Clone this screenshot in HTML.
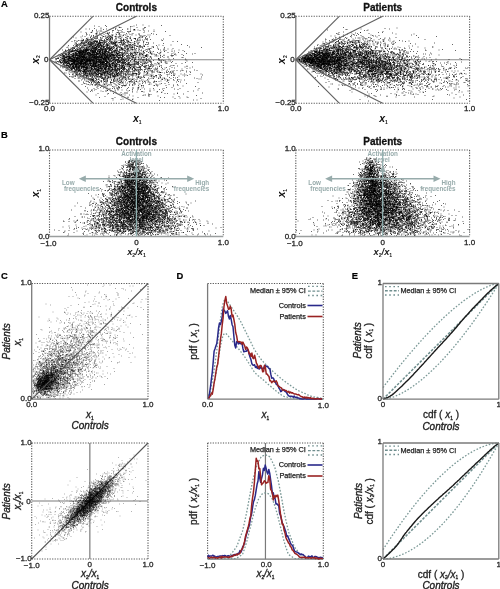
<!DOCTYPE html>
<html><head><meta charset="utf-8"><style>
html,body{margin:0;padding:0;background:#fff;}
svg{display:block;font-family:"Liberation Sans", sans-serif;}
body{-webkit-font-smoothing:antialiased;}
svg{will-change:transform;}
</style></head><body>
<svg width="500" height="589" viewBox="0 0 500 589">
<rect width="500" height="589" fill="#fff"/>
<line x1="136.4" y1="59.75" x2="223.3" y2="59.75" stroke="#8a8a8a" stroke-width="1.2"/>
<path d="M285 50h2m-99 2h2m107 0h2m-39 1h2m-24 2h2m-9 1h2m-32 2h2m82 0h2m-68 1h2m47 0h2m-36 1h2m33 0h2m15 0h2m-64 1h2m0 0h2m13 0h2m-51 1h2m3 0h2m37 0h2m16 1h2m1 0h2m0 0h2m-90 2h2m8 0h2m56 0h2m-49 1h2m63 0h2m-87 1h2m40 0h2m22 0h2m-41 1h2m75 0h2m28 0h2m-69 2h2m12 0h2m-10 1h2m92 0h2m-177 1h2m25 0h2m23 0h2m0 0h2m59 0h2m-26 1h2m35 0h2m-101 1h2m24 0h2m11 0h2m9 0h2m15 0h2m19 1h2m-67 1h2m12 0h2m5 0h2m0 0h2m1 0h2m8 0h2m4 0h2m-57 1h2m6 0h2m6 0h2m-1 0h2m32 0h2m11 0h2m-1 0h2m0 0h2m3 0h2m-114 1h2m50 0h2m-31 1h2m20 0h2m19 0h2m58 0h2m-125 1h2m3 0h2m68 0h2m3 0h2m27 0h2m17 0h2m-147 1h2m5 0h2m6 0h2m37 0h2m24 0h2m11 0h2m2 0h2m31 0h2m-104 1h2m1 0h2m-1 0h2m6 0h2m2 0h2m11 0h2m3 0h2m6 0h2m2 0h2m2 0h2m4 0h2m6 0h2m12 0h2m-2 0h2m30 0h2m-146 1h2m29 0h2m3 0h2m9 0h2m6 0h2m-2 0h2m13 0h2m139 0h2m-195 1h2m9 0h2m3 0h2m-2 0h2m9 0h2m2 0h2m0 0h2m11 0h2m-2 0h2m15 0h2m6 0h2m6 0h2m5 0h2m-87 1h2m8 0h2m6 0h2m3 0h2m8 0h2m2 0h2m2 0h2m4 0h2m15 0h2m2 0h2m5 0h2m-2 0h2m2 0h2m-2 0h2m17 0h2m15 0h2m-104 1h2m5 0h2m-1 0h2m2 0h2m9 0h2m25 0h2m-1 0h2m-1 0h2m4 0h2m10 0h2m7 0h2m-105 1h2m12 0h2m1 0h2m11 0h2m30 0h2m13 0h2m18 0h2m18 0h2m-1 0h2m4 0h2m-114 1h2m17 0h2m0 0h2m-1 0h2m1 0h2m6 0h2m-2 0h2m1 0h2m-1 0h2m22 0h2m4 0h2m42 0h2m10 0h2m-130 1h2m15 0h2m0 0h2m-1 0h2m13 0h2m11 0h2m31 0h2m0 0h2m6 0h2m6 0h2m-106 1h2m13 0h2m11 0h2m8 0h2m6 0h2m5 0h2m6 0h2m3 0h2m9 0h2m1 0h2m-1 0h2m28 0h2m2 0h2m47 0h2m22 0h2m-207 1h2m8 0h2m4 0h2m7 0h2m5 0h2m11 0h2m-1 0h2m5 0h2m6 0h2m-1 0h2m4 0h2m9 0h2m15 0h2m25 0h2m8 0h2m7 0h2m0 0h2m92 0h2m-198 1h2m1 0h2m23 0h2m4 0h2m16 0h2m18 0h2m3 0h2m18 0h2m-125 1h2m-1 0h2m23 0h2m13 0h2m3 0h2m14 0h2m37 0h2m4 0h2m24 0h2m-123 1h2m18 0h2m-1 0h2m1 0h2m12 0h2m21 0h2m37 0h2m112 0h2m-247 1h2m9 0h2m-1 0h2m18 0h2m23 0h2m3 0h2m10 0h2m3 0h2m-1 0h2m13 0h2m4 0h2m3 0h2m23 0h2m-107 1h2m16 0h2m7 0h2m13 0h2m15 0h2m6 0h2m-80 1h2m-2 0h2m29 0h2m6 0h2m0 0h2m1 0h2m17 0h2m10 0h2m7 0h2m10 0h2m9 0h2m20 0h2m-119 1h2m20 0h2m9 0h2m18 0h2m28 0h2m1 0h2m0 0h2m1 0h2m-114 1h2m9 0h2m3 0h2m13 0h2m0 0h2m0 0h2m-1 0h2m1 0h2m7 0h2m2 0h2m-1 0h2m4 0h2m10 0h2m3 0h2m1 0h2m4 0h2m-2 0h2m16 0h2m18 0h2m5 0h2m7 0h2m-143 1h2m5 0h2m0 0h2m21 0h2m-2 0h2m-1 0h2m29 0h2m1 0h2m11 0h2m4 0h2m9 0h2m84 0h2m21 0h2m-211 1h2m12 0h2m1 0h2m0 0h2m2 0h2m0 0h2m12 0h2m4 0h2m-1 0h2m1 0h2m2 0h2m2 0h2m3 0h2m29 0h2m-1 0h2m0 0h2m2 0h2m53 0h2m74 0h2m-222 1h2m29 0h2m6 0h2m3 0h2m3 0h2m1 0h2m0 0h2m-1 0h2m3 0h2m5 0h2m14 0h2m20 0h2m96 0h2m-223 1h2m2 0h2m9 0h2m-2 0h2m13 0h2m0 0h2m2 0h2m-2 0h2m-2 0h2m-2 0h2m1 0h2m0 0h2m2 0h2m16 0h2m3 0h2m0 0h2m13 0h2m14 0h2m5 0h2m69 0h2m20 0h2m-187 1h2m1 0h2m7 0h2m-1 0h2m1 0h2m-1 0h2m3 0h2m3 0h2m10 0h2m-1 0h2m1 0h2m6 0h2m-1 0h2m11 0h2m7 0h2m13 0h2m34 0h2m16 0h2m12 0h2m-165 1h2m11 0h2m-1 0h2m8 0h2m-1 0h2m3 0h2m1 0h2m0 0h2m2 0h2m-1 0h2m5 0h2m1 0h2m2 0h2m5 0h2m-2 0h2m-2 0h2m-1 0h2m3 0h2m-1 0h2m3 0h2m6 0h2m28 0h2m10 0h2m-105 1h2m-1 0h2m-1 0h2m-2 0h2m1 0h2m7 0h2m4 0h2m11 0h2m0 0h2m5 0h2m8 0h2m3 0h2m0 0h2m0 0h2m0 0h2m9 0h2m14 0h2m5 0h2m-134 1h2m2 0h2m10 0h2m6 0h2m1 0h2m0 0h2m5 0h2m-2 0h2m3 0h2m-2 0h2m14 0h2m-1 0h2m-2 0h2m10 0h2m-2 0h2m5 0h2m4 0h2m4 0h2m0 0h2m5 0h2m12 0h2m-2 0h2m0 0h2m5 0h2m8 0h2m30 0h2m56 0h2m44 0h2m-241 1h2m18 0h2m0 0h2m6 0h2m12 0h2m-1 0h2m-1 0h2m10 0h2m12 0h2m-1 0h2m18 0h2m25 0h2m6 0h2m23 0h2m-2 0h2m14 0h2m29 0h2m-227 1h2m4 0h2m10 0h2m6 0h2m2 0h2m4 0h2m1 0h2m3 0h2m4 0h2m-1 0h2m4 0h2m-2 0h2m-1 0h2m1 0h2m5 0h2m6 0h2m1 0h2m2 0h2m7 0h2m0 0h2m1 0h2m0 0h2m4 0h2m12 0h2m14 0h2m10 0h2m35 0h2m37 0h2m-230 1h2m9 0h2m-1 0h2m14 0h2m6 0h2m2 0h2m5 0h2m-1 0h2m5 0h2m1 0h2m0 0h2m43 0h2m0 0h2m4 0h2m57 0h2m48 0h2m-207 1h2m5 0h2m-1 0h2m6 0h2m22 0h2m0 0h2m-2 0h2m6 0h2m8 0h2m0 0h2m1 0h2m0 0h2m4 0h2m8 0h2m-1 0h2m1 0h2m-1 0h2m1 0h2m8 0h2m0 0h2m23 0h2m-1 0h2m24 0h2m17 0h2m53 0h2m-253 1h2m9 0h2m18 0h2m4 0h2m-1 0h2m4 0h2m1 0h2m1 0h2m1 0h2m9 0h2m9 0h2m6 0h2m-1 0h2m-2 0h2m2 0h2m9 0h2m3 0h2m23 0h2m98 0h2m-213 1h2m2 0h2m-1 0h2m2 0h2m0 0h2m4 0h2m6 0h2m-2 0h2m2 0h2m-1 0h2m8 0h2m-1 0h2m2 0h2m-1 0h2m7 0h2m4 0h2m0 0h2m-1 0h2m8 0h2m-1 0h2m2 0h2m20 0h2m8 0h2m9 0h2m-130 1h2m4 0h2m7 0h2m0 0h2m-1 0h2m7 0h2m-1 0h2m-1 0h2m6 0h2m1 0h2m-1 0h2m7 0h2m18 0h2m1 0h2m0 0h2m1 0h2m1 0h2m2 0h2m-1 0h2m-1 0h2m3 0h2m3 0h2m-2 0h2m-2 0h2m6 0h2m5 0h2m58 0h2m-181 1h2m8 0h2m0 0h2m-2 0h2m4 0h2m-1 0h2m5 0h2m-1 0h2m12 0h2m4 0h2m3 0h2m13 0h2m-1 0h2m1 0h2m2 0h2m4 0h2m6 0h2m1 0h2m0 0h2m25 0h2m0 0h2m10 0h2m13 0h2m55 0h2m34 0h2m0 0h2m-252 1h2m16 0h2m0 0h2m8 0h2m3 0h2m1 0h2m-1 0h2m-1 0h2m3 0h2m4 0h2m-1 0h2m3 0h2m4 0h2m2 0h2m-1 0h2m-1 0h2m-1 0h2m1 0h2m4 0h2m7 0h2m-2 0h2m0 0h2m-1 0h2m1 0h2m14 0h2m0 0h2m-2 0h2m25 0h2m11 0h2m-142 1h2m0 0h2m4 0h2m0 0h2m2 0h2m-1 0h2m-1 0h2m7 0h2m-1 0h2m0 0h2m0 0h2m-2 0h2m-1 0h2m1 0h2m0 0h2m12 0h2m8 0h2m3 0h2m4 0h2m1 0h2m1 0h2m3 0h2m0 0h2m0 0h2m1 0h2m4 0h2m20 0h2m31 0h2m23 0h2m12 0h2m-206 1h2m13 0h2m17 0h2m-1 0h2m3 0h2m2 0h2m2 0h2m-1 0h2m3 0h2m-1 0h2m1 0h2m0 0h2m-1 0h2m5 0h2m0 0h2m2 0h2m13 0h2m12 0h2m0 0h2m9 0h2m11 0h2m3 0h2m-1 0h2m2 0h2m-1 0h2m3 0h2m5 0h2m21 0h2m48 0h2m-219 1h2m6 0h2m-1 0h2m6 0h2m3 0h2m1 0h2m0 0h2m0 0h2m4 0h2m7 0h2m-1 0h2m2 0h2m4 0h2m14 0h2m2 0h2m1 0h2m1 0h2m3 0h2m5 0h2m14 0h2m1 0h2m-2 0h2m0 0h2m-1 0h2m-1 0h2m5 0h2m5 0h2m12 0h2m26 0h2m-176 1h2m3 0h2m9 0h2m8 0h2m0 0h2m7 0h2m0 0h2m1 0h2m12 0h2m-2 0h2m-1 0h2m-2 0h2m0 0h2m5 0h2m0 0h2m7 0h2m-1 0h2m0 0h2m0 0h2m0 0h2m4 0h2m-1 0h2m-1 0h2m4 0h2m5 0h2m15 0h2m26 0h2m1 0h2m98 0h2m-255 1h2m18 0h2m5 0h2m-1 0h2m0 0h2m0 0h2m-1 0h2m-1 0h2m1 0h2m6 0h2m4 0h2m2 0h2m1 0h2m-1 0h2m-1 0h2m-1 0h2m10 0h2m2 0h2m1 0h2m6 0h2m3 0h2m6 0h2m6 0h2m1 0h2m0 0h2m-2 0h2m4 0h2m1 0h2m5 0h2m5 0h2m-1 0h2m34 0h2m25 0h2m5 0h2m1 0h2m-210 1h2m15 0h2m2 0h2m5 0h2m-1 0h2m1 0h2m-1 0h2m4 0h2m2 0h2m-2 0h2m1 0h2m3 0h2m2 0h2m0 0h2m-1 0h2m5 0h2m-2 0h2m1 0h2m9 0h2m2 0h2m16 0h2m11 0h2m0 0h2m2 0h2m8 0h2m0 0h2m12 0h2m8 0h2m12 0h2m5 0h2m-2 0h2m22 0h2m49 0h2m-261 1h2m1 0h2m5 0h2m6 0h2m1 0h2m5 0h2m-2 0h2m0 0h2m-2 0h2m8 0h2m8 0h2m3 0h2m2 0h2m4 0h2m3 0h2m6 0h2m5 0h2m2 0h2m5 0h2m10 0h2m5 0h2m6 0h2m-1 0h2m31 0h2m3 0h2m5 0h2m-169 1h2m9 0h2m8 0h2m0 0h2m4 0h2m-1 0h2m-1 0h2m-2 0h2m7 0h2m-2 0h2m-1 0h2m0 0h2m9 0h2m6 0h2m1 0h2m5 0h2m2 0h2m6 0h2m-1 0h2m1 0h2m24 0h2m-2 0h2m15 0h2m6 0h2m2 0h2m9 0h2m15 0h2m1 0h2m38 0h2m-212 1h2m6 0h2m17 0h2m-2 0h2m2 0h2m2 0h2m0 0h2m-1 0h2m-1 0h2m1 0h2m4 0h2m-2 0h2m0 0h2m0 0h2m9 0h2m1 0h2m7 0h2m0 0h2m-1 0h2m2 0h2m0 0h2m2 0h2m5 0h2m19 0h2m-1 0h2m0 0h2m2 0h2m5 0h2m6 0h2m14 0h2m15 0h2m2 0h2m-165 1h2m0 0h2m-2 0h2m-1 0h2m6 0h2m2 0h2m13 0h2m15 0h2m0 0h2m2 0h2m3 0h2m0 0h2m-1 0h2m5 0h2m5 0h2m4 0h2m12 0h2m0 0h2m-1 0h2m7 0h2m2 0h2m1 0h2m7 0h2m12 0h2m-145 1h2m7 0h2m-2 0h2m-1 0h2m8 0h2m4 0h2m0 0h2m2 0h2m1 0h2m-2 0h2m-1 0h2m-2 0h2m5 0h2m-2 0h2m1 0h2m4 0h2m2 0h2m2 0h2m2 0h2m0 0h2m6 0h2m1 0h2m-2 0h2m5 0h2m5 0h2m-1 0h2m6 0h2m17 0h2m8 0h2m52 0h2m5 0h2m45 0h2m-225 1h2m2 0h2m12 0h2m-1 0h2m-1 0h2m3 0h2m2 0h2m-1 0h2m-2 0h2m1 0h2m5 0h2m4 0h2m-2 0h2m-2 0h2m0 0h2m10 0h2m-2 0h2m-1 0h2m0 0h2m0 0h2m-1 0h2m2 0h2m-2 0h2m1 0h2m6 0h2m1 0h2m6 0h2m22 0h2m0 0h2m-1 0h2m10 0h2m0 0h2m1 0h2m11 0h2m22 0h2m3 0h2m-194 1h2m11 0h2m-1 0h2m0 0h2m6 0h2m-1 0h2m-2 0h2m-1 0h2m2 0h2m9 0h2m3 0h2m1 0h2m24 0h2m0 0h2m-1 0h2m-1 0h2m10 0h2m10 0h2m23 0h2m6 0h2m11 0h2m26 0h2m-168 1h2m6 0h2m1 0h2m2 0h2m1 0h2m2 0h2m5 0h2m2 0h2m0 0h2m2 0h2m1 0h2m0 0h2m0 0h2m15 0h2m4 0h2m1 0h2m13 0h2m7 0h2m-1 0h2m1 0h2m17 0h2m3 0h2m4 0h2m14 0h2m26 0h2m-184 1h2m5 0h2m2 0h2m4 0h2m10 0h2m0 0h2m13 0h2m3 0h2m-2 0h2m3 0h2m3 0h2m1 0h2m1 0h2m14 0h2m0 0h2m3 0h2m3 0h2m-2 0h2m5 0h2m44 0h2m4 0h2m36 0h2m-192 1h2m8 0h2m6 0h2m-1 0h2m-1 0h2m13 0h2m16 0h2m5 0h2m4 0h2m-2 0h2m10 0h2m-2 0h2m8 0h2m-2 0h2m17 0h2m-2 0h2m3 0h2m6 0h2m1 0h2m8 0h2m24 0h2m13 0h2m-179 1h2m20 0h2m5 0h2m2 0h2m5 0h2m-2 0h2m1 0h2m13 0h2m-1 0h2m1 0h2m-2 0h2m12 0h2m7 0h2m-1 0h2m1 0h2m1 0h2m-1 0h2m7 0h2m-1 0h2m-1 0h2m9 0h2m0 0h2m31 0h2m8 0h2m10 0h2m-157 1h2m-1 0h2m6 0h2m1 0h2m8 0h2m4 0h2m7 0h2m4 0h2m-2 0h2m3 0h2m8 0h2m7 0h2m1 0h2m3 0h2m6 0h2m2 0h2m14 0h2m8 0h2m6 0h2m-2 0h2m21 0h2m7 0h2m4 0h2m8 0h2m-177 1h2m21 0h2m58 0h2m-1 0h2m-2 0h2m23 0h2m27 0h2m0 0h2m7 0h2m-148 1h2m1 0h2m-1 0h2m17 0h2m7 0h2m2 0h2m20 0h2m-2 0h2m6 0h2m-1 0h2m-1 0h2m6 0h2m5 0h2m4 0h2m14 0h2m10 0h2m-2 0h2m-1 0h2m28 0h2m37 0h2m-187 1h2m26 0h2m-1 0h2m6 0h2m-1 0h2m-2 0h2m7 0h2m7 0h2m-1 0h2m4 0h2m-1 0h2m5 0h2m17 0h2m6 0h2m4 0h2m0 0h2m50 0h2m10 0h2m-174 1h2m-2 0h2m8 0h2m0 0h2m2 0h2m6 0h2m6 0h2m0 0h2m11 0h2m2 0h2m8 0h2m5 0h2m12 0h2m-1 0h2m2 0h2m3 0h2m-1 0h2m19 0h2m11 0h2m9 0h2m28 0h2m0 0h2m24 0h2m23 0h2m-228 1h2m18 0h2m12 0h2m6 0h2m6 0h2m2 0h2m2 0h2m5 0h2m9 0h2m10 0h2m11 0h2m4 0h2m11 0h2m11 0h2m1 0h2m14 0h2m22 0h2m-183 1h2m0 0h2m21 0h2m-1 0h2m8 0h2m3 0h2m19 0h2m-1 0h2m-1 0h2m-1 0h2m7 0h2m15 0h2m2 0h2m2 0h2m5 0h2m148 0h2m-238 1h2m2 0h2m0 0h2m2 0h2m29 0h2m-1 0h2m-1 0h2m5 0h2m1 0h2m27 0h2m129 0h2m-220 1h2m0 0h2m8 0h2m8 0h2m-2 0h2m6 0h2m1 0h2m2 0h2m0 0h2m4 0h2m2 0h2m3 0h2m10 0h2m15 0h2m0 0h2m4 0h2m35 0h2m37 0h2m27 0h2m-190 1h2m2 0h2m-1 0h2m6 0h2m-1 0h2m2 0h2m0 0h2m-1 0h2m23 0h2m10 0h2m-1 0h2m5 0h2m3 0h2m21 0h2m-2 0h2m2 0h2m12 0h2m19 0h2m23 0h2m25 0h2m3 0h2m-188 1h2m5 0h2m0 0h2m35 0h2m5 0h2m1 0h2m15 0h2m11 0h2m13 0h2m2 0h2m-1 0h2m78 0h2m-166 1h2m0 0h2m2 0h2m21 0h2m6 0h2m25 0h2m29 0h2m1 0h2m8 0h2m24 0h2m2 0h2m-1 0h2m11 0h2m-169 1h2m4 0h2m4 0h2m21 0h2m4 0h2m42 0h2m3 0h2m20 0h2m48 0h2m-160 1h2m2 0h2m9 0h2m11 0h2m-2 0h2m6 0h2m9 0h2m0 0h2m13 0h2m6 0h2m26 0h2m21 0h2m47 0h2m-193 1h2m21 0h2m16 0h2m0 0h2m4 0h2m19 0h2m10 0h2m11 0h2m49 0h2m39 0h2m9 0h2m10 0h2m5 0h2m31 0h2m-265 1h2m14 0h2m22 0h2m5 0h2m16 0h2m-1 0h2m5 0h2m4 0h2m1 0h2m6 0h2m2 0h2m4 0h2m51 0h2m0 0h2m25 0h2m-172 1h2m30 0h2m22 0h2m24 0h2m1 0h2m-83 1h2m1 0h2m16 0h2m19 0h2m27 0h2m7 0h2m-1 0h2m14 0h2m89 0h2m-170 1h2m4 0h2m20 0h2m-2 0h2m25 0h2m0 0h2m0 0h2m10 0h2m121 0h2m-210 1h2m4 0h2m16 0h2m12 0h2m17 0h2m6 0h2m6 0h2m20 0h2m18 0h2m-1 0h2m-120 1h2m6 0h2m8 0h2m5 0h2m4 0h2m10 0h2m5 0h2m29 0h2m39 0h2m120 0h2m-215 1h2m2 0h2m5 0h2m7 0h2m5 0h2m1 0h2m26 0h2m6 0h2m19 0h2m-2 0h2m5 0h2m69 0h2m-191 1h2m44 0h2m3 0h2m28 0h2m30 0h2m39 0h2m7 0h2m20 0h2m-171 1h2m8 0h2m21 0h2m22 0h2m27 0h2m32 0h2m13 0h2m75 0h2m-231 1h2m2 0h2m1 0h2m3 0h2m28 0h2m36 0h2m5 0h2m-2 0h2m0 0h2m76 0h2m68 0h2m-177 1h2m29 0h2m95 0h2m-188 1h2m7 0h2m4 0h2m7 0h2m4 0h2m6 0h2m-1 0h2m2 0h2m1 0h2m25 0h2m4 0h2m33 0h2m1 0h2m81 0h2m-137 1h2m4 0h2m113 0h2m-156 1h2m8 0h2m15 0h2m13 0h2m16 0h2m6 0h2m19 0h2m5 0h2m23 0h2m-150 1h2m11 0h2m20 0h2m-2 0h2m48 0h2m0 0h2m1 0h2m7 0h2m10 0h2m26 0h2m-103 1h2m7 0h2m42 0h2m86 0h2m-176 1h2m17 0h2m-1 0h2m22 0h2m-1 0h2m19 0h2m90 0h2m-152 1h2m4 0h2m19 0h2m28 0h2m9 0h2m-85 1h2m54 0h2m55 0h2m-65 1h2m13 0h2m73 0h2m-150 1h2m24 0h2m17 0h2m7 0h2m12 0h2m-49 1h2m4 0h2m66 0h2m52 0h2m-1 0h2m0 0h2m-67 1h2m12 0h2m89 0h2m-113 1h2m-76 1h2m23 0h2m5 0h2m20 0h2m10 0h2m-11 1h2m9 1h2m35 0h2m-103 1h2m30 0h2m24 0h2m30 0h2m-79 1h2m6 0h2m27 0h2m2 0h2m45 0h2m29 0h2m-94 4h2m-15 1h2m7 0h2m0 0h2m6 0h2m76 0h2m0 0h2m84 0h2m-183 1h2m107 0h2m-43 1h2m-27 2h2m0 0h2m-7 2h2m-5 1h2m52 1h2m94 1h2m-129 1h2m-69 3h2m55 0h2m18 0h2m-54 2h2m124 0h2m-33 4h2" stroke="#000" stroke-opacity="0.6" stroke-width="2" transform="scale(.5)"/>
<path d="M272 50h2m-64 1h2m110 0h2m-87 3h2m0 1h2m-53 2h2m-19 1h2m33 1h2m59 0h2m-77 1h2m66 0h2m5 0h2m38 0h2m-125 1h2m110 1h2m9 1h2m-126 1h2m9 0h2m60 0h2m-76 1h2m34 0h2m14 0h2m-21 1h2m-6 1h2m4 0h2m83 0h2m-113 1h2m-1 0h2m69 0h2m13 0h2m-73 1h2m7 0h2m41 0h2m51 0h2m-136 1h2m44 0h2m12 0h2m1 0h2m56 0h2m-106 1h2m-15 1h2m47 0h2m-64 1h2m38 0h2m4 0h2m12 0h2m53 0h2m-140 1h2m87 0h2m-37 1h2m11 0h2m7 0h2m53 0h2m11 0h2m-150 1h2m46 0h2m9 0h2m7 0h2m0 0h2m-42 1h2m20 0h2m20 0h2m6 0h2m34 0h2m-71 1h2m7 0h2m18 0h2m-1 0h2m9 0h2m-59 1h2m6 0h2m16 0h2m46 0h2m0 0h2m17 0h2m2 0h2m16 0h2m6 0h2m-120 1h2m-1 0h2m17 0h2m10 0h2m25 0h2m18 0h2m16 0h2m-122 1h2m10 0h2m1 0h2m22 0h2m4 0h2m2 0h2m7 0h2m0 0h2m16 0h2m13 0h2m70 0h2m-162 1h2m5 0h2m16 0h2m-1 0h2m-3 1h2m1 0h2m-1 0h2m53 0h2m-88 1h2m0 0h2m17 0h2m-1 0h2m21 0h2m19 0h2m0 0h2m1 0h2m18 0h2m-84 1h2m3 0h2m4 0h2m8 0h2m4 0h2m1 0h2m2 0h2m15 0h2m26 0h2m7 0h2m31 0h2m1 0h2m-122 1h2m16 0h2m13 0h2m13 0h2m12 0h2m10 0h2m55 0h2m-149 1h2m1 0h2m21 0h2m4 0h2m2 0h2m1 0h2m18 0h2m6 0h2m-67 1h2m5 0h2m10 0h2m-2 0h2m-1 0h2m0 0h2m5 0h2m9 0h2m3 0h2m5 0h2m0 0h2m0 0h2m3 0h2m3 0h2m-1 0h2m14 0h2m50 0h2m-149 1h2m45 0h2m5 0h2m2 0h2m3 0h2m11 0h2m3 0h2m15 0h2m16 0h2m24 0h2m1 0h2m-126 1h2m0 0h2m2 0h2m23 0h2m4 0h2m42 0h2m-102 1h2m7 0h2m28 0h2m1 0h2m0 0h2m3 0h2m-1 0h2m11 0h2m14 0h2m12 0h2m7 0h2m-1 0h2m31 0h2m23 0h2m11 0h2m-169 1h2m12 0h2m12 0h2m0 0h2m1 0h2m10 0h2m8 0h2m18 0h2m18 0h2m2 0h2m1 0h2m25 0h2m-126 1h2m12 0h2m15 0h2m6 0h2m0 0h2m1 0h2m0 0h2m24 0h2m51 0h2m5 0h2m-139 1h2m8 0h2m11 0h2m4 0h2m0 0h2m1 0h2m1 0h2m0 0h2m-1 0h2m18 0h2m1 0h2m-1 0h2m3 0h2m25 0h2m23 0h2m-1 0h2m-1 0h2m0 0h2m21 0h2m6 0h2m-149 1h2m3 0h2m16 0h2m0 0h2m12 0h2m98 0h2m20 0h2m-189 1h2m3 0h2m-2 0h2m31 0h2m4 0h2m0 0h2m15 0h2m11 0h2m4 0h2m8 0h2m7 0h2m-2 0h2m4 0h2m11 0h2m-105 1h2m0 0h2m3 0h2m17 0h2m0 0h2m1 0h2m-1 0h2m0 0h2m7 0h2m-2 0h2m2 0h2m3 0h2m1 0h2m5 0h2m-1 0h2m-1 0h2m18 0h2m41 0h2m14 0h2m42 0h2m-194 1h2m8 0h2m8 0h2m-1 0h2m-1 0h2m-1 0h2m5 0h2m3 0h2m5 0h2m3 0h2m-2 0h2m0 0h2m7 0h2m2 0h2m1 0h2m11 0h2m-1 0h2m0 0h2m9 0h2m-88 1h2m5 0h2m3 0h2m4 0h2m3 0h2m5 0h2m0 0h2m4 0h2m-1 0h2m7 0h2m3 0h2m7 0h2m21 0h2m19 0h2m24 0h2m0 0h2m2 0h2m-160 1h2m12 0h2m15 0h2m-1 0h2m-2 0h2m1 0h2m1 0h2m2 0h2m23 0h2m23 0h2m20 0h2m0 0h2m2 0h2m3 0h2m1 0h2m13 0h2m73 0h2m-229 1h2m7 0h2m17 0h2m0 0h2m0 0h2m6 0h2m-1 0h2m-1 0h2m10 0h2m-1 0h2m-1 0h2m1 0h2m0 0h2m4 0h2m33 0h2m7 0h2m5 0h2m-112 1h2m3 0h2m3 0h2m13 0h2m3 0h2m0 0h2m15 0h2m0 0h2m3 0h2m3 0h2m-1 0h2m-2 0h2m5 0h2m0 0h2m0 0h2m-1 0h2m18 0h2m10 0h2m4 0h2m46 0h2m0 0h2m26 0h2m-179 1h2m0 0h2m-2 0h2m0 0h2m0 0h2m-1 0h2m6 0h2m-2 0h2m4 0h2m6 0h2m2 0h2m2 0h2m10 0h2m2 0h2m5 0h2m-2 0h2m1 0h2m9 0h2m2 0h2m5 0h2m16 0h2m30 0h2m4 0h2m74 0h2m-230 1h2m13 0h2m2 0h2m-2 0h2m-1 0h2m-1 0h2m3 0h2m-2 0h2m13 0h2m0 0h2m0 0h2m3 0h2m24 0h2m65 0h2m-149 1h2m3 0h2m8 0h2m3 0h2m0 0h2m2 0h2m1 0h2m-1 0h2m8 0h2m8 0h2m-1 0h2m0 0h2m6 0h2m-2 0h2m11 0h2m4 0h2m21 0h2m10 0h2m15 0h2m3 0h2m39 0h2m4 0h2m34 0h2m-224 1h2m33 0h2m12 0h2m2 0h2m-1 0h2m3 0h2m6 0h2m2 0h2m4 0h2m0 0h2m13 0h2m8 0h2m9 0h2m18 0h2m-1 0h2m1 0h2m44 0h2m-170 1h2m-2 0h2m1 0h2m1 0h2m3 0h2m3 0h2m5 0h2m-1 0h2m6 0h2m9 0h2m0 0h2m1 0h2m7 0h2m37 0h2m13 0h2m3 0h2m10 0h2m1 0h2m33 0h2m-182 1h2m2 0h2m1 0h2m-1 0h2m3 0h2m0 0h2m11 0h2m3 0h2m12 0h2m0 0h2m-1 0h2m3 0h2m10 0h2m0 0h2m0 0h2m-2 0h2m35 0h2m-2 0h2m0 0h2m1 0h2m8 0h2m17 0h2m0 0h2m-166 1h2m14 0h2m11 0h2m5 0h2m-2 0h2m3 0h2m3 0h2m-2 0h2m-1 0h2m1 0h2m9 0h2m0 0h2m2 0h2m-2 0h2m3 0h2m-1 0h2m-1 0h2m-1 0h2m5 0h2m-1 0h2m6 0h2m0 0h2m2 0h2m1 0h2m6 0h2m6 0h2m21 0h2m23 0h2m80 0h2m-242 1h2m16 0h2m-1 0h2m6 0h2m0 0h2m0 0h2m4 0h2m-1 0h2m2 0h2m24 0h2m-2 0h2m4 0h2m6 0h2m-1 0h2m-1 0h2m3 0h2m11 0h2m-2 0h2m8 0h2m-2 0h2m5 0h2m5 0h2m9 0h2m7 0h2m2 0h2m9 0h2m6 0h2m33 0h2m-202 1h2m8 0h2m6 0h2m-1 0h2m5 0h2m-1 0h2m2 0h2m-1 0h2m4 0h2m16 0h2m1 0h2m22 0h2m-2 0h2m1 0h2m-1 0h2m3 0h2m0 0h2m12 0h2m8 0h2m6 0h2m11 0h2m-1 0h2m58 0h2m12 0h2m2 0h2m-229 1h2m5 0h2m1 0h2m13 0h2m2 0h2m1 0h2m5 0h2m-1 0h2m1 0h2m-1 0h2m-1 0h2m1 0h2m-1 0h2m16 0h2m0 0h2m-1 0h2m2 0h2m-1 0h2m3 0h2m0 0h2m7 0h2m0 0h2m-1 0h2m6 0h2m41 0h2m1 0h2m52 0h2m-197 1h2m1 0h2m3 0h2m1 0h2m1 0h2m17 0h2m0 0h2m0 0h2m1 0h2m16 0h2m0 0h2m0 0h2m3 0h2m3 0h2m-1 0h2m3 0h2m0 0h2m5 0h2m-2 0h2m6 0h2m-2 0h2m4 0h2m5 0h2m24 0h2m31 0h2m-2 0h2m-155 1h2m-1 0h2m-1 0h2m13 0h2m7 0h2m1 0h2m1 0h2m4 0h2m2 0h2m-1 0h2m0 0h2m-2 0h2m16 0h2m-2 0h2m0 0h2m21 0h2m10 0h2m-1 0h2m30 0h2m1 0h2m17 0h2m-170 1h2m1 0h2m4 0h2m4 0h2m3 0h2m2 0h2m2 0h2m-1 0h2m4 0h2m1 0h2m-2 0h2m-1 0h2m-2 0h2m0 0h2m-1 0h2m2 0h2m5 0h2m-2 0h2m7 0h2m2 0h2m4 0h2m-1 0h2m-1 0h2m6 0h2m-1 0h2m1 0h2m-1 0h2m19 0h2m-1 0h2m11 0h2m16 0h2m8 0h2m8 0h2m13 0h2m32 0h2m-222 1h2m21 0h2m7 0h2m4 0h2m6 0h2m8 0h2m1 0h2m5 0h2m-2 0h2m5 0h2m-2 0h2m1 0h2m1 0h2m0 0h2m2 0h2m5 0h2m-1 0h2m0 0h2m7 0h2m-2 0h2m17 0h2m13 0h2m3 0h2m3 0h2m-154 1h2m1 0h2m12 0h2m10 0h2m10 0h2m0 0h2m14 0h2m2 0h2m0 0h2m3 0h2m13 0h2m8 0h2m0 0h2m6 0h2m3 0h2m-1 0h2m-1 0h2m11 0h2m5 0h2m4 0h2m95 0h2m-227 1h2m2 0h2m7 0h2m-1 0h2m5 0h2m5 0h2m0 0h2m0 0h2m0 0h2m2 0h2m1 0h2m16 0h2m24 0h2m1 0h2m16 0h2m8 0h2m10 0h2m30 0h2m34 0h2m-191 1h2m3 0h2m10 0h2m1 0h2m9 0h2m3 0h2m-1 0h2m-1 0h2m-1 0h2m-1 0h2m-1 0h2m1 0h2m3 0h2m5 0h2m8 0h2m3 0h2m-1 0h2m4 0h2m-1 0h2m1 0h2m5 0h2m14 0h2m11 0h2m-2 0h2m8 0h2m12 0h2m15 0h2m-167 1h2m1 0h2m0 0h2m0 0h2m4 0h2m6 0h2m7 0h2m1 0h2m1 0h2m-2 0h2m0 0h2m1 0h2m4 0h2m3 0h2m0 0h2m0 0h2m3 0h2m-2 0h2m-1 0h2m0 0h2m0 0h2m6 0h2m0 0h2m16 0h2m24 0h2m-1 0h2m2 0h2m46 0h2m-2 0h2m-171 1h2m2 0h2m1 0h2m4 0h2m-2 0h2m-1 0h2m-1 0h2m5 0h2m-1 0h2m9 0h2m2 0h2m0 0h2m0 0h2m7 0h2m0 0h2m-1 0h2m-1 0h2m2 0h2m-2 0h2m-2 0h2m1 0h2m2 0h2m15 0h2m-1 0h2m0 0h2m4 0h2m4 0h2m-1 0h2m14 0h2m4 0h2m-1 0h2m10 0h2m6 0h2m15 0h2m5 0h2m23 0h2m-191 1h2m-2 0h2m1 0h2m17 0h2m3 0h2m5 0h2m-2 0h2m-2 0h2m0 0h2m6 0h2m-2 0h2m14 0h2m12 0h2m4 0h2m0 0h2m0 0h2m0 0h2m3 0h2m1 0h2m14 0h2m3 0h2m10 0h2m43 0h2m19 0h2m14 0h2m-224 1h2m2 0h2m-1 0h2m25 0h2m-2 0h2m2 0h2m-1 0h2m-2 0h2m0 0h2m-1 0h2m2 0h2m1 0h2m0 0h2m5 0h2m-1 0h2m0 0h2m3 0h2m-1 0h2m11 0h2m0 0h2m-1 0h2m1 0h2m0 0h2m9 0h2m9 0h2m2 0h2m4 0h2m3 0h2m0 0h2m4 0h2m25 0h2m-166 1h2m37 0h2m-2 0h2m2 0h2m20 0h2m-2 0h2m3 0h2m-1 0h2m-1 0h2m4 0h2m-1 0h2m6 0h2m-1 0h2m4 0h2m-2 0h2m3 0h2m2 0h2m5 0h2m23 0h2m-2 0h2m-1 0h2m33 0h2m12 0h2m5 0h2m28 0h2m-221 1h2m10 0h2m-1 0h2m19 0h2m7 0h2m14 0h2m19 0h2m8 0h2m-1 0h2m2 0h2m17 0h2m7 0h2m10 0h2m1 0h2m5 0h2m16 0h2m-1 0h2m23 0h2m19 0h2m46 0h2m12 0h2m-266 1h2m0 0h2m3 0h2m0 0h2m-1 0h2m0 0h2m3 0h2m-2 0h2m5 0h2m0 0h2m5 0h2m0 0h2m4 0h2m6 0h2m0 0h2m-2 0h2m1 0h2m2 0h2m0 0h2m6 0h2m-1 0h2m3 0h2m4 0h2m10 0h2m0 0h2m2 0h2m-1 0h2m20 0h2m3 0h2m0 0h2m0 0h2m3 0h2m11 0h2m18 0h2m3 0h2m-161 1h2m1 0h2m5 0h2m2 0h2m-1 0h2m3 0h2m1 0h2m-1 0h2m4 0h2m-1 0h2m-1 0h2m2 0h2m11 0h2m1 0h2m2 0h2m11 0h2m4 0h2m-1 0h2m0 0h2m3 0h2m14 0h2m12 0h2m20 0h2m21 0h2m57 0h2m-211 1h2m5 0h2m1 0h2m1 0h2m-2 0h2m5 0h2m0 0h2m3 0h2m4 0h2m2 0h2m-1 0h2m4 0h2m2 0h2m5 0h2m6 0h2m0 0h2m3 0h2m12 0h2m0 0h2m12 0h2m7 0h2m22 0h2m8 0h2m29 0h2m-177 1h2m6 0h2m6 0h2m1 0h2m0 0h2m1 0h2m-1 0h2m13 0h2m14 0h2m4 0h2m4 0h2m1 0h2m3 0h2m-1 0h2m25 0h2m0 0h2m10 0h2m10 0h2m2 0h2m23 0h2m-174 1h2m11 0h2m-1 0h2m2 0h2m13 0h2m-1 0h2m15 0h2m2 0h2m1 0h2m-1 0h2m2 0h2m3 0h2m-1 0h2m1 0h2m0 0h2m14 0h2m33 0h2m6 0h2m5 0h2m-1 0h2m25 0h2m9 0h2m-177 1h2m1 0h2m2 0h2m9 0h2m0 0h2m13 0h2m8 0h2m1 0h2m2 0h2m1 0h2m2 0h2m1 0h2m1 0h2m2 0h2m7 0h2m13 0h2m3 0h2m7 0h2m3 0h2m0 0h2m11 0h2m-1 0h2m27 0h2m4 0h2m4 0h2m38 0h2m-212 1h2m3 0h2m13 0h2m-2 0h2m1 0h2m1 0h2m2 0h2m15 0h2m11 0h2m1 0h2m2 0h2m4 0h2m-1 0h2m1 0h2m1 0h2m4 0h2m7 0h2m11 0h2m-1 0h2m2 0h2m7 0h2m48 0h2m13 0h2m53 0h2m-249 1h2m8 0h2m1 0h2m3 0h2m0 0h2m1 0h2m6 0h2m-2 0h2m3 0h2m0 0h2m0 0h2m-2 0h2m9 0h2m5 0h2m1 0h2m8 0h2m2 0h2m3 0h2m4 0h2m4 0h2m0 0h2m6 0h2m7 0h2m47 0h2m30 0h2m-200 1h2m2 0h2m1 0h2m18 0h2m-1 0h2m11 0h2m7 0h2m-1 0h2m-1 0h2m5 0h2m7 0h2m-1 0h2m4 0h2m0 0h2m0 0h2m0 0h2m4 0h2m36 0h2m1 0h2m30 0h2m102 0h2m-249 1h2m-1 0h2m4 0h2m-1 0h2m2 0h2m-1 0h2m18 0h2m-2 0h2m3 0h2m19 0h2m43 0h2m5 0h2m10 0h2m11 0h2m0 0h2m2 0h2m-145 1h2m8 0h2m-1 0h2m3 0h2m8 0h2m3 0h2m2 0h2m-1 0h2m0 0h2m6 0h2m12 0h2m43 0h2m3 0h2m19 0h2m0 0h2m25 0h2m-121 1h2m6 0h2m1 0h2m7 0h2m4 0h2m11 0h2m11 0h2m4 0h2m5 0h2m-2 0h2m2 0h2m49 0h2m25 0h2m-192 1h2m27 0h2m7 0h2m-2 0h2m-1 0h2m8 0h2m8 0h2m9 0h2m3 0h2m-1 0h2m-1 0h2m11 0h2m2 0h2m4 0h2m11 0h2m12 0h2m7 0h2m19 0h2m1 0h2m-145 1h2m12 0h2m1 0h2m12 0h2m17 0h2m13 0h2m1 0h2m2 0h2m-1 0h2m1 0h2m0 0h2m7 0h2m5 0h2m0 0h2m6 0h2m20 0h2m-2 0h2m2 0h2m-130 1h2m13 0h2m16 0h2m4 0h2m1 0h2m1 0h2m1 0h2m4 0h2m14 0h2m8 0h2m2 0h2m-1 0h2m5 0h2m11 0h2m4 0h2m7 0h2m13 0h2m18 0h2m13 0h2m9 0h2m-186 1h2m3 0h2m0 0h2m-2 0h2m1 0h2m-1 0h2m5 0h2m4 0h2m2 0h2m-1 0h2m-1 0h2m-1 0h2m16 0h2m5 0h2m7 0h2m-1 0h2m1 0h2m2 0h2m5 0h2m5 0h2m3 0h2m10 0h2m10 0h2m125 0h2m-258 1h2m15 0h2m8 0h2m7 0h2m1 0h2m-1 0h2m17 0h2m3 0h2m7 0h2m-2 0h2m2 0h2m7 0h2m-2 0h2m27 0h2m14 0h2m3 0h2m22 0h2m33 0h2m-186 1h2m16 0h2m1 0h2m0 0h2m0 0h2m4 0h2m-1 0h2m6 0h2m-1 0h2m16 0h2m2 0h2m20 0h2m3 0h2m13 0h2m1 0h2m5 0h2m12 0h2m13 0h2m9 0h2m74 0h2m-197 1h2m18 0h2m2 0h2m-1 0h2m1 0h2m4 0h2m0 0h2m1 0h2m4 0h2m11 0h2m74 0h2m12 0h2m-193 1h2m11 0h2m17 0h2m2 0h2m47 0h2m4 0h2m7 0h2m90 0h2m4 0h2m-210 1h2m54 0h2m0 0h2m-1 0h2m5 0h2m10 0h2m-1 0h2m12 0h2m50 0h2m-120 1h2m5 0h2m0 0h2m0 0h2m7 0h2m2 0h2m0 0h2m3 0h2m12 0h2m3 0h2m13 0h2m-1 0h2m-1 0h2m0 0h2m4 0h2m4 0h2m4 0h2m7 0h2m13 0h2m1 0h2m20 0h2m-150 1h2m19 0h2m2 0h2m7 0h2m13 0h2m4 0h2m32 0h2m12 0h2m15 0h2m7 0h2m1 0h2m7 0h2m58 0h2m-197 1h2m6 0h2m5 0h2m0 0h2m-2 0h2m24 0h2m5 0h2m-1 0h2m12 0h2m14 0h2m22 0h2m4 0h2m7 0h2m27 0h2m32 0h2m-166 1h2m12 0h2m-2 0h2m17 0h2m8 0h2m4 0h2m15 0h2m-1 0h2m0 0h2m4 0h2m14 0h2m0 0h2m10 0h2m126 0h2m-241 1h2m-1 0h2m6 0h2m5 0h2m2 0h2m4 0h2m10 0h2m3 0h2m15 0h2m0 0h2m5 0h2m15 0h2m95 0h2m-203 1h2m14 0h2m0 0h2m1 0h2m1 0h2m-1 0h2m15 0h2m25 0h2m9 0h2m-1 0h2m0 0h2m-2 0h2m4 0h2m2 0h2m0 0h2m-2 0h2m13 0h2m40 0h2m1 0h2m-166 1h2m1 0h2m2 0h2m32 0h2m12 0h2m16 0h2m45 0h2m48 0h2m-148 1h2m12 0h2m47 0h2m18 0h2m4 0h2m11 0h2m16 0h2m19 0h2m7 0h2m6 0h2m-177 1h2m24 0h2m0 0h2m30 0h2m13 0h2m7 0h2m19 0h2m35 0h2m-1 0h2m17 0h2m-112 1h2m6 0h2m14 0h2m5 0h2m3 0h2m9 0h2m3 0h2m-92 1h2m14 0h2m31 0h2m3 0h2m126 0h2m-166 1h2m-1 0h2m26 0h2m11 0h2m8 0h2m2 0h2m62 0h2m-116 1h2m-2 0h2m7 0h2m1 0h2m-1 0h2m43 0h2m114 0h2m-175 1h2m-1 0h2m-1 0h2m173 0h2m-179 1h2m16 0h2m22 0h2m-71 1h2m29 0h2m3 0h2m11 0h2m22 0h2m11 0h2m27 0h2m-98 1h2m18 0h2m4 0h2m23 0h2m79 0h2m7 0h2m37 0h2m-147 1h2m7 0h2m28 0h2m6 0h2m30 0h2m68 0h2m-185 1h2m3 0h2m12 0h2m22 0h2m16 0h2m0 0h2m43 0h2m108 0h2m-203 1h2m47 0h2m22 0h2m-2 1h2m53 0h2m5 0h2m-149 1h2m13 0h2m12 0h2m33 0h2m3 0h2m24 0h2m0 0h2m-90 1h2m-1 0h2m70 0h2m3 0h2m-77 1h2m23 0h2m37 0h2m7 0h2m-55 1h2m17 0h2m8 0h2m41 0h2m19 0h2m-1 0h2m-61 1h2m-14 2h2m47 0h2m-88 1h2m33 0h2m160 2h2m-123 1h2m10 0h2m34 0h2m22 0h2m-159 1h2m42 0h2m118 0h2m-128 1h2m21 0h2m53 0h2m-129 3h2m82 1h2m21 0h2m24 0h2m-74 1h2m111 1h2m-161 1h2m42 1h2m106 0h2m-48 1h2m-112 1h2m56 0h2m7 0h2m27 0h2m9 2h2m-91 1h2m32 1h2m100 0h2m-19 1h2m45 0h2m-112 3h2" stroke="#000" stroke-opacity="0.6" stroke-width="2" transform="scale(.5)"/>
<path d="M263 53h2m-24 2h2m45 0h2m0 0h2m-5 2h2m-59 1h2m22 0h2m12 1h2m-3 1h2m10 1h2m-97 1h2m16 0h2m84 0h2m-30 1h2m-26 2h2m49 0h2m-91 1h2m14 0h2m-25 1h2m44 0h2m-24 1h2m15 1h2m13 0h2m-77 1h2m27 0h2m22 0h2m23 0h2m26 0h2m15 0h2m-111 1h2m58 0h2m-66 1h2m2 0h2m22 0h2m1 0h2m2 0h2m61 0h2m0 0h2m1 0h2m-81 1h2m13 0h2m32 0h2m-96 1h2m23 0h2m6 0h2m-2 0h2m40 0h2m60 0h2m-120 1h2m36 0h2m1 0h2m55 0h2m-56 1h2m34 0h2m-74 1h2m50 0h2m28 0h2m21 0h2m-74 1h2m23 0h2m-75 1h2m2 0h2m3 0h2m29 0h2m-1 0h2m8 0h2m-42 1h2m56 0h2m40 0h2m-120 1h2m34 0h2m5 0h2m-25 1h2m10 0h2m5 0h2m13 0h2m23 0h2m8 0h2m17 0h2m-123 1h2m38 0h2m-1 0h2m46 0h2m12 0h2m-1 0h2m9 0h2m-89 1h2m4 0h2m0 0h2m9 0h2m1 0h2m4 0h2m0 0h2m8 0h2m30 0h2m0 0h2m-89 1h2m-1 0h2m29 0h2m1 0h2m6 0h2m3 0h2m13 0h2m5 0h2m2 0h2m19 0h2m8 0h2m11 0h2m-139 1h2m19 0h2m8 0h2m1 0h2m3 0h2m5 0h2m6 0h2m-2 0h2m62 0h2m-1 0h2m26 0h2m-138 1h2m0 0h2m2 0h2m8 0h2m0 0h2m17 0h2m-2 0h2m6 0h2m119 0h2m-176 1h2m2 0h2m15 0h2m9 0h2m10 0h2m1 0h2m12 0h2m10 0h2m1 0h2m0 0h2m14 0h2m-2 0h2m13 0h2m13 0h2m-96 1h2m60 0h2m14 0h2m28 0h2m-122 1h2m7 0h2m6 0h2m5 0h2m-2 0h2m14 0h2m20 0h2m12 0h2m-96 1h2m-1 0h2m10 0h2m1 0h2m11 0h2m12 0h2m5 0h2m11 0h2m50 0h2m2 0h2m-122 1h2m25 0h2m0 0h2m2 0h2m15 0h2m-1 0h2m6 0h2m0 0h2m13 0h2m3 0h2m-2 0h2m-80 1h2m9 0h2m12 0h2m3 0h2m6 0h2m12 0h2m0 0h2m16 0h2m44 0h2m0 0h2m5 0h2m5 0h2m-124 1h2m13 0h2m1 0h2m6 0h2m7 0h2m2 0h2m6 0h2m6 0h2m13 0h2m0 0h2m-1 0h2m-2 0h2m21 0h2m4 0h2m33 0h2m-150 1h2m6 0h2m10 0h2m13 0h2m-1 0h2m13 0h2m15 0h2m-2 0h2m24 0h2m0 0h2m11 0h2m11 0h2m-131 1h2m12 0h2m8 0h2m8 0h2m1 0h2m1 0h2m12 0h2m3 0h2m5 0h2m2 0h2m12 0h2m8 0h2m11 0h2m0 0h2m-116 1h2m0 0h2m6 0h2m13 0h2m-1 0h2m0 0h2m-1 0h2m-1 0h2m6 0h2m11 0h2m9 0h2m2 0h2m4 0h2m2 0h2m0 0h2m9 0h2m8 0h2m10 0h2m16 0h2m25 0h2m14 0h2m-181 1h2m64 0h2m5 0h2m3 0h2m4 0h2m11 0h2m8 0h2m26 0h2m55 0h2m-175 1h2m-2 0h2m20 0h2m13 0h2m1 0h2m1 0h2m1 0h2m1 0h2m-1 0h2m-1 0h2m3 0h2m25 0h2m-1 0h2m23 0h2m32 0h2m16 0h2m-194 1h2m4 0h2m18 0h2m-1 0h2m1 0h2m6 0h2m1 0h2m0 0h2m-1 0h2m2 0h2m-1 0h2m0 0h2m3 0h2m-1 0h2m20 0h2m-1 0h2m39 0h2m6 0h2m14 0h2m-127 1h2m4 0h2m9 0h2m10 0h2m1 0h2m2 0h2m0 0h2m16 0h2m2 0h2m3 0h2m6 0h2m-1 0h2m1 0h2m7 0h2m7 0h2m14 0h2m24 0h2m-141 1h2m-2 0h2m15 0h2m3 0h2m2 0h2m3 0h2m0 0h2m7 0h2m4 0h2m-2 0h2m7 0h2m1 0h2m1 0h2m9 0h2m4 0h2m-1 0h2m5 0h2m5 0h2m-1 0h2m8 0h2m7 0h2m4 0h2m12 0h2m15 0h2m-156 1h2m2 0h2m-2 0h2m-1 0h2m7 0h2m-1 0h2m7 0h2m4 0h2m-1 0h2m-2 0h2m13 0h2m2 0h2m2 0h2m-2 0h2m3 0h2m6 0h2m-1 0h2m15 0h2m116 0h2m-196 1h2m9 0h2m13 0h2m7 0h2m-2 0h2m0 0h2m19 0h2m2 0h2m0 0h2m14 0h2m24 0h2m10 0h2m17 0h2m-162 1h2m9 0h2m12 0h2m8 0h2m4 0h2m-1 0h2m5 0h2m1 0h2m19 0h2m2 0h2m-1 0h2m4 0h2m9 0h2m0 0h2m-1 0h2m2 0h2m10 0h2m2 0h2m28 0h2m20 0h2m2 0h2m-164 1h2m18 0h2m-2 0h2m4 0h2m1 0h2m2 0h2m2 0h2m-2 0h2m2 0h2m2 0h2m4 0h2m0 0h2m12 0h2m24 0h2m37 0h2m28 0h2m45 0h2m-221 1h2m1 0h2m13 0h2m5 0h2m2 0h2m-1 0h2m0 0h2m1 0h2m-1 0h2m8 0h2m-1 0h2m1 0h2m-2 0h2m-1 0h2m4 0h2m7 0h2m-2 0h2m1 0h2m5 0h2m15 0h2m9 0h2m-1 0h2m24 0h2m40 0h2m69 0h2m-238 1h2m-2 0h2m7 0h2m2 0h2m2 0h2m13 0h2m-1 0h2m0 0h2m-1 0h2m3 0h2m2 0h2m1 0h2m-1 0h2m-1 0h2m0 0h2m7 0h2m6 0h2m26 0h2m-2 0h2m149 0h2m-256 1h2m27 0h2m4 0h2m0 0h2m10 0h2m2 0h2m3 0h2m5 0h2m2 0h2m1 0h2m4 0h2m-2 0h2m1 0h2m0 0h2m9 0h2m8 0h2m2 0h2m0 0h2m42 0h2m7 0h2m-168 1h2m4 0h2m1 0h2m0 0h2m19 0h2m0 0h2m-1 0h2m5 0h2m-2 0h2m-2 0h2m-2 0h2m2 0h2m0 0h2m-1 0h2m3 0h2m0 0h2m2 0h2m2 0h2m9 0h2m-1 0h2m-1 0h2m1 0h2m8 0h2m0 0h2m1 0h2m5 0h2m38 0h2m15 0h2m5 0h2m-168 1h2m17 0h2m2 0h2m1 0h2m11 0h2m10 0h2m2 0h2m-1 0h2m1 0h2m4 0h2m3 0h2m11 0h2m3 0h2m8 0h2m-1 0h2m3 0h2m-1 0h2m4 0h2m-2 0h2m4 0h2m2 0h2m5 0h2m33 0h2m-1 0h2m27 0h2m23 0h2m-208 1h2m6 0h2m1 0h2m2 0h2m0 0h2m3 0h2m2 0h2m-1 0h2m8 0h2m11 0h2m0 0h2m0 0h2m5 0h2m-1 0h2m11 0h2m0 0h2m39 0h2m3 0h2m6 0h2m7 0h2m0 0h2m12 0h2m12 0h2m4 0h2m25 0h2m-218 1h2m7 0h2m0 0h2m8 0h2m16 0h2m-1 0h2m0 0h2m15 0h2m3 0h2m2 0h2m6 0h2m-2 0h2m6 0h2m2 0h2m28 0h2m7 0h2m35 0h2m43 0h2m-218 1h2m2 0h2m4 0h2m6 0h2m4 0h2m10 0h2m13 0h2m-1 0h2m4 0h2m8 0h2m1 0h2m4 0h2m10 0h2m5 0h2m2 0h2m7 0h2m-1 0h2m4 0h2m2 0h2m22 0h2m1 0h2m9 0h2m-147 1h2m14 0h2m-1 0h2m1 0h2m4 0h2m-1 0h2m-1 0h2m1 0h2m4 0h2m-2 0h2m4 0h2m0 0h2m3 0h2m10 0h2m-1 0h2m-1 0h2m1 0h2m1 0h2m11 0h2m-2 0h2m5 0h2m3 0h2m0 0h2m5 0h2m-1 0h2m2 0h2m14 0h2m5 0h2m54 0h2m-199 1h2m2 0h2m8 0h2m4 0h2m3 0h2m2 0h2m4 0h2m0 0h2m0 0h2m2 0h2m0 0h2m-1 0h2m0 0h2m5 0h2m0 0h2m10 0h2m0 0h2m1 0h2m10 0h2m-1 0h2m0 0h2m-1 0h2m2 0h2m3 0h2m4 0h2m7 0h2m-1 0h2m30 0h2m10 0h2m-169 1h2m8 0h2m0 0h2m15 0h2m12 0h2m5 0h2m2 0h2m6 0h2m11 0h2m-1 0h2m12 0h2m-1 0h2m1 0h2m-1 0h2m2 0h2m0 0h2m41 0h2m8 0h2m45 0h2m-208 1h2m0 0h2m18 0h2m6 0h2m-1 0h2m5 0h2m0 0h2m4 0h2m-1 0h2m12 0h2m4 0h2m-1 0h2m-1 0h2m1 0h2m0 0h2m-1 0h2m-1 0h2m4 0h2m7 0h2m-1 0h2m0 0h2m20 0h2m1 0h2m10 0h2m2 0h2m10 0h2m4 0h2m26 0h2m24 0h2m-189 1h2m1 0h2m2 0h2m7 0h2m0 0h2m2 0h2m-1 0h2m-2 0h2m7 0h2m-2 0h2m3 0h2m2 0h2m-1 0h2m4 0h2m-2 0h2m-1 0h2m-1 0h2m0 0h2m4 0h2m25 0h2m2 0h2m-1 0h2m3 0h2m-1 0h2m-1 0h2m6 0h2m25 0h2m-106 1h2m7 0h2m4 0h2m-2 0h2m-1 0h2m2 0h2m5 0h2m2 0h2m7 0h2m5 0h2m5 0h2m5 0h2m9 0h2m-2 0h2m11 0h2m-1 0h2m-2 0h2m0 0h2m4 0h2m14 0h2m11 0h2m40 0h2m-186 1h2m4 0h2m-2 0h2m-1 0h2m0 0h2m0 0h2m-2 0h2m1 0h2m2 0h2m14 0h2m0 0h2m3 0h2m-1 0h2m8 0h2m0 0h2m5 0h2m1 0h2m22 0h2m1 0h2m2 0h2m-1 0h2m12 0h2m-118 1h2m0 0h2m2 0h2m0 0h2m0 0h2m5 0h2m6 0h2m1 0h2m-1 0h2m-2 0h2m1 0h2m3 0h2m-1 0h2m-2 0h2m-1 0h2m1 0h2m2 0h2m-2 0h2m0 0h2m-1 0h2m1 0h2m-1 0h2m4 0h2m4 0h2m6 0h2m10 0h2m45 0h2m19 0h2m0 0h2m9 0h2m-182 1h2m5 0h2m1 0h2m2 0h2m10 0h2m1 0h2m4 0h2m1 0h2m5 0h2m8 0h2m14 0h2m2 0h2m-1 0h2m0 0h2m0 0h2m-1 0h2m2 0h2m2 0h2m1 0h2m1 0h2m18 0h2m3 0h2m19 0h2m6 0h2m-145 1h2m0 0h2m-1 0h2m0 0h2m17 0h2m10 0h2m-2 0h2m1 0h2m-1 0h2m1 0h2m0 0h2m-1 0h2m0 0h2m3 0h2m6 0h2m6 0h2m1 0h2m13 0h2m-1 0h2m-1 0h2m-1 0h2m13 0h2m3 0h2m2 0h2m3 0h2m75 0h2m-201 1h2m6 0h2m0 0h2m2 0h2m-1 0h2m10 0h2m4 0h2m6 0h2m3 0h2m0 0h2m-1 0h2m12 0h2m-1 0h2m-1 0h2m1 0h2m7 0h2m3 0h2m-1 0h2m-1 0h2m0 0h2m3 0h2m0 0h2m10 0h2m5 0h2m45 0h2m0 0h2m57 0h2m-215 1h2m4 0h2m10 0h2m-1 0h2m1 0h2m4 0h2m2 0h2m-2 0h2m1 0h2m0 0h2m8 0h2m13 0h2m-1 0h2m7 0h2m-2 0h2m1 0h2m0 0h2m-2 0h2m5 0h2m9 0h2m0 0h2m21 0h2m36 0h2m-163 1h2m10 0h2m2 0h2m0 0h2m10 0h2m1 0h2m-1 0h2m1 0h2m-2 0h2m1 0h2m-1 0h2m5 0h2m-1 0h2m11 0h2m0 0h2m19 0h2m9 0h2m0 0h2m-2 0h2m6 0h2m10 0h2m7 0h2m17 0h2m14 0h2m12 0h2m27 0h2m0 0h2m-203 1h2m4 0h2m10 0h2m-1 0h2m2 0h2m3 0h2m4 0h2m3 0h2m2 0h2m3 0h2m6 0h2m5 0h2m14 0h2m3 0h2m3 0h2m5 0h2m3 0h2m1 0h2m14 0h2m4 0h2m5 0h2m1 0h2m14 0h2m-161 1h2m11 0h2m1 0h2m4 0h2m-2 0h2m-2 0h2m3 0h2m0 0h2m16 0h2m1 0h2m8 0h2m-2 0h2m-2 0h2m2 0h2m0 0h2m4 0h2m-1 0h2m3 0h2m0 0h2m12 0h2m-2 0h2m9 0h2m6 0h2m10 0h2m3 0h2m2 0h2m6 0h2m34 0h2m-168 1h2m0 0h2m8 0h2m-1 0h2m-1 0h2m-1 0h2m8 0h2m0 0h2m6 0h2m1 0h2m-2 0h2m14 0h2m2 0h2m-1 0h2m10 0h2m32 0h2m2 0h2m35 0h2m-152 1h2m10 0h2m6 0h2m2 0h2m2 0h2m7 0h2m-1 0h2m8 0h2m-1 0h2m6 0h2m10 0h2m1 0h2m4 0h2m-2 0h2m5 0h2m10 0h2m-1 0h2m9 0h2m40 0h2m59 0h2m-226 1h2m2 0h2m3 0h2m2 0h2m4 0h2m12 0h2m4 0h2m4 0h2m-1 0h2m0 0h2m2 0h2m11 0h2m-1 0h2m0 0h2m0 0h2m-1 0h2m-2 0h2m12 0h2m6 0h2m-1 0h2m0 0h2m12 0h2m-1 0h2m15 0h2m7 0h2m-1 0h2m1 0h2m2 0h2m1 0h2m21 0h2m12 0h2m-164 1h2m-2 0h2m0 0h2m3 0h2m5 0h2m3 0h2m1 0h2m-2 0h2m9 0h2m3 0h2m-2 0h2m7 0h2m-2 0h2m-2 0h2m6 0h2m-1 0h2m18 0h2m1 0h2m6 0h2m2 0h2m20 0h2m-1 0h2m8 0h2m1 0h2m16 0h2m48 0h2m-208 1h2m5 0h2m4 0h2m3 0h2m-1 0h2m1 0h2m-1 0h2m8 0h2m-2 0h2m4 0h2m1 0h2m2 0h2m0 0h2m-1 0h2m-1 0h2m3 0h2m3 0h2m4 0h2m-1 0h2m-1 0h2m-1 0h2m7 0h2m6 0h2m-1 0h2m6 0h2m68 0h2m69 0h2m-229 1h2m3 0h2m4 0h2m-2 0h2m0 0h2m-1 0h2m-2 0h2m0 0h2m6 0h2m-1 0h2m-1 0h2m-1 0h2m4 0h2m4 0h2m3 0h2m7 0h2m10 0h2m1 0h2m-1 0h2m-2 0h2m-1 0h2m7 0h2m15 0h2m2 0h2m1 0h2m26 0h2m2 0h2m-144 1h2m4 0h2m4 0h2m-1 0h2m5 0h2m-1 0h2m0 0h2m1 0h2m5 0h2m1 0h2m-1 0h2m1 0h2m5 0h2m4 0h2m5 0h2m-2 0h2m15 0h2m3 0h2m5 0h2m8 0h2m1 0h2m5 0h2m-2 0h2m10 0h2m10 0h2m22 0h2m1 0h2m51 0h2m29 0h2m-241 1h2m3 0h2m1 0h2m2 0h2m1 0h2m-2 0h2m-1 0h2m4 0h2m11 0h2m11 0h2m0 0h2m0 0h2m6 0h2m0 0h2m9 0h2m1 0h2m1 0h2m18 0h2m39 0h2m16 0h2m-1 0h2m72 0h2m-227 1h2m-2 0h2m0 0h2m5 0h2m1 0h2m4 0h2m2 0h2m9 0h2m-1 0h2m9 0h2m1 0h2m-1 0h2m2 0h2m2 0h2m1 0h2m-2 0h2m0 0h2m3 0h2m-1 0h2m11 0h2m0 0h2m7 0h2m5 0h2m19 0h2m3 0h2m-126 1h2m4 0h2m2 0h2m9 0h2m-1 0h2m8 0h2m-1 0h2m1 0h2m3 0h2m2 0h2m-2 0h2m0 0h2m12 0h2m-2 0h2m12 0h2m26 0h2m28 0h2m-128 1h2m8 0h2m2 0h2m0 0h2m2 0h2m6 0h2m3 0h2m20 0h2m13 0h2m3 0h2m13 0h2m8 0h2m11 0h2m9 0h2m2 0h2m10 0h2m1 0h2m-150 1h2m4 0h2m8 0h2m0 0h2m4 0h2m14 0h2m26 0h2m7 0h2m2 0h2m13 0h2m23 0h2m5 0h2m20 0h2m1 0h2m57 0h2m-227 1h2m1 0h2m6 0h2m14 0h2m12 0h2m0 0h2m0 0h2m7 0h2m-2 0h2m5 0h2m-1 0h2m-1 0h2m2 0h2m22 0h2m0 0h2m82 0h2m43 0h2m-215 1h2m3 0h2m11 0h2m-1 0h2m3 0h2m18 0h2m3 0h2m17 0h2m2 0h2m21 0h2m-1 0h2m-1 0h2m11 0h2m0 0h2m16 0h2m28 0h2m27 0h2m-190 1h2m5 0h2m12 0h2m1 0h2m3 0h2m7 0h2m10 0h2m-1 0h2m13 0h2m3 0h2m8 0h2m38 0h2m24 0h2m6 0h2m-1 0h2m66 0h2m-222 1h2m12 0h2m1 0h2m8 0h2m7 0h2m1 0h2m2 0h2m4 0h2m11 0h2m8 0h2m10 0h2m15 0h2m0 0h2m37 0h2m24 0h2m1 0h2m-197 1h2m21 0h2m7 0h2m0 0h2m9 0h2m6 0h2m13 0h2m4 0h2m10 0h2m20 0h2m1 0h2m62 0h2m-124 1h2m14 0h2m2 0h2m10 0h2m-1 0h2m-1 0h2m4 0h2m6 0h2m3 0h2m30 0h2m3 0h2m-1 0h2m5 0h2m-123 1h2m2 0h2m12 0h2m3 0h2m-1 0h2m8 0h2m2 0h2m9 0h2m6 0h2m-1 0h2m16 0h2m23 0h2m0 0h2m83 0h2m-196 1h2m4 0h2m17 0h2m0 0h2m3 0h2m3 0h2m3 0h2m0 0h2m3 0h2m-1 0h2m4 0h2m14 0h2m2 0h2m11 0h2m7 0h2m0 0h2m1 0h2m20 0h2m38 0h2m-174 1h2m27 0h2m9 0h2m0 0h2m1 0h2m2 0h2m22 0h2m3 0h2m4 0h2m2 0h2m6 0h2m12 0h2m7 0h2m39 0h2m58 0h2m4 0h2m-222 1h2m16 0h2m0 0h2m4 0h2m8 0h2m11 0h2m10 0h2m20 0h2m59 0h2m15 0h2m-2 0h2m5 0h2m1 0h2m-175 1h2m29 0h2m11 0h2m30 0h2m3 0h2m33 0h2m20 0h2m22 0h2m44 0h2m-186 1h2m21 0h2m1 0h2m19 0h2m3 0h2m-1 0h2m0 0h2m47 0h2m7 0h2m18 0h2m-126 1h2m64 0h2m-66 1h2m87 0h2m-120 1h2m52 0h2m14 0h2m10 0h2m17 0h2m15 0h2m21 0h2m27 0h2m61 0h2m-241 1h2m28 0h2m5 0h2m14 0h2m1 0h2m121 0h2m-149 1h2m9 0h2m16 0h2m23 0h2m6 0h2m12 0h2m0 0h2m0 0h2m11 0h2m-92 1h2m20 0h2m5 0h2m48 0h2m-1 0h2m-1 0h2m4 0h2m50 0h2m21 0h2m-186 1h2m18 0h2m1 0h2m-1 0h2m50 0h2m-54 1h2m2 0h2m22 0h2m6 0h2m3 0h2m23 0h2m-97 1h2m12 0h2m61 0h2m-55 1h2m13 0h2m16 0h2m55 0h2m38 0h2m-81 1h2m6 0h2m53 0h2m0 0h2m-105 1h2m29 0h2m80 0h2m-103 1h2m12 0h2m13 0h2m22 0h2m29 0h2m-94 2h2m8 0h2m29 0h2m-68 1h2m1 0h2m6 0h2m52 0h2m57 0h2m38 0h2m-124 1h2m129 0h2m-159 1h2m6 0h2m47 0h2m1 0h2m25 0h2m53 0h2m-122 1h2m18 0h2m81 0h2m30 0h2m-71 2h2m-23 1h2m74 0h2m-68 1h2m15 0h2m-66 1h2m13 0h2m91 0h2m30 0h2m-81 2h2m-39 1h2m29 0h2m119 0h2m-139 1h2m-5 1h2m-31 1h2m54 0h2m0 0h2m89 0h2m-54 1h2m-73 2h2m0 0h2m148 0h2m-77 1h2m3 0h2m18 0h2m-142 1h2m80 0h2m0 1h2m15 3h2m40 1h2m-104 1h2m116 0h2m-146 1h2m128 1h2m40 1h2m-158 1h2m-6 1h2m21 0h2m120 1h2" stroke="#000" stroke-opacity="0.6" stroke-width="2" transform="scale(.5)"/>
<path d="M267 52h2m-72 1h2m13 0h2m59 2h2m-74 1h2m23 0h2m32 0h2m-84 2h2m32 0h2m16 0h2m23 0h2m-13 1h2m29 1h2m-40 1h2m-39 1h2m41 1h2m85 0h2m-171 1h2m42 0h2m17 0h2m7 1h2m8 0h2m2 0h2m-56 2h2m57 0h2m11 0h2m-36 1h2m-60 1h2m62 0h2m-46 1h2m27 0h2m39 0h2m6 0h2m-70 1h2m14 0h2m3 0h2m63 0h2m-4 1h2m-99 1h2m14 0h2m12 0h2m1 0h2m5 0h2m6 0h2m0 0h2m-62 1h2m22 0h2m47 0h2m-41 1h2m8 0h2m24 0h2m32 0h2m-135 1h2m22 0h2m15 0h2m27 0h2m-50 1h2m16 0h2m38 0h2m36 0h2m19 0h2m-13 1h2m13 0h2m30 0h2m-162 1h2m6 0h2m21 0h2m13 0h2m1 0h2m1 0h2m0 0h2m24 0h2m-2 1h2m6 0h2m6 0h2m58 0h2m-162 1h2m1 0h2m6 0h2m-1 0h2m13 0h2m2 0h2m5 0h2m42 0h2m1 0h2m13 0h2m11 0h2m-129 1h2m3 0h2m33 0h2m18 0h2m2 0h2m26 0h2m30 0h2m-102 1h2m12 0h2m30 0h2m2 0h2m45 0h2m15 0h2m57 0h2m-180 1h2m9 0h2m13 0h2m14 0h2m8 0h2m7 0h2m-1 0h2m1 0h2m11 0h2m30 0h2m-128 1h2m10 0h2m11 0h2m9 0h2m36 0h2m3 0h2m14 0h2m9 0h2m-96 1h2m31 0h2m1 0h2m-2 0h2m-1 0h2m18 0h2m-1 0h2m-1 0h2m-59 1h2m8 0h2m9 0h2m20 0h2m13 0h2m5 0h2m10 0h2m3 0h2m-97 1h2m37 0h2m19 0h2m42 0h2m-104 1h2m2 0h2m6 0h2m9 0h2m1 0h2m9 0h2m1 0h2m4 0h2m-2 0h2m57 0h2m4 0h2m95 0h2m-210 1h2m17 0h2m10 0h2m-1 0h2m2 0h2m3 0h2m1 0h2m14 0h2m-2 0h2m-1 0h2m-1 0h2m1 0h2m20 0h2m12 0h2m1 0h2m9 0h2m-106 1h2m3 0h2m17 0h2m22 0h2m13 0h2m22 0h2m8 0h2m-90 1h2m-1 0h2m19 0h2m3 0h2m15 0h2m11 0h2m3 0h2m2 0h2m6 0h2m-73 1h2m6 0h2m38 0h2m-1 0h2m20 0h2m1 0h2m11 0h2m9 0h2m1 0h2m25 0h2m-172 1h2m10 0h2m13 0h2m7 0h2m1 0h2m6 0h2m0 0h2m-1 0h2m0 0h2m3 0h2m1 0h2m-1 0h2m-2 0h2m0 0h2m17 0h2m-1 0h2m0 0h2m36 0h2m7 0h2m-108 1h2m8 0h2m3 0h2m1 0h2m8 0h2m0 0h2m3 0h2m2 0h2m5 0h2m4 0h2m0 0h2m-1 0h2m25 0h2m14 0h2m0 0h2m4 0h2m15 0h2m116 0h2m-251 1h2m1 0h2m17 0h2m22 0h2m38 0h2m21 0h2m-75 1h2m16 0h2m7 0h2m-1 0h2m7 0h2m22 0h2m4 0h2m10 0h2m27 0h2m-140 1h2m20 0h2m1 0h2m-1 0h2m2 0h2m4 0h2m3 0h2m26 0h2m10 0h2m18 0h2m2 0h2m29 0h2m30 0h2m6 0h2m-201 1h2m2 0h2m-2 0h2m-2 0h2m2 0h2m13 0h2m6 0h2m3 0h2m12 0h2m1 0h2m-1 0h2m4 0h2m-1 0h2m4 0h2m4 0h2m-2 0h2m7 0h2m-1 0h2m-1 0h2m22 0h2m7 0h2m0 0h2m-2 0h2m-119 1h2m1 0h2m18 0h2m6 0h2m10 0h2m6 0h2m11 0h2m5 0h2m7 0h2m10 0h2m44 0h2m48 0h2m-183 1h2m0 0h2m0 0h2m1 0h2m1 0h2m4 0h2m2 0h2m-1 0h2m-2 0h2m-1 0h2m2 0h2m1 0h2m-2 0h2m7 0h2m-1 0h2m2 0h2m4 0h2m14 0h2m0 0h2m6 0h2m25 0h2m22 0h2m58 0h2m-203 1h2m0 0h2m19 0h2m9 0h2m19 0h2m3 0h2m6 0h2m3 0h2m3 0h2m0 0h2m-1 0h2m9 0h2m2 0h2m31 0h2m25 0h2m-159 1h2m5 0h2m0 0h2m1 0h2m4 0h2m6 0h2m8 0h2m-2 0h2m4 0h2m9 0h2m2 0h2m1 0h2m-2 0h2m6 0h2m-1 0h2m4 0h2m4 0h2m5 0h2m14 0h2m16 0h2m18 0h2m-117 1h2m-1 0h2m1 0h2m-1 0h2m0 0h2m1 0h2m3 0h2m5 0h2m0 0h2m4 0h2m1 0h2m0 0h2m5 0h2m-2 0h2m14 0h2m0 0h2m5 0h2m1 0h2m10 0h2m37 0h2m24 0h2m16 0h2m-190 1h2m22 0h2m1 0h2m2 0h2m1 0h2m5 0h2m8 0h2m0 0h2m4 0h2m-1 0h2m6 0h2m5 0h2m6 0h2m4 0h2m7 0h2m-1 0h2m-1 0h2m3 0h2m2 0h2m21 0h2m2 0h2m4 0h2m2 0h2m7 0h2m45 0h2m-207 1h2m6 0h2m8 0h2m1 0h2m4 0h2m5 0h2m1 0h2m1 0h2m-2 0h2m2 0h2m-1 0h2m0 0h2m-1 0h2m0 0h2m6 0h2m-2 0h2m12 0h2m0 0h2m1 0h2m-1 0h2m13 0h2m-2 0h2m0 0h2m9 0h2m-2 0h2m0 0h2m1 0h2m2 0h2m5 0h2m8 0h2m9 0h2m24 0h2m-170 1h2m4 0h2m6 0h2m8 0h2m3 0h2m3 0h2m0 0h2m4 0h2m-1 0h2m-2 0h2m16 0h2m0 0h2m-1 0h2m1 0h2m0 0h2m-1 0h2m3 0h2m-1 0h2m4 0h2m3 0h2m14 0h2m19 0h2m4 0h2m24 0h2m-166 1h2m-1 0h2m5 0h2m19 0h2m3 0h2m1 0h2m5 0h2m4 0h2m13 0h2m3 0h2m9 0h2m1 0h2m1 0h2m-2 0h2m3 0h2m0 0h2m6 0h2m2 0h2m3 0h2m0 0h2m5 0h2m6 0h2m10 0h2m-1 0h2m-2 0h2m12 0h2m22 0h2m3 0h2m-185 1h2m10 0h2m1 0h2m0 0h2m3 0h2m0 0h2m1 0h2m4 0h2m3 0h2m0 0h2m5 0h2m1 0h2m6 0h2m-1 0h2m0 0h2m2 0h2m3 0h2m-1 0h2m3 0h2m12 0h2m3 0h2m1 0h2m1 0h2m0 0h2m15 0h2m-1 0h2m16 0h2m19 0h2m26 0h2m-173 1h2m9 0h2m4 0h2m-1 0h2m7 0h2m5 0h2m-2 0h2m3 0h2m6 0h2m2 0h2m25 0h2m0 0h2m3 0h2m49 0h2m-1 0h2m15 0h2m54 0h2m-233 1h2m1 0h2m-2 0h2m1 0h2m16 0h2m1 0h2m2 0h2m0 0h2m1 0h2m-2 0h2m3 0h2m8 0h2m-2 0h2m7 0h2m2 0h2m1 0h2m17 0h2m0 0h2m-1 0h2m2 0h2m2 0h2m2 0h2m4 0h2m-1 0h2m2 0h2m2 0h2m-1 0h2m2 0h2m0 0h2m8 0h2m2 0h2m0 0h2m5 0h2m19 0h2m1 0h2m-163 1h2m2 0h2m-1 0h2m13 0h2m-1 0h2m6 0h2m1 0h2m1 0h2m2 0h2m6 0h2m2 0h2m6 0h2m-1 0h2m2 0h2m7 0h2m0 0h2m5 0h2m3 0h2m-1 0h2m-1 0h2m6 0h2m1 0h2m-2 0h2m4 0h2m8 0h2m8 0h2m7 0h2m46 0h2m-189 1h2m6 0h2m0 0h2m7 0h2m0 0h2m11 0h2m1 0h2m0 0h2m-1 0h2m-1 0h2m4 0h2m7 0h2m1 0h2m1 0h2m1 0h2m1 0h2m7 0h2m7 0h2m-1 0h2m5 0h2m1 0h2m8 0h2m12 0h2m4 0h2m8 0h2m21 0h2m13 0h2m22 0h2m-203 1h2m2 0h2m1 0h2m-1 0h2m4 0h2m-2 0h2m0 0h2m14 0h2m3 0h2m3 0h2m1 0h2m0 0h2m-1 0h2m3 0h2m0 0h2m0 0h2m1 0h2m3 0h2m1 0h2m-2 0h2m4 0h2m3 0h2m-2 0h2m1 0h2m10 0h2m-2 0h2m-1 0h2m2 0h2m21 0h2m18 0h2m22 0h2m10 0h2m-174 1h2m6 0h2m1 0h2m4 0h2m1 0h2m1 0h2m3 0h2m5 0h2m-2 0h2m2 0h2m-1 0h2m13 0h2m0 0h2m-2 0h2m-1 0h2m0 0h2m2 0h2m5 0h2m2 0h2m5 0h2m3 0h2m8 0h2m1 0h2m-1 0h2m9 0h2m1 0h2m21 0h2m14 0h2m3 0h2m-174 1h2m6 0h2m2 0h2m1 0h2m5 0h2m-2 0h2m9 0h2m4 0h2m0 0h2m4 0h2m-2 0h2m0 0h2m-2 0h2m7 0h2m0 0h2m8 0h2m2 0h2m-2 0h2m-2 0h2m0 0h2m-2 0h2m7 0h2m1 0h2m7 0h2m2 0h2m12 0h2m2 0h2m14 0h2m2 0h2m0 0h2m1 0h2m19 0h2m-167 1h2m5 0h2m-1 0h2m1 0h2m8 0h2m-1 0h2m-2 0h2m-1 0h2m0 0h2m0 0h2m3 0h2m3 0h2m-2 0h2m-2 0h2m0 0h2m9 0h2m1 0h2m2 0h2m4 0h2m6 0h2m6 0h2m22 0h2m2 0h2m4 0h2m5 0h2m4 0h2m48 0h2m3 0h2m-163 1h2m-2 0h2m-1 0h2m1 0h2m-1 0h2m2 0h2m-1 0h2m5 0h2m-1 0h2m-2 0h2m13 0h2m0 0h2m0 0h2m13 0h2m-1 0h2m-1 0h2m-2 0h2m-1 0h2m12 0h2m-1 0h2m2 0h2m-2 0h2m0 0h2m9 0h2m2 0h2m2 0h2m21 0h2m11 0h2m2 0h2m97 0h2m-244 1h2m7 0h2m4 0h2m-1 0h2m-1 0h2m-2 0h2m-1 0h2m-1 0h2m2 0h2m1 0h2m7 0h2m3 0h2m4 0h2m0 0h2m4 0h2m2 0h2m4 0h2m0 0h2m-1 0h2m-1 0h2m3 0h2m-2 0h2m0 0h2m1 0h2m0 0h2m-1 0h2m0 0h2m3 0h2m-1 0h2m8 0h2m6 0h2m6 0h2m24 0h2m5 0h2m1 0h2m4 0h2m30 0h2m-208 1h2m12 0h2m-1 0h2m-1 0h2m2 0h2m3 0h2m-2 0h2m13 0h2m5 0h2m0 0h2m0 0h2m-1 0h2m-2 0h2m-1 0h2m-1 0h2m0 0h2m6 0h2m2 0h2m2 0h2m6 0h2m-1 0h2m-2 0h2m2 0h2m0 0h2m8 0h2m2 0h2m-1 0h2m8 0h2m0 0h2m8 0h2m1 0h2m8 0h2m-1 0h2m2 0h2m2 0h2m8 0h2m15 0h2m-167 1h2m2 0h2m1 0h2m0 0h2m6 0h2m-1 0h2m2 0h2m0 0h2m11 0h2m10 0h2m-1 0h2m3 0h2m-1 0h2m-1 0h2m0 0h2m0 0h2m-1 0h2m1 0h2m11 0h2m3 0h2m16 0h2m14 0h2m23 0h2m43 0h2m-179 1h2m0 0h2m7 0h2m0 0h2m-1 0h2m-1 0h2m1 0h2m0 0h2m2 0h2m-1 0h2m0 0h2m5 0h2m-2 0h2m4 0h2m0 0h2m-2 0h2m9 0h2m4 0h2m-2 0h2m1 0h2m7 0h2m1 0h2m0 0h2m8 0h2m11 0h2m49 0h2m15 0h2m42 0h2m-231 1h2m16 0h2m3 0h2m-2 0h2m0 0h2m1 0h2m4 0h2m1 0h2m-2 0h2m0 0h2m2 0h2m4 0h2m-1 0h2m2 0h2m9 0h2m7 0h2m4 0h2m-2 0h2m-1 0h2m6 0h2m4 0h2m-2 0h2m2 0h2m-1 0h2m0 0h2m3 0h2m0 0h2m5 0h2m19 0h2m2 0h2m17 0h2m28 0h2m41 0h2m-217 1h2m0 0h2m8 0h2m-2 0h2m3 0h2m8 0h2m2 0h2m-2 0h2m-2 0h2m-1 0h2m0 0h2m1 0h2m-2 0h2m2 0h2m3 0h2m0 0h2m0 0h2m-1 0h2m3 0h2m-2 0h2m1 0h2m7 0h2m-2 0h2m2 0h2m3 0h2m-2 0h2m7 0h2m-2 0h2m0 0h2m0 0h2m13 0h2m0 0h2m0 0h2m23 0h2m2 0h2m32 0h2m26 0h2m2 0h2m-216 1h2m-1 0h2m10 0h2m-2 0h2m11 0h2m2 0h2m2 0h2m4 0h2m1 0h2m-2 0h2m3 0h2m17 0h2m3 0h2m-1 0h2m-2 0h2m6 0h2m2 0h2m-1 0h2m-1 0h2m-2 0h2m5 0h2m1 0h2m7 0h2m15 0h2m1 0h2m3 0h2m4 0h2m14 0h2m1 0h2m37 0h2m-194 1h2m23 0h2m-1 0h2m3 0h2m11 0h2m2 0h2m17 0h2m2 0h2m3 0h2m1 0h2m1 0h2m2 0h2m4 0h2m7 0h2m-2 0h2m-1 0h2m1 0h2m4 0h2m12 0h2m-1 0h2m13 0h2m25 0h2m25 0h2m-190 1h2m6 0h2m3 0h2m2 0h2m1 0h2m1 0h2m3 0h2m1 0h2m-1 0h2m5 0h2m-1 0h2m-1 0h2m-2 0h2m-1 0h2m5 0h2m0 0h2m-1 0h2m-1 0h2m-1 0h2m0 0h2m2 0h2m9 0h2m8 0h2m6 0h2m11 0h2m23 0h2m17 0h2m0 0h2m6 0h2m-162 1h2m2 0h2m3 0h2m7 0h2m-1 0h2m14 0h2m0 0h2m12 0h2m0 0h2m9 0h2m4 0h2m-1 0h2m7 0h2m1 0h2m2 0h2m-2 0h2m1 0h2m7 0h2m6 0h2m9 0h2m21 0h2m1 0h2m4 0h2m-145 1h2m7 0h2m1 0h2m7 0h2m0 0h2m3 0h2m-2 0h2m4 0h2m1 0h2m-1 0h2m17 0h2m-1 0h2m1 0h2m1 0h2m-1 0h2m6 0h2m2 0h2m2 0h2m10 0h2m6 0h2m0 0h2m1 0h2m10 0h2m3 0h2m-2 0h2m7 0h2m14 0h2m-154 1h2m4 0h2m8 0h2m22 0h2m1 0h2m1 0h2m0 0h2m7 0h2m0 0h2m-2 0h2m4 0h2m12 0h2m4 0h2m0 0h2m3 0h2m-2 0h2m-1 0h2m-1 0h2m4 0h2m-2 0h2m0 0h2m27 0h2m-136 1h2m7 0h2m10 0h2m8 0h2m0 0h2m4 0h2m3 0h2m14 0h2m0 0h2m-2 0h2m11 0h2m5 0h2m3 0h2m4 0h2m4 0h2m1 0h2m2 0h2m12 0h2m0 0h2m43 0h2m53 0h2m-217 1h2m10 0h2m5 0h2m12 0h2m1 0h2m20 0h2m21 0h2m0 0h2m1 0h2m-2 0h2m0 0h2m2 0h2m3 0h2m-2 0h2m-1 0h2m24 0h2m38 0h2m3 0h2m19 0h2m30 0h2m-219 1h2m-1 0h2m3 0h2m6 0h2m-1 0h2m1 0h2m6 0h2m0 0h2m0 0h2m5 0h2m8 0h2m-1 0h2m2 0h2m-1 0h2m-1 0h2m6 0h2m5 0h2m-1 0h2m1 0h2m0 0h2m29 0h2m-2 0h2m3 0h2m13 0h2m16 0h2m16 0h2m72 0h2m-246 1h2m8 0h2m10 0h2m2 0h2m1 0h2m1 0h2m-1 0h2m-1 0h2m-1 0h2m-2 0h2m6 0h2m0 0h2m8 0h2m6 0h2m0 0h2m-1 0h2m-1 0h2m18 0h2m-2 0h2m8 0h2m5 0h2m9 0h2m7 0h2m22 0h2m1 0h2m8 0h2m-160 1h2m0 0h2m16 0h2m11 0h2m2 0h2m1 0h2m-1 0h2m4 0h2m10 0h2m3 0h2m3 0h2m1 0h2m0 0h2m9 0h2m3 0h2m5 0h2m-2 0h2m15 0h2m12 0h2m-1 0h2m2 0h2m-1 0h2m54 0h2m8 0h2m9 0h2m-220 1h2m11 0h2m6 0h2m-2 0h2m10 0h2m2 0h2m1 0h2m3 0h2m1 0h2m4 0h2m0 0h2m15 0h2m-1 0h2m1 0h2m4 0h2m-1 0h2m-1 0h2m7 0h2m-2 0h2m9 0h2m-2 0h2m9 0h2m25 0h2m40 0h2m-160 1h2m30 0h2m2 0h2m-1 0h2m7 0h2m1 0h2m1 0h2m10 0h2m5 0h2m12 0h2m-2 0h2m8 0h2m8 0h2m5 0h2m30 0h2m-158 1h2m0 0h2m-2 0h2m0 0h2m2 0h2m4 0h2m2 0h2m1 0h2m7 0h2m1 0h2m3 0h2m4 0h2m10 0h2m6 0h2m2 0h2m-1 0h2m0 0h2m5 0h2m-1 0h2m9 0h2m31 0h2m-1 0h2m11 0h2m20 0h2m6 0h2m-167 1h2m-1 0h2m7 0h2m-1 0h2m16 0h2m13 0h2m1 0h2m0 0h2m3 0h2m17 0h2m1 0h2m1 0h2m8 0h2m0 0h2m1 0h2m10 0h2m1 0h2m11 0h2m23 0h2m36 0h2m-199 1h2m12 0h2m14 0h2m4 0h2m0 0h2m3 0h2m13 0h2m1 0h2m5 0h2m5 0h2m5 0h2m8 0h2m46 0h2m22 0h2m15 0h2m-181 1h2m34 0h2m1 0h2m12 0h2m4 0h2m4 0h2m-2 0h2m7 0h2m11 0h2m0 0h2m19 0h2m9 0h2m2 0h2m9 0h2m6 0h2m69 0h2m4 0h2m-174 1h2m11 0h2m0 0h2m-2 0h2m3 0h2m1 0h2m4 0h2m-1 0h2m8 0h2m5 0h2m3 0h2m-1 0h2m10 0h2m5 0h2m46 0h2m69 0h2m-224 1h2m4 0h2m3 0h2m1 0h2m17 0h2m9 0h2m11 0h2m6 0h2m4 0h2m17 0h2m46 0h2m-131 1h2m6 0h2m21 0h2m1 0h2m17 0h2m2 0h2m5 0h2m17 0h2m7 0h2m34 0h2m4 0h2m-126 1h2m-1 0h2m11 0h2m5 0h2m2 0h2m8 0h2m0 0h2m-2 0h2m1 0h2m8 0h2m10 0h2m-2 0h2m74 0h2m10 0h2m20 0h2m2 0h2m33 0h2m-245 1h2m5 0h2m1 0h2m14 0h2m5 0h2m-1 0h2m15 0h2m6 0h2m10 0h2m-2 0h2m-1 0h2m-2 0h2m4 0h2m18 0h2m-2 0h2m-1 0h2m1 0h2m-2 0h2m0 0h2m4 0h2m8 0h2m6 0h2m-116 1h2m17 0h2m5 0h2m-1 0h2m6 0h2m1 0h2m0 0h2m-1 0h2m6 0h2m2 0h2m15 0h2m9 0h2m16 0h2m12 0h2m-1 0h2m1 0h2m-112 1h2m11 0h2m0 0h2m36 0h2m0 0h2m12 0h2m2 0h2m2 0h2m10 0h2m24 0h2m-131 1h2m13 0h2m6 0h2m23 0h2m1 0h2m4 0h2m15 0h2m1 0h2m-2 0h2m8 0h2m26 0h2m16 0h2m54 0h2m44 0h2m-202 1h2m0 0h2m8 0h2m8 0h2m5 0h2m40 0h2m14 0h2m1 0h2m1 0h2m-102 1h2m36 0h2m1 0h2m5 0h2m1 0h2m36 0h2m24 0h2m2 0h2m10 0h2m5 0h2m34 0h2m26 0h2m-204 1h2m17 0h2m-1 0h2m26 0h2m21 0h2m26 0h2m28 0h2m-1 0h2m30 0h2m-186 1h2m3 0h2m7 0h2m22 0h2m4 0h2m4 0h2m1 0h2m5 0h2m3 0h2m29 0h2m1 0h2m68 0h2m-178 1h2m14 0h2m4 0h2m5 0h2m11 0h2m6 0h2m3 0h2m2 0h2m10 0h2m0 0h2m3 0h2m4 0h2m-1 0h2m-26 1h2m4 0h2m5 0h2m22 0h2m77 0h2m16 0h2m6 0h2m-192 1h2m38 0h2m4 0h2m10 0h2m22 0h2m5 0h2m2 0h2m5 0h2m23 0h2m33 0h2m-151 1h2m14 0h2m5 0h2m12 0h2m22 0h2m50 0h2m23 0h2m-1 0h2m-123 1h2m0 0h2m54 0h2m19 0h2m57 0h2m72 0h2m-219 1h2m26 0h2m12 0h2m3 0h2m5 0h2m14 0h2m42 0h2m28 0h2m8 0h2m-155 1h2m48 0h2m34 0h2m60 0h2m6 0h2m-77 1h2m29 0h2m39 0h2m-1 0h2m10 0h2m-176 1h2m37 0h2m23 0h2m39 0h2m-1 0h2m27 0h2m-122 1h2m1 0h2m34 0h2m7 0h2m4 0h2m13 0h2m29 0h2m43 0h2m-169 1h2m34 0h2m42 0h2m14 0h2m3 0h2m6 0h2m29 0h2m-126 1h2m6 0h2m76 0h2m29 0h2m-135 1h2m0 1h2m99 0h2m101 0h2m-193 1h2m28 0h2m16 0h2m67 0h2m1 0h2m16 0h2m-123 1h2m154 0h2m-177 1h2m24 0h2m0 0h2m13 0h2m28 0h2m-11 1h2m3 0h2m32 0h2m-1 0h2m-92 1h2m87 0h2m81 0h2m-158 1h2m179 0h2m-179 1h2m12 0h2m-36 1h2m42 0h2m3 0h2m32 0h2m65 0h2m-108 2h2m15 0h2m-43 1h2m84 0h2m-118 1h2m79 0h2m52 0h2m-144 1h2m10 0h2m45 0h2m-55 1h2m30 0h2m110 0h2m-144 1h2m44 0h2m32 0h2m-93 2h2m56 1h2m89 0h2m-108 2h2m8 0h2m138 1h2m-78 2h2m-7 1h2m9 1h2m22 3h2m-97 2h2m-2 3h2m166 0h2" stroke="#000" stroke-opacity="0.6" stroke-width="2" transform="scale(.5)"/>
<line x1="49.5" y1="16.3" x2="223.3" y2="16.3" stroke="#555" stroke-width="1.1" stroke-dasharray="1.2 1.35"/>
<line x1="223.3" y1="16.3" x2="223.3" y2="103.2" stroke="#555" stroke-width="1.1" stroke-dasharray="1.2 1.35"/>
<line x1="49.5" y1="103.2" x2="223.3" y2="103.2" stroke="#555" stroke-width="1.1" stroke-dasharray="1.2 1.35"/>
<line x1="49.5" y1="16.3" x2="49.5" y2="103.2" stroke="#7a7a7a" stroke-width="1.3"/>
<line x1="49.5" y1="59.75" x2="92.95" y2="16.3" stroke="#606060" stroke-width="1.1"/>
<line x1="49.5" y1="59.75" x2="92.95" y2="103.2" stroke="#606060" stroke-width="1.1"/>
<line x1="49.5" y1="59.75" x2="136.4" y2="16.3" stroke="#606060" stroke-width="1.1"/>
<line x1="49.5" y1="59.75" x2="136.4" y2="103.2" stroke="#606060" stroke-width="1.1"/>
<text x="136.4" y="11.4" font-size="10" text-anchor="middle" font-weight="bold" font-style="normal" fill="#111" stroke="#111" stroke-width="0.3" >Controls</text>
<text x="49.5" y="17.6" font-size="8.0" text-anchor="end" font-weight="normal" font-style="normal" fill="#262626" stroke="#262626" stroke-width="0.3" >0.25</text>
<text x="48.5" y="62" font-size="8.0" text-anchor="end" font-weight="normal" font-style="normal" fill="#262626" stroke="#262626" stroke-width="0.3" >0</text>
<text x="49.5" y="105.2" font-size="8.0" text-anchor="end" font-weight="normal" font-style="normal" fill="#262626" stroke="#262626" stroke-width="0.3" >−0.25</text>
<text x="49.5" y="111.2" font-size="8.0" text-anchor="middle" font-weight="normal" font-style="normal" fill="#262626" stroke="#262626" stroke-width="0.3" >0.0</text>
<text x="223.3" y="111.2" font-size="8.0" text-anchor="middle" font-weight="normal" font-style="normal" fill="#262626" stroke="#262626" stroke-width="0.3" >1.0</text>
<text x="132.9" y="121.8" font-size="10.5" font-weight="bold" font-style="italic" fill="#111">x<tspan font-size="5" dy="1.8" font-style="normal">1</tspan></text>
<text transform="translate(38.5 59.6) rotate(-90)" x="0" y="0" font-size="10.5" text-anchor="middle" font-weight="bold" font-style="italic" fill="#111">x<tspan font-size="5" dy="1.8" font-style="normal">2</tspan></text>
<line x1="382.70000000000005" y1="59.75" x2="469.6" y2="59.75" stroke="#8a8a8a" stroke-width="1.2"/>
<path d="M769 57h2m-50 1h2m-32 1h2m0 0h2m6 6h2m17 0h2m34 0h2m26 1h2m-49 1h2m-64 1h2m26 0h2m11 1h2m-32 1h2m134 0h2m-122 1h2m17 0h2m-54 1h2m15 1h2m37 0h2m-25 1h2m35 1h2m-71 1h2m6 0h2m30 0h2m7 0h2m48 0h2m7 0h2m-56 2h2m53 0h2m-130 1h2m28 0h2m166 0h2m-188 1h2m4 0h2m15 0h2m-30 1h2m36 0h2m18 0h2m-53 1h2m43 0h2m6 0h2m59 0h2m-107 1h2m109 0h2m-122 1h2m14 0h2m5 0h2m8 0h2m34 0h2m1 0h2m-69 1h2m22 0h2m8 0h2m49 0h2m33 0h2m-115 1h2m18 0h2m11 0h2m1 0h2m67 0h2m-106 1h2m-1 0h2m9 0h2m2 0h2m-2 0h2m59 0h2m-110 1h2m0 0h2m21 0h2m25 0h2m8 0h2m1 0h2m12 0h2m11 0h2m29 0h2m-69 1h2m0 0h2m25 0h2m26 0h2m-119 1h2m0 0h2m29 0h2m41 0h2m5 0h2m6 0h2m34 0h2m-113 1h2m36 0h2m-1 0h2m4 0h2m6 0h2m5 0h2m3 0h2m-57 1h2m0 0h2m45 0h2m-67 1h2m0 0h2m10 0h2m6 0h2m1 0h2m0 0h2m16 0h2m3 0h2m32 0h2m-89 1h2m9 0h2m5 0h2m37 0h2m12 0h2m2 0h2m15 0h2m16 0h2m7 0h2m-108 1h2m28 0h2m2 0h2m10 0h2m2 0h2m-2 0h2m5 0h2m0 0h2m-2 0h2m-78 1h2m2 0h2m15 0h2m15 0h2m11 0h2m13 0h2m0 0h2m0 0h2m1 0h2m4 0h2m4 0h2m-94 1h2m1 0h2m26 0h2m63 0h2m33 0h2m10 0h2m-131 1h2m-1 0h2m9 0h2m1 0h2m6 0h2m0 0h2m4 0h2m4 0h2m19 0h2m9 0h2m68 0h2m-161 1h2m13 0h2m1 0h2m-2 0h2m4 0h2m14 0h2m3 0h2m15 0h2m17 0h2m2 0h2m22 0h2m60 0h2m78 0h2m-238 1h2m8 0h2m14 0h2m0 0h2m2 0h2m-1 0h2m0 0h2m-1 0h2m-2 0h2m10 0h2m29 0h2m-103 1h2m14 0h2m8 0h2m7 0h2m-2 0h2m8 0h2m7 0h2m3 0h2m4 0h2m4 0h2m7 0h2m-1 0h2m0 0h2m-1 0h2m24 0h2m6 0h2m7 0h2m2 0h2m39 0h2m110 0h2m-280 1h2m4 0h2m-2 0h2m10 0h2m2 0h2m3 0h2m-2 0h2m6 0h2m5 0h2m8 0h2m23 0h2m6 0h2m31 0h2m-117 1h2m28 0h2m1 0h2m2 0h2m10 0h2m1 0h2m5 0h2m-2 0h2m-1 0h2m-1 0h2m8 0h2m1 0h2m3 0h2m15 0h2m25 0h2m-1 0h2m23 0h2m21 0h2m-2 0h2m-193 1h2m4 0h2m12 0h2m6 0h2m0 0h2m-1 0h2m18 0h2m1 0h2m3 0h2m-2 0h2m4 0h2m9 0h2m-2 0h2m14 0h2m9 0h2m8 0h2m29 0h2m50 0h2m-191 1h2m8 0h2m1 0h2m-1 0h2m-1 0h2m2 0h2m-1 0h2m13 0h2m-1 0h2m5 0h2m7 0h2m4 0h2m2 0h2m7 0h2m5 0h2m12 0h2m6 0h2m33 0h2m20 0h2m-149 1h2m0 0h2m1 0h2m-1 0h2m19 0h2m1 0h2m2 0h2m7 0h2m22 0h2m15 0h2m0 0h2m7 0h2m2 0h2m8 0h2m0 0h2m-1 0h2m2 0h2m47 0h2m-183 1h2m8 0h2m5 0h2m7 0h2m8 0h2m-1 0h2m12 0h2m2 0h2m-1 0h2m1 0h2m2 0h2m4 0h2m23 0h2m3 0h2m5 0h2m12 0h2m5 0h2m-1 0h2m1 0h2m20 0h2m33 0h2m8 0h2m-195 1h2m10 0h2m1 0h2m5 0h2m0 0h2m8 0h2m9 0h2m6 0h2m5 0h2m17 0h2m9 0h2m6 0h2m-2 0h2m2 0h2m7 0h2m5 0h2m-2 0h2m16 0h2m31 0h2m11 0h2m-193 1h2m2 0h2m-2 0h2m5 0h2m13 0h2m3 0h2m0 0h2m3 0h2m10 0h2m-1 0h2m6 0h2m2 0h2m13 0h2m12 0h2m5 0h2m2 0h2m13 0h2m6 0h2m25 0h2m5 0h2m14 0h2m4 0h2m13 0h2m-202 1h2m1 0h2m11 0h2m3 0h2m7 0h2m1 0h2m1 0h2m7 0h2m2 0h2m6 0h2m8 0h2m-1 0h2m-2 0h2m0 0h2m0 0h2m6 0h2m-2 0h2m4 0h2m2 0h2m2 0h2m1 0h2m10 0h2m9 0h2m1 0h2m3 0h2m22 0h2m28 0h2m4 0h2m5 0h2m-183 1h2m6 0h2m0 0h2m-1 0h2m3 0h2m0 0h2m-2 0h2m-1 0h2m1 0h2m0 0h2m0 0h2m-1 0h2m2 0h2m-1 0h2m5 0h2m8 0h2m10 0h2m3 0h2m0 0h2m20 0h2m1 0h2m-1 0h2m14 0h2m-1 0h2m19 0h2m11 0h2m-1 0h2m41 0h2m-210 1h2m0 0h2m3 0h2m1 0h2m0 0h2m1 0h2m0 0h2m-2 0h2m9 0h2m0 0h2m3 0h2m3 0h2m55 0h2m2 0h2m0 0h2m24 0h2m14 0h2m0 0h2m15 0h2m41 0h2m-198 1h2m10 0h2m-1 0h2m-2 0h2m0 0h2m5 0h2m1 0h2m1 0h2m3 0h2m14 0h2m1 0h2m0 0h2m-1 0h2m6 0h2m1 0h2m9 0h2m0 0h2m5 0h2m24 0h2m6 0h2m22 0h2m4 0h2m1 0h2m2 0h2m14 0h2m10 0h2m11 0h2m15 0h2m-223 1h2m12 0h2m2 0h2m-1 0h2m3 0h2m1 0h2m0 0h2m6 0h2m6 0h2m-1 0h2m-1 0h2m0 0h2m-1 0h2m-1 0h2m-1 0h2m-1 0h2m-1 0h2m-1 0h2m-1 0h2m-1 0h2m5 0h2m6 0h2m0 0h2m23 0h2m3 0h2m-1 0h2m7 0h2m-1 0h2m12 0h2m23 0h2m7 0h2m9 0h2m8 0h2m8 0h2m-202 1h2m1 0h2m5 0h2m5 0h2m-1 0h2m2 0h2m1 0h2m4 0h2m-2 0h2m4 0h2m-2 0h2m7 0h2m0 0h2m13 0h2m0 0h2m0 0h2m1 0h2m-2 0h2m-2 0h2m1 0h2m-1 0h2m-1 0h2m-1 0h2m-2 0h2m6 0h2m19 0h2m-2 0h2m7 0h2m0 0h2m4 0h2m0 0h2m-1 0h2m16 0h2m3 0h2m4 0h2m7 0h2m3 0h2m1 0h2m10 0h2m8 0h2m10 0h2m19 0h2m-228 1h2m9 0h2m4 0h2m1 0h2m-2 0h2m5 0h2m1 0h2m7 0h2m14 0h2m11 0h2m-1 0h2m8 0h2m-1 0h2m-1 0h2m-2 0h2m2 0h2m3 0h2m2 0h2m0 0h2m3 0h2m-1 0h2m14 0h2m3 0h2m1 0h2m-2 0h2m1 0h2m5 0h2m26 0h2m26 0h2m4 0h2m-203 1h2m1 0h2m2 0h2m4 0h2m-1 0h2m-1 0h2m-2 0h2m12 0h2m14 0h2m3 0h2m-1 0h2m-1 0h2m25 0h2m0 0h2m17 0h2m34 0h2m14 0h2m-1 0h2m3 0h2m-2 0h2m25 0h2m3 0h2m11 0h2m1 0h2m110 0h2m-324 1h2m4 0h2m2 0h2m8 0h2m0 0h2m-2 0h2m3 0h2m6 0h2m8 0h2m2 0h2m3 0h2m2 0h2m3 0h2m1 0h2m-1 0h2m2 0h2m8 0h2m0 0h2m-1 0h2m2 0h2m5 0h2m1 0h2m-1 0h2m-1 0h2m2 0h2m6 0h2m7 0h2m6 0h2m0 0h2m5 0h2m14 0h2m3 0h2m2 0h2m42 0h2m17 0h2m-218 1h2m5 0h2m-1 0h2m0 0h2m-2 0h2m-1 0h2m0 0h2m1 0h2m-2 0h2m0 0h2m-2 0h2m3 0h2m6 0h2m6 0h2m10 0h2m-1 0h2m-1 0h2m1 0h2m6 0h2m6 0h2m9 0h2m16 0h2m3 0h2m23 0h2m1 0h2m9 0h2m5 0h2m18 0h2m0 0h2m3 0h2m1 0h2m7 0h2m2 0h2m93 0h2m-296 1h2m2 0h2m5 0h2m1 0h2m2 0h2m6 0h2m7 0h2m3 0h2m0 0h2m3 0h2m0 0h2m-1 0h2m7 0h2m-1 0h2m4 0h2m2 0h2m-1 0h2m-1 0h2m3 0h2m3 0h2m2 0h2m9 0h2m-1 0h2m4 0h2m6 0h2m0 0h2m5 0h2m1 0h2m17 0h2m4 0h2m24 0h2m-2 0h2m-182 1h2m-1 0h2m7 0h2m3 0h2m0 0h2m4 0h2m-2 0h2m-1 0h2m2 0h2m0 0h2m7 0h2m3 0h2m3 0h2m0 0h2m4 0h2m-2 0h2m-2 0h2m0 0h2m6 0h2m1 0h2m0 0h2m0 0h2m2 0h2m0 0h2m0 0h2m10 0h2m-1 0h2m21 0h2m11 0h2m0 0h2m12 0h2m9 0h2m5 0h2m23 0h2m0 0h2m-185 1h2m4 0h2m-1 0h2m1 0h2m-1 0h2m3 0h2m-2 0h2m-1 0h2m4 0h2m8 0h2m0 0h2m0 0h2m2 0h2m7 0h2m0 0h2m2 0h2m1 0h2m1 0h2m1 0h2m8 0h2m1 0h2m-2 0h2m-1 0h2m-2 0h2m4 0h2m1 0h2m8 0h2m-1 0h2m16 0h2m2 0h2m2 0h2m9 0h2m7 0h2m-1 0h2m3 0h2m5 0h2m0 0h2m21 0h2m34 0h2m12 0h2m-243 1h2m6 0h2m5 0h2m0 0h2m1 0h2m5 0h2m0 0h2m8 0h2m0 0h2m6 0h2m-1 0h2m3 0h2m-2 0h2m-1 0h2m3 0h2m1 0h2m0 0h2m-1 0h2m6 0h2m0 0h2m1 0h2m3 0h2m45 0h2m16 0h2m1 0h2m3 0h2m8 0h2m0 0h2m-1 0h2m6 0h2m25 0h2m23 0h2m8 0h2m15 0h2m7 0h2m-260 1h2m-2 0h2m4 0h2m5 0h2m-1 0h2m3 0h2m-1 0h2m0 0h2m-2 0h2m2 0h2m-2 0h2m7 0h2m9 0h2m5 0h2m0 0h2m-2 0h2m3 0h2m8 0h2m25 0h2m2 0h2m8 0h2m8 0h2m11 0h2m-1 0h2m-2 0h2m16 0h2m4 0h2m0 0h2m-1 0h2m27 0h2m36 0h2m-236 1h2m10 0h2m1 0h2m5 0h2m3 0h2m4 0h2m-1 0h2m0 0h2m0 0h2m1 0h2m0 0h2m2 0h2m6 0h2m1 0h2m6 0h2m4 0h2m0 0h2m-1 0h2m6 0h2m17 0h2m5 0h2m4 0h2m1 0h2m-2 0h2m-1 0h2m1 0h2m0 0h2m0 0h2m6 0h2m-2 0h2m2 0h2m-1 0h2m11 0h2m8 0h2m2 0h2m17 0h2m19 0h2m21 0h2m-215 1h2m-1 0h2m-1 0h2m5 0h2m1 0h2m3 0h2m2 0h2m4 0h2m5 0h2m-1 0h2m0 0h2m9 0h2m0 0h2m2 0h2m2 0h2m6 0h2m1 0h2m2 0h2m7 0h2m11 0h2m4 0h2m1 0h2m18 0h2m10 0h2m6 0h2m4 0h2m-1 0h2m1 0h2m0 0h2m3 0h2m-2 0h2m5 0h2m4 0h2m-1 0h2m1 0h2m3 0h2m5 0h2m4 0h2m20 0h2m25 0h2m14 0h2m-267 1h2m4 0h2m0 0h2m2 0h2m1 0h2m-1 0h2m-1 0h2m2 0h2m6 0h2m-2 0h2m0 0h2m1 0h2m1 0h2m2 0h2m-1 0h2m-1 0h2m8 0h2m-1 0h2m-1 0h2m-1 0h2m0 0h2m0 0h2m1 0h2m-2 0h2m11 0h2m0 0h2m11 0h2m3 0h2m0 0h2m18 0h2m-2 0h2m1 0h2m-1 0h2m-2 0h2m6 0h2m26 0h2m-1 0h2m2 0h2m28 0h2m22 0h2m5 0h2m26 0h2m-256 1h2m10 0h2m4 0h2m4 0h2m-1 0h2m-1 0h2m9 0h2m5 0h2m3 0h2m13 0h2m1 0h2m4 0h2m5 0h2m-1 0h2m0 0h2m26 0h2m1 0h2m-1 0h2m23 0h2m0 0h2m3 0h2m9 0h2m6 0h2m0 0h2m15 0h2m-1 0h2m99 0h2m-290 1h2m4 0h2m19 0h2m3 0h2m-2 0h2m11 0h2m0 0h2m-2 0h2m0 0h2m4 0h2m2 0h2m3 0h2m-1 0h2m9 0h2m-1 0h2m5 0h2m13 0h2m1 0h2m22 0h2m0 0h2m20 0h2m5 0h2m4 0h2m10 0h2m-2 0h2m5 0h2m17 0h2m-1 0h2m-2 0h2m8 0h2m44 0h2m20 0h2m-267 1h2m-1 0h2m-1 0h2m11 0h2m-1 0h2m1 0h2m0 0h2m6 0h2m0 0h2m14 0h2m-1 0h2m-2 0h2m52 0h2m13 0h2m5 0h2m11 0h2m-1 0h2m2 0h2m-1 0h2m-1 0h2m36 0h2m-193 1h2m1 0h2m1 0h2m-1 0h2m3 0h2m0 0h2m0 0h2m0 0h2m3 0h2m4 0h2m5 0h2m-1 0h2m0 0h2m1 0h2m14 0h2m4 0h2m4 0h2m1 0h2m5 0h2m4 0h2m6 0h2m-1 0h2m1 0h2m25 0h2m0 0h2m4 0h2m5 0h2m-1 0h2m6 0h2m20 0h2m44 0h2m-225 1h2m19 0h2m-1 0h2m-1 0h2m-2 0h2m11 0h2m-2 0h2m1 0h2m-2 0h2m2 0h2m6 0h2m20 0h2m5 0h2m0 0h2m1 0h2m-1 0h2m-2 0h2m-1 0h2m-1 0h2m12 0h2m6 0h2m5 0h2m5 0h2m9 0h2m0 0h2m2 0h2m-1 0h2m4 0h2m17 0h2m4 0h2m5 0h2m3 0h2m-1 0h2m60 0h2m-236 1h2m0 0h2m22 0h2m8 0h2m0 0h2m7 0h2m-1 0h2m-1 0h2m-1 0h2m-1 0h2m0 0h2m-2 0h2m1 0h2m4 0h2m21 0h2m3 0h2m0 0h2m-2 0h2m-2 0h2m14 0h2m12 0h2m4 0h2m9 0h2m-2 0h2m1 0h2m6 0h2m27 0h2m18 0h2m58 0h2m-258 1h2m9 0h2m-2 0h2m3 0h2m2 0h2m1 0h2m10 0h2m1 0h2m11 0h2m5 0h2m16 0h2m7 0h2m12 0h2m0 0h2m-2 0h2m0 0h2m-1 0h2m-2 0h2m8 0h2m3 0h2m-1 0h2m2 0h2m0 0h2m24 0h2m40 0h2m41 0h2m-232 1h2m0 0h2m-1 0h2m-1 0h2m0 0h2m-2 0h2m3 0h2m9 0h2m0 0h2m5 0h2m-1 0h2m0 0h2m0 0h2m0 0h2m0 0h2m-2 0h2m0 0h2m3 0h2m17 0h2m12 0h2m15 0h2m16 0h2m2 0h2m9 0h2m23 0h2m-1 0h2m7 0h2m-1 0h2m27 0h2m15 0h2m8 0h2m-215 1h2m3 0h2m-2 0h2m5 0h2m34 0h2m-1 0h2m33 0h2m-2 0h2m7 0h2m-2 0h2m1 0h2m0 0h2m5 0h2m5 0h2m1 0h2m3 0h2m0 0h2m7 0h2m0 0h2m2 0h2m13 0h2m4 0h2m1 0h2m3 0h2m21 0h2m51 0h2m9 0h2m1 0h2m-275 1h2m11 0h2m-1 0h2m-2 0h2m4 0h2m21 0h2m-1 0h2m1 0h2m-1 0h2m3 0h2m7 0h2m7 0h2m10 0h2m6 0h2m5 0h2m12 0h2m-1 0h2m7 0h2m15 0h2m-2 0h2m-1 0h2m3 0h2m3 0h2m1 0h2m4 0h2m-1 0h2m37 0h2m26 0h2m8 0h2m19 0h2m-274 1h2m20 0h2m4 0h2m6 0h2m1 0h2m3 0h2m1 0h2m6 0h2m8 0h2m7 0h2m5 0h2m-1 0h2m8 0h2m0 0h2m34 0h2m25 0h2m9 0h2m10 0h2m7 0h2m11 0h2m10 0h2m2 0h2m21 0h2m19 0h2m-230 1h2m24 0h2m0 0h2m-1 0h2m0 0h2m22 0h2m9 0h2m4 0h2m3 0h2m12 0h2m2 0h2m9 0h2m-1 0h2m2 0h2m7 0h2m1 0h2m13 0h2m45 0h2m18 0h2m15 0h2m20 0h2m-258 1h2m8 0h2m1 0h2m6 0h2m15 0h2m4 0h2m-1 0h2m10 0h2m3 0h2m-2 0h2m22 0h2m5 0h2m17 0h2m0 0h2m3 0h2m1 0h2m6 0h2m10 0h2m12 0h2m22 0h2m31 0h2m-213 1h2m19 0h2m7 0h2m3 0h2m4 0h2m8 0h2m19 0h2m4 0h2m4 0h2m-1 0h2m57 0h2m17 0h2m124 0h2m-291 1h2m0 0h2m0 0h2m3 0h2m-1 0h2m2 0h2m18 0h2m3 0h2m30 0h2m6 0h2m22 0h2m1 0h2m10 0h2m1 0h2m1 0h2m0 0h2m8 0h2m32 0h2m1 0h2m1 0h2m10 0h2m-1 0h2m42 0h2m5 0h2m23 0h2m-264 1h2m8 0h2m22 0h2m2 0h2m4 0h2m27 0h2m24 0h2m0 0h2m-2 0h2m5 0h2m22 0h2m1 0h2m7 0h2m21 0h2m-166 1h2m0 0h2m25 0h2m6 0h2m-1 0h2m14 0h2m20 0h2m8 0h2m1 0h2m1 0h2m17 0h2m0 0h2m17 0h2m5 0h2m30 0h2m14 0h2m25 0h2m2 0h2m-213 1h2m3 0h2m12 0h2m4 0h2m13 0h2m6 0h2m11 0h2m6 0h2m-1 0h2m1 0h2m9 0h2m36 0h2m0 0h2m4 0h2m18 0h2m14 0h2m88 0h2m-252 1h2m3 0h2m3 0h2m-2 0h2m21 0h2m1 0h2m7 0h2m5 0h2m7 0h2m28 0h2m12 0h2m32 0h2m2 0h2m35 0h2m-195 1h2m22 0h2m2 0h2m30 0h2m9 0h2m16 0h2m0 0h2m8 0h2m2 0h2m0 0h2m30 0h2m27 0h2m7 0h2m99 0h2m4 0h2m-288 1h2m29 0h2m16 0h2m1 0h2m3 0h2m8 0h2m1 0h2m4 0h2m-1 0h2m3 0h2m5 0h2m11 0h2m0 0h2m2 0h2m-1 0h2m20 0h2m5 0h2m-1 0h2m7 0h2m20 0h2m-158 1h2m32 0h2m2 0h2m23 0h2m22 0h2m1 0h2m-2 0h2m33 0h2m23 0h2m8 0h2m2 0h2m17 0h2m16 0h2m51 0h2m-261 1h2m14 0h2m7 0h2m1 0h2m57 0h2m39 0h2m25 0h2m14 0h2m0 0h2m32 0h2m48 0h2m-256 1h2m9 0h2m59 0h2m-2 0h2m52 0h2m1 0h2m3 0h2m6 0h2m10 0h2m-176 1h2m37 0h2m17 0h2m42 0h2m19 0h2m2 0h2m10 0h2m4 0h2m8 0h2m15 0h2m-151 1h2m9 0h2m56 0h2m2 0h2m22 0h2m19 0h2m2 0h2m26 0h2m15 0h2m81 0h2m-243 1h2m8 0h2m57 0h2m1 0h2m1 0h2m2 0h2m6 0h2m1 0h2m16 0h2m1 0h2m4 0h2m3 0h2m44 0h2m12 0h2m19 0h2m25 0h2m9 0h2m-279 1h2m48 0h2m20 0h2m5 0h2m3 0h2m53 0h2m14 0h2m7 0h2m0 0h2m15 0h2m5 0h2m12 0h2m18 0h2m-207 1h2m71 0h2m20 0h2m6 0h2m19 0h2m1 0h2m6 0h2m6 0h2m20 0h2m11 0h2m61 0h2m28 0h2m-227 1h2m41 0h2m1 0h2m66 0h2m-140 1h2m106 0h2m87 0h2m-196 1h2m-2 0h2m15 0h2m32 0h2m27 0h2m0 0h2m6 0h2m24 0h2m13 0h2m35 0h2m-174 1h2m32 0h2m36 0h2m12 0h2m6 0h2m22 0h2m60 0h2m10 0h2m-136 1h2m2 0h2m34 0h2m18 0h2m9 0h2m24 0h2m104 0h2m-1 0h2m-247 1h2m74 0h2m7 0h2m163 0h2m-237 1h2m23 0h2m18 1h2m59 0h2m13 0h2m42 0h2m19 0h2m-159 1h2m29 0h2m3 0h2m27 0h2m88 0h2m-165 1h2m6 0h2m107 0h2m-128 1h2m185 0h2m0 0h2m-209 1h2m124 0h2m19 0h2m-99 1h2m32 0h2m15 0h2m135 0h2m-214 1h2m5 0h2m168 0h2m-212 1h2m30 0h2m41 0h2m21 0h2m26 0h2m37 0h2m31 0h2m-115 1h2m-42 1h2m12 0h2m2 0h2m50 0h2m37 0h2m-107 1h2m37 0h2m-32 1h2m55 1h2m32 0h2m0 0h2m-101 1h2m90 0h2m49 0h2m-22 1h2m-1 0h2m-117 1h2m-53 2h2m194 0h2m38 1h2m-185 1h2m39 1h2m28 0h2m14 0h2m-36 2h2m14 2h2m3 0h2m-68 2h2m47 0h2m-64 1h2m48 0h2m8 0h2m-60 1h2m116 0h2m-135 2h2m55 0h2m-57 8h2" stroke="#000" stroke-opacity="0.6" stroke-width="2" transform="scale(.5)"/>
<path d="M793 56h2m-67 5h2m-53 4h2m85 0h2m-52 2h2m-39 2h2m65 2h2m86 0h2m-156 3h2m43 0h2m-47 1h2m10 0h2m35 0h2m62 0h2m43 0h2m-78 2h2m-96 1h2m20 0h2m40 0h2m-68 1h2m12 0h2m4 1h2m40 0h2m-62 1h2m75 0h2m-58 1h2m27 0h2m69 0h2m15 0h2m11 0h2m-147 1h2m2 0h2m11 0h2m11 0h2m12 0h2m48 0h2m-123 1h2m11 0h2m16 0h2m22 0h2m13 0h2m2 0h2m24 0h2m4 0h2m-92 1h2m7 0h2m-1 0h2m5 0h2m38 0h2m-39 1h2m0 0h2m20 0h2m20 0h2m32 0h2m105 0h2m-193 1h2m6 0h2m-1 0h2m0 0h2m35 0h2m7 0h2m51 0h2m-141 1h2m5 0h2m0 0h2m64 0h2m4 0h2m16 0h2m4 0h2m75 0h2m-197 1h2m89 0h2m176 0h2m-232 1h2m56 0h2m-78 1h2m19 0h2m21 0h2m10 0h2m5 0h2m26 0h2m11 0h2m-116 1h2m18 0h2m2 0h2m5 0h2m7 0h2m-2 0h2m24 0h2m11 0h2m10 0h2m30 0h2m3 0h2m41 0h2m-170 1h2m28 0h2m3 0h2m0 0h2m5 0h2m16 0h2m5 0h2m0 0h2m-1 0h2m-2 0h2m5 0h2m0 0h2m-104 1h2m24 0h2m23 0h2m2 0h2m2 0h2m31 0h2m15 0h2m-1 0h2m124 0h2m-233 1h2m11 0h2m13 0h2m5 0h2m-2 0h2m1 0h2m-1 0h2m9 0h2m22 0h2m-1 0h2m13 0h2m38 0h2m34 0h2m-163 1h2m9 0h2m5 0h2m131 0h2m17 0h2m39 0h2m-223 1h2m1 0h2m7 0h2m16 0h2m24 0h2m0 0h2m25 0h2m20 0h2m-94 1h2m2 0h2m-2 0h2m0 0h2m1 0h2m7 0h2m10 0h2m12 0h2m0 0h2m2 0h2m-2 0h2m-1 0h2m91 0h2m0 0h2m-138 1h2m-2 0h2m-1 0h2m19 0h2m-1 0h2m21 0h2m3 0h2m116 0h2m-193 1h2m20 0h2m0 0h2m15 0h2m-1 0h2m0 0h2m3 0h2m-1 0h2m7 0h2m2 0h2m8 0h2m12 0h2m22 0h2m133 0h2m-245 1h2m2 0h2m4 0h2m12 0h2m-2 0h2m-1 0h2m12 0h2m2 0h2m10 0h2m15 0h2m0 0h2m-2 0h2m20 0h2m3 0h2m8 0h2m8 0h2m17 0h2m33 0h2m40 0h2m-222 1h2m4 0h2m2 0h2m23 0h2m8 0h2m-1 0h2m6 0h2m4 0h2m24 0h2m14 0h2m8 0h2m7 0h2m46 0h2m-183 1h2m7 0h2m0 0h2m-1 0h2m5 0h2m7 0h2m2 0h2m0 0h2m1 0h2m17 0h2m10 0h2m11 0h2m19 0h2m6 0h2m12 0h2m22 0h2m0 0h2m5 0h2m3 0h2m37 0h2m-192 1h2m7 0h2m2 0h2m-1 0h2m20 0h2m-1 0h2m5 0h2m2 0h2m0 0h2m39 0h2m27 0h2m46 0h2m-180 1h2m8 0h2m0 0h2m3 0h2m4 0h2m-1 0h2m3 0h2m15 0h2m16 0h2m10 0h2m-1 0h2m2 0h2m6 0h2m6 0h2m1 0h2m-2 0h2m1 0h2m11 0h2m2 0h2m65 0h2m-186 1h2m10 0h2m12 0h2m1 0h2m1 0h2m3 0h2m-1 0h2m2 0h2m-2 0h2m3 0h2m3 0h2m54 0h2m-1 0h2m4 0h2m0 0h2m2 0h2m6 0h2m0 0h2m13 0h2m11 0h2m4 0h2m25 0h2m-194 1h2m1 0h2m19 0h2m2 0h2m12 0h2m0 0h2m7 0h2m3 0h2m1 0h2m0 0h2m0 0h2m3 0h2m3 0h2m-1 0h2m32 0h2m0 0h2m-1 0h2m-2 0h2m7 0h2m28 0h2m-154 1h2m-1 0h2m2 0h2m4 0h2m5 0h2m7 0h2m-1 0h2m0 0h2m1 0h2m0 0h2m16 0h2m2 0h2m1 0h2m2 0h2m28 0h2m2 0h2m0 0h2m-1 0h2m-2 0h2m14 0h2m1 0h2m8 0h2m4 0h2m6 0h2m0 0h2m3 0h2m19 0h2m10 0h2m-182 1h2m-1 0h2m-1 0h2m-1 0h2m6 0h2m7 0h2m-1 0h2m1 0h2m-2 0h2m0 0h2m2 0h2m5 0h2m0 0h2m13 0h2m3 0h2m-1 0h2m1 0h2m19 0h2m19 0h2m2 0h2m12 0h2m7 0h2m2 0h2m27 0h2m2 0h2m7 0h2m-199 1h2m2 0h2m15 0h2m-1 0h2m-1 0h2m-1 0h2m-1 0h2m1 0h2m11 0h2m5 0h2m0 0h2m2 0h2m17 0h2m5 0h2m4 0h2m0 0h2m-1 0h2m0 0h2m-1 0h2m16 0h2m-2 0h2m22 0h2m6 0h2m18 0h2m9 0h2m7 0h2m9 0h2m74 0h2m-272 1h2m3 0h2m-1 0h2m3 0h2m0 0h2m0 0h2m3 0h2m5 0h2m-2 0h2m18 0h2m2 0h2m-2 0h2m-1 0h2m2 0h2m9 0h2m-1 0h2m11 0h2m6 0h2m-2 0h2m3 0h2m1 0h2m7 0h2m5 0h2m0 0h2m5 0h2m-1 0h2m13 0h2m-1 0h2m3 0h2m11 0h2m40 0h2m-186 1h2m-2 0h2m1 0h2m1 0h2m-2 0h2m1 0h2m5 0h2m7 0h2m4 0h2m7 0h2m3 0h2m3 0h2m7 0h2m2 0h2m3 0h2m2 0h2m3 0h2m11 0h2m32 0h2m-2 0h2m0 0h2m-1 0h2m75 0h2m8 0h2m-228 1h2m12 0h2m20 0h2m-1 0h2m4 0h2m0 0h2m-1 0h2m13 0h2m7 0h2m2 0h2m3 0h2m10 0h2m1 0h2m6 0h2m22 0h2m7 0h2m23 0h2m46 0h2m-211 1h2m3 0h2m19 0h2m0 0h2m1 0h2m8 0h2m4 0h2m-2 0h2m8 0h2m1 0h2m3 0h2m8 0h2m-1 0h2m-2 0h2m2 0h2m4 0h2m28 0h2m-1 0h2m-1 0h2m17 0h2m24 0h2m38 0h2m17 0h2m1 0h2m-227 1h2m15 0h2m5 0h2m-2 0h2m1 0h2m0 0h2m7 0h2m2 0h2m-2 0h2m-1 0h2m8 0h2m12 0h2m0 0h2m-2 0h2m5 0h2m3 0h2m16 0h2m2 0h2m17 0h2m1 0h2m1 0h2m-1 0h2m20 0h2m17 0h2m-2 0h2m4 0h2m28 0h2m20 0h2m-232 1h2m0 0h2m-1 0h2m-2 0h2m-1 0h2m-1 0h2m-2 0h2m0 0h2m1 0h2m-1 0h2m-1 0h2m-1 0h2m-1 0h2m12 0h2m3 0h2m1 0h2m-1 0h2m-1 0h2m5 0h2m0 0h2m6 0h2m1 0h2m2 0h2m-1 0h2m9 0h2m9 0h2m1 0h2m19 0h2m4 0h2m25 0h2m12 0h2m39 0h2m39 0h2m-245 1h2m2 0h2m-1 0h2m0 0h2m4 0h2m1 0h2m4 0h2m0 0h2m3 0h2m-1 0h2m-1 0h2m18 0h2m19 0h2m7 0h2m1 0h2m8 0h2m-1 0h2m7 0h2m15 0h2m5 0h2m23 0h2m10 0h2m1 0h2m56 0h2m-225 1h2m1 0h2m9 0h2m-1 0h2m2 0h2m11 0h2m-1 0h2m1 0h2m0 0h2m-1 0h2m1 0h2m0 0h2m1 0h2m11 0h2m10 0h2m9 0h2m25 0h2m1 0h2m9 0h2m-1 0h2m25 0h2m23 0h2m14 0h2m10 0h2m-218 1h2m2 0h2m5 0h2m5 0h2m5 0h2m-1 0h2m1 0h2m1 0h2m5 0h2m1 0h2m-2 0h2m-1 0h2m-1 0h2m3 0h2m-1 0h2m-1 0h2m-2 0h2m2 0h2m3 0h2m18 0h2m0 0h2m-2 0h2m0 0h2m-2 0h2m-1 0h2m-2 0h2m8 0h2m-1 0h2m-1 0h2m13 0h2m15 0h2m0 0h2m2 0h2m7 0h2m6 0h2m29 0h2m22 0h2m15 0h2m15 0h2m-235 1h2m8 0h2m-2 0h2m0 0h2m2 0h2m-2 0h2m-2 0h2m2 0h2m0 0h2m2 0h2m-2 0h2m3 0h2m4 0h2m-2 0h2m0 0h2m3 0h2m2 0h2m1 0h2m2 0h2m0 0h2m0 0h2m0 0h2m0 0h2m4 0h2m-1 0h2m4 0h2m0 0h2m6 0h2m-1 0h2m13 0h2m2 0h2m6 0h2m-1 0h2m5 0h2m9 0h2m3 0h2m15 0h2m59 0h2m13 0h2m-234 1h2m2 0h2m0 0h2m-1 0h2m8 0h2m4 0h2m7 0h2m2 0h2m3 0h2m1 0h2m-1 0h2m-1 0h2m11 0h2m3 0h2m1 0h2m4 0h2m5 0h2m4 0h2m38 0h2m2 0h2m-1 0h2m1 0h2m3 0h2m10 0h2m8 0h2m-1 0h2m9 0h2m11 0h2m16 0h2m-1 0h2m0 0h2m1 0h2m-210 1h2m8 0h2m3 0h2m2 0h2m-2 0h2m-1 0h2m-1 0h2m-1 0h2m-1 0h2m-2 0h2m-2 0h2m-1 0h2m1 0h2m3 0h2m-1 0h2m1 0h2m10 0h2m-2 0h2m3 0h2m5 0h2m1 0h2m0 0h2m1 0h2m-1 0h2m0 0h2m1 0h2m6 0h2m1 0h2m-1 0h2m3 0h2m3 0h2m2 0h2m10 0h2m-1 0h2m1 0h2m0 0h2m13 0h2m-2 0h2m36 0h2m7 0h2m7 0h2m7 0h2m31 0h2m-234 1h2m11 0h2m6 0h2m4 0h2m-1 0h2m3 0h2m0 0h2m2 0h2m1 0h2m0 0h2m0 0h2m3 0h2m1 0h2m0 0h2m-1 0h2m3 0h2m2 0h2m11 0h2m-1 0h2m3 0h2m0 0h2m10 0h2m-2 0h2m-1 0h2m5 0h2m5 0h2m0 0h2m-2 0h2m0 0h2m-2 0h2m15 0h2m12 0h2m6 0h2m1 0h2m31 0h2m16 0h2m80 0h2m-278 1h2m0 0h2m1 0h2m-1 0h2m-2 0h2m-1 0h2m-2 0h2m2 0h2m1 0h2m-2 0h2m2 0h2m2 0h2m-1 0h2m0 0h2m0 0h2m1 0h2m4 0h2m5 0h2m4 0h2m4 0h2m6 0h2m9 0h2m8 0h2m16 0h2m6 0h2m3 0h2m3 0h2m1 0h2m-1 0h2m1 0h2m3 0h2m4 0h2m-1 0h2m2 0h2m-1 0h2m-2 0h2m7 0h2m19 0h2m34 0h2m-1 0h2m6 0h2m82 0h2m-309 1h2m-1 0h2m0 0h2m-1 0h2m3 0h2m1 0h2m2 0h2m7 0h2m21 0h2m5 0h2m0 0h2m2 0h2m15 0h2m1 0h2m0 0h2m15 0h2m6 0h2m20 0h2m4 0h2m5 0h2m17 0h2m1 0h2m3 0h2m-1 0h2m105 0h2m-291 1h2m4 0h2m8 0h2m-2 0h2m-1 0h2m-1 0h2m7 0h2m1 0h2m10 0h2m-2 0h2m-1 0h2m-1 0h2m-2 0h2m1 0h2m2 0h2m1 0h2m-2 0h2m4 0h2m6 0h2m-1 0h2m9 0h2m1 0h2m3 0h2m-1 0h2m2 0h2m13 0h2m39 0h2m4 0h2m-2 0h2m1 0h2m7 0h2m6 0h2m6 0h2m10 0h2m87 0h2m-279 1h2m15 0h2m2 0h2m1 0h2m1 0h2m3 0h2m-1 0h2m1 0h2m2 0h2m-2 0h2m-1 0h2m1 0h2m2 0h2m2 0h2m3 0h2m-1 0h2m6 0h2m-2 0h2m9 0h2m4 0h2m1 0h2m22 0h2m5 0h2m21 0h2m-1 0h2m14 0h2m19 0h2m6 0h2m8 0h2m1 0h2m3 0h2m13 0h2m14 0h2m-227 1h2m3 0h2m4 0h2m0 0h2m10 0h2m-1 0h2m-1 0h2m10 0h2m2 0h2m-1 0h2m-1 0h2m11 0h2m10 0h2m11 0h2m25 0h2m23 0h2m1 0h2m-1 0h2m-1 0h2m0 0h2m0 0h2m6 0h2m-1 0h2m1 0h2m3 0h2m20 0h2m6 0h2m98 0h2m-288 1h2m17 0h2m-1 0h2m-2 0h2m4 0h2m-2 0h2m-1 0h2m1 0h2m0 0h2m2 0h2m0 0h2m1 0h2m-2 0h2m8 0h2m38 0h2m6 0h2m0 0h2m0 0h2m-1 0h2m28 0h2m8 0h2m13 0h2m39 0h2m8 0h2m-204 1h2m1 0h2m0 0h2m-2 0h2m15 0h2m0 0h2m0 0h2m-1 0h2m5 0h2m-1 0h2m21 0h2m40 0h2m9 0h2m18 0h2m2 0h2m10 0h2m15 0h2m15 0h2m53 0h2m-247 1h2m6 0h2m5 0h2m21 0h2m0 0h2m8 0h2m-1 0h2m-1 0h2m2 0h2m-1 0h2m0 0h2m-1 0h2m1 0h2m-1 0h2m-1 0h2m3 0h2m10 0h2m-1 0h2m4 0h2m22 0h2m10 0h2m9 0h2m7 0h2m10 0h2m1 0h2m1 0h2m21 0h2m16 0h2m76 0h2m-302 1h2m27 0h2m2 0h2m6 0h2m-1 0h2m13 0h2m-2 0h2m2 0h2m5 0h2m1 0h2m-2 0h2m-1 0h2m33 0h2m10 0h2m13 0h2m8 0h2m3 0h2m4 0h2m1 0h2m0 0h2m0 0h2m23 0h2m0 0h2m14 0h2m-1 0h2m23 0h2m25 0h2m-256 1h2m20 0h2m0 0h2m2 0h2m2 0h2m12 0h2m10 0h2m3 0h2m5 0h2m7 0h2m16 0h2m10 0h2m0 0h2m14 0h2m-1 0h2m7 0h2m1 0h2m6 0h2m19 0h2m15 0h2m15 0h2m4 0h2m6 0h2m-194 1h2m4 0h2m3 0h2m0 0h2m-1 0h2m-1 0h2m3 0h2m13 0h2m6 0h2m2 0h2m15 0h2m1 0h2m1 0h2m15 0h2m-2 0h2m10 0h2m4 0h2m6 0h2m1 0h2m2 0h2m5 0h2m3 0h2m12 0h2m0 0h2m3 0h2m0 0h2m-1 0h2m11 0h2m1 0h2m27 0h2m9 0h2m1 0h2m-234 1h2m5 0h2m0 0h2m16 0h2m9 0h2m7 0h2m7 0h2m10 0h2m-2 0h2m5 0h2m5 0h2m19 0h2m9 0h2m-1 0h2m-2 0h2m6 0h2m2 0h2m1 0h2m8 0h2m11 0h2m8 0h2m2 0h2m0 0h2m29 0h2m1 0h2m77 0h2m-269 1h2m24 0h2m-2 0h2m2 0h2m12 0h2m21 0h2m-2 0h2m12 0h2m28 0h2m9 0h2m3 0h2m10 0h2m0 0h2m4 0h2m0 0h2m10 0h2m1 0h2m22 0h2m11 0h2m2 0h2m-193 1h2m9 0h2m0 0h2m-1 0h2m-1 0h2m5 0h2m17 0h2m7 0h2m-1 0h2m1 0h2m15 0h2m6 0h2m4 0h2m37 0h2m27 0h2m-2 0h2m69 0h2m2 0h2m-247 1h2m25 0h2m2 0h2m7 0h2m0 0h2m-1 0h2m6 0h2m1 0h2m0 0h2m0 0h2m7 0h2m-1 0h2m39 0h2m0 0h2m-1 0h2m6 0h2m10 0h2m3 0h2m-1 0h2m31 0h2m9 0h2m2 0h2m15 0h2m26 0h2m0 0h2m-230 1h2m9 0h2m10 0h2m17 0h2m-1 0h2m-2 0h2m1 0h2m15 0h2m1 0h2m-1 0h2m1 0h2m22 0h2m0 0h2m0 0h2m6 0h2m4 0h2m0 0h2m3 0h2m0 0h2m18 0h2m-2 0h2m2 0h2m10 0h2m7 0h2m5 0h2m-161 1h2m-1 0h2m-1 0h2m8 0h2m4 0h2m3 0h2m28 0h2m1 0h2m30 0h2m-2 0h2m16 0h2m7 0h2m14 0h2m10 0h2m10 0h2m0 0h2m25 0h2m50 0h2m-249 1h2m20 0h2m0 0h2m12 0h2m1 0h2m15 0h2m3 0h2m1 0h2m18 0h2m13 0h2m4 0h2m-2 0h2m3 0h2m1 0h2m14 0h2m-2 0h2m-1 0h2m62 0h2m-2 0h2m10 0h2m-218 1h2m26 0h2m51 0h2m0 0h2m6 0h2m2 0h2m11 0h2m0 0h2m-1 0h2m6 0h2m10 0h2m24 0h2m-1 0h2m12 0h2m-2 0h2m19 0h2m1 0h2m12 0h2m19 0h2m13 0h2m-251 1h2m22 0h2m0 0h2m-2 0h2m6 0h2m4 0h2m17 0h2m13 0h2m-2 0h2m3 0h2m-1 0h2m0 0h2m0 0h2m21 0h2m-2 0h2m0 0h2m4 0h2m9 0h2m7 0h2m6 0h2m0 0h2m10 0h2m13 0h2m6 0h2m2 0h2m12 0h2m11 0h2m5 0h2m2 0h2m18 0h2m4 0h2m-227 1h2m5 0h2m4 0h2m8 0h2m1 0h2m2 0h2m35 0h2m41 0h2m0 0h2m24 0h2m4 0h2m-2 0h2m16 0h2m26 0h2m47 0h2m-227 1h2m5 0h2m8 0h2m5 0h2m22 0h2m3 0h2m5 0h2m6 0h2m25 0h2m0 0h2m1 0h2m7 0h2m-1 0h2m13 0h2m8 0h2m-2 0h2m46 0h2m-205 1h2m23 0h2m1 0h2m-2 0h2m3 0h2m0 0h2m3 0h2m9 0h2m2 0h2m10 0h2m4 0h2m9 0h2m22 0h2m3 0h2m13 0h2m0 0h2m22 0h2m25 0h2m93 0h2m-290 1h2m2 0h2m12 0h2m6 0h2m10 0h2m0 0h2m8 0h2m4 0h2m5 0h2m13 0h2m1 0h2m26 0h2m6 0h2m0 0h2m1 0h2m5 0h2m3 0h2m-1 0h2m15 0h2m4 0h2m-1 0h2m-2 0h2m12 0h2m10 0h2m-1 0h2m22 0h2m4 0h2m70 0h2m-275 1h2m14 0h2m19 0h2m36 0h2m34 0h2m3 0h2m11 0h2m0 0h2m0 0h2m6 0h2m3 0h2m5 0h2m40 0h2m0 0h2m65 0h2m4 0h2m-254 1h2m10 0h2m9 0h2m28 0h2m15 0h2m0 0h2m2 0h2m11 0h2m-1 0h2m2 0h2m9 0h2m3 0h2m2 0h2m19 0h2m43 0h2m-1 0h2m3 0h2m24 0h2m24 0h2m-256 1h2m74 0h2m2 0h2m11 0h2m2 0h2m12 0h2m2 0h2m-1 0h2m5 0h2m3 0h2m9 0h2m74 0h2m4 0h2m-212 1h2m27 0h2m3 0h2m21 0h2m31 0h2m1 0h2m35 0h2m17 0h2m-1 0h2m18 0h2m65 0h2m-260 1h2m18 0h2m-1 0h2m14 0h2m18 0h2m31 0h2m1 0h2m4 0h2m9 0h2m29 0h2m15 0h2m22 0h2m0 0h2m6 0h2m4 0h2m-197 1h2m22 0h2m40 0h2m10 0h2m16 0h2m3 0h2m2 0h2m-2 0h2m10 0h2m10 0h2m47 0h2m-1 0h2m5 0h2m-173 1h2m13 0h2m1 0h2m39 0h2m0 0h2m0 0h2m1 0h2m0 0h2m1 0h2m8 0h2m0 0h2m7 0h2m53 0h2m12 0h2m16 0h2m6 0h2m46 0h2m-164 1h2m45 0h2m6 0h2m33 0h2m26 0h2m-171 1h2m49 0h2m21 0h2m-2 0h2m1 0h2m6 0h2m8 0h2m11 0h2m3 0h2m26 0h2m6 0h2m56 0h2m-221 1h2m0 0h2m29 0h2m15 0h2m45 0h2m6 0h2m10 0h2m-2 0h2m7 0h2m3 0h2m33 0h2m56 0h2m37 0h2m-262 1h2m9 0h2m28 0h2m4 0h2m0 0h2m25 0h2m98 0h2m2 0h2m6 0h2m-178 1h2m3 0h2m3 0h2m2 0h2m1 0h2m5 0h2m3 0h2m25 0h2m15 0h2m12 0h2m1 0h2m25 0h2m110 0h2m-212 1h2m5 0h2m26 0h2m7 0h2m7 0h2m3 0h2m33 0h2m114 0h2m0 0h2m-130 1h2m44 0h2m-77 1h2m1 0h2m25 0h2m33 0h2m19 0h2m24 0h2m2 0h2m14 0h2m7 0h2m17 0h2m16 0h2m-193 1h2m12 0h2m25 0h2m117 0h2m-165 1h2m32 0h2m4 0h2m72 0h2m-205 1h2m124 0h2m40 0h2m3 0h2m29 0h2m56 0h2m-142 1h2m0 0h2m1 0h2m28 0h2m9 0h2m-123 1h2m45 0h2m57 0h2m16 0h2m35 0h2m21 0h2m-220 1h2m32 0h2m7 0h2m22 0h2m174 0h2m4 0h2m-232 1h2m29 0h2m106 0h2m16 0h2m14 0h2m0 0h2m41 0h2m-203 1h2m40 0h2m94 0h2m-156 1h2m102 0h2m10 0h2m-67 1h2m115 0h2m57 0h2m-174 1h2m113 0h2m16 0h2m-217 1h2m203 0h2m-102 2h2m81 0h2m-41 1h2m49 0h2m-157 1h2m121 0h2m-66 1h2m4 0h2m71 0h2m40 0h2m8 0h2m-23 1h2m-56 1h2m18 0h2m11 2h2m-36 3h2m2 0h2m-33 2h2m-54 3h2m53 0h2m125 3h2m-202 5h2" stroke="#000" stroke-opacity="0.6" stroke-width="2" transform="scale(.5)"/>
<path d="M686 55h2m90 3h2m-47 3h2m-49 3h2m-16 3h2m1 1h2m150 0h2m-72 3h2m-98 1h2m37 1h2m13 3h2m0 0h2m8 1h2m13 0h2m-4 1h2m-46 1h2m59 0h2m6 0h2m-69 1h2m19 0h2m55 0h2m-73 1h2m2 0h2m1 0h2m0 0h2m23 0h2m-74 1h2m34 0h2m24 0h2m3 0h2m3 0h2m26 0h2m-70 1h2m8 0h2m-51 1h2m21 0h2m6 0h2m12 0h2m-2 0h2m24 0h2m17 0h2m3 0h2m3 0h2m-79 1h2m10 0h2m4 0h2m1 0h2m2 0h2m-57 1h2m28 0h2m26 0h2m56 0h2m14 0h2m-129 1h2m9 0h2m38 0h2m18 0h2m-2 0h2m36 0h2m-112 1h2m18 0h2m39 0h2m13 0h2m10 0h2m7 0h2m-90 1h2m14 0h2m4 0h2m12 0h2m14 0h2m8 0h2m5 0h2m48 0h2m-91 1h2m6 0h2m-1 0h2m-2 0h2m60 0h2m6 0h2m-143 1h2m30 0h2m-2 0h2m38 0h2m-69 1h2m18 0h2m15 0h2m6 0h2m7 0h2m2 0h2m29 0h2m94 0h2m-173 1h2m1 0h2m7 0h2m12 0h2m9 0h2m1 0h2m-1 0h2m12 0h2m65 0h2m-125 1h2m2 0h2m8 0h2m9 0h2m14 0h2m5 0h2m9 0h2m-1 0h2m11 0h2m27 0h2m28 0h2m49 0h2m-178 1h2m14 0h2m0 0h2m3 0h2m25 0h2m0 0h2m18 0h2m-96 1h2m27 0h2m-1 0h2m6 0h2m12 0h2m8 0h2m-2 0h2m5 0h2m-1 0h2m6 0h2m18 0h2m81 0h2m-162 1h2m2 0h2m-1 0h2m27 0h2m30 0h2m3 0h2m19 0h2m11 0h2m5 0h2m-145 1h2m2 0h2m44 0h2m-2 0h2m17 0h2m4 0h2m5 0h2m1 0h2m0 0h2m5 0h2m8 0h2m7 0h2m7 0h2m-113 1h2m30 0h2m9 0h2m-2 0h2m19 0h2m22 0h2m50 0h2m17 0h2m-160 1h2m6 0h2m2 0h2m2 0h2m0 0h2m7 0h2m5 0h2m16 0h2m3 0h2m0 0h2m5 0h2m4 0h2m50 0h2m1 0h2m82 0h2m-231 1h2m0 0h2m21 0h2m4 0h2m9 0h2m3 0h2m6 0h2m63 0h2m-1 0h2m3 0h2m10 0h2m-133 1h2m2 0h2m7 0h2m0 0h2m4 0h2m3 0h2m25 0h2m0 0h2m21 0h2m0 0h2m0 0h2m33 0h2m21 0h2m-138 1h2m-1 0h2m33 0h2m3 0h2m1 0h2m3 0h2m11 0h2m21 0h2m0 0h2m10 0h2m6 0h2m4 0h2m79 0h2m-200 1h2m0 0h2m29 0h2m22 0h2m40 0h2m8 0h2m17 0h2m24 0h2m31 0h2m-200 1h2m10 0h2m7 0h2m0 0h2m0 0h2m0 0h2m7 0h2m1 0h2m6 0h2m-1 0h2m21 0h2m-1 0h2m-2 0h2m1 0h2m-1 0h2m5 0h2m4 0h2m23 0h2m0 0h2m11 0h2m37 0h2m13 0h2m-183 1h2m12 0h2m3 0h2m0 0h2m2 0h2m-1 0h2m2 0h2m1 0h2m3 0h2m1 0h2m18 0h2m14 0h2m0 0h2m0 0h2m5 0h2m23 0h2m10 0h2m4 0h2m13 0h2m14 0h2m28 0h2m-188 1h2m0 0h2m2 0h2m13 0h2m2 0h2m-1 0h2m-2 0h2m1 0h2m0 0h2m-1 0h2m5 0h2m1 0h2m-1 0h2m4 0h2m-1 0h2m13 0h2m5 0h2m13 0h2m0 0h2m3 0h2m5 0h2m12 0h2m8 0h2m2 0h2m32 0h2m4 0h2m-177 1h2m-1 0h2m5 0h2m3 0h2m2 0h2m0 0h2m-2 0h2m7 0h2m-1 0h2m-1 0h2m2 0h2m3 0h2m-1 0h2m7 0h2m5 0h2m0 0h2m5 0h2m3 0h2m8 0h2m0 0h2m4 0h2m-1 0h2m2 0h2m11 0h2m119 0h2m2 0h2m10 0h2m-251 1h2m5 0h2m13 0h2m-1 0h2m-1 0h2m22 0h2m3 0h2m1 0h2m0 0h2m-2 0h2m9 0h2m-2 0h2m1 0h2m3 0h2m-1 0h2m-1 0h2m16 0h2m6 0h2m-1 0h2m7 0h2m4 0h2m17 0h2m-128 1h2m0 0h2m3 0h2m8 0h2m2 0h2m1 0h2m-1 0h2m0 0h2m2 0h2m4 0h2m5 0h2m7 0h2m18 0h2m7 0h2m5 0h2m0 0h2m2 0h2m23 0h2m9 0h2m19 0h2m3 0h2m10 0h2m1 0h2m57 0h2m-251 1h2m0 0h2m15 0h2m-2 0h2m18 0h2m0 0h2m-1 0h2m4 0h2m11 0h2m0 0h2m-2 0h2m5 0h2m6 0h2m10 0h2m1 0h2m18 0h2m7 0h2m27 0h2m37 0h2m-187 1h2m-1 0h2m1 0h2m0 0h2m-1 0h2m9 0h2m2 0h2m0 0h2m6 0h2m2 0h2m0 0h2m-1 0h2m-1 0h2m-2 0h2m1 0h2m18 0h2m4 0h2m12 0h2m5 0h2m3 0h2m6 0h2m0 0h2m2 0h2m-2 0h2m2 0h2m14 0h2m1 0h2m39 0h2m9 0h2m27 0h2m-213 1h2m10 0h2m0 0h2m-2 0h2m16 0h2m-1 0h2m1 0h2m6 0h2m16 0h2m47 0h2m-2 0h2m2 0h2m1 0h2m3 0h2m35 0h2m1 0h2m66 0h2m-245 1h2m2 0h2m-1 0h2m15 0h2m4 0h2m7 0h2m1 0h2m2 0h2m3 0h2m-1 0h2m-1 0h2m0 0h2m-2 0h2m-1 0h2m5 0h2m5 0h2m-1 0h2m26 0h2m25 0h2m-1 0h2m27 0h2m16 0h2m0 0h2m6 0h2m11 0h2m3 0h2m-200 1h2m10 0h2m0 0h2m5 0h2m9 0h2m4 0h2m1 0h2m11 0h2m2 0h2m4 0h2m-1 0h2m6 0h2m4 0h2m12 0h2m3 0h2m13 0h2m5 0h2m3 0h2m7 0h2m10 0h2m3 0h2m-1 0h2m18 0h2m79 0h2m-257 1h2m4 0h2m0 0h2m1 0h2m-1 0h2m-1 0h2m-2 0h2m4 0h2m-2 0h2m1 0h2m-2 0h2m1 0h2m0 0h2m2 0h2m10 0h2m6 0h2m0 0h2m0 0h2m-1 0h2m1 0h2m4 0h2m21 0h2m-2 0h2m3 0h2m0 0h2m0 0h2m0 0h2m18 0h2m6 0h2m12 0h2m3 0h2m23 0h2m7 0h2m0 0h2m5 0h2m2 0h2m23 0h2m28 0h2m-246 1h2m0 0h2m2 0h2m-1 0h2m0 0h2m-2 0h2m-1 0h2m2 0h2m3 0h2m2 0h2m0 0h2m4 0h2m2 0h2m-1 0h2m3 0h2m3 0h2m3 0h2m6 0h2m0 0h2m27 0h2m21 0h2m8 0h2m-1 0h2m20 0h2m1 0h2m-149 1h2m-1 0h2m1 0h2m-1 0h2m-2 0h2m0 0h2m0 0h2m-1 0h2m-2 0h2m1 0h2m-2 0h2m6 0h2m-1 0h2m0 0h2m-2 0h2m3 0h2m2 0h2m-1 0h2m1 0h2m1 0h2m1 0h2m1 0h2m3 0h2m3 0h2m0 0h2m0 0h2m5 0h2m-1 0h2m-1 0h2m2 0h2m0 0h2m0 0h2m-1 0h2m0 0h2m20 0h2m1 0h2m7 0h2m43 0h2m7 0h2m14 0h2m6 0h2m39 0h2m-248 1h2m-2 0h2m-1 0h2m-2 0h2m10 0h2m-1 0h2m6 0h2m0 0h2m0 0h2m0 0h2m-1 0h2m0 0h2m5 0h2m0 0h2m1 0h2m7 0h2m10 0h2m11 0h2m-1 0h2m2 0h2m9 0h2m-1 0h2m2 0h2m1 0h2m37 0h2m8 0h2m5 0h2m-2 0h2m15 0h2m15 0h2m-193 1h2m9 0h2m1 0h2m-2 0h2m-1 0h2m0 0h2m4 0h2m-2 0h2m11 0h2m3 0h2m3 0h2m4 0h2m1 0h2m0 0h2m15 0h2m1 0h2m2 0h2m12 0h2m12 0h2m6 0h2m19 0h2m5 0h2m1 0h2m10 0h2m-1 0h2m0 0h2m22 0h2m-180 1h2m0 0h2m1 0h2m6 0h2m2 0h2m-1 0h2m6 0h2m-2 0h2m3 0h2m-1 0h2m-1 0h2m-2 0h2m1 0h2m-1 0h2m13 0h2m4 0h2m6 0h2m1 0h2m4 0h2m14 0h2m21 0h2m2 0h2m8 0h2m-1 0h2m2 0h2m2 0h2m1 0h2m12 0h2m20 0h2m17 0h2m5 0h2m7 0h2m15 0h2m-227 1h2m0 0h2m-1 0h2m3 0h2m-1 0h2m7 0h2m0 0h2m7 0h2m2 0h2m-2 0h2m10 0h2m2 0h2m-1 0h2m1 0h2m2 0h2m5 0h2m3 0h2m29 0h2m11 0h2m2 0h2m3 0h2m10 0h2m1 0h2m27 0h2m1 0h2m50 0h2m19 0h2m-252 1h2m2 0h2m-1 0h2m2 0h2m2 0h2m6 0h2m5 0h2m0 0h2m-1 0h2m0 0h2m-1 0h2m-2 0h2m0 0h2m-1 0h2m2 0h2m2 0h2m-2 0h2m-1 0h2m1 0h2m2 0h2m0 0h2m0 0h2m-2 0h2m1 0h2m6 0h2m-2 0h2m-1 0h2m-1 0h2m0 0h2m49 0h2m7 0h2m14 0h2m4 0h2m-2 0h2m7 0h2m0 0h2m39 0h2m27 0h2m26 0h2m-261 1h2m18 0h2m3 0h2m0 0h2m6 0h2m4 0h2m1 0h2m0 0h2m2 0h2m-1 0h2m2 0h2m3 0h2m0 0h2m-1 0h2m5 0h2m5 0h2m15 0h2m-2 0h2m22 0h2m3 0h2m2 0h2m3 0h2m-1 0h2m6 0h2m-1 0h2m2 0h2m2 0h2m9 0h2m18 0h2m-1 0h2m18 0h2m8 0h2m9 0h2m-224 1h2m0 0h2m12 0h2m5 0h2m-1 0h2m5 0h2m2 0h2m0 0h2m7 0h2m2 0h2m4 0h2m1 0h2m10 0h2m-1 0h2m1 0h2m-1 0h2m5 0h2m20 0h2m1 0h2m0 0h2m3 0h2m-1 0h2m2 0h2m19 0h2m0 0h2m6 0h2m-1 0h2m24 0h2m21 0h2m4 0h2m-195 1h2m2 0h2m12 0h2m0 0h2m7 0h2m-1 0h2m2 0h2m2 0h2m2 0h2m3 0h2m0 0h2m4 0h2m0 0h2m17 0h2m2 0h2m6 0h2m2 0h2m6 0h2m-1 0h2m-1 0h2m-1 0h2m1 0h2m8 0h2m4 0h2m20 0h2m9 0h2m30 0h2m-184 1h2m4 0h2m1 0h2m0 0h2m5 0h2m-2 0h2m0 0h2m4 0h2m2 0h2m10 0h2m1 0h2m2 0h2m6 0h2m2 0h2m3 0h2m12 0h2m-2 0h2m2 0h2m4 0h2m22 0h2m10 0h2m19 0h2m0 0h2m2 0h2m-1 0h2m14 0h2m24 0h2m1 0h2m40 0h2m-256 1h2m5 0h2m1 0h2m-1 0h2m4 0h2m-1 0h2m0 0h2m8 0h2m-1 0h2m-2 0h2m2 0h2m7 0h2m1 0h2m-2 0h2m3 0h2m-1 0h2m2 0h2m5 0h2m1 0h2m-1 0h2m-2 0h2m25 0h2m2 0h2m-1 0h2m2 0h2m5 0h2m7 0h2m3 0h2m5 0h2m-2 0h2m3 0h2m1 0h2m6 0h2m5 0h2m18 0h2m43 0h2m-225 1h2m5 0h2m13 0h2m4 0h2m3 0h2m-2 0h2m2 0h2m-1 0h2m-2 0h2m1 0h2m0 0h2m0 0h2m0 0h2m2 0h2m4 0h2m-1 0h2m-1 0h2m-1 0h2m2 0h2m1 0h2m2 0h2m0 0h2m-1 0h2m8 0h2m4 0h2m-1 0h2m0 0h2m-2 0h2m-2 0h2m0 0h2m-2 0h2m10 0h2m16 0h2m-1 0h2m28 0h2m1 0h2m16 0h2m43 0h2m11 0h2m-234 1h2m14 0h2m7 0h2m4 0h2m4 0h2m4 0h2m3 0h2m1 0h2m4 0h2m6 0h2m2 0h2m3 0h2m17 0h2m11 0h2m4 0h2m-2 0h2m6 0h2m-2 0h2m4 0h2m5 0h2m1 0h2m4 0h2m0 0h2m1 0h2m-2 0h2m5 0h2m1 0h2m-1 0h2m-1 0h2m3 0h2m0 0h2m-1 0h2m-1 0h2m18 0h2m10 0h2m68 0h2m-265 1h2m2 0h2m-1 0h2m-2 0h2m-1 0h2m9 0h2m-2 0h2m4 0h2m6 0h2m19 0h2m-1 0h2m21 0h2m26 0h2m3 0h2m-1 0h2m10 0h2m4 0h2m10 0h2m3 0h2m26 0h2m3 0h2m1 0h2m1 0h2m5 0h2m3 0h2m19 0h2m18 0h2m-2 0h2m6 0h2m46 0h2m-283 1h2m3 0h2m18 0h2m2 0h2m13 0h2m1 0h2m0 0h2m10 0h2m9 0h2m33 0h2m27 0h2m4 0h2m0 0h2m7 0h2m7 0h2m19 0h2m15 0h2m-214 1h2m11 0h2m2 0h2m10 0h2m4 0h2m11 0h2m17 0h2m3 0h2m23 0h2m6 0h2m0 0h2m15 0h2m2 0h2m0 0h2m9 0h2m6 0h2m3 0h2m13 0h2m3 0h2m88 0h2m-257 1h2m-1 0h2m0 0h2m4 0h2m1 0h2m5 0h2m10 0h2m-1 0h2m9 0h2m4 0h2m1 0h2m17 0h2m11 0h2m1 0h2m6 0h2m7 0h2m2 0h2m-1 0h2m4 0h2m1 0h2m-2 0h2m16 0h2m-1 0h2m4 0h2m8 0h2m7 0h2m8 0h2m14 0h2m-184 1h2m35 0h2m-2 0h2m1 0h2m26 0h2m4 0h2m6 0h2m20 0h2m1 0h2m1 0h2m3 0h2m5 0h2m0 0h2m3 0h2m5 0h2m7 0h2m39 0h2m38 0h2m-231 1h2m6 0h2m3 0h2m8 0h2m2 0h2m-1 0h2m27 0h2m5 0h2m44 0h2m1 0h2m-1 0h2m0 0h2m-1 0h2m8 0h2m14 0h2m2 0h2m21 0h2m4 0h2m1 0h2m56 0h2m-247 1h2m8 0h2m6 0h2m0 0h2m33 0h2m2 0h2m5 0h2m0 0h2m11 0h2m11 0h2m0 0h2m18 0h2m4 0h2m-1 0h2m5 0h2m9 0h2m-1 0h2m16 0h2m9 0h2m29 0h2m4 0h2m-1 0h2m13 0h2m18 0h2m-244 1h2m5 0h2m5 0h2m3 0h2m8 0h2m1 0h2m2 0h2m3 0h2m-1 0h2m16 0h2m1 0h2m2 0h2m2 0h2m34 0h2m-1 0h2m17 0h2m3 0h2m11 0h2m0 0h2m3 0h2m20 0h2m57 0h2m1 0h2m33 0h2m-254 1h2m7 0h2m12 0h2m0 0h2m0 0h2m-1 0h2m13 0h2m-2 0h2m6 0h2m2 0h2m3 0h2m6 0h2m32 0h2m7 0h2m14 0h2m5 0h2m0 0h2m2 0h2m9 0h2m4 0h2m27 0h2m7 0h2m18 0h2m6 0h2m10 0h2m-252 1h2m2 0h2m24 0h2m11 0h2m1 0h2m19 0h2m11 0h2m3 0h2m29 0h2m4 0h2m13 0h2m7 0h2m13 0h2m0 0h2m2 0h2m3 0h2m-1 0h2m54 0h2m7 0h2m20 0h2m-250 1h2m7 0h2m0 0h2m-1 0h2m1 0h2m25 0h2m14 0h2m7 0h2m5 0h2m0 0h2m2 0h2m7 0h2m5 0h2m1 0h2m-2 0h2m0 0h2m0 0h2m0 0h2m40 0h2m3 0h2m19 0h2m-172 1h2m9 0h2m22 0h2m8 0h2m10 0h2m13 0h2m4 0h2m5 0h2m12 0h2m7 0h2m6 0h2m6 0h2m3 0h2m3 0h2m19 0h2m68 0h2m44 0h2m-281 1h2m17 0h2m10 0h2m4 0h2m44 0h2m17 0h2m3 0h2m2 0h2m17 0h2m4 0h2m1 0h2m6 0h2m14 0h2m17 0h2m0 0h2m19 0h2m5 0h2m27 0h2m15 0h2m-1 0h2m-257 1h2m-2 0h2m3 0h2m33 0h2m3 0h2m6 0h2m5 0h2m34 0h2m-1 0h2m24 0h2m2 0h2m24 0h2m12 0h2m-179 1h2m39 0h2m14 0h2m55 0h2m6 0h2m1 0h2m6 0h2m46 0h2m-1 0h2m12 0h2m-2 0h2m-2 0h2m19 0h2m21 0h2m11 0h2m-213 1h2m1 0h2m1 0h2m8 0h2m71 0h2m10 0h2m-2 0h2m75 0h2m10 0h2m-200 1h2m2 0h2m42 0h2m20 0h2m12 0h2m1 0h2m16 0h2m9 0h2m13 0h2m0 0h2m28 0h2m27 0h2m-207 1h2m11 0h2m17 0h2m34 0h2m2 0h2m11 0h2m-2 0h2m6 0h2m4 0h2m9 0h2m7 0h2m-1 0h2m1 0h2m18 0h2m8 0h2m18 0h2m29 0h2m-1 0h2m1 0h2m31 0h2m-166 1h2m3 0h2m2 0h2m18 0h2m4 0h2m5 0h2m8 0h2m-1 0h2m0 0h2m6 0h2m7 0h2m-2 0h2m-1 0h2m12 0h2m0 0h2m4 0h2m35 0h2m-197 1h2m0 0h2m74 0h2m33 0h2m6 0h2m0 0h2m5 0h2m9 0h2m-162 1h2m24 0h2m24 0h2m29 0h2m1 0h2m3 0h2m5 0h2m4 0h2m39 0h2m17 0h2m2 0h2m0 0h2m-1 0h2m16 0h2m0 0h2m32 0h2m33 0h2m-255 1h2m110 0h2m5 0h2m64 0h2m23 0h2m-151 1h2m5 0h2m4 0h2m11 0h2m3 0h2m19 0h2m8 0h2m4 0h2m16 0h2m12 0h2m-138 1h2m55 0h2m2 0h2m2 0h2m28 0h2m-2 0h2m28 0h2m15 0h2m15 0h2m17 0h2m-2 0h2m5 0h2m43 0h2m-243 1h2m28 0h2m27 0h2m23 0h2m22 0h2m7 0h2m1 0h2m-1 0h2m5 0h2m23 0h2m-1 0h2m57 0h2m40 0h2m-238 1h2m16 0h2m-1 0h2m4 0h2m5 0h2m15 0h2m33 0h2m6 0h2m41 0h2m15 0h2m53 0h2m-226 1h2m20 0h2m48 0h2m6 0h2m7 0h2m5 0h2m12 0h2m14 0h2m8 0h2m41 0h2m21 0h2m-196 1h2m7 0h2m9 0h2m19 0h2m9 0h2m6 0h2m11 0h2m9 0h2m21 0h2m0 0h2m10 0h2m56 0h2m76 0h2m-281 1h2m50 0h2m1 0h2m34 0h2m9 0h2m10 0h2m27 0h2m13 0h2m3 0h2m35 0h2m20 0h2m25 0h2m-164 1h2m1 0h2m-2 0h2m5 0h2m-2 0h2m5 0h2m32 0h2m23 0h2m1 0h2m22 0h2m15 0h2m18 0h2m-132 1h2m8 0h2m15 0h2m9 0h2m1 0h2m22 0h2m2 0h2m11 0h2m7 0h2m6 0h2m-135 1h2m34 0h2m7 0h2m5 0h2m22 0h2m29 0h2m-170 1h2m43 0h2m32 0h2m20 0h2m29 0h2m9 0h2m10 0h2m78 0h2m43 0h2m-238 1h2m40 0h2m43 0h2m76 0h2m-159 1h2m57 0h2m7 0h2m-1 0h2m39 0h2m73 0h2m31 0h2m-206 1h2m30 0h2m50 0h2m8 0h2m60 0h2m13 0h2m-44 1h2m44 0h2m-180 1h2m-1 0h2m46 0h2m63 0h2m7 0h2m67 0h2m-207 1h2m11 0h2m29 0h2m49 0h2m19 0h2m-148 1h2m26 0h2m18 0h2m27 0h2m16 0h2m5 0h2m12 0h2m38 0h2m-125 1h2m115 0h2m20 0h2m86 0h2m-183 1h2m46 0h2m-1 0h2m63 0h2m30 0h2m31 0h2m-191 1h2m126 0h2m-86 1h2m60 0h2m7 0h2m7 0h2m23 0h2m20 0h2m-194 1h2m51 0h2m3 0h2m1 0h2m43 0h2m-72 1h2m4 0h2m10 0h2m130 0h2m-189 1h2m81 0h2m-80 2h2m30 0h2m25 0h2m6 0h2m113 0h2m-37 1h2m-124 1h2m162 0h2m-99 1h2m-89 2h2m109 0h2m70 0h2m-16 2h2m-168 2h2m53 1h2m31 0h2m8 0h2m-86 4h2m112 0h2m-39 1h2" stroke="#000" stroke-opacity="0.6" stroke-width="2" transform="scale(.5)"/>
<path d="M654 60h2m79 0h2m28 3h2m-47 2h2m-12 1h2m-18 2h2m95 0h2m-87 1h2m0 1h2m31 0h2m-31 1h2m32 1h2m2 0h2m120 1h2m-121 1h2m-84 1h2m63 0h2m-45 1h2m-3 1h2m37 0h2m-83 1h2m28 0h2m23 0h2m26 0h2m33 0h2m-101 1h2m36 1h2m38 0h2m17 0h2m-92 1h2m-2 0h2m59 0h2m59 0h2m-150 1h2m42 0h2m69 0h2m-85 1h2m60 0h2m64 0h2m-149 1h2m35 0h2m2 0h2m5 0h2m15 0h2m-79 1h2m52 0h2m9 0h2m4 0h2m-79 2h2m0 0h2m171 0h2m-147 1h2m7 0h2m38 0h2m-74 1h2m16 0h2m38 0h2m10 0h2m61 0h2m-119 1h2m5 0h2m9 0h2m5 0h2m80 0h2m-136 1h2m18 0h2m66 0h2m-81 1h2m19 0h2m41 0h2m2 0h2m19 0h2m-54 1h2m13 0h2m28 0h2m8 0h2m7 0h2m-2 0h2m21 0h2m-113 1h2m6 0h2m6 0h2m14 0h2m11 0h2m7 0h2m0 0h2m4 0h2m4 0h2m8 0h2m52 0h2m68 0h2m-214 1h2m10 0h2m4 0h2m9 0h2m11 0h2m29 0h2m7 0h2m14 0h2m-117 1h2m34 0h2m4 0h2m1 0h2m0 0h2m10 0h2m18 0h2m2 0h2m2 0h2m25 0h2m11 0h2m-133 1h2m16 0h2m7 0h2m3 0h2m7 0h2m0 0h2m3 0h2m54 0h2m40 0h2m29 0h2m-171 1h2m16 0h2m27 0h2m3 0h2m5 0h2m-1 0h2m10 0h2m25 0h2m-1 0h2m31 0h2m-129 1h2m35 0h2m6 0h2m105 0h2m-153 1h2m4 0h2m1 0h2m16 0h2m0 0h2m1 0h2m11 0h2m7 0h2m20 0h2m77 0h2m-163 1h2m18 0h2m23 0h2m3 0h2m14 0h2m15 0h2m1 0h2m76 0h2m2 0h2m-167 1h2m1 0h2m0 0h2m0 0h2m12 0h2m5 0h2m26 0h2m2 0h2m1 0h2m4 0h2m10 0h2m5 0h2m10 0h2m1 0h2m2 0h2m8 0h2m-1 0h2m-136 1h2m3 0h2m3 0h2m13 0h2m16 0h2m37 0h2m13 0h2m5 0h2m0 0h2m1 0h2m0 0h2m-1 0h2m19 0h2m3 0h2m0 0h2m64 0h2m-207 1h2m-1 0h2m0 0h2m17 0h2m-2 0h2m1 0h2m8 0h2m-1 0h2m0 0h2m6 0h2m7 0h2m2 0h2m0 0h2m0 0h2m11 0h2m2 0h2m18 0h2m45 0h2m4 0h2m-151 1h2m16 0h2m-2 0h2m11 0h2m7 0h2m15 0h2m8 0h2m3 0h2m28 0h2m-1 0h2m-1 0h2m2 0h2m1 0h2m40 0h2m-147 1h2m-1 0h2m0 0h2m7 0h2m-1 0h2m0 0h2m8 0h2m1 0h2m9 0h2m7 0h2m12 0h2m5 0h2m4 0h2m5 0h2m-2 0h2m3 0h2m1 0h2m-1 0h2m15 0h2m32 0h2m15 0h2m58 0h2m-248 1h2m8 0h2m11 0h2m0 0h2m-2 0h2m2 0h2m-1 0h2m1 0h2m25 0h2m1 0h2m9 0h2m0 0h2m8 0h2m0 0h2m1 0h2m4 0h2m28 0h2m28 0h2m13 0h2m44 0h2m-218 1h2m10 0h2m-2 0h2m9 0h2m2 0h2m0 0h2m1 0h2m1 0h2m0 0h2m2 0h2m-2 0h2m4 0h2m-2 0h2m11 0h2m5 0h2m13 0h2m-1 0h2m1 0h2m25 0h2m54 0h2m18 0h2m-189 1h2m0 0h2m8 0h2m-1 0h2m3 0h2m15 0h2m7 0h2m18 0h2m17 0h2m6 0h2m8 0h2m-1 0h2m11 0h2m40 0h2m-165 1h2m-1 0h2m-1 0h2m11 0h2m6 0h2m1 0h2m6 0h2m-1 0h2m-2 0h2m-2 0h2m-1 0h2m4 0h2m1 0h2m1 0h2m1 0h2m-2 0h2m-1 0h2m8 0h2m13 0h2m6 0h2m24 0h2m6 0h2m12 0h2m1 0h2m37 0h2m-182 1h2m2 0h2m3 0h2m3 0h2m-1 0h2m5 0h2m9 0h2m12 0h2m-1 0h2m17 0h2m2 0h2m31 0h2m-2 0h2m22 0h2m4 0h2m9 0h2m20 0h2m-153 1h2m13 0h2m1 0h2m-2 0h2m-2 0h2m1 0h2m0 0h2m-1 0h2m10 0h2m8 0h2m1 0h2m8 0h2m2 0h2m4 0h2m11 0h2m7 0h2m-1 0h2m3 0h2m0 0h2m4 0h2m11 0h2m-2 0h2m1 0h2m7 0h2m0 0h2m10 0h2m-157 1h2m-1 0h2m13 0h2m-1 0h2m1 0h2m9 0h2m-2 0h2m6 0h2m6 0h2m2 0h2m3 0h2m6 0h2m8 0h2m9 0h2m-2 0h2m-1 0h2m2 0h2m-1 0h2m0 0h2m2 0h2m7 0h2m6 0h2m-1 0h2m5 0h2m-1 0h2m26 0h2m8 0h2m20 0h2m8 0h2m6 0h2m-205 1h2m3 0h2m2 0h2m8 0h2m1 0h2m1 0h2m2 0h2m-1 0h2m3 0h2m3 0h2m4 0h2m2 0h2m1 0h2m-1 0h2m10 0h2m2 0h2m3 0h2m2 0h2m5 0h2m2 0h2m21 0h2m6 0h2m10 0h2m5 0h2m2 0h2m3 0h2m37 0h2m22 0h2m-216 1h2m6 0h2m3 0h2m2 0h2m3 0h2m1 0h2m4 0h2m-1 0h2m-2 0h2m1 0h2m0 0h2m1 0h2m-1 0h2m0 0h2m-1 0h2m-2 0h2m-1 0h2m9 0h2m-1 0h2m-2 0h2m19 0h2m-1 0h2m1 0h2m3 0h2m9 0h2m5 0h2m13 0h2m22 0h2m-1 0h2m30 0h2m16 0h2m-198 1h2m2 0h2m3 0h2m9 0h2m-1 0h2m1 0h2m2 0h2m8 0h2m-1 0h2m-1 0h2m1 0h2m-2 0h2m0 0h2m-1 0h2m-1 0h2m14 0h2m2 0h2m-1 0h2m-2 0h2m5 0h2m2 0h2m-2 0h2m3 0h2m7 0h2m14 0h2m11 0h2m0 0h2m-2 0h2m-1 0h2m4 0h2m6 0h2m13 0h2m3 0h2m1 0h2m1 0h2m-160 1h2m9 0h2m7 0h2m-2 0h2m0 0h2m4 0h2m4 0h2m10 0h2m0 0h2m1 0h2m-1 0h2m1 0h2m3 0h2m0 0h2m0 0h2m-1 0h2m17 0h2m27 0h2m-2 0h2m2 0h2m2 0h2m32 0h2m5 0h2m-181 1h2m3 0h2m4 0h2m2 0h2m9 0h2m3 0h2m2 0h2m-1 0h2m1 0h2m-2 0h2m3 0h2m-1 0h2m-1 0h2m-1 0h2m-1 0h2m2 0h2m1 0h2m6 0h2m2 0h2m9 0h2m5 0h2m17 0h2m3 0h2m20 0h2m8 0h2m2 0h2m-2 0h2m16 0h2m-2 0h2m0 0h2m22 0h2m20 0h2m26 0h2m10 0h2m21 0h2m-274 1h2m-2 0h2m2 0h2m5 0h2m1 0h2m-2 0h2m0 0h2m-1 0h2m-1 0h2m-2 0h2m-1 0h2m7 0h2m-2 0h2m2 0h2m1 0h2m1 0h2m6 0h2m1 0h2m-2 0h2m17 0h2m-1 0h2m-2 0h2m-1 0h2m5 0h2m-1 0h2m32 0h2m4 0h2m1 0h2m-1 0h2m9 0h2m2 0h2m63 0h2m11 0h2m3 0h2m101 0h2m-319 1h2m-1 0h2m1 0h2m1 0h2m10 0h2m2 0h2m8 0h2m1 0h2m1 0h2m-1 0h2m8 0h2m-2 0h2m1 0h2m2 0h2m9 0h2m4 0h2m2 0h2m21 0h2m7 0h2m5 0h2m9 0h2m7 0h2m15 0h2m10 0h2m3 0h2m1 0h2m81 0h2m-267 1h2m14 0h2m2 0h2m5 0h2m8 0h2m3 0h2m3 0h2m3 0h2m-2 0h2m0 0h2m-2 0h2m3 0h2m0 0h2m7 0h2m3 0h2m2 0h2m-1 0h2m6 0h2m5 0h2m32 0h2m-1 0h2m0 0h2m11 0h2m4 0h2m0 0h2m0 0h2m24 0h2m32 0h2m-1 0h2m-214 1h2m4 0h2m-1 0h2m6 0h2m-1 0h2m3 0h2m-2 0h2m-1 0h2m14 0h2m0 0h2m2 0h2m-1 0h2m13 0h2m9 0h2m-2 0h2m0 0h2m1 0h2m3 0h2m-1 0h2m5 0h2m0 0h2m-1 0h2m2 0h2m0 0h2m2 0h2m23 0h2m8 0h2m0 0h2m15 0h2m5 0h2m28 0h2m0 0h2m18 0h2m41 0h2m-261 1h2m1 0h2m1 0h2m2 0h2m0 0h2m-1 0h2m3 0h2m0 0h2m3 0h2m0 0h2m1 0h2m5 0h2m-1 0h2m-1 0h2m4 0h2m1 0h2m-1 0h2m0 0h2m-1 0h2m2 0h2m6 0h2m-1 0h2m-1 0h2m0 0h2m-2 0h2m3 0h2m0 0h2m13 0h2m-1 0h2m-2 0h2m10 0h2m9 0h2m5 0h2m0 0h2m-1 0h2m8 0h2m1 0h2m2 0h2m10 0h2m13 0h2m4 0h2m2 0h2m6 0h2m7 0h2m3 0h2m12 0h2m56 0h2m-265 1h2m0 0h2m-1 0h2m-1 0h2m1 0h2m4 0h2m-2 0h2m-2 0h2m0 0h2m4 0h2m6 0h2m-1 0h2m1 0h2m-2 0h2m14 0h2m-1 0h2m-1 0h2m-2 0h2m6 0h2m10 0h2m3 0h2m-2 0h2m30 0h2m2 0h2m4 0h2m7 0h2m8 0h2m24 0h2m26 0h2m29 0h2m-223 1h2m8 0h2m1 0h2m4 0h2m8 0h2m-1 0h2m1 0h2m2 0h2m0 0h2m2 0h2m0 0h2m15 0h2m8 0h2m11 0h2m7 0h2m1 0h2m-2 0h2m14 0h2m1 0h2m4 0h2m-1 0h2m1 0h2m1 0h2m-1 0h2m5 0h2m1 0h2m-1 0h2m-1 0h2m3 0h2m5 0h2m9 0h2m133 0h2m-302 1h2m-2 0h2m3 0h2m6 0h2m6 0h2m13 0h2m0 0h2m3 0h2m3 0h2m4 0h2m1 0h2m3 0h2m3 0h2m1 0h2m21 0h2m1 0h2m13 0h2m9 0h2m4 0h2m2 0h2m-2 0h2m13 0h2m11 0h2m-2 0h2m1 0h2m2 0h2m10 0h2m30 0h2m10 0h2m60 0h2m-276 1h2m-1 0h2m2 0h2m6 0h2m1 0h2m4 0h2m1 0h2m0 0h2m0 0h2m-1 0h2m1 0h2m17 0h2m6 0h2m7 0h2m16 0h2m-1 0h2m-1 0h2m-1 0h2m5 0h2m4 0h2m-1 0h2m25 0h2m4 0h2m5 0h2m13 0h2m-163 1h2m4 0h2m2 0h2m3 0h2m0 0h2m-1 0h2m1 0h2m2 0h2m1 0h2m7 0h2m-1 0h2m30 0h2m11 0h2m1 0h2m16 0h2m-1 0h2m-1 0h2m-1 0h2m-1 0h2m2 0h2m2 0h2m5 0h2m6 0h2m-1 0h2m9 0h2m12 0h2m10 0h2m20 0h2m2 0h2m2 0h2m-2 0h2m-210 1h2m0 0h2m10 0h2m3 0h2m3 0h2m0 0h2m1 0h2m0 0h2m-1 0h2m1 0h2m1 0h2m1 0h2m1 0h2m0 0h2m11 0h2m8 0h2m1 0h2m-1 0h2m3 0h2m0 0h2m-2 0h2m14 0h2m11 0h2m0 0h2m4 0h2m2 0h2m5 0h2m6 0h2m8 0h2m21 0h2m32 0h2m-2 0h2m18 0h2m11 0h2m-229 1h2m6 0h2m5 0h2m2 0h2m-1 0h2m15 0h2m23 0h2m7 0h2m-1 0h2m10 0h2m-2 0h2m2 0h2m1 0h2m18 0h2m4 0h2m0 0h2m-1 0h2m1 0h2m4 0h2m2 0h2m4 0h2m20 0h2m-2 0h2m-2 0h2m6 0h2m15 0h2m60 0h2m-251 1h2m-1 0h2m6 0h2m13 0h2m-2 0h2m1 0h2m2 0h2m8 0h2m-1 0h2m22 0h2m0 0h2m0 0h2m0 0h2m-2 0h2m1 0h2m0 0h2m6 0h2m31 0h2m7 0h2m-2 0h2m6 0h2m3 0h2m34 0h2m7 0h2m-185 1h2m0 0h2m-2 0h2m9 0h2m-1 0h2m-1 0h2m2 0h2m-2 0h2m12 0h2m-1 0h2m3 0h2m11 0h2m3 0h2m2 0h2m10 0h2m17 0h2m2 0h2m10 0h2m3 0h2m4 0h2m11 0h2m1 0h2m-2 0h2m11 0h2m1 0h2m5 0h2m13 0h2m-1 0h2m2 0h2m3 0h2m2 0h2m10 0h2m2 0h2m-187 1h2m-2 0h2m2 0h2m2 0h2m-1 0h2m19 0h2m8 0h2m25 0h2m4 0h2m9 0h2m9 0h2m3 0h2m1 0h2m1 0h2m7 0h2m2 0h2m1 0h2m14 0h2m25 0h2m-182 1h2m7 0h2m6 0h2m4 0h2m4 0h2m14 0h2m4 0h2m20 0h2m4 0h2m0 0h2m11 0h2m-1 0h2m12 0h2m0 0h2m-1 0h2m0 0h2m4 0h2m16 0h2m-2 0h2m8 0h2m10 0h2m-2 0h2m14 0h2m14 0h2m0 0h2m90 0h2m-257 1h2m2 0h2m13 0h2m6 0h2m-2 0h2m3 0h2m3 0h2m5 0h2m1 0h2m19 0h2m-1 0h2m19 0h2m1 0h2m-2 0h2m9 0h2m8 0h2m4 0h2m55 0h2m9 0h2m68 0h2m21 0h2m-307 1h2m7 0h2m-1 0h2m9 0h2m9 0h2m4 0h2m3 0h2m11 0h2m1 0h2m6 0h2m9 0h2m10 0h2m3 0h2m3 0h2m14 0h2m1 0h2m6 0h2m22 0h2m25 0h2m0 0h2m32 0h2m17 0h2m65 0h2m-305 1h2m6 0h2m2 0h2m-1 0h2m7 0h2m1 0h2m0 0h2m1 0h2m17 0h2m-1 0h2m-1 0h2m2 0h2m0 0h2m2 0h2m0 0h2m21 0h2m10 0h2m12 0h2m0 0h2m0 0h2m5 0h2m4 0h2m28 0h2m13 0h2m7 0h2m21 0h2m1 0h2m3 0h2m0 0h2m54 0h2m-1 0h2m6 0h2m23 0h2m-318 1h2m8 0h2m4 0h2m8 0h2m1 0h2m5 0h2m-1 0h2m26 0h2m-1 0h2m0 0h2m10 0h2m6 0h2m3 0h2m1 0h2m8 0h2m0 0h2m2 0h2m14 0h2m4 0h2m7 0h2m-2 0h2m4 0h2m2 0h2m-1 0h2m0 0h2m6 0h2m4 0h2m2 0h2m15 0h2m1 0h2m22 0h2m0 0h2m-192 1h2m5 0h2m12 0h2m10 0h2m55 0h2m31 0h2m2 0h2m0 0h2m4 0h2m15 0h2m7 0h2m25 0h2m40 0h2m-254 1h2m18 0h2m4 0h2m11 0h2m1 0h2m-1 0h2m4 0h2m5 0h2m4 0h2m0 0h2m6 0h2m27 0h2m35 0h2m-2 0h2m4 0h2m10 0h2m60 0h2m46 0h2m-252 1h2m19 0h2m1 0h2m0 0h2m8 0h2m-1 0h2m1 0h2m4 0h2m20 0h2m17 0h2m6 0h2m-2 0h2m0 0h2m11 0h2m31 0h2m17 0h2m35 0h2m-215 1h2m4 0h2m16 0h2m6 0h2m6 0h2m1 0h2m-1 0h2m5 0h2m28 0h2m20 0h2m1 0h2m1 0h2m-2 0h2m1 0h2m-1 0h2m14 0h2m0 0h2m0 0h2m7 0h2m5 0h2m21 0h2m4 0h2m18 0h2m3 0h2m5 0h2m16 0h2m52 0h2m-286 1h2m-1 0h2m31 0h2m-1 0h2m4 0h2m11 0h2m0 0h2m16 0h2m43 0h2m2 0h2m0 0h2m-1 0h2m12 0h2m-2 0h2m8 0h2m1 0h2m0 0h2m18 0h2m24 0h2m4 0h2m13 0h2m-226 1h2m10 0h2m12 0h2m18 0h2m14 0h2m-2 0h2m6 0h2m22 0h2m3 0h2m12 0h2m1 0h2m8 0h2m3 0h2m17 0h2m31 0h2m-1 0h2m5 0h2m53 0h2m-226 1h2m15 0h2m-1 0h2m-2 0h2m20 0h2m7 0h2m45 0h2m14 0h2m4 0h2m-1 0h2m6 0h2m14 0h2m5 0h2m0 0h2m21 0h2m5 0h2m-190 1h2m28 0h2m17 0h2m2 0h2m36 0h2m1 0h2m11 0h2m1 0h2m8 0h2m10 0h2m30 0h2m10 0h2m13 0h2m14 0h2m-185 1h2m30 0h2m19 0h2m-1 0h2m1 0h2m17 0h2m8 0h2m20 0h2m-1 0h2m2 0h2m0 0h2m20 0h2m10 0h2m9 0h2m10 0h2m-191 1h2m9 0h2m17 0h2m6 0h2m58 0h2m-1 0h2m-1 0h2m0 0h2m5 0h2m3 0h2m1 0h2m-1 0h2m5 0h2m1 0h2m2 0h2m0 0h2m0 0h2m10 0h2m102 0h2m23 0h2m6 0h2m-277 1h2m22 0h2m3 0h2m22 0h2m12 0h2m4 0h2m15 0h2m11 0h2m3 0h2m16 0h2m8 0h2m-1 0h2m24 0h2m11 0h2m22 0h2m-2 0h2m27 0h2m-229 1h2m22 0h2m10 0h2m34 0h2m6 0h2m1 0h2m5 0h2m9 0h2m4 0h2m14 0h2m3 0h2m21 0h2m-1 0h2m16 0h2m3 0h2m20 0h2m19 0h2m-221 1h2m25 0h2m5 0h2m24 0h2m1 0h2m6 0h2m18 0h2m5 0h2m-2 0h2m24 0h2m0 0h2m7 0h2m14 0h2m-1 0h2m11 0h2m13 0h2m-162 1h2m66 0h2m3 0h2m47 0h2m12 0h2m3 0h2m0 0h2m-144 1h2m48 0h2m2 0h2m22 0h2m2 0h2m16 0h2m14 0h2m32 0h2m23 0h2m51 0h2m4 0h2m11 0h2m-219 1h2m12 0h2m1 0h2m20 0h2m11 0h2m20 0h2m0 0h2m18 0h2m1 0h2m10 0h2m20 0h2m-153 1h2m10 0h2m-2 0h2m1 0h2m9 0h2m13 0h2m21 0h2m10 0h2m7 0h2m48 0h2m66 0h2m3 0h2m-228 1h2m17 0h2m5 0h2m6 0h2m16 0h2m17 0h2m-2 0h2m29 0h2m19 0h2m10 0h2m-1 0h2m-1 0h2m13 0h2m45 0h2m-175 1h2m4 0h2m9 0h2m-1 0h2m10 0h2m12 0h2m33 0h2m25 0h2m17 0h2m7 0h2m23 0h2m34 0h2m-190 1h2m14 0h2m-1 0h2m32 0h2m7 0h2m28 0h2m7 0h2m15 0h2m24 0h2m46 0h2m34 0h2m-199 1h2m5 0h2m4 0h2m24 0h2m19 0h2m12 0h2m4 0h2m6 0h2m22 0h2m20 0h2m1 0h2m-2 0h2m-143 1h2m49 0h2m26 0h2m0 0h2m59 0h2m-115 1h2m21 0h2m72 0h2m-173 1h2m9 0h2m1 0h2m-1 0h2m23 0h2m24 0h2m0 0h2m-2 0h2m2 0h2m22 0h2m17 0h2m63 0h2m32 0h2m-203 1h2m18 0h2m22 0h2m22 0h2m24 0h2m8 0h2m34 0h2m2 0h2m4 0h2m15 0h2m-188 1h2m64 0h2m50 0h2m7 0h2m17 0h2m3 0h2m-112 1h2m3 0h2m20 0h2m6 0h2m42 0h2m3 0h2m19 0h2m102 0h2m-223 1h2m19 0h2m44 0h2m26 0h2m14 0h2m-2 0h2m-116 1h2m99 0h2m-147 1h2m120 0h2m21 0h2m30 0h2m76 0h2m-168 1h2m40 0h2m115 0h2m-224 1h2m79 0h2m30 0h2m27 0h2m-107 1h2m69 0h2m52 0h2m24 0h2m-103 1h2m43 0h2m15 0h2m61 0h2m-265 1h2m122 0h2m60 0h2m61 0h2m-177 1h2m111 0h2m30 0h2m33 0h2m-155 1h2m43 0h2m-67 1h2m54 0h2m20 0h2m36 0h2m72 0h2m-29 1h2m-207 1h2m-1 0h2m196 0h2m-171 1h2m46 0h2m49 0h2m2 0h2m40 0h2m-57 1h2m82 0h2m27 0h2m-103 3h2m-106 1h2m218 0h2m-114 1h2m33 0h2m-45 1h2m-63 1h2m37 0h2m48 1h2m61 1h2m15 0h2m-15 1h2m26 0h2m-79 1h2m-122 1h2m42 0h2m-2 1h2m132 3h2m-45 3h2m66 0h2" stroke="#000" stroke-opacity="0.6" stroke-width="2" transform="scale(.5)"/>
<line x1="295.8" y1="16.3" x2="469.6" y2="16.3" stroke="#555" stroke-width="1.1" stroke-dasharray="1.2 1.35"/>
<line x1="469.6" y1="16.3" x2="469.6" y2="103.2" stroke="#555" stroke-width="1.1" stroke-dasharray="1.2 1.35"/>
<line x1="295.8" y1="103.2" x2="469.6" y2="103.2" stroke="#555" stroke-width="1.1" stroke-dasharray="1.2 1.35"/>
<line x1="295.8" y1="16.3" x2="295.8" y2="103.2" stroke="#7a7a7a" stroke-width="1.3"/>
<line x1="295.8" y1="59.75" x2="339.25" y2="16.3" stroke="#606060" stroke-width="1.1"/>
<line x1="295.8" y1="59.75" x2="339.25" y2="103.2" stroke="#606060" stroke-width="1.1"/>
<line x1="295.8" y1="59.75" x2="382.70000000000005" y2="16.3" stroke="#606060" stroke-width="1.1"/>
<line x1="295.8" y1="59.75" x2="382.70000000000005" y2="103.2" stroke="#606060" stroke-width="1.1"/>
<text x="382.70000000000005" y="11.4" font-size="10" text-anchor="middle" font-weight="bold" font-style="normal" fill="#111" stroke="#111" stroke-width="0.3" >Patients</text>
<text x="295.8" y="17.6" font-size="8.0" text-anchor="end" font-weight="normal" font-style="normal" fill="#262626" stroke="#262626" stroke-width="0.3" >0.25</text>
<text x="294.8" y="62" font-size="8.0" text-anchor="end" font-weight="normal" font-style="normal" fill="#262626" stroke="#262626" stroke-width="0.3" >0</text>
<text x="295.8" y="105.2" font-size="8.0" text-anchor="end" font-weight="normal" font-style="normal" fill="#262626" stroke="#262626" stroke-width="0.3" >−0.25</text>
<text x="295.8" y="111.2" font-size="8.0" text-anchor="middle" font-weight="normal" font-style="normal" fill="#262626" stroke="#262626" stroke-width="0.3" >0.0</text>
<text x="469.6" y="111.2" font-size="8.0" text-anchor="middle" font-weight="normal" font-style="normal" fill="#262626" stroke="#262626" stroke-width="0.3" >1.0</text>
<text x="379.20000000000005" y="121.8" font-size="10.5" font-weight="bold" font-style="italic" fill="#111">x<tspan font-size="5" dy="1.8" font-style="normal">1</tspan></text>
<text transform="translate(284.8 59.6) rotate(-90)" x="0" y="0" font-size="10.5" text-anchor="middle" font-weight="bold" font-style="italic" fill="#111">x<tspan font-size="5" dy="1.8" font-style="normal">2</tspan></text>
<path d="M258 321h2m4 0h2m11 0h2m-21 1h2m17 0h2m1 0h2m-13 1h2m2 0h2m-25 1h2m4 1h2m5 0h2m2 0h2m-12 1h2m4 0h2m-1 0h2m16 1h2m-28 1h2m0 0h2m4 0h2m0 0h2m-13 1h2m6 0h2m15 0h2m-23 1h2m-2 1h2m1 1h2m1 0h2m19 0h2m-29 1h2m7 0h2m6 0h2m5 0h2m-27 1h2m12 0h2m-2 0h2m3 0h2m-10 1h2m3 0h2m11 0h2m-24 1h2m-1 0h2m0 0h2m1 0h2m-2 0h2m2 0h2m-18 1h2m-1 0h2m29 0h2m-33 1h2m23 0h2m-15 1h2m8 0h2m-11 1h2m-18 2h2m-2 0h2m-2 0h2m13 0h2m1 0h2m2 0h2m-1 0h2m9 0h2m-45 1h2m8 0h2m10 0h2m8 0h2m21 0h2m-65 1h2m23 0h2m20 0h2m-46 1h2m25 0h2m2 0h2m-30 1h2m21 0h2m5 0h2m1 0h2m-26 1h2m0 0h2m-2 0h2m12 0h2m12 0h2m-42 1h2m5 0h2m11 0h2m-1 0h2m2 0h2m11 0h2m3 0h2m18 0h2m-58 1h2m4 0h2m-1 0h2m1 0h2m23 0h2m-1 0h2m-55 1h2m19 0h2m7 0h2m0 0h2m7 0h2m-26 1h2m8 0h2m-1 0h2m3 0h2m20 0h2m6 0h2m-71 1h2m13 0h2m4 0h2m3 0h2m1 0h2m-2 0h2m-2 0h2m0 0h2m9 0h2m-29 1h2m25 0h2m-1 0h2m29 0h2m-55 1h2m4 0h2m10 0h2m1 0h2m-1 0h2m2 0h2m0 0h2m-1 0h2m14 0h2m-48 1h2m3 0h2m-1 0h2m0 0h2m0 0h2m8 0h2m1 0h2m-2 0h2m1 0h2m0 0h2m2 0h2m5 0h2m1 0h2m1 0h2m26 0h2m-61 1h2m-1 0h2m3 0h2m5 0h2m0 0h2m13 0h2m-46 1h2m7 0h2m3 0h2m1 0h2m11 0h2m8 0h2m1 0h2m-37 1h2m-1 0h2m5 0h2m6 0h2m-1 0h2m0 0h2m7 0h2m4 0h2m-55 1h2m9 0h2m5 0h2m-2 0h2m5 0h2m-1 0h2m6 0h2m21 0h2m-48 1h2m13 0h2m0 0h2m2 0h2m2 0h2m2 0h2m-2 0h2m-1 0h2m9 0h2m20 0h2m-67 1h2m4 0h2m-2 0h2m2 0h2m3 0h2m2 0h2m-2 0h2m-2 0h2m11 0h2m3 0h2m46 0h2m-85 1h2m0 0h2m12 0h2m16 0h2m2 0h2m20 0h2m6 0h2m-101 1h2m5 0h2m23 0h2m3 0h2m-2 0h2m3 0h2m0 0h2m-1 0h2m5 0h2m5 0h2m8 0h2m1 0h2m6 0h2m-81 1h2m31 0h2m-2 0h2m8 0h2m1 0h2m6 0h2m0 0h2m-23 1h2m3 0h2m0 0h2m1 0h2m-2 0h2m2 0h2m11 0h2m1 0h2m1 0h2m0 0h2m1 0h2m7 0h2m-66 1h2m13 0h2m2 0h2m2 0h2m4 0h2m1 0h2m11 0h2m7 0h2m30 0h2m-84 1h2m11 0h2m13 0h2m1 0h2m0 0h2m-1 0h2m1 0h2m19 0h2m-66 1h2m7 0h2m4 0h2m3 0h2m-2 0h2m1 0h2m1 0h2m4 0h2m0 0h2m-51 1h2m29 0h2m3 0h2m2 0h2m5 0h2m4 0h2m0 0h2m0 0h2m2 0h2m-2 0h2m0 0h2m1 0h2m1 0h2m16 0h2m-87 1h2m11 0h2m17 0h2m16 0h2m10 0h2m16 0h2m-55 1h2m-2 0h2m0 0h2m4 0h2m0 0h2m9 0h2m2 0h2m-1 0h2m-2 0h2m4 0h2m3 0h2m9 0h2m0 0h2m-1 0h2m-89 1h2m19 0h2m8 0h2m10 0h2m-2 0h2m5 0h2m2 0h2m4 0h2m5 0h2m-1 0h2m0 0h2m8 0h2m-1 0h2m-78 1h2m-1 0h2m20 0h2m1 0h2m13 0h2m0 0h2m-2 0h2m15 0h2m-1 0h2m26 0h2m1 0h2m-2 0h2m-1 0h2m-100 1h2m22 0h2m1 0h2m4 0h2m0 0h2m4 0h2m25 0h2m0 0h2m3 0h2m0 0h2m-1 0h2m29 0h2m-2 0h2m-86 1h2m0 0h2m2 0h2m4 0h2m7 0h2m2 0h2m8 0h2m7 0h2m-1 0h2m0 0h2m-1 0h2m9 0h2m4 0h2m3 0h2m20 0h2m-94 1h2m5 0h2m4 0h2m-1 0h2m-1 0h2m4 0h2m12 0h2m-2 0h2m9 0h2m0 0h2m0 0h2m-1 0h2m2 0h2m-67 1h2m-1 0h2m6 0h2m36 0h2m-2 0h2m-1 0h2m10 0h2m3 0h2m-68 1h2m10 0h2m-2 0h2m8 0h2m6 0h2m5 0h2m2 0h2m-1 0h2m3 0h2m-1 0h2m2 0h2m11 0h2m5 0h2m-2 0h2m3 0h2m-65 1h2m11 0h2m2 0h2m6 0h2m3 0h2m0 0h2m1 0h2m0 0h2m-2 0h2m0 0h2m10 0h2m12 0h2m-57 1h2m3 0h2m11 0h2m11 0h2m-2 0h2m3 0h2m-1 0h2m2 0h2m15 0h2m17 0h2m-86 1h2m1 0h2m2 0h2m4 0h2m5 0h2m10 0h2m1 0h2m3 0h2m0 0h2m-2 0h2m-1 0h2m-1 0h2m-46 1h2m9 0h2m2 0h2m19 0h2m14 0h2m7 0h2m-67 1h2m-1 0h2m-2 0h2m14 0h2m13 0h2m4 0h2m-2 0h2m2 0h2m-2 0h2m3 0h2m1 0h2m4 0h2m24 0h2m-100 1h2m10 0h2m12 0h2m2 0h2m3 0h2m5 0h2m0 0h2m3 0h2m-2 0h2m-1 0h2m-1 0h2m-1 0h2m8 0h2m1 0h2m12 0h2m6 0h2m-62 1h2m0 0h2m5 0h2m-2 0h2m1 0h2m-1 0h2m1 0h2m2 0h2m4 0h2m-1 0h2m3 0h2m8 0h2m-2 0h2m1 0h2m2 0h2m8 0h2m1 0h2m-2 0h2m-94 1h2m0 0h2m12 0h2m5 0h2m6 0h2m8 0h2m-2 0h2m7 0h2m-1 0h2m2 0h2m-2 0h2m1 0h2m4 0h2m0 0h2m6 0h2m-67 1h2m4 0h2m8 0h2m29 0h2m0 0h2m0 0h2m5 0h2m-1 0h2m0 0h2m1 0h2m-89 1h2m27 0h2m5 0h2m-1 0h2m5 0h2m-2 0h2m0 0h2m8 0h2m1 0h2m9 0h2m-1 0h2m0 0h2m3 0h2m2 0h2m2 0h2m76 0h2m-167 1h2m24 0h2m12 0h2m6 0h2m1 0h2m-1 0h2m-2 0h2m-2 0h2m0 0h2m3 0h2m1 0h2m4 0h2m0 0h2m26 0h2m32 0h2m-119 1h2m25 0h2m-1 0h2m-2 0h2m12 0h2m0 0h2m7 0h2m15 0h2m10 0h2m-2 0h2m1 0h2m13 0h2m12 0h2m-1 0h2m-128 1h2m13 0h2m12 0h2m1 0h2m5 0h2m3 0h2m-1 0h2m3 0h2m10 0h2m-1 0h2m4 0h2m1 0h2m1 0h2m5 0h2m3 0h2m-1 0h2m0 0h2m18 0h2m-93 1h2m12 0h2m-2 0h2m6 0h2m-1 0h2m-1 0h2m13 0h2m1 0h2m11 0h2m-1 0h2m13 0h2m37 0h2m-135 1h2m30 0h2m0 0h2m5 0h2m0 0h2m6 0h2m3 0h2m0 0h2m1 0h2m-1 0h2m5 0h2m-1 0h2m6 0h2m-2 0h2m4 0h2m1 0h2m10 0h2m-1 0h2m9 0h2m10 0h2m-107 1h2m16 0h2m2 0h2m7 0h2m-1 0h2m3 0h2m-1 0h2m4 0h2m1 0h2m-1 0h2m10 0h2m2 0h2m0 0h2m0 0h2m0 0h2m3 0h2m7 0h2m-66 1h2m20 0h2m0 0h2m1 0h2m2 0h2m14 0h2m5 0h2m53 0h2m-170 1h2m55 0h2m6 0h2m8 0h2m3 0h2m2 0h2m1 0h2m1 0h2m17 0h2m2 0h2m8 0h2m-2 0h2m15 0h2m-100 1h2m15 0h2m3 0h2m3 0h2m1 0h2m0 0h2m-1 0h2m8 0h2m3 0h2m7 0h2m5 0h2m16 0h2m-2 0h2m29 0h2m-155 1h2m30 0h2m15 0h2m-1 0h2m16 0h2m3 0h2m-1 0h2m-1 0h2m3 0h2m0 0h2m-1 0h2m1 0h2m-1 0h2m4 0h2m-2 0h2m0 0h2m2 0h2m-2 0h2m0 0h2m9 0h2m1 0h2m12 0h2m-104 1h2m9 0h2m2 0h2m1 0h2m6 0h2m-2 0h2m-1 0h2m2 0h2m9 0h2m4 0h2m16 0h2m-2 0h2m1 0h2m-1 0h2m-2 0h2m0 0h2m-1 0h2m-2 0h2m5 0h2m-1 0h2m1 0h2m3 0h2m-84 1h2m13 0h2m12 0h2m4 0h2m-1 0h2m23 0h2m-2 0h2m0 0h2m11 0h2m-1 0h2m-2 0h2m10 0h2m10 0h2m1 0h2m7 0h2m-93 1h2m-2 0h2m9 0h2m-2 0h2m0 0h2m4 0h2m0 0h2m1 0h2m1 0h2m0 0h2m2 0h2m4 0h2m-1 0h2m12 0h2m12 0h2m-132 1h2m31 0h2m11 0h2m3 0h2m8 0h2m0 0h2m8 0h2m14 0h2m2 0h2m3 0h2m6 0h2m0 0h2m0 0h2m-1 0h2m8 0h2m2 0h2m7 0h2m0 0h2m5 0h2m64 0h2m-180 1h2m11 0h2m6 0h2m1 0h2m0 0h2m0 0h2m6 0h2m6 0h2m4 0h2m16 0h2m0 0h2m8 0h2m2 0h2m5 0h2m-2 0h2m2 0h2m2 0h2m4 0h2m-139 1h2m17 0h2m1 0h2m20 0h2m17 0h2m8 0h2m0 0h2m8 0h2m1 0h2m1 0h2m-1 0h2m1 0h2m-1 0h2m-2 0h2m-1 0h2m-2 0h2m2 0h2m12 0h2m10 0h2m3 0h2m1 0h2m2 0h2m-102 1h2m17 0h2m5 0h2m0 0h2m-1 0h2m3 0h2m10 0h2m0 0h2m8 0h2m13 0h2m-1 0h2m-1 0h2m9 0h2m4 0h2m2 0h2m23 0h2m5 0h2m-107 1h2m18 0h2m2 0h2m4 0h2m-1 0h2m4 0h2m-1 0h2m1 0h2m4 0h2m8 0h2m23 0h2m46 0h2m7 0h2m-177 1h2m46 0h2m1 0h2m3 0h2m1 0h2m10 0h2m-1 0h2m16 0h2m2 0h2m23 0h2m-120 1h2m7 0h2m28 0h2m1 0h2m-1 0h2m12 0h2m-1 0h2m-1 0h2m0 0h2m3 0h2m-1 0h2m-2 0h2m26 0h2m8 0h2m8 0h2m3 0h2m0 0h2m-1 0h2m-151 1h2m19 0h2m35 0h2m4 0h2m1 0h2m2 0h2m-1 0h2m2 0h2m9 0h2m-1 0h2m4 0h2m-1 0h2m4 0h2m23 0h2m15 0h2m2 0h2m-135 1h2m15 0h2m1 0h2m12 0h2m17 0h2m21 0h2m7 0h2m2 0h2m9 0h2m23 0h2m0 0h2m3 0h2m11 0h2m-112 1h2m-2 0h2m1 0h2m1 0h2m4 0h2m5 0h2m6 0h2m5 0h2m3 0h2m-2 0h2m0 0h2m1 0h2m5 0h2m-2 0h2m0 0h2m0 0h2m7 0h2m3 0h2m1 0h2m-1 0h2m10 0h2m-1 0h2m0 0h2m12 0h2m6 0h2m-193 1h2m71 0h2m8 0h2m3 0h2m1 0h2m2 0h2m3 0h2m0 0h2m2 0h2m-1 0h2m9 0h2m3 0h2m3 0h2m-1 0h2m6 0h2m11 0h2m-1 0h2m-2 0h2m8 0h2m1 0h2m5 0h2m-104 1h2m2 0h2m16 0h2m8 0h2m-1 0h2m0 0h2m0 0h2m-1 0h2m26 0h2m9 0h2m1 0h2m5 0h2m5 0h2m22 0h2m-143 1h2m7 0h2m30 0h2m-2 0h2m8 0h2m13 0h2m5 0h2m5 0h2m9 0h2m3 0h2m5 0h2m3 0h2m2 0h2m7 0h2m11 0h2m6 0h2m19 0h2m-145 1h2m19 0h2m15 0h2m11 0h2m13 0h2m7 0h2m12 0h2m3 0h2m4 0h2m8 0h2m-120 1h2m24 0h2m-2 0h2m-2 0h2m19 0h2m-1 0h2m3 0h2m-1 0h2m15 0h2m-1 0h2m1 0h2m1 0h2m6 0h2m3 0h2m2 0h2m15 0h2m-2 0h2m11 0h2m-110 1h2m-2 0h2m12 0h2m-1 0h2m20 0h2m3 0h2m8 0h2m5 0h2m-1 0h2m-1 0h2m0 0h2m-1 0h2m-2 0h2m-1 0h2m0 0h2m11 0h2m-2 0h2m-2 0h2m1 0h2m3 0h2m4 0h2m15 0h2m2 0h2m32 0h2m-176 1h2m13 0h2m8 0h2m17 0h2m0 0h2m5 0h2m1 0h2m-1 0h2m-1 0h2m2 0h2m0 0h2m-1 0h2m0 0h2m11 0h2m10 0h2m-1 0h2m4 0h2m-1 0h2m4 0h2m-2 0h2m-81 1h2m8 0h2m1 0h2m1 0h2m2 0h2m8 0h2m-1 0h2m10 0h2m0 0h2m8 0h2m0 0h2m1 0h2m8 0h2m11 0h2m0 0h2m-98 1h2m9 0h2m3 0h2m1 0h2m3 0h2m-2 0h2m25 0h2m-1 0h2m-2 0h2m2 0h2m0 0h2m4 0h2m1 0h2m4 0h2m-1 0h2m3 0h2m9 0h2m-105 1h2m18 0h2m12 0h2m0 0h2m5 0h2m0 0h2m2 0h2m9 0h2m3 0h2m9 0h2m5 0h2m3 0h2m1 0h2m-1 0h2m7 0h2m2 0h2m12 0h2m6 0h2m-132 1h2m-1 0h2m5 0h2m-1 0h2m3 0h2m8 0h2m-1 0h2m6 0h2m1 0h2m6 0h2m-2 0h2m3 0h2m-2 0h2m-2 0h2m10 0h2m-1 0h2m2 0h2m-2 0h2m13 0h2m32 0h2m35 0h2m7 0h2m14 0h2m-162 1h2m6 0h2m11 0h2m5 0h2m1 0h2m-1 0h2m21 0h2m-2 0h2m4 0h2m0 0h2m-1 0h2m3 0h2m0 0h2m2 0h2m14 0h2m14 0h2m1 0h2m-102 1h2m8 0h2m10 0h2m5 0h2m-1 0h2m3 0h2m5 0h2m10 0h2m0 0h2m-2 0h2m-1 0h2m2 0h2m0 0h2m6 0h2m-2 0h2m0 0h2m4 0h2m41 0h2m-157 1h2m2 0h2m19 0h2m7 0h2m16 0h2m-2 0h2m0 0h2m13 0h2m2 0h2m20 0h2m16 0h2m2 0h2m3 0h2m6 0h2m2 0h2m33 0h2m-182 1h2m6 0h2m41 0h2m3 0h2m4 0h2m0 0h2m-1 0h2m1 0h2m-2 0h2m8 0h2m3 0h2m0 0h2m2 0h2m3 0h2m19 0h2m-2 0h2m3 0h2m5 0h2m-94 1h2m22 0h2m2 0h2m2 0h2m-1 0h2m2 0h2m0 0h2m7 0h2m0 0h2m5 0h2m8 0h2m10 0h2m-1 0h2m28 0h2m2 0h2m-1 0h2m20 0h2m-196 1h2m58 0h2m22 0h2m15 0h2m4 0h2m1 0h2m1 0h2m-1 0h2m7 0h2m0 0h2m4 0h2m1 0h2m0 0h2m1 0h2m1 0h2m-2 0h2m-1 0h2m9 0h2m0 0h2m-1 0h2m-121 1h2m-1 0h2m5 0h2m-1 0h2m19 0h2m-1 0h2m6 0h2m3 0h2m4 0h2m3 0h2m12 0h2m0 0h2m0 0h2m0 0h2m2 0h2m0 0h2m6 0h2m0 0h2m11 0h2m-1 0h2m0 0h2m1 0h2m0 0h2m18 0h2m8 0h2m-139 1h2m16 0h2m12 0h2m6 0h2m3 0h2m6 0h2m0 0h2m0 0h2m6 0h2m2 0h2m6 0h2m7 0h2m0 0h2m2 0h2m-1 0h2m-1 0h2m20 0h2m1 0h2m8 0h2m21 0h2m-170 1h2m7 0h2m21 0h2m3 0h2m-1 0h2m2 0h2m19 0h2m-2 0h2m0 0h2m3 0h2m2 0h2m7 0h2m2 0h2m15 0h2m2 0h2m19 0h2m-108 1h2m14 0h2m4 0h2m-1 0h2m2 0h2m1 0h2m22 0h2m-1 0h2m0 0h2m-1 0h2m-2 0h2m-1 0h2m-2 0h2m7 0h2m3 0h2m-2 0h2m1 0h2m0 0h2m0 0h2m2 0h2m4 0h2m8 0h2m-2 0h2m12 0h2m4 0h2m36 0h2m-221 1h2m34 0h2m33 0h2m12 0h2m2 0h2m1 0h2m14 0h2m1 0h2m1 0h2m-2 0h2m10 0h2m7 0h2m1 0h2m7 0h2m7 0h2m1 0h2m5 0h2m16 0h2m9 0h2m21 0h2m-205 1h2m2 0h2m57 0h2m5 0h2m0 0h2m1 0h2m4 0h2m14 0h2m1 0h2m3 0h2m1 0h2m7 0h2m2 0h2m1 0h2m14 0h2m2 0h2m-2 0h2m18 0h2m-1 0h2m7 0h2m-151 1h2m16 0h2m-1 0h2m9 0h2m5 0h2m24 0h2m3 0h2m1 0h2m6 0h2m0 0h2m15 0h2m3 0h2m-1 0h2m5 0h2m1 0h2m0 0h2m-1 0h2m10 0h2m4 0h2m8 0h2m-147 1h2m25 0h2m0 0h2m8 0h2m0 0h2m3 0h2m11 0h2m2 0h2m1 0h2m-2 0h2m0 0h2m5 0h2m5 0h2m3 0h2m6 0h2m19 0h2m9 0h2m2 0h2m3 0h2m9 0h2m6 0h2m-144 1h2m20 0h2m5 0h2m9 0h2m2 0h2m-1 0h2m3 0h2m2 0h2m-1 0h2m4 0h2m2 0h2m12 0h2m1 0h2m-1 0h2m6 0h2m5 0h2m-1 0h2m5 0h2m1 0h2m16 0h2m4 0h2m11 0h2m-149 1h2m-1 0h2m0 0h2m4 0h2m27 0h2m1 0h2m32 0h2m14 0h2m3 0h2m-2 0h2m8 0h2m4 0h2m44 0h2m-224 1h2m58 0h2m0 0h2m26 0h2m9 0h2m1 0h2m12 0h2m0 0h2m0 0h2m1 0h2m0 0h2m2 0h2m2 0h2m6 0h2m7 0h2m4 0h2m-1 0h2m9 0h2m80 0h2m-194 1h2m4 0h2m7 0h2m-2 0h2m11 0h2m11 0h2m26 0h2m-1 0h2m2 0h2m6 0h2m3 0h2m-2 0h2m10 0h2m3 0h2m-2 0h2m3 0h2m6 0h2m68 0h2m-212 1h2m0 0h2m18 0h2m38 0h2m13 0h2m2 0h2m0 0h2m-1 0h2m0 0h2m0 0h2m16 0h2m-1 0h2m4 0h2m10 0h2m1 0h2m36 0h2m2 0h2m-220 1h2m70 0h2m21 0h2m23 0h2m23 0h2m15 0h2m20 0h2m-2 0h2m1 0h2m2 0h2m16 0h2m51 0h2m9 0h2m12 0h2m-278 1h2m40 0h2m7 0h2m16 0h2m12 0h2m19 0h2m12 0h2m1 0h2m1 0h2m0 0h2m4 0h2m18 0h2m4 0h2m1 0h2m2 0h2m3 0h2m2 0h2m10 0h2m35 0h2m-158 1h2m54 0h2m8 0h2m33 0h2m6 0h2m1 0h2m14 0h2m16 0h2m11 0h2m3 0h2m-149 1h2m2 0h2m-1 0h2m4 0h2m-1 0h2m3 0h2m-2 0h2m2 0h2m-2 0h2m3 0h2m1 0h2m8 0h2m0 0h2m3 0h2m-1 0h2m-1 0h2m1 0h2m-2 0h2m5 0h2m2 0h2m-2 0h2m0 0h2m26 0h2m12 0h2m0 0h2m10 0h2m21 0h2m-162 1h2m1 0h2m36 0h2m1 0h2m4 0h2m-1 0h2m10 0h2m5 0h2m-1 0h2m1 0h2m-2 0h2m0 0h2m7 0h2m3 0h2m44 0h2m6 0h2m-182 1h2m8 0h2m14 0h2m48 0h2m12 0h2m-1 0h2m5 0h2m18 0h2m17 0h2m-1 0h2m14 0h2m15 0h2m2 0h2m-127 1h2m-1 0h2m1 0h2m18 0h2m-1 0h2m20 0h2m3 0h2m-1 0h2m0 0h2m8 0h2m14 0h2m55 0h2m1 0h2m-186 1h2m22 0h2m5 0h2m7 0h2m12 0h2m-1 0h2m1 0h2m0 0h2m7 0h2m0 0h2m8 0h2m2 0h2m1 0h2m4 0h2m2 0h2m3 0h2m-2 0h2m2 0h2m3 0h2m-1 0h2m4 0h2m14 0h2m1 0h2m-1 0h2m60 0h2m-227 1h2m35 0h2m15 0h2m2 0h2m16 0h2m-1 0h2m0 0h2m1 0h2m15 0h2m15 0h2m9 0h2m17 0h2m11 0h2m6 0h2m4 0h2m2 0h2m33 0h2m10 0h2m-178 1h2m19 0h2m0 0h2m0 0h2m9 0h2m20 0h2m15 0h2m23 0h2m16 0h2m5 0h2m-1 0h2m1 0h2m7 0h2m6 0h2m10 0h2m-159 1h2m5 0h2m10 0h2m2 0h2m8 0h2m9 0h2m-1 0h2m-1 0h2m2 0h2m8 0h2m-1 0h2m0 0h2m14 0h2m4 0h2m23 0h2m-2 0h2m4 0h2m15 0h2m0 0h2m1 0h2m14 0h2m-1 0h2m-123 1h2m7 0h2m4 0h2m2 0h2m0 0h2m-2 0h2m8 0h2m11 0h2m1 0h2m-2 0h2m30 0h2m0 0h2m4 0h2m5 0h2m20 0h2m1 0h2m-230 1h2m59 0h2m31 0h2m8 0h2m0 0h2m10 0h2m19 0h2m-2 0h2m2 0h2m-1 0h2m10 0h2m17 0h2m0 0h2m36 0h2m-144 1h2m1 0h2m22 0h2m20 0h2m24 0h2m6 0h2m8 0h2m4 0h2m14 0h2m4 0h2m-126 1h2m0 0h2m44 0h2m9 0h2m1 0h2m14 0h2m2 0h2m4 0h2m-1 0h2m0 0h2m2 0h2m7 0h2m16 0h2m16 0h2m19 0h2m-174 1h2m4 0h2m11 0h2m19 0h2m10 0h2m4 0h2m0 0h2m2 0h2m-1 0h2m29 0h2m60 0h2m10 0h2m-186 1h2m65 0h2m1 0h2m3 0h2m1 0h2m11 0h2m2 0h2m7 0h2m4 0h2m4 0h2m6 0h2m43 0h2m34 0h2m17 0h2m-232 1h2m39 0h2m3 0h2m28 0h2m7 0h2m3 0h2m-1 0h2m0 0h2m60 0h2m10 0h2m-2 0h2m-137 1h2m38 0h2m15 0h2m12 0h2m51 0h2m2 0h2m9 0h2m14 0h2m-129 1h2m8 0h2m36 0h2m3 0h2m0 0h2m11 0h2m4 0h2m3 0h2m6 0h2m5 0h2m3 0h2m31 0h2m3 0h2m23 0h2m-235 1h2m21 0h2m61 0h2m-1 0h2m1 0h2m5 0h2m-1 0h2m13 0h2m0 0h2m17 0h2m11 0h2m-134 1h2m76 0h2m35 0h2m-1 0h2m2 0h2m21 0h2m65 0h2m-177 1h2m5 0h2m23 0h2m27 0h2m-2 0h2m0 0h2m-2 0h2m29 0h2m4 0h2m10 0h2m7 0h2m0 0h2m2 0h2m-101 1h2m4 0h2m34 0h2m25 0h2m-1 0h2m14 0h2m-75 1h2m71 0h2m4 0h2m-118 1h2m26 0h2m47 0h2m6 0h2m-1 0h2m47 0h2m64 0h2m-150 1h2m0 0h2m30 0h2m0 0h2m-2 0h2m15 0h2m28 0h2m63 0h2m-178 1h2m39 0h2m8 0h2m21 0h2m2 0h2m4 0h2m53 0h2m-200 1h2m31 0h2m127 0h2m57 0h2m-176 1h2m-53 1h2m36 0h2" stroke="#000" stroke-opacity="0.58" stroke-width="2" transform="scale(.5)"/>
<path d="M260 319h2m3 2h2m7 0h2m-19 1h2m3 0h2m8 0h2m-12 1h2m5 0h2m-21 1h2m6 1h2m14 1h2m-2 1h2m7 0h2m-24 1h2m-1 1h2m-1 0h2m6 0h2m1 0h2m-6 1h2m5 0h2m-34 2h2m7 0h2m5 0h2m14 1h2m-18 1h2m1 0h2m1 0h2m5 0h2m11 0h2m4 0h2m-42 1h2m12 0h2m1 0h2m3 0h2m2 0h2m-16 1h2m-1 1h2m3 0h2m15 0h2m-27 1h2m3 0h2m8 0h2m-41 1h2m17 0h2m4 0h2m10 0h2m-26 1h2m6 0h2m4 0h2m3 0h2m0 0h2m7 0h2m-2 0h2m1 0h2m8 0h2m-44 1h2m19 0h2m10 0h2m-54 1h2m44 0h2m-40 1h2m26 0h2m-14 1h2m2 0h2m5 0h2m6 0h2m-42 1h2m13 0h2m21 0h2m-1 0h2m11 0h2m-40 1h2m13 0h2m1 0h2m0 0h2m16 0h2m-40 1h2m5 0h2m-2 0h2m0 0h2m10 0h2m4 0h2m3 0h2m10 0h2m-36 1h2m-1 0h2m2 0h2m23 0h2m-28 1h2m-1 0h2m0 0h2m2 0h2m-1 0h2m8 0h2m5 0h2m-54 1h2m13 0h2m0 0h2m12 0h2m-25 1h2m6 0h2m12 0h2m7 0h2m3 0h2m0 0h2m4 0h2m-75 1h2m20 0h2m8 0h2m8 0h2m-2 0h2m-1 0h2m12 0h2m5 0h2m10 0h2m-54 1h2m10 0h2m22 0h2m-31 1h2m3 0h2m2 0h2m4 0h2m1 0h2m9 0h2m-1 0h2m1 0h2m-33 1h2m13 0h2m21 0h2m-26 1h2m3 0h2m0 0h2m2 0h2m-1 0h2m4 0h2m9 0h2m-53 1h2m0 0h2m7 0h2m11 0h2m4 0h2m2 0h2m22 0h2m-85 1h2m23 0h2m15 0h2m5 0h2m6 0h2m2 0h2m4 0h2m2 0h2m1 0h2m-2 0h2m-43 1h2m1 0h2m3 0h2m9 0h2m-2 0h2m6 0h2m1 0h2m5 0h2m-74 1h2m26 0h2m13 0h2m19 0h2m3 0h2m1 0h2m4 0h2m13 0h2m-86 1h2m32 0h2m7 0h2m-1 0h2m3 0h2m4 0h2m-1 0h2m6 0h2m4 0h2m7 0h2m4 0h2m-69 1h2m5 0h2m4 0h2m-2 0h2m-1 0h2m4 0h2m1 0h2m-2 0h2m15 0h2m15 0h2m-1 0h2m-74 1h2m11 0h2m8 0h2m1 0h2m3 0h2m5 0h2m4 0h2m-41 1h2m24 0h2m-1 0h2m1 0h2m0 0h2m0 0h2m1 0h2m4 0h2m9 0h2m11 0h2m-2 0h2m0 0h2m-80 1h2m12 0h2m10 0h2m0 0h2m1 0h2m4 0h2m6 0h2m12 0h2m-1 0h2m-2 0h2m-2 0h2m10 0h2m-71 1h2m34 0h2m10 0h2m0 0h2m-1 0h2m4 0h2m0 0h2m-1 0h2m0 0h2m0 0h2m1 0h2m-2 0h2m7 0h2m0 0h2m7 0h2m19 0h2m-93 1h2m8 0h2m-28 1h2m25 0h2m-1 0h2m0 0h2m15 0h2m0 0h2m2 0h2m19 0h2m3 0h2m-89 1h2m36 0h2m8 0h2m1 0h2m11 0h2m-43 1h2m5 0h2m5 0h2m-1 0h2m-1 0h2m13 0h2m2 0h2m1 0h2m6 0h2m-1 0h2m7 0h2m9 0h2m-71 1h2m19 0h2m7 0h2m-2 0h2m3 0h2m1 0h2m4 0h2m14 0h2m-52 1h2m10 0h2m0 0h2m6 0h2m0 0h2m9 0h2m6 0h2m-67 1h2m6 0h2m-1 0h2m23 0h2m-2 0h2m-1 0h2m0 0h2m15 0h2m2 0h2m-2 0h2m3 0h2m6 0h2m20 0h2m-96 1h2m-1 0h2m15 0h2m16 0h2m2 0h2m-1 0h2m3 0h2m-1 0h2m0 0h2m5 0h2m-1 0h2m1 0h2m2 0h2m1 0h2m3 0h2m-59 1h2m4 0h2m11 0h2m3 0h2m12 0h2m3 0h2m-1 0h2m6 0h2m4 0h2m-67 1h2m16 0h2m2 0h2m18 0h2m8 0h2m-2 0h2m2 0h2m22 0h2m-80 1h2m3 0h2m15 0h2m1 0h2m-1 0h2m0 0h2m1 0h2m2 0h2m6 0h2m1 0h2m7 0h2m-1 0h2m-1 0h2m-75 1h2m10 0h2m1 0h2m-2 0h2m9 0h2m6 0h2m13 0h2m-1 0h2m1 0h2m-2 0h2m-1 0h2m-2 0h2m10 0h2m0 0h2m6 0h2m-2 0h2m0 0h2m-60 1h2m22 0h2m-1 0h2m4 0h2m0 0h2m11 0h2m4 0h2m-1 0h2m4 0h2m2 0h2m2 0h2m-1 0h2m-83 1h2m7 0h2m11 0h2m9 0h2m4 0h2m-2 0h2m-2 0h2m7 0h2m2 0h2m14 0h2m1 0h2m12 0h2m-95 1h2m0 0h2m6 0h2m7 0h2m2 0h2m5 0h2m6 0h2m-1 0h2m1 0h2m6 0h2m-1 0h2m1 0h2m14 0h2m5 0h2m-1 0h2m10 0h2m0 0h2m-113 1h2m29 0h2m13 0h2m0 0h2m4 0h2m-2 0h2m15 0h2m8 0h2m-1 0h2m2 0h2m6 0h2m2 0h2m-75 1h2m20 0h2m-2 0h2m10 0h2m-2 0h2m1 0h2m-1 0h2m3 0h2m2 0h2m-1 0h2m-1 0h2m-1 0h2m8 0h2m1 0h2m2 0h2m3 0h2m-67 1h2m3 0h2m5 0h2m-2 0h2m2 0h2m7 0h2m8 0h2m2 0h2m-1 0h2m-2 0h2m1 0h2m0 0h2m1 0h2m-1 0h2m1 0h2m13 0h2m19 0h2m4 0h2m-112 1h2m7 0h2m31 0h2m-1 0h2m1 0h2m-2 0h2m0 0h2m2 0h2m17 0h2m3 0h2m1 0h2m7 0h2m8 0h2m-98 1h2m6 0h2m12 0h2m7 0h2m1 0h2m11 0h2m12 0h2m6 0h2m-1 0h2m-1 0h2m-2 0h2m1 0h2m10 0h2m17 0h2m4 0h2m-109 1h2m5 0h2m13 0h2m4 0h2m3 0h2m1 0h2m6 0h2m-1 0h2m5 0h2m5 0h2m0 0h2m-2 0h2m-1 0h2m-1 0h2m12 0h2m2 0h2m7 0h2m1 0h2m-97 1h2m9 0h2m7 0h2m4 0h2m7 0h2m4 0h2m7 0h2m-2 0h2m5 0h2m3 0h2m4 0h2m14 0h2m-112 1h2m27 0h2m0 0h2m32 0h2m3 0h2m-2 0h2m-1 0h2m11 0h2m5 0h2m-2 0h2m0 0h2m2 0h2m6 0h2m2 0h2m-1 0h2m10 0h2m-101 1h2m25 0h2m2 0h2m-1 0h2m0 0h2m6 0h2m-1 0h2m8 0h2m13 0h2m-1 0h2m57 0h2m-2 0h2m-127 1h2m4 0h2m2 0h2m14 0h2m2 0h2m3 0h2m3 0h2m22 0h2m2 0h2m2 0h2m11 0h2m-2 0h2m0 0h2m1 0h2m5 0h2m-85 1h2m0 0h2m7 0h2m2 0h2m1 0h2m3 0h2m0 0h2m2 0h2m0 0h2m2 0h2m4 0h2m11 0h2m2 0h2m1 0h2m2 0h2m-2 0h2m0 0h2m8 0h2m1 0h2m-83 1h2m24 0h2m-2 0h2m15 0h2m10 0h2m-1 0h2m9 0h2m1 0h2m6 0h2m-2 0h2m-1 0h2m12 0h2m-135 1h2m40 0h2m1 0h2m-1 0h2m3 0h2m1 0h2m0 0h2m3 0h2m1 0h2m4 0h2m7 0h2m-2 0h2m-1 0h2m4 0h2m1 0h2m5 0h2m-2 0h2m0 0h2m10 0h2m8 0h2m-93 1h2m14 0h2m2 0h2m3 0h2m-2 0h2m2 0h2m0 0h2m1 0h2m-1 0h2m3 0h2m-1 0h2m0 0h2m5 0h2m10 0h2m5 0h2m-1 0h2m13 0h2m5 0h2m21 0h2m-140 1h2m15 0h2m24 0h2m1 0h2m3 0h2m1 0h2m-1 0h2m0 0h2m-1 0h2m-1 0h2m17 0h2m0 0h2m2 0h2m8 0h2m4 0h2m-2 0h2m6 0h2m4 0h2m4 0h2m4 0h2m-119 1h2m-1 0h2m8 0h2m3 0h2m9 0h2m-2 0h2m18 0h2m1 0h2m4 0h2m1 0h2m3 0h2m6 0h2m-1 0h2m-1 0h2m-2 0h2m0 0h2m2 0h2m2 0h2m3 0h2m16 0h2m-2 0h2m19 0h2m-97 1h2m-1 0h2m0 0h2m-1 0h2m15 0h2m-2 0h2m-1 0h2m4 0h2m0 0h2m-2 0h2m1 0h2m-2 0h2m0 0h2m4 0h2m16 0h2m0 0h2m-95 1h2m11 0h2m6 0h2m5 0h2m10 0h2m3 0h2m6 0h2m-1 0h2m0 0h2m5 0h2m-2 0h2m-2 0h2m2 0h2m2 0h2m-2 0h2m-1 0h2m5 0h2m2 0h2m5 0h2m1 0h2m-2 0h2m1 0h2m-1 0h2m12 0h2m9 0h2m7 0h2m-130 1h2m4 0h2m11 0h2m4 0h2m4 0h2m1 0h2m1 0h2m0 0h2m0 0h2m-1 0h2m0 0h2m12 0h2m7 0h2m0 0h2m3 0h2m29 0h2m9 0h2m-126 1h2m19 0h2m8 0h2m3 0h2m1 0h2m4 0h2m3 0h2m0 0h2m2 0h2m0 0h2m4 0h2m1 0h2m-2 0h2m-1 0h2m2 0h2m11 0h2m1 0h2m1 0h2m6 0h2m3 0h2m9 0h2m5 0h2m-101 1h2m14 0h2m16 0h2m2 0h2m8 0h2m7 0h2m9 0h2m7 0h2m1 0h2m25 0h2m7 0h2m-144 1h2m9 0h2m6 0h2m-1 0h2m17 0h2m2 0h2m0 0h2m10 0h2m1 0h2m-2 0h2m9 0h2m0 0h2m10 0h2m10 0h2m6 0h2m3 0h2m-1 0h2m0 0h2m1 0h2m-2 0h2m33 0h2m-169 1h2m24 0h2m18 0h2m-2 0h2m6 0h2m3 0h2m1 0h2m1 0h2m0 0h2m2 0h2m-2 0h2m-2 0h2m4 0h2m1 0h2m5 0h2m0 0h2m8 0h2m1 0h2m7 0h2m4 0h2m13 0h2m-121 1h2m3 0h2m2 0h2m4 0h2m3 0h2m9 0h2m11 0h2m0 0h2m9 0h2m-1 0h2m-2 0h2m-1 0h2m7 0h2m0 0h2m-1 0h2m-1 0h2m0 0h2m4 0h2m-2 0h2m-2 0h2m-2 0h2m15 0h2m13 0h2m2 0h2m2 0h2m1 0h2m-2 0h2m0 0h2m15 0h2m14 0h2m-182 1h2m53 0h2m8 0h2m5 0h2m-1 0h2m-1 0h2m-2 0h2m8 0h2m1 0h2m5 0h2m6 0h2m10 0h2m-2 0h2m28 0h2m0 0h2m-142 1h2m0 0h2m4 0h2m17 0h2m6 0h2m7 0h2m-1 0h2m29 0h2m-1 0h2m4 0h2m-1 0h2m0 0h2m13 0h2m11 0h2m4 0h2m8 0h2m-81 1h2m2 0h2m20 0h2m-1 0h2m-1 0h2m6 0h2m6 0h2m-1 0h2m1 0h2m0 0h2m-1 0h2m5 0h2m0 0h2m5 0h2m10 0h2m10 0h2m17 0h2m-157 1h2m10 0h2m39 0h2m8 0h2m1 0h2m16 0h2m-1 0h2m4 0h2m0 0h2m4 0h2m8 0h2m6 0h2m6 0h2m29 0h2m-170 1h2m15 0h2m27 0h2m2 0h2m4 0h2m5 0h2m14 0h2m0 0h2m8 0h2m-1 0h2m2 0h2m3 0h2m2 0h2m-2 0h2m-1 0h2m12 0h2m2 0h2m-2 0h2m15 0h2m-104 1h2m6 0h2m-1 0h2m7 0h2m4 0h2m4 0h2m0 0h2m1 0h2m0 0h2m-1 0h2m13 0h2m-1 0h2m4 0h2m5 0h2m-1 0h2m0 0h2m5 0h2m15 0h2m18 0h2m9 0h2m-120 1h2m15 0h2m5 0h2m6 0h2m5 0h2m0 0h2m1 0h2m4 0h2m3 0h2m7 0h2m-1 0h2m8 0h2m0 0h2m11 0h2m3 0h2m-2 0h2m3 0h2m-1 0h2m-125 1h2m6 0h2m5 0h2m20 0h2m7 0h2m3 0h2m0 0h2m4 0h2m0 0h2m0 0h2m-1 0h2m-2 0h2m2 0h2m2 0h2m19 0h2m2 0h2m4 0h2m0 0h2m7 0h2m-129 1h2m44 0h2m23 0h2m-2 0h2m2 0h2m0 0h2m-1 0h2m2 0h2m10 0h2m-1 0h2m0 0h2m7 0h2m3 0h2m11 0h2m10 0h2m-2 0h2m-137 1h2m38 0h2m14 0h2m0 0h2m0 0h2m0 0h2m7 0h2m10 0h2m-2 0h2m5 0h2m4 0h2m0 0h2m1 0h2m0 0h2m3 0h2m0 0h2m1 0h2m3 0h2m0 0h2m10 0h2m-119 1h2m36 0h2m-1 0h2m3 0h2m-2 0h2m12 0h2m-2 0h2m0 0h2m5 0h2m6 0h2m6 0h2m2 0h2m2 0h2m0 0h2m-2 0h2m2 0h2m11 0h2m32 0h2m4 0h2m-141 1h2m1 0h2m-2 0h2m11 0h2m15 0h2m11 0h2m2 0h2m13 0h2m8 0h2m15 0h2m4 0h2m-128 1h2m5 0h2m5 0h2m27 0h2m2 0h2m6 0h2m8 0h2m30 0h2m-2 0h2m2 0h2m2 0h2m1 0h2m22 0h2m12 0h2m-103 1h2m11 0h2m10 0h2m19 0h2m16 0h2m8 0h2m2 0h2m4 0h2m18 0h2m19 0h2m-126 1h2m3 0h2m5 0h2m4 0h2m0 0h2m2 0h2m6 0h2m-2 0h2m1 0h2m-2 0h2m5 0h2m0 0h2m1 0h2m4 0h2m6 0h2m39 0h2m-169 1h2m60 0h2m4 0h2m-1 0h2m4 0h2m4 0h2m9 0h2m0 0h2m0 0h2m5 0h2m1 0h2m0 0h2m-2 0h2m2 0h2m1 0h2m3 0h2m1 0h2m0 0h2m2 0h2m0 0h2m1 0h2m14 0h2m8 0h2m6 0h2m31 0h2m-157 1h2m1 0h2m16 0h2m0 0h2m4 0h2m2 0h2m1 0h2m0 0h2m0 0h2m5 0h2m0 0h2m2 0h2m3 0h2m1 0h2m-1 0h2m15 0h2m-1 0h2m7 0h2m0 0h2m11 0h2m-2 0h2m0 0h2m8 0h2m-159 1h2m37 0h2m2 0h2m-1 0h2m6 0h2m-1 0h2m2 0h2m11 0h2m-1 0h2m3 0h2m4 0h2m3 0h2m9 0h2m2 0h2m15 0h2m0 0h2m-2 0h2m4 0h2m3 0h2m7 0h2m7 0h2m35 0h2m-158 1h2m8 0h2m2 0h2m6 0h2m2 0h2m4 0h2m0 0h2m2 0h2m-2 0h2m-1 0h2m7 0h2m5 0h2m5 0h2m15 0h2m0 0h2m-2 0h2m7 0h2m0 0h2m1 0h2m7 0h2m1 0h2m1 0h2m2 0h2m3 0h2m-128 1h2m22 0h2m11 0h2m5 0h2m8 0h2m0 0h2m-2 0h2m-1 0h2m0 0h2m1 0h2m4 0h2m-2 0h2m0 0h2m6 0h2m4 0h2m0 0h2m2 0h2m7 0h2m-1 0h2m3 0h2m-2 0h2m3 0h2m0 0h2m0 0h2m0 0h2m15 0h2m1 0h2m3 0h2m7 0h2m-125 1h2m17 0h2m-1 0h2m8 0h2m28 0h2m-1 0h2m4 0h2m1 0h2m9 0h2m8 0h2m3 0h2m38 0h2m-177 1h2m30 0h2m26 0h2m-1 0h2m-1 0h2m-1 0h2m0 0h2m20 0h2m10 0h2m2 0h2m3 0h2m-2 0h2m-2 0h2m2 0h2m1 0h2m11 0h2m18 0h2m-132 1h2m12 0h2m34 0h2m44 0h2m-1 0h2m9 0h2m4 0h2m8 0h2m4 0h2m-165 1h2m32 0h2m2 0h2m5 0h2m2 0h2m9 0h2m15 0h2m6 0h2m-2 0h2m3 0h2m1 0h2m3 0h2m5 0h2m13 0h2m3 0h2m3 0h2m3 0h2m1 0h2m6 0h2m32 0h2m-138 1h2m11 0h2m8 0h2m-1 0h2m-1 0h2m3 0h2m11 0h2m28 0h2m34 0h2m-108 1h2m6 0h2m7 0h2m6 0h2m3 0h2m4 0h2m5 0h2m9 0h2m1 0h2m7 0h2m6 0h2m4 0h2m3 0h2m4 0h2m18 0h2m-145 1h2m1 0h2m2 0h2m-1 0h2m10 0h2m30 0h2m1 0h2m-1 0h2m2 0h2m-1 0h2m13 0h2m-1 0h2m10 0h2m11 0h2m5 0h2m37 0h2m2 0h2m44 0h2m-206 1h2m37 0h2m20 0h2m1 0h2m10 0h2m5 0h2m3 0h2m11 0h2m3 0h2m-1 0h2m-2 0h2m10 0h2m2 0h2m-2 0h2m-1 0h2m4 0h2m10 0h2m37 0h2m-166 1h2m22 0h2m1 0h2m-1 0h2m11 0h2m8 0h2m10 0h2m0 0h2m3 0h2m3 0h2m12 0h2m17 0h2m4 0h2m0 0h2m2 0h2m6 0h2m1 0h2m43 0h2m10 0h2m-178 1h2m1 0h2m3 0h2m22 0h2m0 0h2m-1 0h2m4 0h2m3 0h2m14 0h2m0 0h2m7 0h2m0 0h2m7 0h2m0 0h2m18 0h2m9 0h2m52 0h2m-208 1h2m49 0h2m-1 0h2m21 0h2m1 0h2m2 0h2m6 0h2m8 0h2m-1 0h2m1 0h2m2 0h2m-1 0h2m3 0h2m0 0h2m-1 0h2m9 0h2m1 0h2m4 0h2m8 0h2m-137 1h2m20 0h2m1 0h2m5 0h2m32 0h2m14 0h2m1 0h2m1 0h2m-1 0h2m3 0h2m-1 0h2m2 0h2m-2 0h2m-2 0h2m3 0h2m-1 0h2m0 0h2m3 0h2m33 0h2m4 0h2m9 0h2m-146 1h2m15 0h2m3 0h2m35 0h2m1 0h2m18 0h2m4 0h2m5 0h2m1 0h2m3 0h2m8 0h2m6 0h2m13 0h2m0 0h2m11 0h2m-164 1h2m22 0h2m7 0h2m6 0h2m25 0h2m-1 0h2m1 0h2m17 0h2m9 0h2m3 0h2m14 0h2m2 0h2m24 0h2m47 0h2m-218 1h2m2 0h2m6 0h2m25 0h2m17 0h2m10 0h2m1 0h2m4 0h2m3 0h2m0 0h2m-1 0h2m1 0h2m7 0h2m0 0h2m0 0h2m-1 0h2m-1 0h2m4 0h2m1 0h2m3 0h2m2 0h2m-2 0h2m2 0h2m4 0h2m55 0h2m-146 1h2m3 0h2m5 0h2m-1 0h2m3 0h2m1 0h2m9 0h2m0 0h2m7 0h2m3 0h2m-1 0h2m1 0h2m3 0h2m2 0h2m1 0h2m20 0h2m38 0h2m23 0h2m-233 1h2m57 0h2m0 0h2m2 0h2m3 0h2m10 0h2m6 0h2m7 0h2m11 0h2m-1 0h2m8 0h2m6 0h2m5 0h2m-2 0h2m-2 0h2m28 0h2m8 0h2m11 0h2m19 0h2m-234 1h2m84 0h2m20 0h2m9 0h2m3 0h2m24 0h2m-1 0h2m-1 0h2m-2 0h2m-1 0h2m1 0h2m12 0h2m-1 0h2m34 0h2m5 0h2m4 0h2m-199 1h2m64 0h2m6 0h2m12 0h2m5 0h2m24 0h2m2 0h2m1 0h2m13 0h2m2 0h2m12 0h2m7 0h2m-1 0h2m2 0h2m17 0h2m69 0h2m-268 1h2m9 0h2m33 0h2m5 0h2m9 0h2m3 0h2m0 0h2m1 0h2m11 0h2m0 0h2m7 0h2m6 0h2m2 0h2m-2 0h2m9 0h2m7 0h2m1 0h2m9 0h2m9 0h2m12 0h2m7 0h2m7 0h2m37 0h2m9 0h2m-208 1h2m6 0h2m4 0h2m20 0h2m28 0h2m4 0h2m3 0h2m29 0h2m8 0h2m24 0h2m22 0h2m11 0h2m29 0h2m-199 1h2m14 0h2m9 0h2m22 0h2m0 0h2m4 0h2m37 0h2m14 0h2m-1 0h2m11 0h2m7 0h2m0 0h2m12 0h2m49 0h2m-195 1h2m39 0h2m12 0h2m1 0h2m23 0h2m5 0h2m2 0h2m-1 0h2m2 0h2m11 0h2m7 0h2m25 0h2m-163 1h2m9 0h2m-1 0h2m1 0h2m6 0h2m2 0h2m2 0h2m-2 0h2m13 0h2m34 0h2m3 0h2m1 0h2m-1 0h2m33 0h2m-137 1h2m61 0h2m11 0h2m0 0h2m8 0h2m8 0h2m2 0h2m4 0h2m3 0h2m9 0h2m37 0h2m10 0h2m-156 1h2m12 0h2m3 0h2m15 0h2m4 0h2m19 0h2m12 0h2m1 0h2m48 0h2m2 0h2m9 0h2m48 0h2m-265 1h2m32 0h2m11 0h2m6 0h2m-1 0h2m3 0h2m5 0h2m17 0h2m0 0h2m-2 0h2m-2 0h2m4 0h2m0 0h2m-1 0h2m-2 0h2m4 0h2m-1 0h2m7 0h2m-1 0h2m0 0h2m22 0h2m-2 0h2m5 0h2m22 0h2m10 0h2m-1 0h2m3 0h2m-97 1h2m11 0h2m3 0h2m7 0h2m0 0h2m14 0h2m5 0h2m0 0h2m43 0h2m1 0h2m48 0h2m-205 1h2m7 0h2m4 0h2m8 0h2m12 0h2m3 0h2m11 0h2m4 0h2m-1 0h2m2 0h2m4 0h2m1 0h2m5 0h2m3 0h2m-1 0h2m14 0h2m3 0h2m18 0h2m0 0h2m6 0h2m6 0h2m0 0h2m2 0h2m11 0h2m26 0h2m-164 1h2m1 0h2m6 0h2m5 0h2m5 0h2m21 0h2m9 0h2m15 0h2m8 0h2m1 0h2m0 0h2m7 0h2m-1 0h2m1 0h2m0 0h2m-88 1h2m9 0h2m17 0h2m-2 0h2m15 0h2m10 0h2m16 0h2m1 0h2m114 0h2m-235 1h2m7 0h2m0 0h2m-2 0h2m21 0h2m1 0h2m8 0h2m8 0h2m7 0h2m1 0h2m3 0h2m10 0h2m18 0h2m3 0h2m4 0h2m6 0h2m13 0h2m42 0h2m-160 1h2m29 0h2m-1 0h2m2 0h2m16 0h2m10 0h2m-2 0h2m42 0h2m37 0h2m-228 1h2m33 0h2m35 0h2m13 0h2m22 0h2m1 0h2m-2 0h2m22 0h2m-1 0h2m17 0h2m-1 0h2m11 0h2m65 0h2m-170 1h2m27 0h2m24 0h2m10 0h2m0 0h2m9 0h2m10 0h2m29 0h2m-226 1h2m70 0h2m23 0h2m4 0h2m6 0h2m1 0h2m62 0h2m5 0h2m0 0h2m2 0h2m8 0h2m11 0h2m19 0h2m-151 1h2m4 0h2m0 0h2m9 0h2m26 0h2m11 0h2m-1 0h2m9 0h2m48 0h2m-1 0h2m-120 1h2m15 0h2m6 0h2m3 0h2m0 0h2m4 0h2m1 0h2m-1 0h2m-2 0h2m4 0h2m10 0h2m0 0h2m1 0h2m11 0h2m-1 0h2m13 0h2m5 0h2m7 0h2m26 0h2m26 0h2m-248 1h2m117 0h2m56 0h2m21 0h2m10 0h2m-216 1h2m101 0h2m14 0h2m18 0h2m-1 0h2m11 0h2m4 0h2m15 0h2m30 0h2m15 0h2m13 0h2m-183 1h2m148 0h2m-158 1h2m32 0h2m27 0h2m13 0h2m41 0h2m25 0h2m17 0h2m-132 1h2m11 0h2m3 0h2m3 0h2m20 0h2m16 0h2m23 0h2m41 0h2m-183 1h2m99 0h2m26 0h2m56 0h2m-122 1h2m105 1h2m-154 1h2m42 0h2m54 0h2" stroke="#000" stroke-opacity="0.58" stroke-width="2" transform="scale(.5)"/>
<path d="M263 321h2m5 0h2m-4 1h2m-12 1h2m21 0h2m-11 1h2m1 0h2m-1 0h2m-22 1h2m8 0h2m2 1h2m8 0h2m-29 1h2m11 0h2m4 0h2m2 0h2m8 0h2m-18 1h2m-8 1h2m0 0h2m-18 1h2m12 0h2m26 0h2m-42 1h2m1 0h2m-1 1h2m6 0h2m-11 1h2m1 0h2m24 0h2m-26 1h2m3 0h2m-14 1h2m2 0h2m4 0h2m7 0h2m-1 0h2m-33 1h2m16 0h2m12 0h2m-32 1h2m24 0h2m1 0h2m1 0h2m-18 1h2m12 0h2m10 0h2m-30 1h2m5 0h2m1 0h2m-1 0h2m-25 1h2m16 0h2m-1 1h2m1 0h2m1 0h2m5 0h2m-10 1h2m-3 1h2m6 0h2m8 0h2m2 0h2m5 0h2m-64 1h2m22 0h2m27 0h2m-22 1h2m7 0h2m-1 0h2m3 0h2m-1 0h2m-2 0h2m-34 1h2m15 0h2m-7 1h2m3 0h2m-2 0h2m0 0h2m2 0h2m1 0h2m-1 0h2m-19 1h2m10 0h2m3 0h2m2 0h2m-1 0h2m5 0h2m5 0h2m-64 1h2m8 0h2m20 0h2m0 0h2m6 0h2m-10 1h2m5 0h2m3 0h2m18 0h2m9 0h2m-89 1h2m19 0h2m5 0h2m13 0h2m-24 1h2m8 0h2m12 0h2m-1 0h2m5 0h2m-36 1h2m30 0h2m3 0h2m2 0h2m0 0h2m-38 1h2m1 0h2m11 0h2m10 0h2m-1 0h2m8 0h2m-77 1h2m13 0h2m16 0h2m1 0h2m2 0h2m5 0h2m-2 0h2m8 0h2m-1 0h2m4 0h2m0 0h2m-2 0h2m15 0h2m-35 1h2m-2 0h2m15 0h2m34 0h2m-76 1h2m2 0h2m-2 0h2m0 0h2m7 0h2m5 0h2m0 0h2m7 0h2m11 0h2m11 0h2m-67 1h2m-2 0h2m3 0h2m6 0h2m0 0h2m9 0h2m-1 0h2m0 0h2m7 0h2m1 0h2m-44 1h2m13 0h2m7 0h2m-2 0h2m-2 0h2m3 0h2m10 0h2m-28 1h2m4 0h2m8 0h2m11 0h2m7 0h2m34 0h2m-113 1h2m31 0h2m0 0h2m6 0h2m0 0h2m-2 0h2m0 0h2m12 0h2m-1 0h2m-2 0h2m12 0h2m3 0h2m2 0h2m3 0h2m-68 1h2m10 0h2m-1 0h2m1 0h2m-1 0h2m10 0h2m-1 0h2m5 0h2m5 0h2m17 0h2m-91 1h2m3 0h2m15 0h2m3 0h2m14 0h2m15 0h2m-1 0h2m11 0h2m1 0h2m-45 1h2m7 0h2m21 0h2m5 0h2m15 0h2m-72 1h2m5 0h2m3 0h2m1 0h2m1 0h2m5 0h2m-1 0h2m-2 0h2m44 0h2m4 0h2m-64 1h2m1 0h2m-2 0h2m0 0h2m1 0h2m10 0h2m-1 0h2m4 0h2m3 0h2m6 0h2m-50 1h2m0 0h2m14 0h2m1 0h2m2 0h2m-1 0h2m5 0h2m-1 0h2m0 0h2m3 0h2m3 0h2m-53 1h2m11 0h2m5 0h2m2 0h2m-1 0h2m1 0h2m6 0h2m-1 0h2m-1 0h2m11 0h2m-78 1h2m32 0h2m6 0h2m-2 0h2m1 0h2m0 0h2m3 0h2m29 0h2m-64 1h2m13 0h2m-2 0h2m12 0h2m-1 0h2m3 0h2m2 0h2m3 0h2m1 0h2m1 0h2m3 0h2m-2 0h2m0 0h2m0 0h2m-38 1h2m13 0h2m-2 0h2m5 0h2m2 0h2m6 0h2m-59 1h2m6 0h2m0 0h2m6 0h2m1 0h2m0 0h2m6 0h2m-51 1h2m15 0h2m-1 0h2m10 0h2m1 0h2m2 0h2m0 0h2m1 0h2m-2 0h2m14 0h2m3 0h2m-2 0h2m4 0h2m4 0h2m-63 1h2m13 0h2m1 0h2m0 0h2m4 0h2m3 0h2m10 0h2m10 0h2m58 0h2m-114 1h2m9 0h2m8 0h2m-2 0h2m3 0h2m0 0h2m2 0h2m5 0h2m-2 0h2m2 0h2m5 0h2m-1 0h2m4 0h2m-74 1h2m38 0h2m5 0h2m-2 0h2m5 0h2m2 0h2m-1 0h2m4 0h2m7 0h2m13 0h2m8 0h2m-119 1h2m17 0h2m16 0h2m9 0h2m11 0h2m3 0h2m10 0h2m1 0h2m-2 0h2m8 0h2m12 0h2m21 0h2m-97 1h2m8 0h2m8 0h2m7 0h2m1 0h2m-2 0h2m3 0h2m1 0h2m7 0h2m-1 0h2m-2 0h2m-2 0h2m0 0h2m10 0h2m5 0h2m8 0h2m-99 1h2m5 0h2m0 0h2m1 0h2m11 0h2m-2 0h2m2 0h2m7 0h2m-1 0h2m1 0h2m2 0h2m-2 0h2m-1 0h2m0 0h2m5 0h2m2 0h2m-1 0h2m3 0h2m0 0h2m-56 1h2m-2 0h2m16 0h2m2 0h2m9 0h2m1 0h2m1 0h2m6 0h2m9 0h2m4 0h2m0 0h2m-1 0h2m-91 1h2m-1 0h2m4 0h2m10 0h2m16 0h2m2 0h2m3 0h2m5 0h2m-2 0h2m3 0h2m18 0h2m2 0h2m-52 1h2m7 0h2m3 0h2m-2 0h2m3 0h2m2 0h2m1 0h2m-1 0h2m-2 0h2m1 0h2m-2 0h2m4 0h2m2 0h2m1 0h2m-57 1h2m6 0h2m5 0h2m15 0h2m-1 0h2m-2 0h2m5 0h2m3 0h2m9 0h2m11 0h2m14 0h2m-76 1h2m-2 0h2m1 0h2m-1 0h2m3 0h2m22 0h2m0 0h2m3 0h2m8 0h2m5 0h2m27 0h2m-96 1h2m31 0h2m20 0h2m4 0h2m1 0h2m-1 0h2m1 0h2m19 0h2m0 0h2m-94 1h2m14 0h2m-2 0h2m10 0h2m7 0h2m-1 0h2m2 0h2m-1 0h2m0 0h2m2 0h2m1 0h2m-2 0h2m-1 0h2m-1 0h2m5 0h2m2 0h2m-79 1h2m24 0h2m1 0h2m-1 0h2m11 0h2m6 0h2m0 0h2m2 0h2m7 0h2m9 0h2m2 0h2m0 0h2m-100 1h2m1 0h2m13 0h2m26 0h2m0 0h2m4 0h2m4 0h2m-2 0h2m9 0h2m0 0h2m0 0h2m11 0h2m-1 0h2m7 0h2m5 0h2m-90 1h2m25 0h2m26 0h2m7 0h2m20 0h2m-1 0h2m20 0h2m-79 1h2m-1 0h2m-2 0h2m-1 0h2m-2 0h2m9 0h2m-1 0h2m-1 0h2m1 0h2m0 0h2m1 0h2m0 0h2m1 0h2m6 0h2m-1 0h2m14 0h2m9 0h2m-96 1h2m25 0h2m2 0h2m-2 0h2m1 0h2m12 0h2m1 0h2m-1 0h2m4 0h2m5 0h2m2 0h2m1 0h2m44 0h2m-109 1h2m19 0h2m-1 0h2m1 0h2m4 0h2m-1 0h2m2 0h2m-1 0h2m4 0h2m2 0h2m0 0h2m3 0h2m1 0h2m3 0h2m-1 0h2m29 0h2m-123 1h2m16 0h2m15 0h2m3 0h2m1 0h2m-1 0h2m-2 0h2m2 0h2m-2 0h2m5 0h2m3 0h2m1 0h2m6 0h2m4 0h2m-1 0h2m-1 0h2m-57 1h2m7 0h2m11 0h2m1 0h2m10 0h2m0 0h2m1 0h2m-1 0h2m10 0h2m-2 0h2m-67 1h2m13 0h2m0 0h2m3 0h2m4 0h2m-2 0h2m7 0h2m-2 0h2m1 0h2m1 0h2m9 0h2m-1 0h2m-1 0h2m0 0h2m-1 0h2m5 0h2m3 0h2m1 0h2m0 0h2m-2 0h2m0 0h2m1 0h2m-87 1h2m11 0h2m14 0h2m6 0h2m20 0h2m19 0h2m4 0h2m-76 1h2m28 0h2m-1 0h2m7 0h2m0 0h2m4 0h2m10 0h2m16 0h2m8 0h2m18 0h2m-115 1h2m0 0h2m2 0h2m9 0h2m8 0h2m3 0h2m9 0h2m1 0h2m-1 0h2m0 0h2m4 0h2m3 0h2m0 0h2m-1 0h2m-1 0h2m5 0h2m21 0h2m8 0h2m-142 1h2m22 0h2m22 0h2m8 0h2m-2 0h2m2 0h2m-1 0h2m-2 0h2m8 0h2m14 0h2m-81 1h2m15 0h2m31 0h2m-1 0h2m3 0h2m2 0h2m0 0h2m7 0h2m7 0h2m17 0h2m-2 0h2m17 0h2m0 0h2m4 0h2m4 0h2m16 0h2m-112 1h2m6 0h2m2 0h2m10 0h2m-2 0h2m0 0h2m-2 0h2m4 0h2m5 0h2m7 0h2m7 0h2m1 0h2m-2 0h2m2 0h2m7 0h2m10 0h2m-125 1h2m25 0h2m7 0h2m1 0h2m12 0h2m8 0h2m3 0h2m2 0h2m1 0h2m1 0h2m5 0h2m0 0h2m-1 0h2m18 0h2m1 0h2m1 0h2m27 0h2m-123 1h2m13 0h2m8 0h2m11 0h2m3 0h2m-2 0h2m-1 0h2m0 0h2m0 0h2m17 0h2m4 0h2m-2 0h2m-1 0h2m2 0h2m0 0h2m25 0h2m4 0h2m9 0h2m-113 1h2m2 0h2m0 0h2m11 0h2m-1 0h2m4 0h2m3 0h2m1 0h2m4 0h2m-1 0h2m7 0h2m-1 0h2m5 0h2m6 0h2m10 0h2m-110 1h2m20 0h2m0 0h2m9 0h2m5 0h2m-1 0h2m1 0h2m1 0h2m2 0h2m3 0h2m-1 0h2m2 0h2m6 0h2m2 0h2m3 0h2m0 0h2m0 0h2m0 0h2m1 0h2m7 0h2m26 0h2m-179 1h2m49 0h2m34 0h2m18 0h2m-2 0h2m12 0h2m14 0h2m7 0h2m8 0h2m-2 0h2m5 0h2m-99 1h2m9 0h2m0 0h2m0 0h2m2 0h2m-2 0h2m4 0h2m3 0h2m7 0h2m6 0h2m-1 0h2m2 0h2m-1 0h2m-1 0h2m9 0h2m3 0h2m19 0h2m-1 0h2m4 0h2m-1 0h2m2 0h2m29 0h2m-143 1h2m8 0h2m3 0h2m3 0h2m0 0h2m-1 0h2m4 0h2m3 0h2m-2 0h2m3 0h2m0 0h2m5 0h2m3 0h2m0 0h2m-1 0h2m3 0h2m2 0h2m3 0h2m-2 0h2m4 0h2m1 0h2m8 0h2m40 0h2m-123 1h2m2 0h2m4 0h2m7 0h2m2 0h2m-1 0h2m2 0h2m-1 0h2m5 0h2m-1 0h2m2 0h2m-1 0h2m7 0h2m17 0h2m24 0h2m1 0h2m51 0h2m-176 1h2m61 0h2m-2 0h2m11 0h2m22 0h2m3 0h2m6 0h2m1 0h2m57 0h2m-179 1h2m12 0h2m10 0h2m17 0h2m2 0h2m8 0h2m2 0h2m3 0h2m11 0h2m8 0h2m-1 0h2m2 0h2m-2 0h2m-1 0h2m3 0h2m1 0h2m-122 1h2m5 0h2m24 0h2m32 0h2m4 0h2m6 0h2m11 0h2m3 0h2m-1 0h2m5 0h2m1 0h2m-1 0h2m7 0h2m2 0h2m0 0h2m30 0h2m-101 1h2m6 0h2m1 0h2m-1 0h2m-1 0h2m5 0h2m1 0h2m1 0h2m0 0h2m-2 0h2m5 0h2m3 0h2m-1 0h2m0 0h2m-2 0h2m3 0h2m-2 0h2m19 0h2m-1 0h2m8 0h2m38 0h2m-132 1h2m2 0h2m17 0h2m0 0h2m0 0h2m0 0h2m5 0h2m2 0h2m2 0h2m-2 0h2m-1 0h2m4 0h2m-1 0h2m1 0h2m8 0h2m2 0h2m16 0h2m1 0h2m24 0h2m16 0h2m-173 1h2m20 0h2m-1 0h2m10 0h2m13 0h2m3 0h2m0 0h2m0 0h2m3 0h2m0 0h2m6 0h2m1 0h2m-2 0h2m-1 0h2m-2 0h2m11 0h2m-1 0h2m-2 0h2m7 0h2m5 0h2m3 0h2m1 0h2m12 0h2m-1 0h2m12 0h2m-1 0h2m1 0h2m1 0h2m23 0h2m-205 1h2m46 0h2m5 0h2m9 0h2m16 0h2m6 0h2m4 0h2m7 0h2m1 0h2m25 0h2m10 0h2m4 0h2m-85 1h2m-1 0h2m-1 0h2m6 0h2m8 0h2m0 0h2m8 0h2m35 0h2m3 0h2m0 0h2m-123 1h2m24 0h2m17 0h2m1 0h2m4 0h2m12 0h2m2 0h2m1 0h2m0 0h2m3 0h2m0 0h2m-1 0h2m1 0h2m15 0h2m-2 0h2m-99 1h2m13 0h2m10 0h2m7 0h2m-1 0h2m12 0h2m-2 0h2m0 0h2m-1 0h2m0 0h2m6 0h2m2 0h2m4 0h2m1 0h2m0 0h2m-2 0h2m8 0h2m5 0h2m-1 0h2m4 0h2m-128 1h2m10 0h2m3 0h2m38 0h2m1 0h2m6 0h2m0 0h2m4 0h2m3 0h2m2 0h2m1 0h2m3 0h2m-2 0h2m6 0h2m0 0h2m5 0h2m1 0h2m1 0h2m4 0h2m1 0h2m5 0h2m3 0h2m-2 0h2m10 0h2m-1 0h2m-122 1h2m-1 0h2m14 0h2m2 0h2m13 0h2m-2 0h2m2 0h2m13 0h2m1 0h2m-1 0h2m0 0h2m3 0h2m0 0h2m-1 0h2m5 0h2m23 0h2m0 0h2m5 0h2m-143 1h2m9 0h2m7 0h2m1 0h2m14 0h2m0 0h2m-1 0h2m15 0h2m-1 0h2m5 0h2m1 0h2m2 0h2m1 0h2m10 0h2m1 0h2m7 0h2m-1 0h2m0 0h2m0 0h2m31 0h2m-2 0h2m0 0h2m8 0h2m-121 1h2m3 0h2m2 0h2m8 0h2m-1 0h2m-2 0h2m0 0h2m7 0h2m8 0h2m7 0h2m-2 0h2m7 0h2m2 0h2m3 0h2m-1 0h2m16 0h2m1 0h2m4 0h2m1 0h2m18 0h2m8 0h2m19 0h2m-154 1h2m1 0h2m14 0h2m0 0h2m6 0h2m20 0h2m2 0h2m-1 0h2m3 0h2m1 0h2m-2 0h2m1 0h2m14 0h2m0 0h2m21 0h2m9 0h2m-2 0h2m1 0h2m19 0h2m-145 1h2m19 0h2m3 0h2m14 0h2m16 0h2m-2 0h2m2 0h2m0 0h2m-1 0h2m12 0h2m15 0h2m29 0h2m6 0h2m1 0h2m-135 1h2m12 0h2m0 0h2m2 0h2m12 0h2m0 0h2m3 0h2m1 0h2m7 0h2m1 0h2m0 0h2m11 0h2m2 0h2m0 0h2m15 0h2m-2 0h2m4 0h2m4 0h2m32 0h2m-162 1h2m30 0h2m20 0h2m1 0h2m-2 0h2m-1 0h2m-1 0h2m11 0h2m22 0h2m-1 0h2m4 0h2m25 0h2m-133 1h2m11 0h2m0 0h2m2 0h2m-1 0h2m0 0h2m2 0h2m5 0h2m0 0h2m3 0h2m16 0h2m5 0h2m1 0h2m-1 0h2m6 0h2m8 0h2m-1 0h2m3 0h2m-1 0h2m-1 0h2m4 0h2m-2 0h2m0 0h2m22 0h2m0 0h2m5 0h2m-113 1h2m3 0h2m5 0h2m1 0h2m3 0h2m0 0h2m3 0h2m3 0h2m1 0h2m2 0h2m-1 0h2m1 0h2m10 0h2m2 0h2m1 0h2m3 0h2m6 0h2m3 0h2m14 0h2m9 0h2m-1 0h2m13 0h2m-126 1h2m-1 0h2m7 0h2m6 0h2m6 0h2m8 0h2m0 0h2m14 0h2m4 0h2m2 0h2m0 0h2m3 0h2m5 0h2m3 0h2m15 0h2m-1 0h2m10 0h2m11 0h2m-165 1h2m0 0h2m9 0h2m8 0h2m29 0h2m3 0h2m3 0h2m7 0h2m-1 0h2m0 0h2m7 0h2m-1 0h2m1 0h2m4 0h2m5 0h2m2 0h2m13 0h2m-1 0h2m5 0h2m2 0h2m1 0h2m49 0h2m-171 1h2m-2 0h2m21 0h2m0 0h2m24 0h2m0 0h2m5 0h2m6 0h2m6 0h2m3 0h2m8 0h2m0 0h2m9 0h2m-1 0h2m-1 0h2m15 0h2m2 0h2m26 0h2m0 0h2m7 0h2m-184 1h2m10 0h2m6 0h2m40 0h2m0 0h2m6 0h2m5 0h2m1 0h2m-1 0h2m0 0h2m14 0h2m0 0h2m-1 0h2m0 0h2m-2 0h2m0 0h2m4 0h2m1 0h2m34 0h2m10 0h2m4 0h2m8 0h2m-147 1h2m0 0h2m8 0h2m3 0h2m0 0h2m4 0h2m-2 0h2m2 0h2m0 0h2m14 0h2m4 0h2m-1 0h2m4 0h2m13 0h2m4 0h2m0 0h2m16 0h2m4 0h2m-105 1h2m10 0h2m2 0h2m2 0h2m5 0h2m1 0h2m0 0h2m0 0h2m3 0h2m3 0h2m3 0h2m4 0h2m-1 0h2m2 0h2m5 0h2m-2 0h2m11 0h2m-1 0h2m1 0h2m3 0h2m0 0h2m15 0h2m-126 1h2m1 0h2m6 0h2m25 0h2m3 0h2m3 0h2m20 0h2m12 0h2m17 0h2m10 0h2m20 0h2m-159 1h2m4 0h2m15 0h2m17 0h2m0 0h2m2 0h2m-1 0h2m2 0h2m8 0h2m3 0h2m17 0h2m21 0h2m-1 0h2m5 0h2m-1 0h2m6 0h2m2 0h2m-138 1h2m27 0h2m4 0h2m9 0h2m8 0h2m2 0h2m7 0h2m14 0h2m12 0h2m-1 0h2m5 0h2m0 0h2m1 0h2m6 0h2m3 0h2m23 0h2m-1 0h2m3 0h2m-131 1h2m6 0h2m0 0h2m15 0h2m17 0h2m1 0h2m1 0h2m7 0h2m-1 0h2m-2 0h2m2 0h2m1 0h2m9 0h2m3 0h2m4 0h2m9 0h2m0 0h2m20 0h2m7 0h2m-162 1h2m10 0h2m1 0h2m1 0h2m14 0h2m2 0h2m1 0h2m5 0h2m15 0h2m7 0h2m9 0h2m0 0h2m6 0h2m0 0h2m0 0h2m14 0h2m29 0h2m3 0h2m9 0h2m27 0h2m-173 1h2m9 0h2m11 0h2m-2 0h2m15 0h2m15 0h2m-2 0h2m6 0h2m1 0h2m0 0h2m4 0h2m-2 0h2m-1 0h2m15 0h2m0 0h2m13 0h2m-2 0h2m2 0h2m18 0h2m8 0h2m-203 1h2m32 0h2m36 0h2m0 0h2m2 0h2m-2 0h2m7 0h2m13 0h2m6 0h2m12 0h2m0 0h2m6 0h2m0 0h2m2 0h2m-2 0h2m16 0h2m3 0h2m14 0h2m-143 1h2m6 0h2m13 0h2m3 0h2m4 0h2m16 0h2m2 0h2m-1 0h2m3 0h2m1 0h2m-2 0h2m0 0h2m-2 0h2m2 0h2m7 0h2m29 0h2m0 0h2m6 0h2m-2 0h2m6 0h2m-1 0h2m2 0h2m2 0h2m4 0h2m26 0h2m-191 1h2m-1 0h2m15 0h2m17 0h2m18 0h2m1 0h2m12 0h2m4 0h2m1 0h2m6 0h2m0 0h2m-1 0h2m-1 0h2m9 0h2m13 0h2m3 0h2m-1 0h2m9 0h2m-1 0h2m32 0h2m12 0h2m7 0h2m-156 1h2m5 0h2m4 0h2m8 0h2m1 0h2m0 0h2m20 0h2m2 0h2m-1 0h2m4 0h2m1 0h2m4 0h2m-1 0h2m0 0h2m3 0h2m-1 0h2m12 0h2m58 0h2m20 0h2m-201 1h2m-1 0h2m0 0h2m1 0h2m33 0h2m-1 0h2m27 0h2m6 0h2m6 0h2m0 0h2m15 0h2m15 0h2m9 0h2m16 0h2m33 0h2m-185 1h2m22 0h2m34 0h2m4 0h2m3 0h2m1 0h2m13 0h2m21 0h2m45 0h2m-69 1h2m-1 0h2m0 0h2m4 0h2m5 0h2m-1 0h2m6 0h2m11 0h2m1 0h2m11 0h2m9 0h2m-173 1h2m5 0h2m43 0h2m0 0h2m7 0h2m-1 0h2m-1 0h2m10 0h2m-2 0h2m20 0h2m20 0h2m4 0h2m49 0h2m31 0h2m-211 1h2m-2 0h2m5 0h2m4 0h2m10 0h2m-2 0h2m23 0h2m11 0h2m14 0h2m-2 0h2m11 0h2m3 0h2m2 0h2m5 0h2m1 0h2m35 0h2m3 0h2m19 0h2m-175 1h2m57 0h2m-1 0h2m12 0h2m4 0h2m12 0h2m8 0h2m8 0h2m0 0h2m2 0h2m25 0h2m10 0h2m35 0h2m18 0h2m-210 1h2m2 0h2m31 0h2m6 0h2m34 0h2m2 0h2m66 0h2m-128 1h2m-1 0h2m8 0h2m5 0h2m23 0h2m20 0h2m43 0h2m5 0h2m30 0h2m-218 1h2m29 0h2m51 0h2m2 0h2m3 0h2m-2 0h2m1 0h2m1 0h2m16 0h2m16 0h2m9 0h2m0 0h2m-1 0h2m-2 0h2m-1 0h2m1 0h2m21 0h2m-135 1h2m34 0h2m18 0h2m1 0h2m4 0h2m4 0h2m2 0h2m7 0h2m-1 0h2m13 0h2m0 0h2m1 0h2m10 0h2m0 0h2m32 0h2m-212 1h2m23 0h2m18 0h2m23 0h2m20 0h2m45 0h2m3 0h2m11 0h2m6 0h2m6 0h2m3 0h2m19 0h2m0 0h2m0 0h2m6 0h2m23 0h2m-224 1h2m13 0h2m56 0h2m-1 0h2m9 0h2m5 0h2m3 0h2m27 0h2m2 0h2m2 0h2m-1 0h2m6 0h2m2 0h2m2 0h2m26 0h2m52 0h2m-213 1h2m15 0h2m47 0h2m24 0h2m3 0h2m16 0h2m-1 0h2m-2 0h2m2 0h2m19 0h2m4 0h2m25 0h2m2 0h2m30 0h2m-184 1h2m-1 0h2m30 0h2m46 0h2m3 0h2m6 0h2m15 0h2m-2 0h2m-1 0h2m17 0h2m6 0h2m-235 1h2m98 0h2m7 0h2m6 0h2m5 0h2m44 0h2m11 0h2m-1 0h2m22 0h2m-181 1h2m51 0h2m6 0h2m18 0h2m4 0h2m5 0h2m2 0h2m0 0h2m-2 0h2m1 0h2m14 0h2m1 0h2m-2 0h2m12 0h2m26 0h2m-1 0h2m5 0h2m-120 1h2m34 0h2m30 0h2m18 0h2m26 0h2m11 0h2m11 0h2m39 0h2m-165 1h2m26 0h2m28 0h2m4 0h2m-1 0h2m39 0h2m1 0h2m19 0h2m3 0h2m-138 1h2m20 0h2m27 0h2m11 0h2m4 0h2m2 0h2m11 0h2m8 0h2m1 0h2m2 0h2m-1 0h2m21 0h2m64 0h2m-222 1h2m21 0h2m3 0h2m4 0h2m15 0h2m7 0h2m43 0h2m6 0h2m-1 0h2m21 0h2m29 0h2m9 0h2m-199 1h2m24 0h2m40 0h2m24 0h2m14 0h2m2 0h2m10 0h2m1 0h2m22 0h2m8 0h2m-128 1h2m57 0h2m0 0h2m12 0h2m24 0h2m-170 1h2m51 0h2m13 0h2m82 0h2m10 0h2m20 0h2m20 0h2m6 0h2m60 0h2m-126 1h2m93 0h2m-159 1h2m11 0h2m32 0h2m3 0h2m128 0h2m8 0h2m-287 1h2m95 0h2m43 0h2m23 0h2m-27 1h2" stroke="#000" stroke-opacity="0.58" stroke-width="2" transform="scale(.5)"/>
<path d="M267 320h2m-5 1h2m11 0h2m-22 1h2m10 1h2m-16 1h2m-1 0h2m10 0h2m1 0h2m9 0h2m-6 1h2m-9 1h2m-13 2h2m-1 0h2m15 0h2m-23 1h2m17 0h2m-31 1h2m10 0h2m2 0h2m7 0h2m3 0h2m-36 1h2m12 0h2m0 0h2m2 0h2m5 0h2m-6 1h2m3 0h2m-1 0h2m20 0h2m-50 1h2m7 0h2m5 0h2m-1 0h2m16 0h2m-24 1h2m4 0h2m7 0h2m-30 1h2m5 0h2m10 0h2m0 0h2m2 0h2m10 0h2m12 0h2m-35 1h2m2 0h2m14 0h2m-5 1h2m-39 1h2m8 1h2m8 0h2m6 0h2m2 0h2m19 0h2m-40 1h2m4 0h2m7 0h2m3 0h2m6 0h2m6 0h2m-24 1h2m-1 0h2m20 0h2m-41 1h2m24 0h2m-16 1h2m7 0h2m-28 1h2m21 0h2m-36 1h2m5 0h2m-1 0h2m1 0h2m12 0h2m8 0h2m8 0h2m1 0h2m-19 1h2m20 0h2m4 0h2m-2 0h2m-1 0h2m-56 1h2m14 0h2m7 0h2m1 0h2m-37 1h2m20 0h2m-1 0h2m0 0h2m2 0h2m1 0h2m2 0h2m-31 1h2m21 0h2m4 0h2m5 0h2m2 0h2m-31 1h2m3 0h2m18 0h2m-1 0h2m-48 1h2m-2 0h2m10 0h2m4 0h2m-2 0h2m11 0h2m4 0h2m28 0h2m-54 1h2m14 0h2m-2 0h2m16 0h2m8 0h2m-53 1h2m2 0h2m13 0h2m9 0h2m1 0h2m-1 0h2m7 0h2m-10 1h2m19 0h2m-53 1h2m1 0h2m3 0h2m2 0h2m0 0h2m11 0h2m7 0h2m4 0h2m12 0h2m-63 1h2m6 0h2m6 0h2m2 0h2m7 0h2m2 0h2m-2 0h2m8 0h2m45 0h2m-92 1h2m3 0h2m5 0h2m14 0h2m19 0h2m-41 1h2m2 0h2m1 0h2m8 0h2m5 0h2m-1 0h2m-1 0h2m1 0h2m0 0h2m21 0h2m-61 1h2m4 0h2m6 0h2m19 0h2m-48 1h2m7 0h2m0 0h2m15 0h2m1 0h2m0 0h2m1 0h2m23 0h2m-56 1h2m1 0h2m11 0h2m15 0h2m13 0h2m-43 1h2m13 0h2m-1 0h2m-1 0h2m13 0h2m3 0h2m-87 1h2m22 0h2m22 0h2m6 0h2m10 0h2m2 0h2m6 0h2m3 0h2m-37 1h2m0 0h2m11 0h2m2 0h2m10 0h2m2 0h2m0 0h2m16 0h2m-77 1h2m1 0h2m20 0h2m0 0h2m3 0h2m1 0h2m0 0h2m4 0h2m2 0h2m-1 0h2m19 0h2m-79 1h2m8 0h2m8 0h2m3 0h2m-1 0h2m9 0h2m1 0h2m-1 0h2m3 0h2m10 0h2m10 0h2m-2 0h2m-29 1h2m1 0h2m5 0h2m2 0h2m-38 1h2m1 0h2m-1 0h2m2 0h2m-1 0h2m-1 0h2m1 0h2m0 0h2m1 0h2m0 0h2m1 0h2m3 0h2m-1 0h2m5 0h2m-2 0h2m44 0h2m-102 1h2m0 0h2m1 0h2m3 0h2m12 0h2m12 0h2m3 0h2m5 0h2m1 0h2m2 0h2m0 0h2m-81 1h2m40 0h2m27 0h2m4 0h2m19 0h2m0 0h2m-92 1h2m22 0h2m6 0h2m2 0h2m1 0h2m27 0h2m1 0h2m0 0h2m19 0h2m-89 1h2m-1 0h2m11 0h2m-2 0h2m12 0h2m12 0h2m1 0h2m14 0h2m1 0h2m-1 0h2m-2 0h2m-73 1h2m15 0h2m2 0h2m2 0h2m5 0h2m6 0h2m0 0h2m-1 0h2m0 0h2m3 0h2m1 0h2m14 0h2m-1 0h2m-1 0h2m5 0h2m-1 0h2m4 0h2m35 0h2m-111 1h2m7 0h2m-2 0h2m4 0h2m5 0h2m1 0h2m1 0h2m1 0h2m-1 0h2m-1 0h2m-1 0h2m3 0h2m-2 0h2m-1 0h2m13 0h2m3 0h2m-1 0h2m-1 0h2m-55 1h2m0 0h2m-1 0h2m2 0h2m6 0h2m17 0h2m5 0h2m5 0h2m0 0h2m0 0h2m11 0h2m-71 1h2m6 0h2m12 0h2m4 0h2m2 0h2m2 0h2m5 0h2m8 0h2m-1 0h2m2 0h2m2 0h2m-76 1h2m14 0h2m1 0h2m-1 0h2m-2 0h2m0 0h2m7 0h2m1 0h2m-1 0h2m-1 0h2m8 0h2m-1 0h2m-1 0h2m1 0h2m4 0h2m7 0h2m18 0h2m-87 1h2m4 0h2m2 0h2m4 0h2m1 0h2m4 0h2m0 0h2m1 0h2m17 0h2m10 0h2m19 0h2m0 0h2m11 0h2m-125 1h2m13 0h2m6 0h2m1 0h2m4 0h2m0 0h2m15 0h2m9 0h2m8 0h2m2 0h2m-2 0h2m1 0h2m0 0h2m23 0h2m21 0h2m-137 1h2m56 0h2m1 0h2m3 0h2m17 0h2m-1 0h2m3 0h2m0 0h2m-77 1h2m20 0h2m3 0h2m1 0h2m15 0h2m4 0h2m15 0h2m1 0h2m0 0h2m7 0h2m7 0h2m3 0h2m-101 1h2m9 0h2m7 0h2m1 0h2m-1 0h2m26 0h2m-1 0h2m0 0h2m5 0h2m-1 0h2m4 0h2m1 0h2m-64 1h2m14 0h2m3 0h2m1 0h2m8 0h2m3 0h2m-1 0h2m-1 0h2m10 0h2m1 0h2m-2 0h2m4 0h2m9 0h2m6 0h2m17 0h2m-92 1h2m36 0h2m10 0h2m1 0h2m10 0h2m1 0h2m5 0h2m1 0h2m-71 1h2m5 0h2m1 0h2m0 0h2m6 0h2m15 0h2m4 0h2m13 0h2m22 0h2m-99 1h2m3 0h2m0 0h2m4 0h2m3 0h2m6 0h2m1 0h2m4 0h2m1 0h2m5 0h2m2 0h2m2 0h2m0 0h2m2 0h2m13 0h2m-128 1h2m26 0h2m25 0h2m-1 0h2m22 0h2m2 0h2m11 0h2m8 0h2m0 0h2m0 0h2m15 0h2m-71 1h2m3 0h2m6 0h2m3 0h2m3 0h2m1 0h2m-1 0h2m-1 0h2m1 0h2m1 0h2m1 0h2m12 0h2m1 0h2m16 0h2m22 0h2m-109 1h2m22 0h2m9 0h2m0 0h2m5 0h2m1 0h2m2 0h2m0 0h2m14 0h2m-2 0h2m1 0h2m1 0h2m4 0h2m-116 1h2m11 0h2m22 0h2m-1 0h2m10 0h2m-2 0h2m0 0h2m1 0h2m16 0h2m7 0h2m10 0h2m-81 1h2m67 0h2m0 0h2m6 0h2m3 0h2m4 0h2m-2 0h2m10 0h2m-128 1h2m65 0h2m1 0h2m-1 0h2m2 0h2m10 0h2m-2 0h2m1 0h2m-1 0h2m-1 0h2m8 0h2m0 0h2m21 0h2m-59 1h2m1 0h2m0 0h2m12 0h2m-2 0h2m2 0h2m1 0h2m-2 0h2m-2 0h2m3 0h2m0 0h2m-1 0h2m-2 0h2m4 0h2m14 0h2m-97 1h2m20 0h2m4 0h2m11 0h2m1 0h2m4 0h2m4 0h2m8 0h2m-2 0h2m3 0h2m6 0h2m0 0h2m-1 0h2m-1 0h2m20 0h2m-81 1h2m4 0h2m1 0h2m-1 0h2m9 0h2m1 0h2m6 0h2m14 0h2m0 0h2m0 0h2m-1 0h2m0 0h2m2 0h2m12 0h2m1 0h2m-101 1h2m12 0h2m2 0h2m-1 0h2m1 0h2m13 0h2m4 0h2m6 0h2m1 0h2m2 0h2m9 0h2m3 0h2m7 0h2m8 0h2m6 0h2m-89 1h2m1 0h2m10 0h2m1 0h2m18 0h2m-2 0h2m1 0h2m1 0h2m-2 0h2m1 0h2m-1 0h2m-1 0h2m2 0h2m5 0h2m6 0h2m11 0h2m-94 1h2m12 0h2m0 0h2m15 0h2m-2 0h2m-1 0h2m-1 0h2m3 0h2m-1 0h2m5 0h2m1 0h2m-1 0h2m-1 0h2m7 0h2m29 0h2m34 0h2m-146 1h2m18 0h2m30 0h2m28 0h2m6 0h2m-1 0h2m31 0h2m5 0h2m-104 1h2m2 0h2m0 0h2m7 0h2m14 0h2m0 0h2m0 0h2m7 0h2m0 0h2m1 0h2m44 0h2m0 0h2m13 0h2m-134 1h2m8 0h2m2 0h2m26 0h2m2 0h2m16 0h2m9 0h2m1 0h2m-1 0h2m-1 0h2m4 0h2m-2 0h2m13 0h2m-94 1h2m5 0h2m4 0h2m1 0h2m17 0h2m12 0h2m-1 0h2m-1 0h2m-1 0h2m-2 0h2m1 0h2m9 0h2m-1 0h2m0 0h2m5 0h2m5 0h2m-97 1h2m22 0h2m0 0h2m-1 0h2m8 0h2m-1 0h2m0 0h2m11 0h2m-2 0h2m4 0h2m7 0h2m3 0h2m0 0h2m-2 0h2m0 0h2m0 0h2m25 0h2m-1 0h2m18 0h2m-122 1h2m11 0h2m5 0h2m9 0h2m1 0h2m0 0h2m0 0h2m4 0h2m2 0h2m-2 0h2m7 0h2m-1 0h2m-2 0h2m7 0h2m1 0h2m2 0h2m0 0h2m2 0h2m8 0h2m-2 0h2m8 0h2m14 0h2m3 0h2m31 0h2m-172 1h2m20 0h2m3 0h2m5 0h2m4 0h2m18 0h2m0 0h2m2 0h2m3 0h2m4 0h2m-1 0h2m2 0h2m-1 0h2m5 0h2m-1 0h2m0 0h2m-2 0h2m5 0h2m12 0h2m-1 0h2m-127 1h2m10 0h2m4 0h2m8 0h2m8 0h2m2 0h2m6 0h2m6 0h2m7 0h2m10 0h2m2 0h2m0 0h2m2 0h2m-1 0h2m11 0h2m11 0h2m-1 0h2m-89 1h2m14 0h2m8 0h2m3 0h2m-1 0h2m11 0h2m7 0h2m4 0h2m0 0h2m7 0h2m-1 0h2m1 0h2m0 0h2m11 0h2m4 0h2m-114 1h2m19 0h2m5 0h2m6 0h2m0 0h2m7 0h2m6 0h2m3 0h2m4 0h2m1 0h2m10 0h2m-59 1h2m8 0h2m18 0h2m-1 0h2m16 0h2m11 0h2m1 0h2m0 0h2m1 0h2m-93 1h2m3 0h2m14 0h2m0 0h2m6 0h2m7 0h2m3 0h2m2 0h2m1 0h2m6 0h2m6 0h2m-1 0h2m20 0h2m-2 0h2m0 0h2m3 0h2m-2 0h2m10 0h2m-141 1h2m33 0h2m-1 0h2m11 0h2m14 0h2m5 0h2m2 0h2m4 0h2m1 0h2m8 0h2m1 0h2m-2 0h2m7 0h2m9 0h2m0 0h2m-1 0h2m-1 0h2m9 0h2m10 0h2m-98 1h2m-1 0h2m40 0h2m3 0h2m0 0h2m-1 0h2m8 0h2m1 0h2m-1 0h2m2 0h2m11 0h2m2 0h2m9 0h2m3 0h2m3 0h2m9 0h2m-187 1h2m41 0h2m10 0h2m15 0h2m5 0h2m0 0h2m-1 0h2m7 0h2m2 0h2m-1 0h2m4 0h2m3 0h2m0 0h2m1 0h2m2 0h2m5 0h2m2 0h2m0 0h2m3 0h2m49 0h2m-148 1h2m23 0h2m7 0h2m7 0h2m-1 0h2m3 0h2m0 0h2m1 0h2m3 0h2m5 0h2m0 0h2m4 0h2m-1 0h2m-2 0h2m3 0h2m7 0h2m2 0h2m-1 0h2m6 0h2m13 0h2m7 0h2m-1 0h2m-118 1h2m28 0h2m15 0h2m2 0h2m2 0h2m2 0h2m1 0h2m-1 0h2m34 0h2m-1 0h2m4 0h2m3 0h2m-120 1h2m13 0h2m0 0h2m4 0h2m11 0h2m0 0h2m4 0h2m0 0h2m-2 0h2m2 0h2m11 0h2m2 0h2m2 0h2m28 0h2m21 0h2m-121 1h2m10 0h2m4 0h2m12 0h2m1 0h2m-1 0h2m1 0h2m4 0h2m-1 0h2m-2 0h2m0 0h2m27 0h2m12 0h2m2 0h2m4 0h2m-2 0h2m27 0h2m10 0h2m5 0h2m-139 1h2m3 0h2m14 0h2m1 0h2m13 0h2m2 0h2m-2 0h2m0 0h2m5 0h2m3 0h2m2 0h2m3 0h2m-1 0h2m5 0h2m15 0h2m9 0h2m6 0h2m2 0h2m22 0h2m-175 1h2m22 0h2m21 0h2m-1 0h2m-1 0h2m0 0h2m11 0h2m5 0h2m5 0h2m1 0h2m3 0h2m0 0h2m4 0h2m0 0h2m-2 0h2m16 0h2m14 0h2m-2 0h2m5 0h2m0 0h2m1 0h2m0 0h2m12 0h2m20 0h2m-226 1h2m70 0h2m21 0h2m6 0h2m8 0h2m3 0h2m2 0h2m1 0h2m-1 0h2m1 0h2m3 0h2m1 0h2m0 0h2m3 0h2m1 0h2m-1 0h2m18 0h2m-1 0h2m11 0h2m0 0h2m3 0h2m-147 1h2m1 0h2m46 0h2m1 0h2m24 0h2m-1 0h2m28 0h2m2 0h2m3 0h2m-1 0h2m10 0h2m10 0h2m8 0h2m17 0h2m-193 1h2m29 0h2m6 0h2m10 0h2m9 0h2m-2 0h2m19 0h2m2 0h2m-1 0h2m2 0h2m0 0h2m12 0h2m1 0h2m-1 0h2m-1 0h2m19 0h2m0 0h2m2 0h2m0 0h2m-2 0h2m8 0h2m7 0h2m8 0h2m-124 1h2m2 0h2m2 0h2m-2 0h2m19 0h2m6 0h2m9 0h2m20 0h2m-2 0h2m2 0h2m4 0h2m0 0h2m8 0h2m-1 0h2m18 0h2m2 0h2m0 0h2m-1 0h2m-139 1h2m9 0h2m12 0h2m22 0h2m9 0h2m8 0h2m-2 0h2m-1 0h2m1 0h2m9 0h2m1 0h2m-2 0h2m-1 0h2m3 0h2m2 0h2m12 0h2m3 0h2m23 0h2m8 0h2m-156 1h2m19 0h2m19 0h2m-2 0h2m7 0h2m8 0h2m-2 0h2m2 0h2m16 0h2m6 0h2m0 0h2m4 0h2m12 0h2m15 0h2m1 0h2m-130 1h2m0 0h2m0 0h2m10 0h2m19 0h2m-1 0h2m1 0h2m2 0h2m1 0h2m-1 0h2m5 0h2m-1 0h2m4 0h2m3 0h2m3 0h2m4 0h2m0 0h2m15 0h2m2 0h2m17 0h2m-2 0h2m-2 0h2m0 0h2m-140 1h2m20 0h2m-1 0h2m19 0h2m4 0h2m-1 0h2m10 0h2m5 0h2m9 0h2m0 0h2m3 0h2m-1 0h2m5 0h2m-1 0h2m-1 0h2m3 0h2m0 0h2m14 0h2m14 0h2m2 0h2m19 0h2m-191 1h2m3 0h2m4 0h2m54 0h2m3 0h2m3 0h2m4 0h2m5 0h2m4 0h2m1 0h2m0 0h2m5 0h2m12 0h2m9 0h2m0 0h2m0 0h2m6 0h2m2 0h2m-138 1h2m4 0h2m49 0h2m-1 0h2m-1 0h2m-2 0h2m0 0h2m8 0h2m2 0h2m0 0h2m10 0h2m5 0h2m5 0h2m3 0h2m8 0h2m0 0h2m-1 0h2m0 0h2m6 0h2m-1 0h2m-2 0h2m3 0h2m-1 0h2m0 0h2m-2 0h2m5 0h2m17 0h2m7 0h2m-146 1h2m17 0h2m6 0h2m10 0h2m0 0h2m17 0h2m1 0h2m5 0h2m4 0h2m0 0h2m9 0h2m21 0h2m0 0h2m43 0h2m-179 1h2m21 0h2m14 0h2m1 0h2m17 0h2m6 0h2m1 0h2m15 0h2m1 0h2m5 0h2m4 0h2m-2 0h2m10 0h2m-2 0h2m2 0h2m14 0h2m2 0h2m2 0h2m-2 0h2m-142 1h2m17 0h2m8 0h2m9 0h2m2 0h2m2 0h2m-2 0h2m17 0h2m12 0h2m1 0h2m5 0h2m3 0h2m8 0h2m11 0h2m0 0h2m1 0h2m-2 0h2m7 0h2m34 0h2m-143 1h2m17 0h2m10 0h2m5 0h2m3 0h2m19 0h2m-2 0h2m6 0h2m-2 0h2m32 0h2m1 0h2m26 0h2m-197 1h2m55 0h2m4 0h2m-1 0h2m20 0h2m-2 0h2m8 0h2m8 0h2m4 0h2m4 0h2m3 0h2m0 0h2m8 0h2m-1 0h2m2 0h2m-1 0h2m9 0h2m1 0h2m8 0h2m-1 0h2m15 0h2m7 0h2m12 0h2m-157 1h2m8 0h2m-2 0h2m0 0h2m4 0h2m20 0h2m0 0h2m27 0h2m-1 0h2m-1 0h2m-1 0h2m1 0h2m-2 0h2m-1 0h2m4 0h2m-2 0h2m4 0h2m-94 1h2m35 0h2m5 0h2m5 0h2m4 0h2m-1 0h2m1 0h2m9 0h2m3 0h2m25 0h2m12 0h2m-2 0h2m5 0h2m-2 0h2m11 0h2m-214 1h2m37 0h2m6 0h2m18 0h2m11 0h2m11 0h2m1 0h2m22 0h2m7 0h2m5 0h2m1 0h2m6 0h2m-1 0h2m0 0h2m-1 0h2m1 0h2m2 0h2m11 0h2m7 0h2m6 0h2m-146 1h2m11 0h2m26 0h2m-1 0h2m6 0h2m4 0h2m7 0h2m-2 0h2m2 0h2m1 0h2m-1 0h2m1 0h2m7 0h2m0 0h2m6 0h2m-2 0h2m12 0h2m13 0h2m-1 0h2m-1 0h2m19 0h2m3 0h2m-1 0h2m3 0h2m7 0h2m27 0h2m-165 1h2m38 0h2m-1 0h2m20 0h2m-2 0h2m17 0h2m6 0h2m13 0h2m2 0h2m-2 0h2m2 0h2m-2 0h2m56 0h2m-234 1h2m35 0h2m13 0h2m17 0h2m13 0h2m18 0h2m2 0h2m2 0h2m8 0h2m-1 0h2m15 0h2m-1 0h2m4 0h2m0 0h2m9 0h2m3 0h2m4 0h2m0 0h2m4 0h2m1 0h2m2 0h2m7 0h2m13 0h2m-1 0h2m-215 1h2m25 0h2m33 0h2m10 0h2m4 0h2m3 0h2m5 0h2m5 0h2m7 0h2m-2 0h2m7 0h2m12 0h2m4 0h2m-2 0h2m7 0h2m-1 0h2m9 0h2m-2 0h2m11 0h2m11 0h2m-131 1h2m39 0h2m3 0h2m8 0h2m4 0h2m0 0h2m-1 0h2m1 0h2m17 0h2m3 0h2m5 0h2m24 0h2m-106 1h2m0 0h2m4 0h2m10 0h2m9 0h2m1 0h2m17 0h2m-1 0h2m6 0h2m23 0h2m4 0h2m-1 0h2m26 0h2m-151 1h2m11 0h2m5 0h2m1 0h2m6 0h2m5 0h2m-2 0h2m-1 0h2m8 0h2m11 0h2m1 0h2m-1 0h2m11 0h2m2 0h2m14 0h2m-1 0h2m2 0h2m2 0h2m5 0h2m12 0h2m2 0h2m-1 0h2m22 0h2m12 0h2m13 0h2m-224 1h2m24 0h2m10 0h2m11 0h2m19 0h2m0 0h2m1 0h2m16 0h2m16 0h2m7 0h2m32 0h2m19 0h2m-182 1h2m24 0h2m26 0h2m5 0h2m-2 0h2m5 0h2m26 0h2m16 0h2m12 0h2m-2 0h2m10 0h2m11 0h2m-132 1h2m37 0h2m1 0h2m1 0h2m6 0h2m-1 0h2m36 0h2m0 0h2m-1 0h2m49 0h2m79 0h2m-222 1h2m8 0h2m2 0h2m-1 0h2m9 0h2m17 0h2m-1 0h2m8 0h2m25 0h2m6 0h2m1 0h2m19 0h2m9 0h2m21 0h2m78 0h2m-251 1h2m36 0h2m16 0h2m15 0h2m-1 0h2m-2 0h2m-1 0h2m3 0h2m0 0h2m0 0h2m4 0h2m3 0h2m0 0h2m3 0h2m4 0h2m4 0h2m20 0h2m4 0h2m44 0h2m-186 1h2m17 0h2m0 0h2m12 0h2m15 0h2m10 0h2m4 0h2m9 0h2m13 0h2m14 0h2m3 0h2m-2 0h2m6 0h2m-98 1h2m2 0h2m1 0h2m0 0h2m16 0h2m6 0h2m7 0h2m15 0h2m4 0h2m2 0h2m3 0h2m4 0h2m32 0h2m34 0h2m45 0h2m-200 1h2m26 0h2m-2 0h2m1 0h2m9 0h2m-1 0h2m6 0h2m12 0h2m5 0h2m20 0h2m41 0h2m-181 1h2m20 0h2m1 0h2m17 0h2m10 0h2m7 0h2m6 0h2m23 0h2m13 0h2m0 0h2m0 0h2m1 0h2m4 0h2m6 0h2m8 0h2m4 0h2m23 0h2m-152 1h2m23 0h2m26 0h2m1 0h2m3 0h2m1 0h2m3 0h2m8 0h2m5 0h2m4 0h2m2 0h2m-1 0h2m-2 0h2m5 0h2m3 0h2m4 0h2m27 0h2m-182 1h2m66 0h2m45 0h2m3 0h2m2 0h2m11 0h2m4 0h2m0 0h2m45 0h2m91 0h2m-265 1h2m1 0h2m4 0h2m3 0h2m14 0h2m15 0h2m2 0h2m65 0h2m2 0h2m20 0h2m1 0h2m14 0h2m5 0h2m19 0h2m-223 1h2m31 0h2m20 0h2m3 0h2m11 0h2m4 0h2m5 0h2m14 0h2m1 0h2m9 0h2m-1 0h2m14 0h2m8 0h2m51 0h2m39 0h2m-200 1h2m21 0h2m21 0h2m-1 0h2m10 0h2m-2 0h2m5 0h2m13 0h2m0 0h2m15 0h2m11 0h2m17 0h2m21 0h2m14 0h2m-188 1h2m37 0h2m21 0h2m23 0h2m-1 0h2m0 0h2m7 0h2m4 0h2m11 0h2m3 0h2m3 0h2m8 0h2m-135 1h2m42 0h2m0 0h2m-1 0h2m3 0h2m7 0h2m6 0h2m-2 0h2m14 0h2m-1 0h2m1 0h2m8 0h2m-2 0h2m31 0h2m15 0h2m3 0h2m52 0h2m-194 1h2m2 0h2m9 0h2m27 0h2m19 0h2m13 0h2m9 0h2m5 0h2m2 0h2m10 0h2m18 0h2m5 0h2m18 0h2m-227 1h2m92 0h2m14 0h2m2 0h2m2 0h2m28 0h2m7 0h2m35 0h2m23 0h2m67 0h2m-227 1h2m3 0h2m8 0h2m17 0h2m1 0h2m96 0h2m14 0h2m-103 1h2m4 0h2m11 0h2m27 0h2m-145 1h2m34 0h2m9 0h2m91 0h2m5 0h2m61 0h2m7 0h2m-178 1h2m51 0h2m20 0h2m3 0h2m10 0h2m2 0h2m-1 0h2m54 0h2m38 0h2m-220 1h2m79 0h2m13 0h2m-2 0h2m11 0h2m75 0h2m77 0h2m-232 1h2m48 0h2m4 0h2m24 0h2m47 0h2m12 0h2m10 0h2m37 0h2m-205 1h2m81 0h2m36 0h2m35 0h2m-169 1h2m46 0h2m21 0h2m26 0h2m16 0h2m7 0h2m45 0h2m-95 1h2m21 1h2m11 0h2m45 0h2m24 0h2" stroke="#000" stroke-opacity="0.58" stroke-width="2" transform="scale(.5)"/>
<line x1="49.5" y1="150.0" x2="223.3" y2="150.0" stroke="#555" stroke-width="1.1" stroke-dasharray="1.2 1.35"/>
<line x1="49.5" y1="150.0" x2="49.5" y2="236.6" stroke="#555" stroke-width="1.1" stroke-dasharray="1.2 1.35"/>
<line x1="223.3" y1="150.0" x2="223.3" y2="236.6" stroke="#555" stroke-width="1.1" stroke-dasharray="1.2 1.35"/>
<line x1="49.5" y1="236.6" x2="223.3" y2="236.6" stroke="#9a9e9e" stroke-width="1.5"/>
<line x1="136.4" y1="150.0" x2="136.4" y2="236.6" stroke="#8fb0b0" stroke-width="1.3"/>
<line x1="82.5" y1="178.7" x2="190.5" y2="178.7" stroke="#97abab" stroke-width="1.6"/>
<path d="M78.8 178.7 l7 -3.3 v6.6z" fill="#97abab"/>
<path d="M194.2 178.7 l-7 -3.3 v6.6z" fill="#97abab"/>
<path d="M136.4 165.2 l-3.2 7 h6.4z" fill="#97abab"/>
<text x="136.4" y="156.0" font-size="6.3" text-anchor="middle" font-weight="bold" font-style="normal" fill="#97abab" >Activation</text>
<text x="136.4" y="162.4" font-size="6.3" text-anchor="middle" font-weight="bold" font-style="normal" fill="#97abab" >level</text>
<text x="62.0" y="184.5" font-size="6.3" text-anchor="start" font-weight="bold" font-style="normal" fill="#97abab" >Low</text>
<text x="64.0" y="191.2" font-size="6.3" text-anchor="start" font-weight="bold" font-style="normal" fill="#97abab" >frequencies</text>
<text x="209.2" y="185.2" font-size="6.3" text-anchor="end" font-weight="bold" font-style="normal" fill="#97abab" >High</text>
<text x="209.2" y="191.4" font-size="6.3" text-anchor="end" font-weight="bold" font-style="normal" fill="#97abab" >frequencies</text>
<text x="136.4" y="145.0" font-size="10" text-anchor="middle" font-weight="bold" font-style="normal" fill="#111" stroke="#111" stroke-width="0.3" >Controls</text>
<text x="49.5" y="151.2" font-size="8.0" text-anchor="end" font-weight="normal" font-style="normal" fill="#262626" stroke="#262626" stroke-width="0.3" >1.0</text>
<text x="49.5" y="238.6" font-size="8.0" text-anchor="end" font-weight="normal" font-style="normal" fill="#262626" stroke="#262626" stroke-width="0.3" >0.0</text>
<text x="48.5" y="245.6" font-size="8.0" text-anchor="middle" font-weight="normal" font-style="normal" fill="#262626" stroke="#262626" stroke-width="0.3" >−1.0</text>
<text x="136.4" y="244.6" font-size="8.0" text-anchor="middle" font-weight="normal" font-style="normal" fill="#262626" stroke="#262626" stroke-width="0.3" >0</text>
<text x="223.3" y="244.6" font-size="8.0" text-anchor="middle" font-weight="normal" font-style="normal" fill="#262626" stroke="#262626" stroke-width="0.3" >1.0</text>
<text x="127.2" y="254.8" font-size="9.3" font-weight="bold" font-style="italic" fill="#222">x<tspan font-size="5.2" dy="2" font-style="normal">2</tspan><tspan dy="-1.6">/x</tspan><tspan font-size="5.2" dy="2" font-style="normal">1</tspan></text>
<text transform="translate(39.0 193.3) rotate(-90)" font-size="10.5" text-anchor="middle" font-weight="bold" font-style="italic" fill="#111">x<tspan font-size="5" dy="1.8" font-style="normal">1</tspan></text>
<path d="M733 316h2m-3 2h2m5 0h2m-12 1h2m2 0h2m12 0h2m-1 1h2m-9 2h2m-4 1h2m9 1h2m3 0h2m-15 1h2m-2 0h2m-1 0h2m11 0h2m-12 1h2m-16 1h2m14 1h2m-30 1h2m19 0h2m2 0h2m6 0h2m1 0h2m12 0h2m-39 1h2m5 0h2m21 0h2m-33 1h2m4 0h2m-1 0h2m11 0h2m14 0h2m-39 1h2m3 1h2m28 0h2m-36 1h2m-1 0h2m0 0h2m12 0h2m28 0h2m-48 1h2m17 0h2m-26 1h2m0 0h2m-1 0h2m7 0h2m3 0h2m-2 0h2m0 0h2m-1 0h2m5 0h2m-16 1h2m17 0h2m-2 0h2m-33 1h2m3 0h2m1 0h2m-5 1h2m1 0h2m15 0h2m-18 1h2m1 0h2m-2 0h2m-5 1h2m0 0h2m0 0h2m-1 0h2m-1 0h2m13 0h2m-33 1h2m12 0h2m-1 0h2m-2 0h2m9 0h2m-29 1h2m13 0h2m7 0h2m16 0h2m-29 1h2m3 0h2m-1 0h2m-30 1h2m8 0h2m1 0h2m4 0h2m10 0h2m3 0h2m14 0h2m-37 1h2m36 0h2m-40 1h2m9 0h2m36 0h2m5 0h2m-50 1h2m-16 1h2m-1 0h2m0 0h2m4 0h2m-1 0h2m9 0h2m32 0h2m-18 1h2m-56 1h2m2 0h2m15 0h2m-18 1h2m15 0h2m17 0h2m0 0h2m0 0h2m21 0h2m-59 1h2m7 0h2m2 0h2m1 0h2m11 0h2m8 0h2m15 0h2m5 0h2m-73 1h2m11 0h2m3 0h2m1 0h2m2 0h2m3 0h2m-1 0h2m9 0h2m-1 0h2m0 0h2m2 0h2m14 0h2m-59 1h2m0 0h2m4 0h2m-1 0h2m7 0h2m14 0h2m17 0h2m-56 1h2m5 0h2m-1 0h2m3 0h2m2 0h2m-2 0h2m8 0h2m0 0h2m6 0h2m4 0h2m2 0h2m-1 0h2m11 0h2m-34 1h2m16 0h2m5 0h2m-18 1h2m-2 0h2m6 0h2m0 0h2m14 0h2m-68 1h2m16 0h2m-1 0h2m1 0h2m2 0h2m1 0h2m7 0h2m10 0h2m-72 1h2m23 0h2m3 0h2m6 0h2m1 0h2m19 0h2m1 0h2m-54 1h2m25 0h2m-1 0h2m4 0h2m3 0h2m3 0h2m7 0h2m1 0h2m13 0h2m-67 1h2m1 0h2m1 0h2m0 0h2m6 0h2m1 0h2m1 0h2m-2 0h2m3 0h2m18 0h2m-1 0h2m12 0h2m25 0h2m-97 1h2m3 0h2m1 0h2m9 0h2m7 0h2m0 0h2m-1 0h2m-1 0h2m1 0h2m-1 0h2m9 0h2m9 0h2m5 0h2m-70 1h2m23 0h2m6 0h2m51 0h2m-63 1h2m-2 0h2m9 0h2m10 0h2m40 0h2m1 0h2m-103 1h2m18 0h2m0 0h2m3 0h2m1 0h2m9 0h2m8 0h2m3 0h2m3 0h2m-1 0h2m1 0h2m-74 1h2m17 0h2m4 0h2m-1 0h2m3 0h2m3 0h2m5 0h2m6 0h2m4 0h2m2 0h2m28 0h2m-83 1h2m8 0h2m15 0h2m9 0h2m2 0h2m1 0h2m6 0h2m3 0h2m0 0h2m-2 0h2m25 0h2m22 0h2m-95 1h2m-1 0h2m18 0h2m-2 0h2m-2 0h2m0 0h2m2 0h2m0 0h2m0 0h2m2 0h2m7 0h2m7 0h2m0 0h2m3 0h2m3 0h2m-86 1h2m6 0h2m24 0h2m7 0h2m7 0h2m-2 0h2m-1 0h2m2 0h2m5 0h2m2 0h2m9 0h2m15 0h2m-76 1h2m6 0h2m-1 0h2m3 0h2m-1 0h2m9 0h2m3 0h2m0 0h2m0 0h2m2 0h2m6 0h2m-63 1h2m8 0h2m15 0h2m3 0h2m0 0h2m0 0h2m8 0h2m5 0h2m20 0h2m-1 0h2m-90 1h2m17 0h2m0 0h2m11 0h2m-1 0h2m0 0h2m6 0h2m2 0h2m4 0h2m4 0h2m6 0h2m0 0h2m-2 0h2m1 0h2m-2 0h2m2 0h2m-1 0h2m13 0h2m-1 0h2m22 0h2m-108 1h2m6 0h2m5 0h2m4 0h2m9 0h2m-1 0h2m20 0h2m5 0h2m-54 1h2m6 0h2m23 0h2m9 0h2m-1 0h2m1 0h2m14 0h2m-84 1h2m19 0h2m1 0h2m1 0h2m6 0h2m0 0h2m1 0h2m-1 0h2m-1 0h2m27 0h2m8 0h2m-57 1h2m0 0h2m-1 0h2m5 0h2m-1 0h2m0 0h2m5 0h2m0 0h2m28 0h2m2 0h2m16 0h2m-90 1h2m6 0h2m16 0h2m6 0h2m4 0h2m32 0h2m-99 1h2m19 0h2m5 0h2m2 0h2m-2 0h2m28 0h2m4 0h2m2 0h2m7 0h2m1 0h2m9 0h2m4 0h2m14 0h2m-98 1h2m0 0h2m5 0h2m-1 0h2m0 0h2m-1 0h2m6 0h2m-1 0h2m0 0h2m0 0h2m2 0h2m-1 0h2m-2 0h2m7 0h2m0 0h2m2 0h2m5 0h2m4 0h2m5 0h2m1 0h2m-1 0h2m8 0h2m4 0h2m-83 1h2m0 0h2m0 0h2m5 0h2m-1 0h2m1 0h2m4 0h2m3 0h2m-1 0h2m4 0h2m-1 0h2m3 0h2m-2 0h2m5 0h2m1 0h2m76 0h2m-140 1h2m4 0h2m0 0h2m8 0h2m6 0h2m1 0h2m3 0h2m0 0h2m3 0h2m11 0h2m3 0h2m2 0h2m30 0h2m-96 1h2m0 0h2m2 0h2m3 0h2m1 0h2m0 0h2m0 0h2m2 0h2m0 0h2m-2 0h2m3 0h2m2 0h2m-1 0h2m0 0h2m5 0h2m-1 0h2m5 0h2m8 0h2m4 0h2m5 0h2m11 0h2m12 0h2m-84 1h2m8 0h2m-1 0h2m11 0h2m3 0h2m7 0h2m4 0h2m6 0h2m13 0h2m9 0h2m-2 0h2m-104 1h2m6 0h2m11 0h2m5 0h2m2 0h2m1 0h2m-2 0h2m4 0h2m-1 0h2m19 0h2m-59 1h2m8 0h2m2 0h2m6 0h2m3 0h2m0 0h2m-2 0h2m0 0h2m3 0h2m-1 0h2m5 0h2m-2 0h2m1 0h2m13 0h2m2 0h2m41 0h2m-124 1h2m-1 0h2m22 0h2m0 0h2m-2 0h2m-1 0h2m2 0h2m10 0h2m6 0h2m12 0h2m2 0h2m0 0h2m-1 0h2m12 0h2m-2 0h2m7 0h2m2 0h2m4 0h2m-87 1h2m7 0h2m-1 0h2m2 0h2m-2 0h2m15 0h2m-1 0h2m4 0h2m0 0h2m5 0h2m-1 0h2m1 0h2m5 0h2m9 0h2m12 0h2m-82 1h2m3 0h2m2 0h2m3 0h2m1 0h2m0 0h2m2 0h2m-2 0h2m2 0h2m-1 0h2m1 0h2m19 0h2m-1 0h2m2 0h2m20 0h2m-80 1h2m-2 0h2m-1 0h2m-1 0h2m11 0h2m1 0h2m-1 0h2m1 0h2m2 0h2m1 0h2m4 0h2m5 0h2m-1 0h2m-1 0h2m-2 0h2m-1 0h2m2 0h2m1 0h2m36 0h2m-101 1h2m-1 0h2m8 0h2m6 0h2m14 0h2m18 0h2m2 0h2m5 0h2m4 0h2m-89 1h2m3 0h2m5 0h2m-1 0h2m10 0h2m-2 0h2m11 0h2m1 0h2m2 0h2m2 0h2m11 0h2m10 0h2m1 0h2m12 0h2m5 0h2m5 0h2m23 0h2m-106 1h2m1 0h2m10 0h2m2 0h2m5 0h2m-2 0h2m1 0h2m-1 0h2m15 0h2m8 0h2m1 0h2m70 0h2m-123 1h2m1 0h2m4 0h2m8 0h2m2 0h2m1 0h2m14 0h2m5 0h2m3 0h2m9 0h2m2 0h2m-89 1h2m2 0h2m-1 0h2m7 0h2m4 0h2m-1 0h2m9 0h2m-1 0h2m2 0h2m5 0h2m2 0h2m3 0h2m1 0h2m8 0h2m4 0h2m-1 0h2m-1 0h2m8 0h2m6 0h2m-125 1h2m21 0h2m22 0h2m-1 0h2m0 0h2m22 0h2m5 0h2m0 0h2m-2 0h2m3 0h2m4 0h2m8 0h2m-82 1h2m13 0h2m4 0h2m4 0h2m0 0h2m3 0h2m0 0h2m-2 0h2m4 0h2m13 0h2m4 0h2m28 0h2m0 0h2m1 0h2m-92 1h2m15 0h2m2 0h2m0 0h2m14 0h2m5 0h2m14 0h2m25 0h2m-88 1h2m1 0h2m4 0h2m0 0h2m0 0h2m1 0h2m15 0h2m13 0h2m11 0h2m4 0h2m1 0h2m5 0h2m-2 0h2m1 0h2m7 0h2m-1 0h2m23 0h2m-111 1h2m-1 0h2m2 0h2m0 0h2m-1 0h2m0 0h2m6 0h2m9 0h2m0 0h2m1 0h2m15 0h2m4 0h2m-1 0h2m0 0h2m2 0h2m26 0h2m-147 1h2m20 0h2m3 0h2m14 0h2m4 0h2m6 0h2m1 0h2m14 0h2m-1 0h2m-1 0h2m7 0h2m55 0h2m1 0h2m50 0h2m-167 1h2m1 0h2m13 0h2m6 0h2m1 0h2m1 0h2m-1 0h2m0 0h2m7 0h2m-1 0h2m1 0h2m6 0h2m1 0h2m4 0h2m2 0h2m22 0h2m2 0h2m-111 1h2m8 0h2m11 0h2m0 0h2m1 0h2m7 0h2m0 0h2m-1 0h2m-1 0h2m1 0h2m0 0h2m-1 0h2m3 0h2m9 0h2m4 0h2m10 0h2m8 0h2m12 0h2m5 0h2m35 0h2m-119 1h2m4 0h2m9 0h2m6 0h2m4 0h2m4 0h2m19 0h2m7 0h2m9 0h2m1 0h2m-2 0h2m-110 1h2m13 0h2m15 0h2m11 0h2m17 0h2m4 0h2m20 0h2m-1 0h2m-1 0h2m3 0h2m3 0h2m11 0h2m-1 0h2m-113 1h2m2 0h2m4 0h2m27 0h2m3 0h2m3 0h2m0 0h2m-1 0h2m1 0h2m-1 0h2m-2 0h2m1 0h2m-2 0h2m0 0h2m3 0h2m3 0h2m0 0h2m-1 0h2m0 0h2m-1 0h2m-1 0h2m5 0h2m11 0h2m7 0h2m-149 1h2m34 0h2m21 0h2m1 0h2m12 0h2m2 0h2m-1 0h2m1 0h2m-1 0h2m3 0h2m11 0h2m27 0h2m13 0h2m64 0h2m-159 1h2m-1 0h2m2 0h2m0 0h2m-1 0h2m5 0h2m3 0h2m5 0h2m3 0h2m3 0h2m1 0h2m3 0h2m12 0h2m4 0h2m1 0h2m15 0h2m3 0h2m1 0h2m46 0h2m18 0h2m-170 1h2m-1 0h2m7 0h2m2 0h2m2 0h2m3 0h2m1 0h2m-2 0h2m-2 0h2m-1 0h2m2 0h2m0 0h2m5 0h2m6 0h2m-2 0h2m0 0h2m-2 0h2m14 0h2m1 0h2m7 0h2m6 0h2m29 0h2m-130 1h2m1 0h2m3 0h2m-2 0h2m4 0h2m4 0h2m4 0h2m6 0h2m0 0h2m2 0h2m3 0h2m-1 0h2m0 0h2m10 0h2m4 0h2m1 0h2m-1 0h2m13 0h2m7 0h2m28 0h2m-107 1h2m2 0h2m9 0h2m-1 0h2m0 0h2m2 0h2m-1 0h2m10 0h2m3 0h2m26 0h2m1 0h2m42 0h2m-144 1h2m12 0h2m2 0h2m16 0h2m9 0h2m6 0h2m1 0h2m0 0h2m-1 0h2m0 0h2m1 0h2m10 0h2m5 0h2m2 0h2m-1 0h2m34 0h2m-188 1h2m44 0h2m16 0h2m16 0h2m8 0h2m-1 0h2m14 0h2m1 0h2m1 0h2m-2 0h2m2 0h2m-1 0h2m19 0h2m0 0h2m-1 0h2m-2 0h2m0 0h2m-2 0h2m21 0h2m-1 0h2m9 0h2m15 0h2m-155 1h2m27 0h2m0 0h2m11 0h2m6 0h2m1 0h2m-1 0h2m-1 0h2m7 0h2m-1 0h2m2 0h2m-1 0h2m-2 0h2m4 0h2m2 0h2m-1 0h2m1 0h2m6 0h2m8 0h2m-1 0h2m0 0h2m0 0h2m13 0h2m11 0h2m2 0h2m-112 1h2m3 0h2m-2 0h2m4 0h2m-1 0h2m24 0h2m4 0h2m-2 0h2m-1 0h2m-1 0h2m2 0h2m-2 0h2m-2 0h2m5 0h2m9 0h2m47 0h2m-170 1h2m39 0h2m-1 0h2m4 0h2m-1 0h2m1 0h2m3 0h2m-1 0h2m9 0h2m13 0h2m-1 0h2m14 0h2m10 0h2m2 0h2m12 0h2m5 0h2m-89 1h2m8 0h2m0 0h2m-1 0h2m2 0h2m-1 0h2m13 0h2m12 0h2m10 0h2m4 0h2m36 0h2m-1 0h2m20 0h2m-121 1h2m3 0h2m0 0h2m-2 0h2m0 0h2m-1 0h2m0 0h2m0 0h2m6 0h2m2 0h2m0 0h2m16 0h2m2 0h2m-1 0h2m8 0h2m18 0h2m22 0h2m6 0h2m25 0h2m-175 1h2m-1 0h2m4 0h2m6 0h2m14 0h2m10 0h2m4 0h2m2 0h2m5 0h2m5 0h2m6 0h2m9 0h2m3 0h2m2 0h2m-2 0h2m6 0h2m-1 0h2m-1 0h2m13 0h2m2 0h2m14 0h2m6 0h2m-1 0h2m0 0h2m4 0h2m26 0h2m-166 1h2m10 0h2m11 0h2m2 0h2m3 0h2m1 0h2m7 0h2m-1 0h2m0 0h2m8 0h2m8 0h2m-1 0h2m-2 0h2m0 0h2m-1 0h2m1 0h2m0 0h2m0 0h2m5 0h2m0 0h2m8 0h2m10 0h2m26 0h2m2 0h2m22 0h2m-188 1h2m21 0h2m3 0h2m5 0h2m5 0h2m2 0h2m13 0h2m0 0h2m-2 0h2m-1 0h2m-1 0h2m-2 0h2m2 0h2m3 0h2m2 0h2m5 0h2m1 0h2m-2 0h2m0 0h2m3 0h2m26 0h2m15 0h2m-102 1h2m3 0h2m6 0h2m4 0h2m7 0h2m-2 0h2m5 0h2m-2 0h2m-1 0h2m0 0h2m-1 0h2m5 0h2m2 0h2m0 0h2m0 0h2m5 0h2m4 0h2m6 0h2m12 0h2m23 0h2m35 0h2m-178 1h2m1 0h2m3 0h2m15 0h2m-1 0h2m6 0h2m1 0h2m2 0h2m-1 0h2m-1 0h2m4 0h2m6 0h2m12 0h2m0 0h2m8 0h2m6 0h2m-1 0h2m20 0h2m4 0h2m9 0h2m-171 1h2m10 0h2m3 0h2m11 0h2m4 0h2m33 0h2m23 0h2m2 0h2m-2 0h2m7 0h2m2 0h2m1 0h2m6 0h2m0 0h2m-2 0h2m0 0h2m16 0h2m22 0h2m14 0h2m4 0h2m-182 1h2m-1 0h2m16 0h2m19 0h2m23 0h2m1 0h2m11 0h2m-1 0h2m2 0h2m5 0h2m-2 0h2m0 0h2m-2 0h2m0 0h2m-1 0h2m15 0h2m-2 0h2m11 0h2m15 0h2m29 0h2m-176 1h2m16 0h2m1 0h2m5 0h2m9 0h2m5 0h2m3 0h2m18 0h2m1 0h2m6 0h2m7 0h2m-2 0h2m7 0h2m36 0h2m33 0h2m-172 1h2m17 0h2m3 0h2m13 0h2m2 0h2m1 0h2m17 0h2m3 0h2m4 0h2m4 0h2m3 0h2m20 0h2m-92 1h2m7 0h2m4 0h2m3 0h2m1 0h2m0 0h2m1 0h2m2 0h2m3 0h2m7 0h2m-2 0h2m2 0h2m1 0h2m9 0h2m41 0h2m27 0h2m35 0h2m-181 1h2m9 0h2m3 0h2m0 0h2m0 0h2m4 0h2m3 0h2m0 0h2m5 0h2m2 0h2m5 0h2m-1 0h2m1 0h2m0 0h2m-1 0h2m1 0h2m1 0h2m-2 0h2m2 0h2m-2 0h2m-1 0h2m6 0h2m0 0h2m2 0h2m-2 0h2m4 0h2m11 0h2m16 0h2m-129 1h2m12 0h2m14 0h2m3 0h2m5 0h2m-2 0h2m7 0h2m5 0h2m-1 0h2m-1 0h2m-1 0h2m13 0h2m3 0h2m29 0h2m6 0h2m18 0h2m-144 1h2m11 0h2m-1 0h2m0 0h2m30 0h2m9 0h2m-1 0h2m6 0h2m8 0h2m19 0h2m1 0h2m4 0h2m-1 0h2m0 0h2m16 0h2m11 0h2m-182 1h2m21 0h2m16 0h2m1 0h2m33 0h2m-1 0h2m1 0h2m15 0h2m4 0h2m-1 0h2m-2 0h2m7 0h2m9 0h2m3 0h2m30 0h2m11 0h2m1 0h2m43 0h2m-183 1h2m6 0h2m26 0h2m3 0h2m23 0h2m21 0h2m10 0h2m1 0h2m-1 0h2m8 0h2m0 0h2m0 0h2m6 0h2m30 0h2m-144 1h2m2 0h2m19 0h2m5 0h2m0 0h2m-1 0h2m6 0h2m0 0h2m15 0h2m0 0h2m7 0h2m3 0h2m-1 0h2m19 0h2m63 0h2m-189 1h2m15 0h2m12 0h2m2 0h2m10 0h2m9 0h2m8 0h2m-1 0h2m12 0h2m2 0h2m0 0h2m-2 0h2m3 0h2m6 0h2m15 0h2m0 0h2m0 0h2m9 0h2m0 0h2m11 0h2m2 0h2m-152 1h2m11 0h2m5 0h2m16 0h2m-2 0h2m10 0h2m7 0h2m8 0h2m5 0h2m24 0h2m12 0h2m2 0h2m18 0h2m39 0h2m-186 1h2m26 0h2m10 0h2m19 0h2m-1 0h2m4 0h2m15 0h2m40 0h2m-203 1h2m82 0h2m36 0h2m5 0h2m3 0h2m1 0h2m16 0h2m21 0h2m6 0h2m9 0h2m1 0h2m-149 1h2m27 0h2m7 0h2m-1 0h2m-2 0h2m0 0h2m3 0h2m15 0h2m-2 0h2m2 0h2m-1 0h2m-2 0h2m3 0h2m0 0h2m3 0h2m17 0h2m3 0h2m-1 0h2m2 0h2m9 0h2m4 0h2m-2 0h2m-1 0h2m40 0h2m5 0h2m-174 1h2m8 0h2m15 0h2m6 0h2m6 0h2m19 0h2m11 0h2m1 0h2m1 0h2m2 0h2m-1 0h2m14 0h2m8 0h2m6 0h2m13 0h2m-1 0h2m12 0h2m67 0h2m-204 1h2m30 0h2m0 0h2m-2 0h2m-1 0h2m20 0h2m9 0h2m3 0h2m1 0h2m5 0h2m5 0h2m4 0h2m-1 0h2m27 0h2m51 0h2m2 0h2m28 0h2m-192 1h2m7 0h2m-1 0h2m10 0h2m22 0h2m3 0h2m-2 0h2m13 0h2m11 0h2m3 0h2m6 0h2m16 0h2m12 0h2m-165 1h2m20 0h2m3 0h2m13 0h2m13 0h2m0 0h2m22 0h2m0 0h2m-1 0h2m3 0h2m2 0h2m7 0h2m4 0h2m25 0h2m10 0h2m21 0h2m20 0h2m-191 1h2m6 0h2m4 0h2m43 0h2m-1 0h2m1 0h2m2 0h2m6 0h2m5 0h2m6 0h2m8 0h2m0 0h2m2 0h2m90 0h2m-223 1h2m49 0h2m5 0h2m34 0h2m2 0h2m-1 0h2m-2 0h2m12 0h2m0 0h2m0 0h2m6 0h2m4 0h2m-1 0h2m7 0h2m21 0h2m-94 1h2m5 0h2m-1 0h2m1 0h2m6 0h2m1 0h2m2 0h2m8 0h2m6 0h2m-1 0h2m11 0h2m1 0h2m11 0h2m10 0h2m-2 0h2m2 0h2m2 0h2m5 0h2m-1 0h2m-2 0h2m9 0h2m0 0h2m7 0h2m-210 1h2m59 0h2m10 0h2m15 0h2m8 0h2m13 0h2m8 0h2m10 0h2m7 0h2m22 0h2m2 0h2m30 0h2m68 0h2m-301 1h2m34 0h2m17 0h2m29 0h2m11 0h2m1 0h2m0 0h2m11 0h2m10 0h2m2 0h2m7 0h2m12 0h2m-2 0h2m1 0h2m33 0h2m1 0h2m-144 1h2m-2 0h2m21 0h2m6 0h2m-1 0h2m9 0h2m2 0h2m0 0h2m7 0h2m8 0h2m2 0h2m-1 0h2m2 0h2m-1 0h2m8 0h2m1 0h2m11 0h2m4 0h2m13 0h2m12 0h2m9 0h2m29 0h2m-1 0h2m-202 1h2m57 0h2m31 0h2m3 0h2m2 0h2m0 0h2m18 0h2m7 0h2m-1 0h2m9 0h2m11 0h2m3 0h2m-1 0h2m0 0h2m85 0h2m-290 1h2m37 0h2m16 0h2m6 0h2m10 0h2m33 0h2m13 0h2m9 0h2m2 0h2m-1 0h2m-1 0h2m4 0h2m9 0h2m4 0h2m16 0h2m2 0h2m2 0h2m4 0h2m62 0h2m-195 1h2m32 0h2m23 0h2m4 0h2m26 0h2m36 0h2m72 0h2m-211 1h2m15 0h2m8 0h2m34 0h2m29 0h2m20 0h2m12 0h2m-152 1h2m19 0h2m2 0h2m3 0h2m3 0h2m4 0h2m13 0h2m20 0h2m1 0h2m1 0h2m-2 0h2m0 0h2m6 0h2m-1 0h2m5 0h2m16 0h2m5 0h2m1 0h2m35 0h2m19 0h2m4 0h2m-144 1h2m0 0h2m5 0h2m11 0h2m20 0h2m9 0h2m29 0h2m10 0h2m24 0h2m13 0h2m-174 1h2m22 0h2m20 0h2m7 0h2m7 0h2m36 0h2m-1 0h2m31 0h2m47 0h2m1 0h2m-194 1h2m31 0h2m14 0h2m4 0h2m0 0h2m15 0h2m4 0h2m14 0h2m33 0h2m-2 0h2m10 0h2m1 0h2m20 0h2m6 0h2m-183 1h2m-2 0h2m33 0h2m32 0h2m11 0h2m26 0h2m1 0h2m-2 0h2m6 0h2m51 0h2m22 0h2m-204 1h2m28 0h2m6 0h2m15 0h2m26 0h2m33 0h2m24 0h2m46 0h2m0 0h2m-213 1h2m41 0h2m-2 0h2m5 0h2m22 0h2m122 0h2m-169 1h2m42 0h2m3 0h2m9 0h2m5 0h2m0 0h2m0 0h2m28 0h2m6 0h2m9 0h2m13 0h2m9 0h2m-154 1h2m15 0h2m-1 0h2m68 0h2m8 0h2m41 0h2m3 0h2m60 0h2m-203 1h2m37 0h2m28 0h2m2 0h2m15 0h2m14 0h2m78 0h2m-156 1h2m46 0h2m3 0h2m51 0h2m16 0h2m48 0h2m-184 1h2m42 0h2m25 0h2m27 0h2m12 0h2m-47 1h2m4 0h2m1 0h2m28 0h2m76 0h2m-208 1h2m55 0h2m15 0h2m5 0h2m38 0h2m18 0h2m-144 1h2m38 0h2m67 0h2m12 0h2m5 0h2m-107 1h2m41 0h2m-1 0h2m28 0h2m21 0h2m5 0h2m53 0h2m-164 1h2m38 0h2m11 0h2m74 0h2m-168 1h2m58 0h2m34 1h2" stroke="#000" stroke-opacity="0.58" stroke-width="2" transform="scale(.5)"/>
<path d="M732 316h2m5 0h2m-4 4h2m11 0h2m-27 2h2m11 2h2m7 0h2m2 0h2m9 0h2m-24 1h2m2 0h2m-15 1h2m4 0h2m-15 1h2m7 0h2m17 0h2m-9 1h2m-12 1h2m10 0h2m4 0h2m-11 1h2m4 0h2m-15 1h2m7 0h2m0 0h2m22 0h2m-44 1h2m14 0h2m-4 1h2m-6 1h2m2 0h2m8 0h2m28 0h2m-53 1h2m-1 0h2m1 0h2m1 0h2m0 0h2m14 0h2m-30 1h2m35 0h2m-51 1h2m9 0h2m10 1h2m20 0h2m-31 1h2m12 0h2m8 0h2m6 0h2m-37 1h2m8 0h2m4 0h2m-11 1h2m8 0h2m25 0h2m-53 1h2m19 0h2m-1 0h2m12 0h2m-2 0h2m10 0h2m-37 1h2m2 0h2m7 0h2m27 0h2m-41 1h2m13 0h2m23 0h2m9 0h2m-63 1h2m-1 0h2m-5 1h2m-1 0h2m6 0h2m0 0h2m-14 1h2m0 0h2m2 0h2m0 0h2m1 0h2m-1 0h2m-1 0h2m-2 0h2m3 0h2m8 0h2m6 0h2m4 0h2m-43 1h2m6 0h2m-1 0h2m-2 0h2m-1 0h2m-2 0h2m3 0h2m9 0h2m12 0h2m6 0h2m7 0h2m-50 1h2m0 0h2m5 0h2m0 0h2m14 0h2m5 0h2m18 0h2m-72 1h2m2 0h2m24 0h2m13 0h2m0 0h2m-33 1h2m-1 0h2m13 0h2m9 0h2m3 0h2m-1 0h2m1 0h2m-57 1h2m0 0h2m7 0h2m4 0h2m10 0h2m6 0h2m4 0h2m3 0h2m-34 1h2m1 0h2m-1 0h2m25 0h2m3 0h2m9 0h2m3 0h2m-67 1h2m22 0h2m9 0h2m32 0h2m-61 1h2m4 0h2m1 0h2m3 0h2m27 0h2m12 0h2m-42 1h2m2 0h2m-1 0h2m-1 0h2m16 0h2m-44 1h2m7 0h2m4 0h2m28 0h2m25 0h2m-75 1h2m-1 0h2m3 0h2m5 0h2m-1 0h2m0 0h2m-2 0h2m-1 0h2m23 0h2m7 0h2m-63 1h2m22 0h2m7 0h2m10 0h2m3 0h2m-55 1h2m16 0h2m6 0h2m1 0h2m-1 0h2m-1 0h2m1 0h2m0 0h2m1 0h2m-2 0h2m2 0h2m-48 1h2m5 0h2m16 0h2m2 0h2m6 0h2m4 0h2m9 0h2m0 0h2m10 0h2m-63 1h2m2 0h2m10 0h2m2 0h2m2 0h2m0 0h2m5 0h2m5 0h2m36 0h2m-72 1h2m12 0h2m0 0h2m0 0h2m6 0h2m17 0h2m0 0h2m-71 1h2m19 0h2m7 0h2m1 0h2m2 0h2m2 0h2m-1 0h2m-2 0h2m0 0h2m1 0h2m7 0h2m9 0h2m3 0h2m1 0h2m8 0h2m-71 1h2m13 0h2m5 0h2m8 0h2m3 0h2m1 0h2m16 0h2m5 0h2m7 0h2m-63 1h2m3 0h2m0 0h2m1 0h2m15 0h2m-1 0h2m2 0h2m6 0h2m12 0h2m-63 1h2m4 0h2m9 0h2m2 0h2m15 0h2m5 0h2m0 0h2m43 0h2m-109 1h2m-2 0h2m7 0h2m6 0h2m10 0h2m1 0h2m10 0h2m6 0h2m10 0h2m0 0h2m2 0h2m5 0h2m-77 1h2m13 0h2m12 0h2m1 0h2m5 0h2m10 0h2m23 0h2m-69 1h2m9 0h2m12 0h2m2 0h2m-2 0h2m5 0h2m5 0h2m3 0h2m4 0h2m1 0h2m-87 1h2m8 0h2m8 0h2m4 0h2m-1 0h2m11 0h2m5 0h2m0 0h2m2 0h2m-1 0h2m1 0h2m9 0h2m6 0h2m7 0h2m10 0h2m12 0h2m-98 1h2m3 0h2m6 0h2m6 0h2m4 0h2m0 0h2m-2 0h2m4 0h2m1 0h2m16 0h2m13 0h2m3 0h2m-80 1h2m9 0h2m2 0h2m9 0h2m7 0h2m11 0h2m4 0h2m5 0h2m3 0h2m4 0h2m3 0h2m3 0h2m4 0h2m-1 0h2m4 0h2m3 0h2m14 0h2m-115 1h2m2 0h2m5 0h2m-2 0h2m6 0h2m0 0h2m18 0h2m1 0h2m-2 0h2m-2 0h2m28 0h2m6 0h2m-73 1h2m1 0h2m1 0h2m4 0h2m2 0h2m12 0h2m3 0h2m-1 0h2m-2 0h2m0 0h2m15 0h2m0 0h2m-1 0h2m13 0h2m13 0h2m-98 1h2m30 0h2m-1 0h2m5 0h2m6 0h2m19 0h2m3 0h2m34 0h2m-113 1h2m7 0h2m7 0h2m5 0h2m0 0h2m3 0h2m9 0h2m16 0h2m10 0h2m8 0h2m12 0h2m6 0h2m7 0h2m-116 1h2m11 0h2m5 0h2m9 0h2m4 0h2m0 0h2m2 0h2m3 0h2m-1 0h2m-1 0h2m-2 0h2m6 0h2m7 0h2m-68 1h2m8 0h2m6 0h2m12 0h2m-2 0h2m-2 0h2m4 0h2m-2 0h2m5 0h2m17 0h2m7 0h2m1 0h2m33 0h2m-112 1h2m-2 0h2m8 0h2m5 0h2m-1 0h2m7 0h2m0 0h2m-2 0h2m3 0h2m6 0h2m5 0h2m26 0h2m-75 1h2m3 0h2m2 0h2m2 0h2m7 0h2m2 0h2m-1 0h2m-1 0h2m-2 0h2m4 0h2m34 0h2m11 0h2m16 0h2m7 0h2m-110 1h2m9 0h2m2 0h2m4 0h2m2 0h2m-2 0h2m-1 0h2m3 0h2m9 0h2m-2 0h2m2 0h2m0 0h2m4 0h2m-1 0h2m12 0h2m5 0h2m-2 0h2m12 0h2m-103 1h2m0 0h2m-1 0h2m4 0h2m9 0h2m10 0h2m3 0h2m3 0h2m3 0h2m16 0h2m-2 0h2m1 0h2m-2 0h2m17 0h2m4 0h2m2 0h2m-106 1h2m16 0h2m4 0h2m9 0h2m5 0h2m-1 0h2m0 0h2m4 0h2m1 0h2m8 0h2m2 0h2m2 0h2m8 0h2m1 0h2m10 0h2m-89 1h2m6 0h2m15 0h2m1 0h2m-1 0h2m1 0h2m15 0h2m10 0h2m3 0h2m17 0h2m-65 1h2m2 0h2m-2 0h2m5 0h2m13 0h2m-1 0h2m-2 0h2m5 0h2m8 0h2m1 0h2m1 0h2m-1 0h2m11 0h2m17 0h2m31 0h2m-120 1h2m0 0h2m9 0h2m-2 0h2m0 0h2m3 0h2m-2 0h2m4 0h2m2 0h2m15 0h2m6 0h2m27 0h2m-107 1h2m18 0h2m10 0h2m1 0h2m9 0h2m-1 0h2m10 0h2m7 0h2m1 0h2m0 0h2m-61 1h2m5 0h2m-1 0h2m-1 0h2m1 0h2m-1 0h2m-2 0h2m-1 0h2m-2 0h2m-1 0h2m-1 0h2m-1 0h2m0 0h2m-1 0h2m12 0h2m-2 0h2m3 0h2m3 0h2m21 0h2m0 0h2m11 0h2m4 0h2m5 0h2m-99 1h2m2 0h2m-2 0h2m0 0h2m-1 0h2m4 0h2m1 0h2m12 0h2m-1 0h2m-1 0h2m0 0h2m-1 0h2m1 0h2m-2 0h2m14 0h2m0 0h2m3 0h2m33 0h2m-102 1h2m5 0h2m0 0h2m2 0h2m6 0h2m15 0h2m5 0h2m-1 0h2m24 0h2m5 0h2m49 0h2m-141 1h2m4 0h2m6 0h2m19 0h2m4 0h2m4 0h2m0 0h2m4 0h2m9 0h2m4 0h2m12 0h2m-78 1h2m4 0h2m3 0h2m-2 0h2m-1 0h2m2 0h2m-1 0h2m10 0h2m5 0h2m0 0h2m20 0h2m3 0h2m4 0h2m33 0h2m-115 1h2m3 0h2m-1 0h2m-2 0h2m-2 0h2m13 0h2m1 0h2m-1 0h2m1 0h2m0 0h2m3 0h2m3 0h2m1 0h2m12 0h2m0 0h2m8 0h2m-2 0h2m15 0h2m47 0h2m-136 1h2m8 0h2m2 0h2m0 0h2m-1 0h2m-2 0h2m12 0h2m5 0h2m12 0h2m9 0h2m-2 0h2m9 0h2m0 0h2m5 0h2m21 0h2m-1 0h2m-2 0h2m21 0h2m-171 1h2m47 0h2m-1 0h2m4 0h2m2 0h2m-1 0h2m-2 0h2m-1 0h2m2 0h2m6 0h2m-2 0h2m1 0h2m6 0h2m6 0h2m1 0h2m1 0h2m6 0h2m0 0h2m0 0h2m1 0h2m26 0h2m18 0h2m-157 1h2m7 0h2m8 0h2m8 0h2m8 0h2m-2 0h2m5 0h2m21 0h2m0 0h2m1 0h2m4 0h2m2 0h2m4 0h2m5 0h2m-1 0h2m1 0h2m54 0h2m-122 1h2m17 0h2m12 0h2m-1 0h2m20 0h2m-56 1h2m14 0h2m5 0h2m22 0h2m1 0h2m9 0h2m28 0h2m19 0h2m-126 1h2m0 0h2m3 0h2m3 0h2m-1 0h2m2 0h2m-2 0h2m16 0h2m21 0h2m5 0h2m10 0h2m-1 0h2m5 0h2m-1 0h2m5 0h2m2 0h2m-155 1h2m54 0h2m7 0h2m-2 0h2m6 0h2m-1 0h2m0 0h2m-1 0h2m8 0h2m8 0h2m11 0h2m11 0h2m-1 0h2m11 0h2m57 0h2m-179 1h2m48 0h2m2 0h2m3 0h2m0 0h2m3 0h2m1 0h2m0 0h2m6 0h2m0 0h2m8 0h2m1 0h2m15 0h2m2 0h2m-2 0h2m8 0h2m6 0h2m3 0h2m-1 0h2m4 0h2m-158 1h2m44 0h2m21 0h2m3 0h2m10 0h2m7 0h2m0 0h2m-1 0h2m1 0h2m3 0h2m-2 0h2m-1 0h2m1 0h2m-1 0h2m9 0h2m4 0h2m0 0h2m4 0h2m15 0h2m-108 1h2m9 0h2m6 0h2m1 0h2m-1 0h2m3 0h2m-1 0h2m3 0h2m1 0h2m0 0h2m2 0h2m1 0h2m-2 0h2m3 0h2m14 0h2m11 0h2m-1 0h2m3 0h2m8 0h2m1 0h2m11 0h2m-83 1h2m-1 0h2m1 0h2m-2 0h2m2 0h2m56 0h2m20 0h2m6 0h2m-121 1h2m0 0h2m0 0h2m2 0h2m-1 0h2m-1 0h2m6 0h2m-1 0h2m2 0h2m2 0h2m5 0h2m-1 0h2m-1 0h2m-2 0h2m1 0h2m-2 0h2m6 0h2m2 0h2m-1 0h2m-1 0h2m5 0h2m1 0h2m28 0h2m-1 0h2m5 0h2m23 0h2m-135 1h2m19 0h2m-1 0h2m-1 0h2m-1 0h2m2 0h2m0 0h2m4 0h2m-2 0h2m15 0h2m3 0h2m-1 0h2m2 0h2m5 0h2m12 0h2m8 0h2m13 0h2m-100 1h2m7 0h2m2 0h2m-1 0h2m1 0h2m-2 0h2m1 0h2m-1 0h2m-1 0h2m6 0h2m-2 0h2m0 0h2m0 0h2m-1 0h2m-2 0h2m26 0h2m-99 1h2m39 0h2m2 0h2m-1 0h2m0 0h2m3 0h2m-2 0h2m1 0h2m9 0h2m1 0h2m-1 0h2m3 0h2m6 0h2m5 0h2m0 0h2m0 0h2m0 0h2m0 0h2m5 0h2m2 0h2m4 0h2m4 0h2m-2 0h2m0 0h2m3 0h2m-124 1h2m45 0h2m13 0h2m-1 0h2m1 0h2m8 0h2m7 0h2m3 0h2m-2 0h2m-1 0h2m9 0h2m0 0h2m-1 0h2m20 0h2m-1 0h2m5 0h2m8 0h2m-113 1h2m9 0h2m2 0h2m-1 0h2m-1 0h2m4 0h2m-1 0h2m5 0h2m9 0h2m4 0h2m10 0h2m15 0h2m-1 0h2m0 0h2m3 0h2m-1 0h2m34 0h2m-178 1h2m18 0h2m17 0h2m3 0h2m16 0h2m0 0h2m1 0h2m0 0h2m8 0h2m3 0h2m-1 0h2m-1 0h2m-1 0h2m2 0h2m1 0h2m2 0h2m-1 0h2m0 0h2m8 0h2m6 0h2m1 0h2m1 0h2m15 0h2m8 0h2m-155 1h2m23 0h2m5 0h2m21 0h2m-1 0h2m9 0h2m0 0h2m10 0h2m-2 0h2m5 0h2m3 0h2m8 0h2m40 0h2m-103 1h2m19 0h2m2 0h2m3 0h2m0 0h2m5 0h2m3 0h2m13 0h2m3 0h2m8 0h2m9 0h2m9 0h2m1 0h2m34 0h2m-130 1h2m1 0h2m1 0h2m-2 0h2m2 0h2m5 0h2m-1 0h2m-2 0h2m5 0h2m2 0h2m3 0h2m1 0h2m-1 0h2m2 0h2m-2 0h2m1 0h2m0 0h2m-2 0h2m7 0h2m4 0h2m3 0h2m0 0h2m2 0h2m5 0h2m0 0h2m2 0h2m-115 1h2m9 0h2m0 0h2m-1 0h2m25 0h2m7 0h2m2 0h2m17 0h2m1 0h2m16 0h2m17 0h2m49 0h2m-200 1h2m40 0h2m-1 0h2m-1 0h2m20 0h2m0 0h2m14 0h2m1 0h2m-2 0h2m15 0h2m5 0h2m-2 0h2m0 0h2m2 0h2m1 0h2m-2 0h2m21 0h2m30 0h2m-156 1h2m3 0h2m8 0h2m16 0h2m6 0h2m0 0h2m10 0h2m6 0h2m0 0h2m-1 0h2m3 0h2m0 0h2m4 0h2m5 0h2m2 0h2m2 0h2m4 0h2m15 0h2m2 0h2m12 0h2m32 0h2m-154 1h2m10 0h2m-2 0h2m-1 0h2m6 0h2m-1 0h2m6 0h2m14 0h2m0 0h2m1 0h2m7 0h2m29 0h2m11 0h2m2 0h2m6 0h2m24 0h2m30 0h2m-197 1h2m43 0h2m8 0h2m-2 0h2m0 0h2m5 0h2m-1 0h2m-2 0h2m-1 0h2m7 0h2m18 0h2m10 0h2m0 0h2m116 0h2m-214 1h2m12 0h2m8 0h2m-1 0h2m1 0h2m11 0h2m6 0h2m9 0h2m3 0h2m1 0h2m16 0h2m6 0h2m36 0h2m4 0h2m-149 1h2m17 0h2m7 0h2m30 0h2m9 0h2m-1 0h2m-1 0h2m-2 0h2m14 0h2m5 0h2m6 0h2m16 0h2m15 0h2m5 0h2m3 0h2m9 0h2m-157 1h2m8 0h2m4 0h2m2 0h2m-1 0h2m10 0h2m-1 0h2m-1 0h2m4 0h2m3 0h2m9 0h2m1 0h2m-1 0h2m32 0h2m14 0h2m0 0h2m4 0h2m102 0h2m-218 1h2m14 0h2m4 0h2m-1 0h2m0 0h2m15 0h2m9 0h2m20 0h2m-2 0h2m19 0h2m-1 0h2m-2 0h2m2 0h2m23 0h2m5 0h2m5 0h2m26 0h2m4 0h2m-208 1h2m27 0h2m8 0h2m21 0h2m0 0h2m-1 0h2m6 0h2m10 0h2m0 0h2m0 0h2m8 0h2m-1 0h2m12 0h2m0 0h2m6 0h2m0 0h2m8 0h2m0 0h2m7 0h2m2 0h2m6 0h2m0 0h2m7 0h2m1 0h2m-147 1h2m6 0h2m24 0h2m8 0h2m2 0h2m3 0h2m-2 0h2m-2 0h2m0 0h2m4 0h2m1 0h2m3 0h2m0 0h2m-1 0h2m10 0h2m-1 0h2m4 0h2m11 0h2m-1 0h2m12 0h2m9 0h2m11 0h2m-134 1h2m6 0h2m7 0h2m-2 0h2m4 0h2m13 0h2m5 0h2m0 0h2m0 0h2m16 0h2m7 0h2m-1 0h2m0 0h2m14 0h2m12 0h2m33 0h2m22 0h2m-193 1h2m32 0h2m5 0h2m0 0h2m3 0h2m5 0h2m0 0h2m0 0h2m0 0h2m0 0h2m11 0h2m0 0h2m1 0h2m-1 0h2m28 0h2m-1 0h2m-1 0h2m11 0h2m-1 0h2m3 0h2m0 0h2m13 0h2m2 0h2m12 0h2m2 0h2m9 0h2m27 0h2m-197 1h2m25 0h2m1 0h2m10 0h2m-2 0h2m0 0h2m-1 0h2m5 0h2m-1 0h2m3 0h2m4 0h2m1 0h2m1 0h2m-1 0h2m23 0h2m13 0h2m17 0h2m-135 1h2m-2 0h2m37 0h2m14 0h2m0 0h2m2 0h2m3 0h2m0 0h2m0 0h2m2 0h2m8 0h2m12 0h2m12 0h2m20 0h2m16 0h2m-138 1h2m14 0h2m-2 0h2m0 0h2m31 0h2m-2 0h2m4 0h2m2 0h2m41 0h2m8 0h2m52 0h2m18 0h2m-259 1h2m77 0h2m5 0h2m2 0h2m13 0h2m8 0h2m1 0h2m5 0h2m-2 0h2m8 0h2m-1 0h2m3 0h2m1 0h2m15 0h2m-1 0h2m17 0h2m-132 1h2m0 0h2m22 0h2m-2 0h2m14 0h2m-2 0h2m1 0h2m9 0h2m1 0h2m4 0h2m-1 0h2m10 0h2m12 0h2m0 0h2m17 0h2m-1 0h2m7 0h2m-2 0h2m0 0h2m10 0h2m18 0h2m-1 0h2m-175 1h2m6 0h2m20 0h2m0 0h2m23 0h2m6 0h2m2 0h2m5 0h2m15 0h2m0 0h2m6 0h2m-1 0h2m3 0h2m12 0h2m-1 0h2m3 0h2m7 0h2m-197 1h2m68 0h2m3 0h2m10 0h2m5 0h2m15 0h2m9 0h2m2 0h2m1 0h2m3 0h2m13 0h2m0 0h2m8 0h2m7 0h2m-1 0h2m8 0h2m4 0h2m40 0h2m12 0h2m2 0h2m-190 1h2m19 0h2m9 0h2m-1 0h2m16 0h2m15 0h2m-1 0h2m1 0h2m4 0h2m6 0h2m29 0h2m2 0h2m-1 0h2m-1 0h2m14 0h2m9 0h2m0 0h2m3 0h2m19 0h2m-197 1h2m13 0h2m33 0h2m0 0h2m6 0h2m2 0h2m0 0h2m1 0h2m-1 0h2m3 0h2m6 0h2m3 0h2m-1 0h2m4 0h2m2 0h2m-1 0h2m9 0h2m1 0h2m2 0h2m0 0h2m-2 0h2m12 0h2m-1 0h2m0 0h2m-1 0h2m-2 0h2m-1 0h2m4 0h2m-1 0h2m10 0h2m-1 0h2m0 0h2m59 0h2m7 0h2m-206 1h2m9 0h2m19 0h2m0 0h2m3 0h2m10 0h2m13 0h2m1 0h2m5 0h2m-2 0h2m-1 0h2m2 0h2m21 0h2m11 0h2m0 0h2m1 0h2m0 0h2m7 0h2m22 0h2m43 0h2m-203 1h2m22 0h2m0 0h2m4 0h2m5 0h2m7 0h2m9 0h2m3 0h2m7 0h2m-2 0h2m-1 0h2m0 0h2m0 0h2m14 0h2m21 0h2m4 0h2m12 0h2m30 0h2m-232 1h2m10 0h2m55 0h2m21 0h2m-1 0h2m1 0h2m0 0h2m4 0h2m8 0h2m6 0h2m8 0h2m2 0h2m-2 0h2m18 0h2m1 0h2m6 0h2m9 0h2m2 0h2m-1 0h2m-1 0h2m11 0h2m24 0h2m37 0h2m-195 1h2m37 0h2m6 0h2m1 0h2m8 0h2m0 0h2m3 0h2m7 0h2m-2 0h2m21 0h2m34 0h2m2 0h2m7 0h2m17 0h2m-277 1h2m96 0h2m4 0h2m0 0h2m3 0h2m33 0h2m1 0h2m-1 0h2m9 0h2m-1 0h2m27 0h2m25 0h2m62 0h2m-167 1h2m4 0h2m1 0h2m-1 0h2m16 0h2m2 0h2m1 0h2m0 0h2m7 0h2m19 0h2m22 0h2m27 0h2m91 0h2m-234 1h2m13 0h2m0 0h2m-1 0h2m0 0h2m-2 0h2m0 0h2m-1 0h2m-2 0h2m10 0h2m6 0h2m8 0h2m8 0h2m9 0h2m4 0h2m6 0h2m3 0h2m2 0h2m26 0h2m9 0h2m1 0h2m13 0h2m44 0h2m-188 1h2m21 0h2m2 0h2m5 0h2m1 0h2m12 0h2m-2 0h2m5 0h2m18 0h2m1 0h2m3 0h2m20 0h2m6 0h2m68 0h2m-187 1h2m3 0h2m10 0h2m14 0h2m0 0h2m10 0h2m8 0h2m22 0h2m14 0h2m11 0h2m3 0h2m-138 1h2m13 0h2m1 0h2m8 0h2m10 0h2m25 0h2m5 0h2m2 0h2m9 0h2m-1 0h2m13 0h2m21 0h2m6 0h2m-155 1h2m15 0h2m25 0h2m3 0h2m-1 0h2m1 0h2m-1 0h2m6 0h2m24 0h2m-2 0h2m0 0h2m2 0h2m-1 0h2m-1 0h2m4 0h2m3 0h2m29 0h2m13 0h2m-2 0h2m3 0h2m-1 0h2m5 0h2m8 0h2m16 0h2m6 0h2m-216 1h2m28 0h2m12 0h2m32 0h2m3 0h2m1 0h2m6 0h2m3 0h2m1 0h2m10 0h2m-1 0h2m-2 0h2m8 0h2m0 0h2m1 0h2m1 0h2m76 0h2m-221 1h2m19 0h2m4 0h2m45 0h2m-2 0h2m5 0h2m6 0h2m-2 0h2m3 0h2m-1 0h2m8 0h2m-2 0h2m-1 0h2m-1 0h2m5 0h2m11 0h2m5 0h2m-2 0h2m15 0h2m0 0h2m12 0h2m0 0h2m3 0h2m15 0h2m7 0h2m-167 1h2m8 0h2m23 0h2m1 0h2m2 0h2m11 0h2m15 0h2m-2 0h2m31 0h2m14 0h2m-161 1h2m73 0h2m10 0h2m3 0h2m12 0h2m32 0h2m2 0h2m-1 0h2m20 0h2m4 0h2m6 0h2m-2 0h2m5 0h2m-121 1h2m14 0h2m3 0h2m0 0h2m17 0h2m18 0h2m2 0h2m1 0h2m2 0h2m44 0h2m21 0h2m3 0h2m-207 1h2m32 0h2m27 0h2m28 0h2m-1 0h2m9 0h2m63 0h2m8 0h2m26 0h2m-133 1h2m2 0h2m13 0h2m23 0h2m0 0h2m27 0h2m61 0h2m-155 1h2m3 0h2m-2 0h2m7 0h2m4 0h2m-2 0h2m-1 0h2m18 0h2m22 0h2m2 0h2m10 0h2m14 0h2m87 0h2m-216 1h2m31 0h2m0 0h2m0 0h2m2 0h2m15 0h2m23 0h2m16 0h2m9 0h2m31 0h2m26 0h2m-131 1h2m29 0h2m18 0h2m-1 0h2m5 0h2m0 0h2m1 0h2m52 0h2m-142 1h2m21 0h2m22 0h2m1 0h2m1 0h2m7 0h2m20 0h2m4 0h2m2 0h2m44 0h2m20 0h2m7 0h2m-260 1h2m27 0h2m33 0h2m17 0h2m7 0h2m10 0h2m3 0h2m0 0h2m89 0h2m59 0h2m46 0h2m-348 1h2m150 0h2m-94 1h2m52 0h2m-1 0h2m22 0h2m-1 0h2m2 0h2m3 0h2m35 0h2m-1 0h2m23 0h2m16 0h2m-1 0h2m8 0h2m16 0h2m25 0h2m2 0h2m-262 1h2m55 0h2m11 0h2m26 0h2m15 0h2m43 0h2m5 0h2m5 0h2m13 0h2m13 0h2m8 0h2m-146 1h2m4 0h2m35 0h2m-1 0h2m20 0h2m156 0h2m-245 1h2m0 0h2m25 0h2m15 0h2m2 0h2m2 0h2m-1 0h2m1 0h2m52 0h2m13 0h2m8 0h2m43 0h2m15 0h2m12 0h2m39 0h2m-283 1h2m85 0h2m19 0h2m0 0h2m0 0h2m59 0h2m0 0h2m5 0h2m-232 1h2m74 0h2m43 0h2m17 0h2m29 0h2m1 0h2m21 0h2m18 0h2m35 0h2m-146 1h2m41 0h2m21 0h2m75 0h2m-106 1h2m7 0h2m24 0h2m-2 0h2m69 0h2m-224 1h2m181 0h2m-76 1h2m86 0h2m-122 1h2m7 0h2m69 0h2m12 1h2" stroke="#000" stroke-opacity="0.58" stroke-width="2" transform="scale(.5)"/>
<path d="M740 317h2m-1 0h2m9 0h2m-17 1h2m-8 2h2m4 0h2m26 1h2m-27 1h2m0 0h2m-7 1h2m-21 1h2m13 0h2m8 1h2m-18 1h2m7 0h2m1 0h2m-1 0h2m0 2h2m9 0h2m-17 1h2m-2 1h2m0 0h2m18 0h2m-23 1h2m4 0h2m-17 1h2m13 0h2m-7 1h2m2 0h2m0 0h2m-2 0h2m-8 1h2m1 0h2m-1 0h2m-16 1h2m10 1h2m-1 0h2m-1 0h2m2 0h2m-34 1h2m15 0h2m2 0h2m0 0h2m2 0h2m4 0h2m7 0h2m-37 1h2m10 0h2m3 0h2m2 0h2m7 0h2m-36 1h2m15 0h2m2 0h2m0 0h2m4 0h2m13 0h2m1 0h2m-45 1h2m7 0h2m3 0h2m0 0h2m0 0h2m0 0h2m-21 1h2m10 0h2m2 0h2m2 0h2m5 0h2m5 0h2m-26 1h2m3 0h2m8 0h2m2 0h2m-1 0h2m10 0h2m-41 1h2m14 0h2m1 0h2m38 0h2m-65 1h2m12 0h2m0 0h2m0 0h2m-6 1h2m5 0h2m9 0h2m-1 0h2m6 0h2m13 0h2m-65 1h2m11 0h2m10 0h2m8 0h2m33 0h2m-62 1h2m15 0h2m4 0h2m14 0h2m-49 1h2m2 0h2m18 0h2m4 0h2m-44 1h2m10 0h2m21 0h2m10 0h2m29 0h2m-56 1h2m-2 0h2m25 0h2m-20 1h2m11 0h2m12 0h2m9 0h2m-56 1h2m3 0h2m1 0h2m0 0h2m6 0h2m12 0h2m-2 0h2m6 0h2m-2 0h2m-32 1h2m-1 0h2m4 0h2m0 0h2m-1 0h2m-2 0h2m-2 0h2m0 0h2m1 0h2m11 0h2m4 0h2m2 0h2m9 0h2m2 0h2m3 0h2m-63 1h2m14 0h2m-2 0h2m1 0h2m0 0h2m26 0h2m-49 1h2m37 0h2m-45 1h2m3 0h2m-1 0h2m24 0h2m5 0h2m-1 0h2m-40 1h2m12 0h2m3 0h2m4 0h2m4 0h2m-47 1h2m7 0h2m7 0h2m7 0h2m-2 0h2m1 0h2m2 0h2m14 0h2m-39 1h2m10 0h2m4 0h2m1 0h2m7 0h2m5 0h2m10 0h2m22 0h2m-79 1h2m-1 0h2m27 0h2m2 0h2m44 0h2m-2 0h2m-76 1h2m0 0h2m-2 0h2m-1 0h2m1 0h2m2 0h2m-2 0h2m1 0h2m14 0h2m5 0h2m2 0h2m3 0h2m-57 1h2m4 0h2m-1 0h2m0 0h2m0 0h2m8 0h2m3 0h2m4 0h2m-34 1h2m17 0h2m1 0h2m-2 0h2m-1 0h2m4 0h2m13 0h2m15 0h2m-56 1h2m2 0h2m7 0h2m14 0h2m3 0h2m6 0h2m4 0h2m-55 1h2m18 0h2m-1 0h2m6 0h2m1 0h2m3 0h2m6 0h2m-33 1h2m-2 0h2m0 0h2m3 0h2m1 0h2m2 0h2m3 0h2m0 0h2m2 0h2m4 0h2m37 0h2m-103 1h2m17 0h2m5 0h2m-1 0h2m-2 0h2m2 0h2m0 0h2m-1 0h2m4 0h2m-1 0h2m-1 0h2m0 0h2m0 0h2m-1 0h2m-1 0h2m7 0h2m6 0h2m6 0h2m5 0h2m-70 1h2m22 0h2m0 0h2m-1 0h2m0 0h2m1 0h2m1 0h2m40 0h2m-68 1h2m18 0h2m7 0h2m22 0h2m-2 0h2m0 0h2m16 0h2m-86 1h2m-1 0h2m14 0h2m4 0h2m0 0h2m-2 0h2m4 0h2m-1 0h2m1 0h2m0 0h2m3 0h2m5 0h2m3 0h2m0 0h2m8 0h2m4 0h2m20 0h2m-98 1h2m17 0h2m3 0h2m0 0h2m1 0h2m-1 0h2m2 0h2m-1 0h2m1 0h2m14 0h2m15 0h2m12 0h2m-73 1h2m-2 0h2m2 0h2m6 0h2m5 0h2m5 0h2m11 0h2m-27 1h2m-1 0h2m1 0h2m1 0h2m-1 0h2m7 0h2m5 0h2m2 0h2m21 0h2m-66 1h2m1 0h2m-1 0h2m1 0h2m-1 0h2m5 0h2m2 0h2m2 0h2m5 0h2m0 0h2m2 0h2m10 0h2m-62 1h2m-1 0h2m9 0h2m5 0h2m2 0h2m-2 0h2m-2 0h2m0 0h2m7 0h2m19 0h2m-2 0h2m49 0h2m-92 1h2m2 0h2m-2 0h2m3 0h2m35 0h2m2 0h2m0 0h2m-49 1h2m-1 0h2m-2 0h2m6 0h2m2 0h2m7 0h2m10 0h2m2 0h2m5 0h2m56 0h2m-145 1h2m23 0h2m7 0h2m2 0h2m2 0h2m4 0h2m-1 0h2m11 0h2m3 0h2m7 0h2m-110 1h2m25 0h2m21 0h2m3 0h2m9 0h2m18 0h2m15 0h2m-1 0h2m7 0h2m-86 1h2m13 0h2m19 0h2m3 0h2m-2 0h2m-1 0h2m8 0h2m1 0h2m33 0h2m0 0h2m19 0h2m-82 1h2m3 0h2m2 0h2m0 0h2m2 0h2m-2 0h2m1 0h2m-2 0h2m-2 0h2m-1 0h2m0 0h2m3 0h2m12 0h2m-22 1h2m-1 0h2m12 0h2m1 0h2m4 0h2m0 0h2m5 0h2m17 0h2m6 0h2m-104 1h2m20 0h2m2 0h2m-2 0h2m7 0h2m1 0h2m-2 0h2m3 0h2m1 0h2m-1 0h2m0 0h2m5 0h2m6 0h2m6 0h2m3 0h2m-94 1h2m0 0h2m8 0h2m25 0h2m9 0h2m0 0h2m10 0h2m8 0h2m18 0h2m29 0h2m-108 1h2m1 0h2m4 0h2m5 0h2m0 0h2m3 0h2m8 0h2m4 0h2m-1 0h2m7 0h2m-1 0h2m-1 0h2m-2 0h2m6 0h2m-1 0h2m12 0h2m-88 1h2m10 0h2m15 0h2m1 0h2m4 0h2m1 0h2m4 0h2m-2 0h2m7 0h2m-1 0h2m1 0h2m-1 0h2m5 0h2m1 0h2m-1 0h2m-1 0h2m0 0h2m7 0h2m-1 0h2m-1 0h2m3 0h2m-1 0h2m-68 1h2m0 0h2m3 0h2m-2 0h2m17 0h2m0 0h2m-2 0h2m4 0h2m5 0h2m2 0h2m9 0h2m0 0h2m11 0h2m5 0h2m3 0h2m0 0h2m-85 1h2m10 0h2m-2 0h2m3 0h2m-1 0h2m-2 0h2m10 0h2m0 0h2m6 0h2m1 0h2m-2 0h2m4 0h2m-2 0h2m14 0h2m0 0h2m12 0h2m-120 1h2m20 0h2m3 0h2m9 0h2m-2 0h2m2 0h2m4 0h2m4 0h2m2 0h2m10 0h2m17 0h2m0 0h2m7 0h2m37 0h2m-134 1h2m7 0h2m-1 0h2m6 0h2m4 0h2m2 0h2m0 0h2m-2 0h2m9 0h2m-1 0h2m6 0h2m5 0h2m-1 0h2m-2 0h2m-1 0h2m0 0h2m12 0h2m1 0h2m1 0h2m15 0h2m1 0h2m6 0h2m10 0h2m13 0h2m-119 1h2m1 0h2m-2 0h2m-2 0h2m2 0h2m0 0h2m1 0h2m-2 0h2m3 0h2m0 0h2m0 0h2m2 0h2m0 0h2m2 0h2m0 0h2m0 0h2m-2 0h2m13 0h2m2 0h2m-1 0h2m20 0h2m74 0h2m-207 1h2m40 0h2m27 0h2m2 0h2m-2 0h2m4 0h2m0 0h2m-1 0h2m8 0h2m2 0h2m35 0h2m10 0h2m22 0h2m-130 1h2m4 0h2m32 0h2m0 0h2m0 0h2m-1 0h2m1 0h2m12 0h2m4 0h2m26 0h2m0 0h2m24 0h2m-131 1h2m1 0h2m20 0h2m2 0h2m0 0h2m-1 0h2m3 0h2m-1 0h2m5 0h2m6 0h2m0 0h2m-1 0h2m0 0h2m11 0h2m2 0h2m1 0h2m3 0h2m10 0h2m0 0h2m9 0h2m-100 1h2m0 0h2m18 0h2m-2 0h2m-1 0h2m1 0h2m-1 0h2m6 0h2m2 0h2m-2 0h2m2 0h2m0 0h2m14 0h2m6 0h2m1 0h2m5 0h2m9 0h2m-82 1h2m6 0h2m2 0h2m10 0h2m-2 0h2m16 0h2m14 0h2m2 0h2m3 0h2m28 0h2m-116 1h2m-2 0h2m2 0h2m-1 0h2m21 0h2m-1 0h2m-2 0h2m17 0h2m-1 0h2m6 0h2m1 0h2m-1 0h2m5 0h2m-1 0h2m3 0h2m7 0h2m2 0h2m-1 0h2m18 0h2m-2 0h2m-1 0h2m11 0h2m-114 1h2m1 0h2m4 0h2m7 0h2m8 0h2m1 0h2m-1 0h2m7 0h2m-1 0h2m6 0h2m1 0h2m14 0h2m-1 0h2m0 0h2m48 0h2m13 0h2m-145 1h2m3 0h2m22 0h2m8 0h2m-1 0h2m-1 0h2m-1 0h2m12 0h2m1 0h2m3 0h2m-2 0h2m12 0h2m9 0h2m9 0h2m-105 1h2m6 0h2m18 0h2m3 0h2m3 0h2m0 0h2m-1 0h2m0 0h2m0 0h2m1 0h2m1 0h2m1 0h2m-1 0h2m6 0h2m28 0h2m7 0h2m0 0h2m10 0h2m-125 1h2m19 0h2m1 0h2m3 0h2m-1 0h2m2 0h2m20 0h2m1 0h2m3 0h2m5 0h2m15 0h2m-1 0h2m15 0h2m27 0h2m-166 1h2m5 0h2m35 0h2m8 0h2m0 0h2m0 0h2m4 0h2m0 0h2m1 0h2m-1 0h2m4 0h2m5 0h2m2 0h2m11 0h2m4 0h2m1 0h2m8 0h2m15 0h2m1 0h2m5 0h2m-118 1h2m13 0h2m2 0h2m7 0h2m1 0h2m16 0h2m-2 0h2m3 0h2m2 0h2m-1 0h2m6 0h2m2 0h2m1 0h2m-1 0h2m0 0h2m-1 0h2m11 0h2m0 0h2m2 0h2m-2 0h2m19 0h2m53 0h2m-170 1h2m0 0h2m17 0h2m10 0h2m15 0h2m1 0h2m6 0h2m8 0h2m11 0h2m1 0h2m-111 1h2m16 0h2m18 0h2m1 0h2m19 0h2m4 0h2m2 0h2m5 0h2m10 0h2m2 0h2m6 0h2m3 0h2m2 0h2m37 0h2m-124 1h2m7 0h2m-1 0h2m0 0h2m5 0h2m1 0h2m2 0h2m1 0h2m0 0h2m4 0h2m-2 0h2m-1 0h2m6 0h2m-1 0h2m-1 0h2m4 0h2m18 0h2m12 0h2m0 0h2m-98 1h2m1 0h2m17 0h2m1 0h2m2 0h2m6 0h2m0 0h2m4 0h2m2 0h2m21 0h2m2 0h2m14 0h2m8 0h2m9 0h2m30 0h2m-117 1h2m5 0h2m-1 0h2m7 0h2m5 0h2m10 0h2m3 0h2m3 0h2m-1 0h2m1 0h2m0 0h2m23 0h2m-95 1h2m12 0h2m-2 0h2m1 0h2m-2 0h2m6 0h2m3 0h2m-1 0h2m-1 0h2m-1 0h2m-1 0h2m-2 0h2m0 0h2m0 0h2m10 0h2m-2 0h2m-1 0h2m0 0h2m-1 0h2m3 0h2m5 0h2m-1 0h2m0 0h2m1 0h2m9 0h2m14 0h2m-132 1h2m11 0h2m10 0h2m9 0h2m3 0h2m9 0h2m4 0h2m-2 0h2m-1 0h2m-1 0h2m0 0h2m4 0h2m-1 0h2m-2 0h2m-2 0h2m5 0h2m1 0h2m13 0h2m8 0h2m14 0h2m-1 0h2m13 0h2m16 0h2m-138 1h2m2 0h2m7 0h2m9 0h2m2 0h2m12 0h2m-1 0h2m2 0h2m-1 0h2m11 0h2m2 0h2m5 0h2m5 0h2m-2 0h2m20 0h2m6 0h2m-2 0h2m7 0h2m17 0h2m2 0h2m31 0h2m-159 1h2m7 0h2m3 0h2m1 0h2m8 0h2m0 0h2m8 0h2m4 0h2m7 0h2m2 0h2m-109 1h2m47 0h2m7 0h2m4 0h2m-1 0h2m-2 0h2m12 0h2m0 0h2m2 0h2m-1 0h2m2 0h2m-2 0h2m-1 0h2m10 0h2m10 0h2m-1 0h2m36 0h2m-169 1h2m73 0h2m1 0h2m0 0h2m17 0h2m-1 0h2m-1 0h2m4 0h2m11 0h2m5 0h2m11 0h2m-86 1h2m0 0h2m-1 0h2m43 0h2m2 0h2m12 0h2m3 0h2m1 0h2m-1 0h2m3 0h2m58 0h2m2 0h2m-170 1h2m16 0h2m12 0h2m2 0h2m-1 0h2m9 0h2m2 0h2m2 0h2m5 0h2m10 0h2m20 0h2m0 0h2m-2 0h2m6 0h2m4 0h2m16 0h2m4 0h2m5 0h2m8 0h2m-131 1h2m5 0h2m-1 0h2m2 0h2m3 0h2m5 0h2m-2 0h2m0 0h2m1 0h2m8 0h2m-1 0h2m-1 0h2m1 0h2m1 0h2m13 0h2m0 0h2m-37 1h2m0 0h2m0 0h2m9 0h2m-1 0h2m3 0h2m0 0h2m4 0h2m12 0h2m5 0h2m9 0h2m3 0h2m0 0h2m2 0h2m12 0h2m-129 1h2m2 0h2m11 0h2m-2 0h2m0 0h2m20 0h2m0 0h2m9 0h2m-1 0h2m2 0h2m-2 0h2m-1 0h2m4 0h2m-1 0h2m3 0h2m-2 0h2m3 0h2m9 0h2m9 0h2m8 0h2m-134 1h2m26 0h2m13 0h2m11 0h2m5 0h2m5 0h2m5 0h2m8 0h2m2 0h2m1 0h2m6 0h2m3 0h2m1 0h2m0 0h2m13 0h2m18 0h2m14 0h2m2 0h2m34 0h2m-179 1h2m15 0h2m3 0h2m1 0h2m0 0h2m8 0h2m3 0h2m5 0h2m2 0h2m2 0h2m1 0h2m1 0h2m2 0h2m-1 0h2m5 0h2m1 0h2m8 0h2m4 0h2m3 0h2m5 0h2m-1 0h2m1 0h2m72 0h2m-172 1h2m2 0h2m-2 0h2m3 0h2m11 0h2m1 0h2m2 0h2m0 0h2m10 0h2m0 0h2m12 0h2m5 0h2m16 0h2m3 0h2m1 0h2m-1 0h2m10 0h2m-136 1h2m31 0h2m1 0h2m4 0h2m-2 0h2m-2 0h2m-1 0h2m-2 0h2m9 0h2m5 0h2m1 0h2m6 0h2m10 0h2m1 0h2m4 0h2m29 0h2m9 0h2m10 0h2m-201 1h2m40 0h2m12 0h2m23 0h2m4 0h2m3 0h2m2 0h2m14 0h2m6 0h2m-2 0h2m-1 0h2m4 0h2m-1 0h2m0 0h2m1 0h2m5 0h2m-1 0h2m9 0h2m11 0h2m7 0h2m3 0h2m2 0h2m11 0h2m-1 0h2m-142 1h2m20 0h2m-1 0h2m-2 0h2m-1 0h2m4 0h2m-2 0h2m0 0h2m2 0h2m-2 0h2m0 0h2m13 0h2m11 0h2m2 0h2m-1 0h2m2 0h2m0 0h2m-2 0h2m7 0h2m0 0h2m0 0h2m8 0h2m-1 0h2m24 0h2m30 0h2m6 0h2m-222 1h2m78 0h2m11 0h2m1 0h2m0 0h2m7 0h2m13 0h2m2 0h2m-1 0h2m3 0h2m-1 0h2m-2 0h2m2 0h2m3 0h2m2 0h2m8 0h2m12 0h2m31 0h2m-155 1h2m9 0h2m2 0h2m6 0h2m-1 0h2m2 0h2m8 0h2m10 0h2m9 0h2m14 0h2m-1 0h2m4 0h2m-1 0h2m11 0h2m-1 0h2m5 0h2m8 0h2m-111 1h2m3 0h2m7 0h2m5 0h2m13 0h2m2 0h2m4 0h2m3 0h2m1 0h2m-1 0h2m6 0h2m12 0h2m-1 0h2m-1 0h2m-2 0h2m6 0h2m4 0h2m-1 0h2m4 0h2m17 0h2m-1 0h2m-125 1h2m29 0h2m11 0h2m-1 0h2m13 0h2m19 0h2m1 0h2m34 0h2m10 0h2m3 0h2m-167 1h2m9 0h2m6 0h2m2 0h2m50 0h2m3 0h2m0 0h2m6 0h2m2 0h2m4 0h2m16 0h2m4 0h2m10 0h2m13 0h2m21 0h2m0 0h2m4 0h2m-178 1h2m24 0h2m15 0h2m7 0h2m15 0h2m-1 0h2m-1 0h2m-2 0h2m2 0h2m1 0h2m0 0h2m6 0h2m-1 0h2m5 0h2m-1 0h2m24 0h2m-1 0h2m1 0h2m6 0h2m34 0h2m58 0h2m-236 1h2m27 0h2m11 0h2m0 0h2m1 0h2m6 0h2m0 0h2m0 0h2m1 0h2m14 0h2m21 0h2m12 0h2m12 0h2m0 0h2m8 0h2m-2 0h2m-1 0h2m0 0h2m29 0h2m-1 0h2m18 0h2m-178 1h2m3 0h2m13 0h2m-1 0h2m4 0h2m7 0h2m6 0h2m5 0h2m3 0h2m-2 0h2m-1 0h2m4 0h2m0 0h2m0 0h2m-1 0h2m9 0h2m40 0h2m5 0h2m4 0h2m19 0h2m32 0h2m-175 1h2m10 0h2m10 0h2m21 0h2m1 0h2m-1 0h2m2 0h2m0 0h2m6 0h2m1 0h2m1 0h2m-2 0h2m12 0h2m0 0h2m14 0h2m-1 0h2m0 0h2m24 0h2m6 0h2m-164 1h2m9 0h2m4 0h2m17 0h2m9 0h2m9 0h2m1 0h2m3 0h2m4 0h2m15 0h2m0 0h2m33 0h2m1 0h2m3 0h2m8 0h2m2 0h2m-153 1h2m15 0h2m5 0h2m20 0h2m-1 0h2m12 0h2m27 0h2m3 0h2m-1 0h2m0 0h2m9 0h2m4 0h2m11 0h2m19 0h2m39 0h2m-192 1h2m27 0h2m10 0h2m-1 0h2m5 0h2m17 0h2m5 0h2m4 0h2m-1 0h2m24 0h2m18 0h2m-2 0h2m1 0h2m27 0h2m22 0h2m-223 1h2m16 0h2m6 0h2m17 0h2m30 0h2m-2 0h2m3 0h2m26 0h2m9 0h2m-1 0h2m-2 0h2m13 0h2m1 0h2m1 0h2m-1 0h2m16 0h2m3 0h2m3 0h2m29 0h2m-264 1h2m23 0h2m64 0h2m24 0h2m18 0h2m1 0h2m6 0h2m5 0h2m6 0h2m4 0h2m17 0h2m14 0h2m3 0h2m-1 0h2m3 0h2m13 0h2m48 0h2m2 0h2m3 0h2m-154 1h2m11 0h2m3 0h2m4 0h2m8 0h2m8 0h2m-1 0h2m37 0h2m-2 0h2m16 0h2m8 0h2m11 0h2m-2 0h2m22 0h2m17 0h2m-184 1h2m17 0h2m4 0h2m2 0h2m4 0h2m4 0h2m-2 0h2m2 0h2m14 0h2m3 0h2m-1 0h2m0 0h2m3 0h2m-1 0h2m-1 0h2m-2 0h2m-2 0h2m1 0h2m16 0h2m-2 0h2m1 0h2m16 0h2m30 0h2m-1 0h2m39 0h2m-233 1h2m2 0h2m59 0h2m2 0h2m-2 0h2m0 0h2m0 0h2m0 0h2m0 0h2m0 0h2m0 0h2m3 0h2m4 0h2m7 0h2m-1 0h2m12 0h2m5 0h2m10 0h2m2 0h2m33 0h2m4 0h2m-182 1h2m12 0h2m13 0h2m2 0h2m6 0h2m7 0h2m7 0h2m0 0h2m5 0h2m9 0h2m6 0h2m2 0h2m11 0h2m18 0h2m8 0h2m3 0h2m5 0h2m17 0h2m6 0h2m-172 1h2m31 0h2m0 0h2m-2 0h2m15 0h2m11 0h2m4 0h2m11 0h2m2 0h2m12 0h2m21 0h2m17 0h2m2 0h2m6 0h2m12 0h2m12 0h2m-239 1h2m46 0h2m20 0h2m4 0h2m-1 0h2m5 0h2m17 0h2m6 0h2m1 0h2m4 0h2m1 0h2m5 0h2m-1 0h2m3 0h2m-1 0h2m2 0h2m26 0h2m-1 0h2m3 0h2m9 0h2m9 0h2m20 0h2m12 0h2m-1 0h2m4 0h2m11 0h2m-209 1h2m32 0h2m36 0h2m2 0h2m1 0h2m4 0h2m0 0h2m27 0h2m4 0h2m19 0h2m1 0h2m5 0h2m21 0h2m-183 1h2m31 0h2m6 0h2m22 0h2m4 0h2m7 0h2m0 0h2m-1 0h2m2 0h2m2 0h2m5 0h2m1 0h2m8 0h2m14 0h2m35 0h2m6 0h2m28 0h2m-160 1h2m0 0h2m9 0h2m6 0h2m5 0h2m4 0h2m10 0h2m2 0h2m5 0h2m4 0h2m1 0h2m3 0h2m7 0h2m12 0h2m-1 0h2m5 0h2m57 0h2m-178 1h2m16 0h2m1 0h2m27 0h2m-2 0h2m9 0h2m-1 0h2m0 0h2m6 0h2m-1 0h2m8 0h2m7 0h2m8 0h2m10 0h2m1 0h2m4 0h2m-129 1h2m33 0h2m4 0h2m25 0h2m7 0h2m22 0h2m9 0h2m6 0h2m29 0h2m-1 0h2m-1 0h2m43 0h2m14 0h2m-213 1h2m12 0h2m20 0h2m30 0h2m-1 0h2m-1 0h2m20 0h2m7 0h2m6 0h2m10 0h2m9 0h2m11 0h2m-191 1h2m81 0h2m0 0h2m0 0h2m3 0h2m9 0h2m0 0h2m15 0h2m-2 0h2m22 0h2m2 0h2m-2 0h2m19 0h2m10 0h2m2 0h2m21 0h2m16 0h2m-248 1h2m91 0h2m3 0h2m3 0h2m14 0h2m1 0h2m20 0h2m1 0h2m3 0h2m11 0h2m0 0h2m1 0h2m11 0h2m3 0h2m13 0h2m13 0h2m15 0h2m-161 1h2m20 0h2m5 0h2m19 0h2m13 0h2m15 0h2m31 0h2m36 0h2m-150 1h2m0 0h2m10 0h2m6 0h2m-1 0h2m8 0h2m-1 0h2m20 0h2m-1 0h2m9 0h2m8 0h2m-1 0h2m2 0h2m-2 0h2m45 0h2m4 0h2m34 0h2m-180 1h2m2 0h2m34 0h2m1 0h2m7 0h2m3 0h2m-1 0h2m9 0h2m5 0h2m5 0h2m3 0h2m6 0h2m3 0h2m0 0h2m2 0h2m5 0h2m0 0h2m2 0h2m9 0h2m-2 0h2m21 0h2m0 0h2m-171 1h2m41 0h2m11 0h2m3 0h2m23 0h2m33 0h2m69 0h2m-252 1h2m44 0h2m36 0h2m28 0h2m48 0h2m17 0h2m-188 1h2m56 0h2m17 0h2m34 0h2m5 0h2m10 0h2m3 0h2m-1 0h2m-1 0h2m4 0h2m9 0h2m14 0h2m1 0h2m10 0h2m33 0h2m27 0h2m-208 1h2m28 0h2m12 0h2m5 0h2m1 0h2m13 0h2m3 0h2m2 0h2m1 0h2m7 0h2m2 0h2m19 0h2m18 0h2m3 0h2m35 0h2m-138 1h2m9 0h2m14 0h2m2 0h2m0 0h2m44 0h2m8 0h2m3 0h2m4 0h2m9 0h2m39 0h2m37 0h2m-278 1h2m83 0h2m3 0h2m14 0h2m20 0h2m15 0h2m-1 0h2m41 0h2m2 0h2m2 0h2m25 0h2m-172 1h2m18 0h2m16 0h2m3 0h2m30 0h2m0 0h2m20 0h2m35 0h2m55 0h2m-167 1h2m1 0h2m6 0h2m42 0h2m7 0h2m23 0h2m0 0h2m28 0h2m1 0h2m3 0h2m57 0h2m-222 1h2m9 0h2m8 0h2m49 0h2m64 0h2m5 0h2m-65 1h2m55 0h2m0 0h2m17 0h2m-1 0h2m18 0h2m19 0h2m-165 1h2m1 0h2m25 0h2m3 0h2m10 0h2m8 0h2m11 0h2m60 0h2m37 0h2m-94 1h2m10 0h2m64 0h2m-154 1h2m25 0h2m36 0h2m20 0h2m81 0h2m-203 1h2m28 0h2m17 0h2m53 0h2m7 0h2m17 0h2m26 0h2m3 0h2m53 0h2m-195 1h2m29 0h2m34 0h2m16 0h2m-84 1h2m5 0h2" stroke="#000" stroke-opacity="0.58" stroke-width="2" transform="scale(.5)"/>
<path d="M747 317h2m1 1h2m0 2h2m-20 1h2m0 0h2m6 0h2m-2 1h2m-16 1h2m12 0h2m5 0h2m-10 1h2m-16 1h2m3 0h2m2 0h2m1 1h2m-7 1h2m-11 1h2m9 0h2m0 1h2m16 0h2m-11 2h2m-8 1h2m19 0h2m-37 1h2m-1 0h2m3 0h2m4 0h2m1 0h2m13 0h2m-18 1h2m1 0h2m4 0h2m1 0h2m13 0h2m-41 1h2m7 0h2m0 0h2m7 0h2m6 0h2m-26 1h2m3 0h2m1 0h2m11 0h2m-22 1h2m6 0h2m-21 1h2m13 0h2m7 0h2m-24 1h2m0 0h2m1 0h2m2 0h2m8 0h2m44 0h2m-54 1h2m-1 0h2m-1 0h2m10 0h2m-1 0h2m-24 1h2m14 0h2m4 0h2m-16 1h2m0 0h2m-5 1h2m0 0h2m5 0h2m4 0h2m-30 1h2m3 0h2m0 0h2m-2 0h2m2 0h2m3 0h2m-25 1h2m-1 0h2m24 0h2m-17 1h2m4 0h2m-1 0h2m0 0h2m1 0h2m-2 0h2m5 0h2m-31 1h2m18 0h2m0 0h2m-1 0h2m1 0h2m-1 0h2m-1 0h2m3 0h2m26 0h2m-51 1h2m0 0h2m3 0h2m1 0h2m41 0h2m-69 1h2m3 0h2m1 0h2m11 0h2m-1 0h2m2 0h2m7 0h2m28 0h2m-63 1h2m-1 0h2m7 0h2m2 0h2m3 0h2m1 0h2m-1 0h2m-1 0h2m2 0h2m-1 0h2m-1 0h2m22 0h2m-57 1h2m2 0h2m2 0h2m4 0h2m-1 0h2m2 0h2m2 0h2m19 0h2m-47 1h2m14 0h2m22 0h2m22 0h2m-65 1h2m19 0h2m0 0h2m15 0h2m-2 0h2m-42 1h2m7 0h2m4 0h2m7 0h2m4 0h2m-2 0h2m22 0h2m-58 1h2m24 0h2m1 0h2m12 0h2m22 0h2m-47 1h2m5 0h2m4 0h2m6 0h2m12 0h2m-56 1h2m15 0h2m3 0h2m21 0h2m2 0h2m53 0h2m-98 1h2m1 0h2m0 0h2m0 0h2m3 0h2m6 0h2m-1 0h2m2 0h2m0 0h2m4 0h2m-45 1h2m3 0h2m-1 0h2m1 0h2m16 0h2m-1 0h2m1 0h2m7 0h2m-31 1h2m1 0h2m2 0h2m-2 0h2m50 0h2m1 0h2m-61 1h2m0 0h2m1 0h2m1 0h2m3 0h2m9 0h2m4 0h2m1 0h2m20 0h2m-55 1h2m4 0h2m-2 0h2m10 0h2m1 0h2m5 0h2m20 0h2m-73 1h2m13 0h2m-2 0h2m2 0h2m-1 0h2m1 0h2m2 0h2m-28 1h2m9 0h2m0 0h2m7 0h2m0 0h2m0 0h2m-1 0h2m5 0h2m6 0h2m-2 0h2m-1 0h2m39 0h2m-97 1h2m2 0h2m0 0h2m-1 0h2m27 0h2m1 0h2m3 0h2m0 0h2m3 0h2m0 0h2m-2 0h2m1 0h2m1 0h2m0 0h2m1 0h2m5 0h2m4 0h2m6 0h2m4 0h2m1 0h2m-85 1h2m24 0h2m-2 0h2m0 0h2m3 0h2m-1 0h2m4 0h2m1 0h2m-1 0h2m8 0h2m6 0h2m-53 1h2m-1 0h2m18 0h2m-1 0h2m24 0h2m0 0h2m7 0h2m-71 1h2m3 0h2m18 0h2m5 0h2m13 0h2m-2 0h2m4 0h2m-1 0h2m4 0h2m10 0h2m-80 1h2m8 0h2m3 0h2m2 0h2m6 0h2m3 0h2m-2 0h2m0 0h2m-2 0h2m-1 0h2m-1 0h2m9 0h2m8 0h2m2 0h2m12 0h2m7 0h2m-89 1h2m0 0h2m9 0h2m0 0h2m8 0h2m6 0h2m12 0h2m5 0h2m8 0h2m21 0h2m-104 1h2m44 0h2m1 0h2m-2 0h2m2 0h2m2 0h2m7 0h2m8 0h2m5 0h2m11 0h2m-79 1h2m7 0h2m3 0h2m0 0h2m10 0h2m1 0h2m-1 0h2m-1 0h2m-1 0h2m-1 0h2m1 0h2m6 0h2m6 0h2m4 0h2m-71 1h2m15 0h2m2 0h2m4 0h2m3 0h2m-1 0h2m0 0h2m7 0h2m16 0h2m40 0h2m-76 1h2m3 0h2m-2 0h2m-1 0h2m2 0h2m10 0h2m-2 0h2m-2 0h2m0 0h2m2 0h2m-1 0h2m8 0h2m-59 1h2m2 0h2m12 0h2m0 0h2m4 0h2m0 0h2m9 0h2m0 0h2m2 0h2m0 0h2m3 0h2m-2 0h2m0 0h2m-2 0h2m3 0h2m10 0h2m-1 0h2m-72 1h2m7 0h2m0 0h2m7 0h2m2 0h2m3 0h2m-1 0h2m25 0h2m21 0h2m-84 1h2m19 0h2m1 0h2m-1 0h2m-1 0h2m2 0h2m-1 0h2m-1 0h2m2 0h2m17 0h2m17 0h2m2 0h2m-87 1h2m13 0h2m2 0h2m1 0h2m-1 0h2m-2 0h2m0 0h2m6 0h2m-2 0h2m3 0h2m-1 0h2m25 0h2m10 0h2m-94 1h2m7 0h2m33 0h2m3 0h2m1 0h2m-2 0h2m9 0h2m4 0h2m18 0h2m-88 1h2m16 0h2m5 0h2m-2 0h2m2 0h2m4 0h2m1 0h2m1 0h2m-1 0h2m-1 0h2m-1 0h2m12 0h2m-1 0h2m-1 0h2m7 0h2m7 0h2m9 0h2m-81 1h2m15 0h2m13 0h2m27 0h2m3 0h2m-1 0h2m34 0h2m11 0h2m7 0h2m-118 1h2m7 0h2m4 0h2m2 0h2m7 0h2m1 0h2m-1 0h2m5 0h2m1 0h2m0 0h2m0 0h2m-2 0h2m-1 0h2m1 0h2m-2 0h2m6 0h2m-2 0h2m2 0h2m2 0h2m8 0h2m15 0h2m-85 1h2m4 0h2m2 0h2m1 0h2m0 0h2m4 0h2m5 0h2m0 0h2m-1 0h2m2 0h2m0 0h2m0 0h2m1 0h2m-1 0h2m8 0h2m11 0h2m15 0h2m-92 1h2m1 0h2m0 0h2m7 0h2m2 0h2m1 0h2m-2 0h2m2 0h2m3 0h2m4 0h2m17 0h2m2 0h2m6 0h2m0 0h2m1 0h2m2 0h2m-1 0h2m19 0h2m-105 1h2m-2 0h2m7 0h2m2 0h2m4 0h2m0 0h2m-1 0h2m0 0h2m3 0h2m8 0h2m13 0h2m7 0h2m5 0h2m35 0h2m-98 1h2m4 0h2m3 0h2m-1 0h2m0 0h2m1 0h2m-2 0h2m12 0h2m3 0h2m11 0h2m16 0h2m-79 1h2m-1 0h2m8 0h2m9 0h2m1 0h2m5 0h2m12 0h2m5 0h2m3 0h2m-2 0h2m3 0h2m-1 0h2m-1 0h2m4 0h2m6 0h2m-102 1h2m7 0h2m0 0h2m10 0h2m9 0h2m16 0h2m11 0h2m2 0h2m0 0h2m5 0h2m-1 0h2m0 0h2m-65 1h2m16 0h2m0 0h2m10 0h2m-1 0h2m-1 0h2m0 0h2m-1 0h2m-2 0h2m0 0h2m6 0h2m11 0h2m2 0h2m2 0h2m-2 0h2m7 0h2m23 0h2m-109 1h2m-1 0h2m7 0h2m-2 0h2m2 0h2m6 0h2m5 0h2m-1 0h2m8 0h2m2 0h2m2 0h2m0 0h2m-2 0h2m3 0h2m5 0h2m3 0h2m2 0h2m-1 0h2m4 0h2m2 0h2m-1 0h2m-86 1h2m8 0h2m2 0h2m3 0h2m1 0h2m4 0h2m-1 0h2m1 0h2m7 0h2m-1 0h2m-1 0h2m0 0h2m-2 0h2m6 0h2m20 0h2m-1 0h2m13 0h2m3 0h2m-108 1h2m28 0h2m-2 0h2m2 0h2m-1 0h2m4 0h2m21 0h2m1 0h2m-2 0h2m6 0h2m21 0h2m10 0h2m28 0h2m-108 1h2m0 0h2m-1 0h2m5 0h2m17 0h2m15 0h2m7 0h2m8 0h2m21 0h2m-95 1h2m5 0h2m2 0h2m6 0h2m3 0h2m-1 0h2m0 0h2m4 0h2m11 0h2m0 0h2m0 0h2m18 0h2m23 0h2m-124 1h2m15 0h2m1 0h2m5 0h2m35 0h2m5 0h2m10 0h2m5 0h2m13 0h2m3 0h2m3 0h2m-108 1h2m5 0h2m2 0h2m4 0h2m14 0h2m-2 0h2m-1 0h2m1 0h2m5 0h2m10 0h2m-1 0h2m0 0h2m43 0h2m-106 1h2m4 0h2m10 0h2m1 0h2m3 0h2m-1 0h2m8 0h2m1 0h2m7 0h2m8 0h2m5 0h2m-69 1h2m32 0h2m7 0h2m-1 0h2m0 0h2m-1 0h2m8 0h2m0 0h2m-1 0h2m22 0h2m0 0h2m3 0h2m-78 1h2m16 0h2m5 0h2m11 0h2m0 0h2m0 0h2m1 0h2m0 0h2m8 0h2m1 0h2m3 0h2m2 0h2m0 0h2m0 0h2m10 0h2m2 0h2m20 0h2m1 0h2m-143 1h2m25 0h2m0 0h2m3 0h2m4 0h2m-1 0h2m-1 0h2m2 0h2m2 0h2m0 0h2m1 0h2m9 0h2m3 0h2m9 0h2m1 0h2m5 0h2m13 0h2m14 0h2m-114 1h2m20 0h2m0 0h2m4 0h2m8 0h2m2 0h2m-1 0h2m4 0h2m1 0h2m-1 0h2m-1 0h2m0 0h2m7 0h2m-1 0h2m11 0h2m14 0h2m5 0h2m15 0h2m-152 1h2m17 0h2m8 0h2m11 0h2m4 0h2m-2 0h2m10 0h2m0 0h2m0 0h2m2 0h2m1 0h2m19 0h2m13 0h2m0 0h2m22 0h2m12 0h2m-120 1h2m-1 0h2m4 0h2m15 0h2m5 0h2m2 0h2m-1 0h2m1 0h2m2 0h2m-1 0h2m-1 0h2m-2 0h2m0 0h2m0 0h2m-1 0h2m1 0h2m-2 0h2m4 0h2m-1 0h2m-1 0h2m3 0h2m1 0h2m1 0h2m0 0h2m3 0h2m24 0h2m-2 0h2m15 0h2m-1 0h2m1 0h2m-119 1h2m0 0h2m9 0h2m3 0h2m5 0h2m-1 0h2m-2 0h2m6 0h2m-1 0h2m8 0h2m-1 0h2m5 0h2m11 0h2m5 0h2m35 0h2m3 0h2m6 0h2m-2 0h2m-148 1h2m24 0h2m18 0h2m17 0h2m4 0h2m3 0h2m0 0h2m5 0h2m19 0h2m2 0h2m32 0h2m27 0h2m-148 1h2m8 0h2m1 0h2m4 0h2m10 0h2m0 0h2m5 0h2m18 0h2m2 0h2m2 0h2m3 0h2m-2 0h2m13 0h2m-1 0h2m7 0h2m-110 1h2m7 0h2m17 0h2m0 0h2m-1 0h2m1 0h2m5 0h2m0 0h2m5 0h2m-1 0h2m7 0h2m4 0h2m-1 0h2m1 0h2m2 0h2m10 0h2m0 0h2m-1 0h2m6 0h2m28 0h2m-132 1h2m3 0h2m13 0h2m-2 0h2m9 0h2m7 0h2m7 0h2m1 0h2m5 0h2m0 0h2m8 0h2m14 0h2m0 0h2m22 0h2m-108 1h2m3 0h2m0 0h2m-1 0h2m5 0h2m3 0h2m5 0h2m5 0h2m2 0h2m-2 0h2m-1 0h2m3 0h2m15 0h2m0 0h2m1 0h2m1 0h2m3 0h2m-2 0h2m1 0h2m1 0h2m-1 0h2m3 0h2m13 0h2m0 0h2m15 0h2m3 0h2m-155 1h2m29 0h2m4 0h2m3 0h2m1 0h2m7 0h2m2 0h2m1 0h2m0 0h2m1 0h2m-1 0h2m-2 0h2m34 0h2m8 0h2m63 0h2m-176 1h2m2 0h2m31 0h2m20 0h2m-1 0h2m-2 0h2m1 0h2m5 0h2m3 0h2m8 0h2m-1 0h2m7 0h2m35 0h2m30 0h2m-131 1h2m4 0h2m0 0h2m4 0h2m0 0h2m0 0h2m-1 0h2m5 0h2m13 0h2m11 0h2m5 0h2m18 0h2m15 0h2m30 0h2m1 0h2m-116 1h2m2 0h2m0 0h2m1 0h2m0 0h2m4 0h2m-1 0h2m7 0h2m13 0h2m-1 0h2m-1 0h2m3 0h2m14 0h2m10 0h2m-1 0h2m2 0h2m-110 1h2m3 0h2m8 0h2m0 0h2m4 0h2m4 0h2m0 0h2m1 0h2m4 0h2m1 0h2m0 0h2m2 0h2m-1 0h2m1 0h2m3 0h2m1 0h2m7 0h2m6 0h2m7 0h2m3 0h2m-1 0h2m8 0h2m64 0h2m-221 1h2m6 0h2m31 0h2m2 0h2m1 0h2m6 0h2m0 0h2m0 0h2m10 0h2m0 0h2m2 0h2m4 0h2m14 0h2m22 0h2m1 0h2m3 0h2m-1 0h2m-1 0h2m4 0h2m16 0h2m-106 1h2m4 0h2m17 0h2m8 0h2m-2 0h2m1 0h2m7 0h2m1 0h2m3 0h2m1 0h2m2 0h2m0 0h2m4 0h2m-1 0h2m-1 0h2m0 0h2m-1 0h2m20 0h2m7 0h2m0 0h2m8 0h2m-167 1h2m17 0h2m32 0h2m0 0h2m1 0h2m1 0h2m-1 0h2m5 0h2m-1 0h2m-1 0h2m7 0h2m5 0h2m9 0h2m0 0h2m2 0h2m-1 0h2m-2 0h2m0 0h2m-2 0h2m6 0h2m25 0h2m-119 1h2m5 0h2m10 0h2m4 0h2m-1 0h2m1 0h2m-1 0h2m7 0h2m1 0h2m0 0h2m-1 0h2m0 0h2m0 0h2m4 0h2m-2 0h2m18 0h2m6 0h2m4 0h2m0 0h2m-1 0h2m15 0h2m-105 1h2m12 0h2m7 0h2m9 0h2m0 0h2m14 0h2m2 0h2m35 0h2m9 0h2m15 0h2m6 0h2m-1 0h2m-166 1h2m23 0h2m23 0h2m8 0h2m2 0h2m1 0h2m12 0h2m5 0h2m0 0h2m5 0h2m-1 0h2m13 0h2m-2 0h2m0 0h2m20 0h2m7 0h2m40 0h2m-188 1h2m42 0h2m0 0h2m0 0h2m0 0h2m2 0h2m19 0h2m-2 0h2m2 0h2m10 0h2m4 0h2m2 0h2m1 0h2m3 0h2m7 0h2m19 0h2m14 0h2m-121 1h2m3 0h2m11 0h2m8 0h2m2 0h2m6 0h2m3 0h2m4 0h2m23 0h2m13 0h2m11 0h2m-127 1h2m31 0h2m-1 0h2m8 0h2m4 0h2m1 0h2m-1 0h2m2 0h2m1 0h2m-2 0h2m3 0h2m0 0h2m0 0h2m1 0h2m12 0h2m7 0h2m2 0h2m-1 0h2m9 0h2m7 0h2m9 0h2m4 0h2m-157 1h2m17 0h2m5 0h2m13 0h2m6 0h2m3 0h2m3 0h2m0 0h2m2 0h2m-1 0h2m2 0h2m-1 0h2m-1 0h2m3 0h2m0 0h2m17 0h2m0 0h2m-1 0h2m25 0h2m-2 0h2m-1 0h2m9 0h2m2 0h2m33 0h2m3 0h2m-161 1h2m1 0h2m3 0h2m6 0h2m19 0h2m-1 0h2m4 0h2m8 0h2m10 0h2m1 0h2m5 0h2m-1 0h2m16 0h2m0 0h2m3 0h2m13 0h2m6 0h2m38 0h2m9 0h2m-198 1h2m49 0h2m-1 0h2m5 0h2m0 0h2m-1 0h2m14 0h2m-1 0h2m-2 0h2m4 0h2m3 0h2m5 0h2m3 0h2m11 0h2m6 0h2m0 0h2m4 0h2m-127 1h2m44 0h2m2 0h2m10 0h2m-2 0h2m10 0h2m6 0h2m14 0h2m7 0h2m18 0h2m5 0h2m-2 0h2m17 0h2m22 0h2m-171 1h2m3 0h2m10 0h2m-1 0h2m7 0h2m2 0h2m4 0h2m8 0h2m11 0h2m3 0h2m-2 0h2m5 0h2m7 0h2m16 0h2m-1 0h2m5 0h2m6 0h2m3 0h2m6 0h2m9 0h2m0 0h2m-119 1h2m16 0h2m3 0h2m-2 0h2m2 0h2m-1 0h2m17 0h2m-1 0h2m2 0h2m0 0h2m6 0h2m4 0h2m2 0h2m2 0h2m20 0h2m0 0h2m22 0h2m8 0h2m-1 0h2m-150 1h2m8 0h2m3 0h2m8 0h2m0 0h2m1 0h2m3 0h2m11 0h2m2 0h2m3 0h2m2 0h2m6 0h2m2 0h2m20 0h2m5 0h2m0 0h2m1 0h2m13 0h2m4 0h2m-126 1h2m8 0h2m9 0h2m6 0h2m4 0h2m11 0h2m3 0h2m-2 0h2m-1 0h2m-1 0h2m14 0h2m0 0h2m3 0h2m3 0h2m2 0h2m9 0h2m2 0h2m-1 0h2m1 0h2m-2 0h2m6 0h2m8 0h2m15 0h2m3 0h2m12 0h2m-147 1h2m17 0h2m2 0h2m-1 0h2m-1 0h2m1 0h2m7 0h2m-1 0h2m30 0h2m-1 0h2m10 0h2m28 0h2m-1 0h2m32 0h2m-193 1h2m22 0h2m17 0h2m3 0h2m3 0h2m6 0h2m0 0h2m7 0h2m34 0h2m15 0h2m-1 0h2m0 0h2m40 0h2m1 0h2m14 0h2m6 0h2m12 0h2m-197 1h2m25 0h2m4 0h2m17 0h2m0 0h2m0 0h2m4 0h2m15 0h2m1 0h2m3 0h2m0 0h2m-2 0h2m21 0h2m5 0h2m8 0h2m99 0h2m-259 1h2m55 0h2m8 0h2m4 0h2m1 0h2m2 0h2m1 0h2m2 0h2m-1 0h2m3 0h2m-1 0h2m1 0h2m6 0h2m11 0h2m11 0h2m5 0h2m8 0h2m1 0h2m60 0h2m2 0h2m-204 1h2m3 0h2m37 0h2m-1 0h2m1 0h2m0 0h2m12 0h2m2 0h2m0 0h2m-1 0h2m-2 0h2m7 0h2m2 0h2m5 0h2m4 0h2m4 0h2m4 0h2m4 0h2m-2 0h2m2 0h2m2 0h2m1 0h2m19 0h2m66 0h2m-247 1h2m35 0h2m22 0h2m19 0h2m7 0h2m-2 0h2m12 0h2m7 0h2m10 0h2m4 0h2m-1 0h2m-2 0h2m-1 0h2m39 0h2m2 0h2m21 0h2m-186 1h2m33 0h2m4 0h2m3 0h2m4 0h2m2 0h2m2 0h2m-1 0h2m1 0h2m14 0h2m1 0h2m-1 0h2m-1 0h2m1 0h2m10 0h2m-2 0h2m1 0h2m3 0h2m10 0h2m-1 0h2m3 0h2m-1 0h2m1 0h2m6 0h2m1 0h2m2 0h2m17 0h2m-1 0h2m73 0h2m-239 1h2m18 0h2m22 0h2m1 0h2m20 0h2m3 0h2m18 0h2m0 0h2m7 0h2m-1 0h2m0 0h2m3 0h2m5 0h2m13 0h2m3 0h2m-1 0h2m-1 0h2m25 0h2m42 0h2m-232 1h2m11 0h2m6 0h2m-1 0h2m39 0h2m5 0h2m7 0h2m0 0h2m-2 0h2m8 0h2m5 0h2m-1 0h2m-1 0h2m-1 0h2m-1 0h2m29 0h2m4 0h2m6 0h2m14 0h2m10 0h2m5 0h2m-148 1h2m30 0h2m0 0h2m1 0h2m3 0h2m15 0h2m7 0h2m12 0h2m5 0h2m3 0h2m11 0h2m3 0h2m21 0h2m0 0h2m28 0h2m36 0h2m-199 1h2m5 0h2m5 0h2m24 0h2m5 0h2m1 0h2m-1 0h2m2 0h2m8 0h2m24 0h2m8 0h2m5 0h2m23 0h2m-171 1h2m2 0h2m33 0h2m0 0h2m5 0h2m4 0h2m1 0h2m16 0h2m8 0h2m-1 0h2m1 0h2m0 0h2m8 0h2m11 0h2m13 0h2m11 0h2m11 0h2m3 0h2m38 0h2m-188 1h2m12 0h2m0 0h2m1 0h2m0 0h2m-1 0h2m5 0h2m9 0h2m4 0h2m25 0h2m-2 0h2m2 0h2m0 0h2m7 0h2m0 0h2m9 0h2m12 0h2m6 0h2m7 0h2m10 0h2m4 0h2m24 0h2m-153 1h2m-2 0h2m2 0h2m30 0h2m-1 0h2m-2 0h2m16 0h2m7 0h2m64 0h2m-127 1h2m1 0h2m4 0h2m26 0h2m16 0h2m33 0h2m11 0h2m0 0h2m-2 0h2m6 0h2m7 0h2m9 0h2m-163 1h2m13 0h2m6 0h2m0 0h2m2 0h2m2 0h2m11 0h2m3 0h2m4 0h2m0 0h2m4 0h2m1 0h2m4 0h2m-1 0h2m0 0h2m4 0h2m0 0h2m10 0h2m0 0h2m11 0h2m0 0h2m7 0h2m2 0h2m-1 0h2m4 0h2m2 0h2m17 0h2m41 0h2m-198 1h2m15 0h2m6 0h2m13 0h2m-1 0h2m19 0h2m1 0h2m-1 0h2m27 0h2m12 0h2m15 0h2m4 0h2m-1 0h2m-119 1h2m6 0h2m16 0h2m16 0h2m9 0h2m1 0h2m3 0h2m58 0h2m2 0h2m36 0h2m49 0h2m-263 1h2m20 0h2m20 0h2m6 0h2m1 0h2m17 0h2m3 0h2m4 0h2m-1 0h2m0 0h2m0 0h2m6 0h2m12 0h2m13 0h2m7 0h2m1 0h2m0 0h2m2 0h2m13 0h2m5 0h2m19 0h2m2 0h2m17 0h2m-176 1h2m17 0h2m-1 0h2m6 0h2m4 0h2m23 0h2m-1 0h2m2 0h2m1 0h2m14 0h2m10 0h2m2 0h2m23 0h2m-110 1h2m7 0h2m22 0h2m8 0h2m35 0h2m8 0h2m1 0h2m8 0h2m22 0h2m15 0h2m31 0h2m-207 1h2m39 0h2m14 0h2m19 0h2m2 0h2m48 0h2m15 0h2m18 0h2m10 0h2m36 0h2m-240 1h2m34 0h2m13 0h2m10 0h2m12 0h2m2 0h2m18 0h2m18 0h2m-1 0h2m-1 0h2m-1 0h2m10 0h2m12 0h2m4 0h2m0 0h2m36 0h2m47 0h2m-193 1h2m1 0h2m-1 0h2m8 0h2m21 0h2m8 0h2m11 0h2m2 0h2m6 0h2m1 0h2m-2 0h2m19 0h2m18 0h2m-134 1h2m40 0h2m0 0h2m-1 0h2m7 0h2m11 0h2m33 0h2m-1 0h2m11 0h2m3 0h2m27 0h2m3 0h2m-151 1h2m23 0h2m27 0h2m12 0h2m27 0h2m8 0h2m-81 1h2m5 0h2m-1 0h2m17 0h2m7 0h2m8 0h2m-1 0h2m35 0h2m16 0h2m-127 1h2m38 0h2m-1 0h2m8 0h2m36 0h2m17 0h2m-1 0h2m6 0h2m12 0h2m51 0h2m39 0h2m-170 1h2m6 0h2m4 0h2m0 0h2m13 0h2m61 0h2m-262 1h2m119 0h2m26 0h2m9 0h2m5 0h2m-1 0h2m10 0h2m21 0h2m7 0h2m15 0h2m-108 1h2m15 0h2m-1 0h2m-2 0h2m19 0h2m-1 0h2m0 0h2m12 0h2m20 0h2m24 0h2m87 0h2m-244 1h2m20 0h2m7 0h2m4 0h2m2 0h2m16 0h2m0 0h2m10 0h2m3 0h2m42 0h2m0 0h2m8 0h2m-177 1h2m113 0h2m9 0h2m-2 0h2m4 0h2m-1 0h2m44 0h2m19 0h2m12 0h2m10 0h2m45 0h2m-206 1h2m5 0h2m58 0h2m14 0h2m9 0h2m13 0h2m-1 0h2m11 0h2m2 0h2m-112 1h2m28 0h2m1 0h2m4 0h2m12 0h2m114 0h2m-220 1h2m43 0h2m69 0h2m1 0h2m-71 1h2m15 0h2m57 0h2m37 0h2m1 0h2m-71 1h2m97 0h2m-248 1h2m59 0h2m85 0h2m103 0h2m-115 1h2m45 0h2m16 0h2m91 0h2m-161 1h2" stroke="#000" stroke-opacity="0.58" stroke-width="2" transform="scale(.5)"/>
<line x1="295.8" y1="150.0" x2="469.6" y2="150.0" stroke="#555" stroke-width="1.1" stroke-dasharray="1.2 1.35"/>
<line x1="295.8" y1="150.0" x2="295.8" y2="236.6" stroke="#555" stroke-width="1.1" stroke-dasharray="1.2 1.35"/>
<line x1="469.6" y1="150.0" x2="469.6" y2="236.6" stroke="#555" stroke-width="1.1" stroke-dasharray="1.2 1.35"/>
<line x1="295.8" y1="236.6" x2="469.6" y2="236.6" stroke="#9a9e9e" stroke-width="1.5"/>
<line x1="382.70000000000005" y1="150.0" x2="382.70000000000005" y2="236.6" stroke="#8fb0b0" stroke-width="1.3"/>
<line x1="328.8" y1="178.7" x2="436.8" y2="178.7" stroke="#97abab" stroke-width="1.6"/>
<path d="M325.1 178.7 l7 -3.3 v6.6z" fill="#97abab"/>
<path d="M440.5 178.7 l-7 -3.3 v6.6z" fill="#97abab"/>
<path d="M382.70000000000005 165.2 l-3.2 7 h6.4z" fill="#97abab"/>
<text x="382.70000000000005" y="156.0" font-size="6.3" text-anchor="middle" font-weight="bold" font-style="normal" fill="#97abab" >Activation</text>
<text x="382.70000000000005" y="162.4" font-size="6.3" text-anchor="middle" font-weight="bold" font-style="normal" fill="#97abab" >level</text>
<text x="308.3" y="184.5" font-size="6.3" text-anchor="start" font-weight="bold" font-style="normal" fill="#97abab" >Low</text>
<text x="310.3" y="191.2" font-size="6.3" text-anchor="start" font-weight="bold" font-style="normal" fill="#97abab" >frequencies</text>
<text x="455.5" y="185.2" font-size="6.3" text-anchor="end" font-weight="bold" font-style="normal" fill="#97abab" >High</text>
<text x="455.5" y="191.4" font-size="6.3" text-anchor="end" font-weight="bold" font-style="normal" fill="#97abab" >frequencies</text>
<text x="382.70000000000005" y="145.0" font-size="10" text-anchor="middle" font-weight="bold" font-style="normal" fill="#111" stroke="#111" stroke-width="0.3" >Patients</text>
<text x="295.8" y="151.2" font-size="8.0" text-anchor="end" font-weight="normal" font-style="normal" fill="#262626" stroke="#262626" stroke-width="0.3" >1.0</text>
<text x="295.8" y="238.6" font-size="8.0" text-anchor="end" font-weight="normal" font-style="normal" fill="#262626" stroke="#262626" stroke-width="0.3" >0.0</text>
<text x="294.8" y="245.6" font-size="8.0" text-anchor="middle" font-weight="normal" font-style="normal" fill="#262626" stroke="#262626" stroke-width="0.3" >−1.0</text>
<text x="382.70000000000005" y="244.6" font-size="8.0" text-anchor="middle" font-weight="normal" font-style="normal" fill="#262626" stroke="#262626" stroke-width="0.3" >0</text>
<text x="469.6" y="244.6" font-size="8.0" text-anchor="middle" font-weight="normal" font-style="normal" fill="#262626" stroke="#262626" stroke-width="0.3" >1.0</text>
<text x="373.50000000000006" y="254.8" font-size="9.3" font-weight="bold" font-style="italic" fill="#222">x<tspan font-size="5.2" dy="2" font-style="normal">2</tspan><tspan dy="-1.6">/x</tspan><tspan font-size="5.2" dy="2" font-style="normal">1</tspan></text>
<text transform="translate(285.3 193.3) rotate(-90)" font-size="10.5" text-anchor="middle" font-weight="bold" font-style="italic" fill="#111">x<tspan font-size="5" dy="1.8" font-style="normal">1</tspan></text>
<path d="M205 573h2m73 6h2m-112 5h2m3 3h2m31 2h2m25 2h2m-100 2h2m73 0h2m-56 4h2m26 5h2m70 2h2m21 0h2m-86 2h2m68 0h2m-169 4h2m39 1h2m84 0h2m-94 4h2m82 3h2m65 1h2m-41 3h2m-93 1h2m17 0h2m3 0h2m-27 1h2m-27 2h2m3 0h2m36 1h2m9 0h2m25 1h2m-80 1h2m65 0h2m-22 2h2m73 0h2m-35 1h2m-43 1h2m6 0h2m-9 1h2m47 0h2m-9 1h2m-76 1h2m-55 2h2m16 0h2m35 0h2m30 0h2m-30 2h2m18 0h2m56 0h2m-138 1h2m20 0h2m15 0h2m62 0h2m43 0h2m-136 1h2m49 0h2m40 0h2m-32 1h2m4 1h2m-47 1h2m69 2h2m2 0h2m-3 1h2m13 0h2m-51 1h2m102 0h2m-139 1h2m-1 1h2m-10 1h2m24 0h2m77 0h2m-110 1h2m56 1h2m62 0h2m-127 1h2m13 0h2m2 0h2m22 0h2m-48 1h2m43 0h2m63 0h2m-88 1h2m20 0h2m62 0h2m-111 1h2m-49 1h2m59 0h2m93 0h2m-123 1h2m52 0h2m55 1h2m3 0h2m-90 1h2m73 2h2m-70 1h2m55 0h2m-107 1h2m53 0h2m20 0h2m7 0h2m28 1h2m-56 2h2m8 0h2m-28 1h2m0 0h2m76 0h2m-103 1h2m4 0h2m3 0h2m21 0h2m20 0h2m16 0h2m-102 1h2m19 1h2m17 0h2m7 0h2m-57 1h2m40 0h2m9 0h2m13 0h2m13 0h2m-67 1h2m21 0h2m12 0h2m7 0h2m57 0h2m-113 1h2m24 0h2m10 0h2m8 0h2m60 0h2m-96 1h2m18 0h2m8 0h2m49 0h2m-107 1h2m23 0h2m26 0h2m-55 1h2m9 0h2m70 1h2m-73 1h2m11 0h2m13 1h2m4 0h2m10 0h2m16 0h2m5 0h2m24 0h2m-1 0h2m1 0h2m-59 1h2m20 0h2m-53 1h2m24 0h2m1 0h2m-1 0h2m16 0h2m-47 1h2m15 0h2m11 0h2m-47 1h2m34 0h2m26 0h2m45 0h2m-122 1h2m4 0h2m0 0h2m10 0h2m6 0h2m41 0h2m54 0h2m-133 1h2m9 0h2m15 0h2m53 0h2m0 0h2m-36 1h2m23 0h2m2 0h2m-42 1h2m0 0h2m3 0h2m53 0h2m-97 1h2m15 0h2m27 0h2m13 0h2m-60 1h2m29 0h2m31 0h2m-58 1h2m22 0h2m15 0h2m-89 1h2m-1 0h2m45 0h2m12 0h2m4 0h2m7 0h2m12 0h2m3 0h2m38 0h2m-65 1h2m8 0h2m37 0h2m46 0h2m-165 1h2m28 0h2m10 0h2m10 0h2m4 0h2m1 0h2m22 0h2m42 0h2m-123 1h2m1 0h2m3 0h2m8 0h2m36 0h2m6 0h2m2 0h2m-49 1h2m15 0h2m48 0h2m-77 1h2m-1 0h2m0 0h2m40 0h2m11 0h2m17 0h2m58 0h2m-124 1h2m16 0h2m-49 1h2m17 0h2m12 0h2m-1 0h2m10 0h2m1 0h2m-1 0h2m-1 0h2m14 0h2m78 0h2m-155 1h2m1 0h2m20 0h2m9 0h2m6 0h2m1 0h2m1 0h2m12 0h2m32 0h2m-113 1h2m106 0h2m74 0h2m-153 1h2m8 0h2m8 0h2m1 0h2m3 0h2m-14 1h2m1 0h2m47 0h2m0 0h2m-73 1h2m11 0h2m-1 0h2m26 0h2m0 0h2m47 0h2m2 0h2m-118 1h2m16 0h2m3 0h2m38 0h2m3 0h2m2 0h2m21 0h2m-86 1h2m20 0h2m20 0h2m12 0h2m1 0h2m5 0h2m32 0h2m-75 1h2m7 0h2m12 0h2m3 0h2m-54 1h2m3 0h2m26 0h2m3 0h2m2 0h2m12 0h2m19 0h2m10 0h2m-97 1h2m21 0h2m1 0h2m17 0h2m7 0h2m0 0h2m-1 0h2m2 0h2m39 0h2m-58 1h2m9 0h2m1 0h2m20 0h2m-43 1h2m-34 1h2m33 0h2m53 0h2m-105 1h2m35 0h2m19 0h2m1 0h2m12 0h2m1 0h2m5 0h2m-88 1h2m2 0h2m21 0h2m5 0h2m0 0h2m-2 0h2m0 0h2m11 0h2m10 0h2m-54 1h2m14 0h2m55 0h2m-67 1h2m2 0h2m0 0h2m9 0h2m12 0h2m0 0h2m-69 1h2m17 0h2m0 0h2m9 0h2m8 0h2m1 0h2m15 0h2m-1 0h2m-48 1h2m18 0h2m4 0h2m-1 0h2m9 0h2m6 0h2m-1 0h2m-71 1h2m20 0h2m-1 0h2m15 0h2m4 0h2m8 0h2m1 0h2m0 0h2m-2 0h2m34 0h2m-73 1h2m-1 0h2m9 0h2m2 0h2m1 0h2m5 0h2m-1 0h2m1 0h2m0 0h2m3 0h2m14 0h2m-72 1h2m26 0h2m-1 0h2m-1 0h2m5 0h2m-28 1h2m5 0h2m1 0h2m8 0h2m1 0h2m7 0h2m-1 0h2m22 0h2m-1 0h2m8 0h2m2 0h2m1 0h2m38 0h2m32 0h2m-162 1h2m13 0h2m2 0h2m5 0h2m23 0h2m4 0h2m2 0h2m-1 0h2m10 0h2m8 0h2m-1 0h2m0 0h2m68 0h2m-154 1h2m1 0h2m1 0h2m14 0h2m8 0h2m10 0h2m6 0h2m1 0h2m-1 0h2m1 0h2m-1 0h2m2 0h2m36 0h2m1 0h2m-110 1h2m2 0h2m-1 0h2m30 0h2m12 0h2m2 0h2m0 0h2m10 0h2m-55 1h2m5 0h2m8 0h2m23 0h2m7 0h2m-1 0h2m3 0h2m-79 1h2m5 0h2m2 0h2m3 0h2m9 0h2m2 0h2m7 0h2m4 0h2m0 0h2m-2 0h2m11 0h2m2 0h2m2 0h2m3 0h2m22 0h2m4 0h2m-84 1h2m29 0h2m0 0h2m9 0h2m-66 1h2m1 0h2m6 0h2m2 0h2m39 0h2m1 0h2m0 0h2m13 0h2m11 0h2m-63 1h2m-2 0h2m3 0h2m7 0h2m-1 0h2m21 0h2m3 0h2m2 0h2m0 0h2m-77 1h2m1 0h2m1 0h2m15 0h2m2 0h2m2 0h2m10 0h2m6 0h2m36 0h2m17 0h2m-127 1h2m38 0h2m5 0h2m0 0h2m12 0h2m1 0h2m5 0h2m-1 0h2m34 0h2m14 0h2m9 0h2m-118 1h2m13 0h2m8 0h2m9 0h2m6 0h2m4 0h2m4 0h2m2 0h2m13 0h2m-77 1h2m4 0h2m14 0h2m-1 0h2m-1 0h2m6 0h2m4 0h2m3 0h2m5 0h2m2 0h2m5 0h2m7 0h2m-89 1h2m6 0h2m14 0h2m6 0h2m1 0h2m3 0h2m11 0h2m39 0h2m0 0h2m34 0h2m26 0h2m-154 1h2m9 0h2m5 0h2m28 0h2m2 0h2m9 0h2m0 0h2m0 0h2m3 0h2m-66 1h2m6 0h2m2 0h2m2 0h2m-1 0h2m4 0h2m5 0h2m-1 0h2m11 0h2m13 0h2m11 0h2m2 0h2m-1 0h2m-1 0h2m-84 1h2m13 0h2m6 0h2m8 0h2m0 0h2m18 0h2m4 0h2m14 0h2m1 0h2m-81 1h2m4 0h2m5 0h2m8 0h2m0 0h2m2 0h2m-2 0h2m4 0h2m24 0h2m-1 0h2m-66 1h2m6 0h2m3 0h2m2 0h2m5 0h2m-2 0h2m6 0h2m-1 0h2m1 0h2m8 0h2m23 0h2m5 0h2m5 0h2m11 0h2m27 0h2m-135 1h2m15 0h2m9 0h2m12 0h2m1 0h2m-1 0h2m0 0h2m4 0h2m16 0h2m10 0h2m6 0h2m10 0h2m4 0h2m-99 1h2m9 0h2m-1 0h2m10 0h2m-1 0h2m0 0h2m10 0h2m46 0h2m-97 1h2m11 0h2m9 0h2m2 0h2m4 0h2m10 0h2m9 0h2m-62 1h2m2 0h2m2 0h2m17 0h2m-2 0h2m1 0h2m1 0h2m-1 0h2m2 0h2m0 0h2m3 0h2m-2 0h2m0 0h2m5 0h2m-2 0h2m10 0h2m0 0h2m6 0h2m62 0h2m-146 1h2m10 0h2m3 0h2m14 0h2m0 0h2m1 0h2m2 0h2m14 0h2m-56 1h2m16 0h2m3 0h2m2 0h2m-1 0h2m-1 0h2m-2 0h2m-1 0h2m11 0h2m0 0h2m4 0h2m9 0h2m3 0h2m9 0h2m-70 1h2m0 0h2m-1 0h2m1 0h2m0 0h2m0 0h2m1 0h2m2 0h2m-2 0h2m0 0h2m0 0h2m-1 0h2m-1 0h2m-1 0h2m3 0h2m20 0h2m0 0h2m-2 0h2m15 0h2m-65 1h2m-1 0h2m1 0h2m-1 0h2m3 0h2m6 0h2m50 0h2m25 0h2m-123 1h2m5 0h2m7 0h2m-1 0h2m0 0h2m4 0h2m1 0h2m-2 0h2m2 0h2m-1 0h2m0 0h2m0 0h2m-2 0h2m-1 0h2m2 0h2m5 0h2m32 0h2m28 0h2m-104 1h2m10 0h2m0 0h2m-2 0h2m-2 0h2m4 0h2m-1 0h2m-1 0h2m9 0h2m7 0h2m20 0h2m-1 0h2m-76 1h2m3 0h2m13 0h2m1 0h2m1 0h2m5 0h2m1 0h2m2 0h2m-2 0h2m4 0h2m4 0h2m33 0h2m9 0h2m40 0h2m-134 1h2m2 0h2m0 0h2m-1 0h2m-2 0h2m-1 0h2m3 0h2m-2 0h2m2 0h2m3 0h2m-2 0h2m3 0h2m-1 0h2m0 0h2m-1 0h2m1 0h2m0 0h2m1 0h2m15 0h2m39 0h2m8 0h2m-103 1h2m3 0h2m5 0h2m2 0h2m1 0h2m4 0h2m2 0h2m-2 0h2m-2 0h2m8 0h2m2 0h2m-1 0h2m-2 0h2m2 0h2m10 0h2m-71 1h2m4 0h2m-1 0h2m0 0h2m-1 0h2m0 0h2m1 0h2m3 0h2m-2 0h2m-1 0h2m-1 0h2m0 0h2m4 0h2m1 0h2m5 0h2m3 0h2m-41 1h2m0 0h2m7 0h2m2 0h2m-2 0h2m-2 0h2m0 0h2m0 0h2m2 0h2m3 0h2m4 0h2m0 0h2m1 0h2m0 0h2m1 0h2m8 0h2m2 0h2m4 0h2m0 0h2m66 0h2m-144 1h2m1 0h2m-1 0h2m0 0h2m1 0h2m-2 0h2m2 0h2m-2 0h2m7 0h2m7 0h2m0 0h2m1 0h2m-2 0h2m6 0h2m1 0h2m4 0h2m-56 1h2m1 0h2m2 0h2m-2 0h2m2 0h2m-2 0h2m5 0h2m2 0h2m3 0h2m6 0h2m0 0h2m-1 0h2m-1 0h2m17 0h2m-65 1h2m13 0h2m6 0h2m-1 0h2m-1 0h2m-1 0h2m4 0h2m0 0h2m7 0h2m0 0h2m-1 0h2m-1 0h2m5 0h2m5 0h2m9 0h2m-67 1h2m2 0h2m2 0h2m-1 0h2m1 0h2m1 0h2m0 0h2m-2 0h2m-2 0h2m1 0h2m-2 0h2m0 0h2m-2 0h2m-2 0h2m0 0h2m0 0h2m-2 0h2m0 0h2m-2 0h2m-1 0h2m2 0h2m12 0h2m-2 0h2m0 0h2m10 0h2m19 0h2m2 0h2m27 0h2m-108 1h2m-2 0h2m1 0h2m-1 0h2m1 0h2m-2 0h2m0 0h2m0 0h2m-2 0h2m-1 0h2m0 0h2m-1 0h2m-1 0h2m-1 0h2m-1 0h2m-1 0h2m0 0h2m1 0h2m0 0h2m-1 0h2m1 0h2m-1 0h2m1 0h2m6 0h2m7 0h2m-53 1h2m7 0h2m-2 0h2m-1 0h2m1 0h2m-1 0h2m5 0h2m1 0h2m2 0h2m2 0h2m31 0h2m-2 0h2m-83 1h2m3 0h2m2 0h2m0 0h2m-2 0h2m-2 0h2m1 0h2m-1 0h2m-2 0h2m1 0h2m-1 0h2m-2 0h2m0 0h2m-2 0h2m1 0h2m-2 0h2m0 0h2m-1 0h2m-2 0h2m2 0h2m-1 0h2m0 0h2m-2 0h2m-2 0h2m-1 0h2m0 0h2m-2 0h2m-1 0h2m-1 0h2m-1 0h2m0 0h2m4 0h2m10 0h2m10 0h2m-72 1h2m4 0h2m-2 0h2m-1 0h2m3 0h2m3 0h2m3 0h2m0 0h2m0 0h2m0 0h2m0 0h2m1 0h2m-2 0h2m-1 0h2m8 0h2m-1 0h2m14 0h2m-55 1h2m5 0h2m-1 0h2m0 0h2m-1 0h2m-1 0h2m-2 0h2m3 0h2m-2 0h2m2 0h2m-2 0h2m2 0h2m-1 0h2m3 0h2m2 0h2m3 0h2m10 0h2m-62 1h2m4 0h2m-1 0h2m0 0h2m-1 0h2m-1 0h2m0 0h2m-2 0h2m1 0h2m-1 0h2m-2 0h2m1 0h2m-1 0h2m-1 0h2m-1 0h2m-1 0h2m3 0h2m-1 0h2m3 0h2m-2 0h2m7 0h2m0 0h2m2 0h2m14 0h2m1 0h2m15 0h2m-82 1h2m-1 0h2m2 0h2m6 0h2m5 0h2m-2 0h2m-2 0h2m1 0h2m-2 0h2m-1 0h2m3 0h2m5 0h2m18 0h2m7 0h2m8 0h2m-83 1h2m4 0h2m-2 0h2m-1 0h2m-1 0h2m2 0h2m-1 0h2m-1 0h2m0 0h2m-2 0h2m0 0h2m-2 0h2m-1 0h2m-1 0h2m-1 0h2m1 0h2m-2 0h2m-1 0h2m0 0h2m5 0h2m5 0h2m-1 0h2m-2 0h2m14 0h2m-57 1h2m3 0h2m-1 0h2m-2 0h2m6 0h2m-2 0h2m-1 0h2m6 0h2m-1 0h2m-2 0h2m2 0h2m14 0h2m7 0h2m2 0h2m19 0h2m-83 1h2m1 0h2m0 0h2m-1 0h2m-2 0h2m-1 0h2m5 0h2m-2 0h2m-1 0h2m-2 0h2m-1 0h2m-1 0h2m0 0h2m-1 0h2m-2 0h2m2 0h2m1 0h2m-2 0h2m0 0h2m2 0h2m4 0h2m4 0h2m1 0h2m2 0h2m19 0h2m8 0h2m-84 1h2m4 0h2m4 0h2m1 0h2m-2 0h2m-2 0h2m7 0h2m-1 0h2m2 0h2m13 0h2m-2 0h2m-1 0h2m-1 0h2m10 0h2m-49 1h2m-2 0h2m6 0h2m-1 0h2m1 0h2m-2 0h2m6 0h2m10 0h2m14 0h2m38 0h2m-100 1h2m5 0h2m2 0h2m0 0h2m-1 0h2m0 0h2m-1 0h2m0 0h2m-1 0h2m-1 0h2m-1 0h2m-2 0h2m1 0h2m1 0h2m12 0h2m-41 1h2m-2 0h2m5 0h2m-2 0h2m-1 0h2m2 0h2m-1 0h2m0 0h2m0 0h2m-1 0h2m8 0h2m-1 0h2m17 0h2m22 0h2m30 0h2m-109 1h2m1 0h2m-2 0h2m0 0h2m6 0h2m2 0h2m-2 0h2m0 0h2m-1 0h2m-1 0h2m2 0h2m0 0h2m5 0h2m2 0h2m2 0h2m-2 0h2m15 0h2m-59 1h2m6 0h2m3 0h2m0 0h2m0 0h2m0 0h2m-2 0h2m2 0h2m0 0h2m1 0h2m1 0h2m0 0h2m-1 0h2m0 0h2m7 0h2m29 0h2m-84 1h2m8 0h2m0 0h2m-1 0h2m-1 0h2m-1 0h2m3 0h2m0 0h2m0 0h2m0 0h2m0 0h2m0 0h2m15 0h2m1 0h2m-35 1h2m-1 0h2m-1 0h2m3 0h2m-1 0h2m-1 0h2m1 0h2m2 0h2m81 0h2m-118 1h2m8 0h2m0 0h2m3 0h2m-2 0h2m-1 0h2m-1 0h2m0 0h2m6 0h2m1 0h2m40 0h2m-75 1h2m3 0h2m-1 0h2m1 0h2m-2 0h2m19 0h2m-23 1h2m2 0h2m0 0h2m18 0h2m1 0h2m7 0h2m2 0h2m12 0h2m-70 1h2m1 0h2m9 0h2m8 0h2m4 0h2m-1 0h2m1 0h2m-33 1h2m-1 0h2m2 0h2m2 0h2m0 0h2m2 0h2m6 0h2m23 0h2m9 0h2m-52 1h2m-1 0h2m1 0h2m18 0h2m-1 0h2m2 0h2m34 0h2m-77 1h2m14 0h2m1 0h2m42 0h2m5 0h2m4 0h2m-73 1h2m1 0h2m4 0h2m-1 0h2m6 0h2m23 0h2m-49 1h2m6 0h2m5 0h2m3 0h2m0 0h2m1 0h2m13 0h2m31 0h2m-50 1h2m-1 0h2m-2 0h2m14 0h2m4 0h2m-27 1h2m14 0h2m18 0h2m-37 1h2m7 0h2m12 0h2m9 0h2m-54 1h2m30 0h2m20 0h2m-56 1h2m6 0h2m24 0h2m-24 1h2m21 0h2m-42 1h2m-1 0h2m22 0h2m4 0h2m-23 1h2m0 0h2m37 1h2m-46 1h2m60 0h2" stroke="#000" stroke-opacity="0.34" stroke-width="2" transform="scale(.5)"/>
<path d="M282 568h2m-77 2h2m10 0h2m44 2h2m-125 3h2m91 12h2m-2 2h2m-69 3h2m-25 1h2m55 1h2m33 1h2m17 2h2m-27 1h2m-26 1h2m74 0h2m-60 4h2m-38 5h2m35 0h2m-43 1h2m-6 4h2m91 0h2m-56 1h2m20 0h2m-77 1h2m86 1h2m-128 1h2m111 1h2m-52 4h2m28 4h2m-62 1h2m-14 1h2m13 1h2m-20 2h2m12 0h2m95 0h2m-109 2h2m22 0h2m16 0h2m-7 1h2m7 0h2m3 0h2m-14 4h2m-60 2h2m27 1h2m-35 4h2m15 0h2m39 1h2m-60 1h2m41 0h2m0 0h2m-31 1h2m21 0h2m15 0h2m15 0h2m-1 0h2m-15 1h2m-12 2h2m52 2h2m-40 1h2m-99 1h2m54 0h2m24 0h2m7 0h2m24 0h2m-74 1h2m-14 1h2m35 1h2m-18 1h2m3 1h2m1 0h2m2 0h2m15 1h2m-81 1h2m48 0h2m22 0h2m2 0h2m-48 1h2m16 0h2m85 0h2m-88 1h2m60 0h2m-108 1h2m16 0h2m69 0h2m-23 1h2m13 0h2m27 0h2m-81 1h2m16 0h2m32 0h2m-48 2h2m17 0h2m34 0h2m79 0h2m-149 1h2m12 0h2m23 0h2m12 0h2m-95 1h2m20 0h2m-2 0h2m64 0h2m-43 1h2m20 0h2m-25 1h2m-14 1h2m30 0h2m0 0h2m-1 0h2m35 0h2m-67 1h2m12 0h2m19 0h2m4 0h2m4 0h2m39 0h2m5 0h2m-134 1h2m48 0h2m74 0h2m-142 1h2m42 0h2m15 0h2m79 0h2m-139 1h2m59 0h2m9 0h2m0 0h2m7 0h2m14 0h2m12 1h2m1 0h2m-57 1h2m23 0h2m-101 1h2m61 0h2m12 0h2m37 0h2m-50 1h2m-72 1h2m14 0h2m13 0h2m11 0h2m18 0h2m10 0h2m19 0h2m37 0h2m-116 1h2m30 0h2m27 0h2m3 0h2m9 0h2m1 0h2m-86 1h2m15 0h2m3 0h2m38 0h2m70 0h2m-160 1h2m58 0h2m26 0h2m2 0h2m-44 1h2m11 0h2m5 0h2m1 0h2m42 0h2m-64 1h2m2 0h2m11 0h2m20 0h2m30 0h2m32 0h2m-140 1h2m19 0h2m1 0h2m14 0h2m33 0h2m15 0h2m71 0h2m-177 1h2m47 0h2m23 0h2m26 0h2m2 0h2m4 0h2m-58 1h2m6 0h2m13 0h2m-41 1h2m12 0h2m1 0h2m29 0h2m-68 1h2m31 0h2m10 0h2m-36 1h2m10 0h2m-1 0h2m-1 0h2m1 0h2m18 1h2m28 0h2m3 0h2m-22 1h2m-1 0h2m76 0h2m17 0h2m-177 1h2m44 0h2m31 0h2m-61 1h2m17 0h2m17 0h2m3 0h2m5 0h2m71 0h2m-142 1h2m2 0h2m10 0h2m8 0h2m10 0h2m16 0h2m5 0h2m17 0h2m-14 1h2m5 0h2m77 0h2m-103 1h2m54 0h2m-99 1h2m5 0h2m29 0h2m34 0h2m18 0h2m-118 1h2m20 0h2m2 0h2m1 0h2m6 0h2m12 0h2m14 0h2m8 0h2m3 0h2m-74 1h2m2 0h2m9 0h2m13 0h2m27 1h2m-69 1h2m8 0h2m87 0h2m14 0h2m-111 1h2m11 0h2m4 0h2m3 0h2m22 0h2m19 0h2m7 0h2m-30 1h2m7 0h2m10 0h2m10 0h2m-95 1h2m17 0h2m28 0h2m6 0h2m-1 0h2m21 0h2m2 0h2m66 0h2m-153 1h2m13 0h2m1 0h2m3 0h2m-2 0h2m13 0h2m15 0h2m31 0h2m35 0h2m-118 1h2m4 0h2m17 0h2m7 0h2m1 0h2m1 0h2m1 0h2m41 0h2m-88 1h2m13 0h2m2 0h2m14 0h2m6 0h2m2 0h2m0 0h2m0 0h2m-1 0h2m93 0h2m-124 1h2m21 0h2m7 0h2m0 0h2m14 0h2m1 0h2m-74 1h2m26 0h2m27 0h2m12 0h2m3 0h2m12 0h2m34 0h2m-106 1h2m14 0h2m10 0h2m15 0h2m0 0h2m85 0h2m-165 1h2m19 0h2m2 0h2m-2 0h2m-2 0h2m3 0h2m22 0h2m-2 0h2m67 0h2m-129 1h2m7 0h2m-1 0h2m10 0h2m24 0h2m22 0h2m-79 1h2m1 0h2m11 0h2m13 0h2m5 0h2m4 0h2m-1 0h2m0 0h2m11 0h2m-1 0h2m5 0h2m3 0h2m48 0h2m-95 1h2m1 0h2m8 0h2m2 0h2m6 0h2m1 0h2m9 0h2m1 0h2m7 0h2m5 0h2m8 0h2m-98 1h2m13 0h2m0 0h2m-1 0h2m26 0h2m14 0h2m14 0h2m23 0h2m-126 1h2m36 0h2m-1 0h2m12 0h2m9 0h2m38 0h2m0 0h2m-82 1h2m4 0h2m4 0h2m52 0h2m6 0h2m11 0h2m23 0h2m-70 1h2m-53 1h2m15 0h2m10 0h2m8 0h2m-2 0h2m0 0h2m8 0h2m60 0h2m-112 1h2m11 0h2m10 0h2m5 0h2m1 0h2m21 0h2m2 0h2m109 0h2m-200 1h2m7 0h2m22 0h2m0 0h2m22 0h2m18 0h2m1 0h2m3 0h2m-1 0h2m35 0h2m11 0h2m-100 1h2m7 0h2m15 0h2m23 0h2m0 0h2m-79 1h2m-2 0h2m11 0h2m9 0h2m3 0h2m4 0h2m7 0h2m5 0h2m7 0h2m5 0h2m5 0h2m11 0h2m2 0h2m19 0h2m-111 1h2m8 0h2m8 0h2m3 0h2m0 0h2m20 0h2m5 0h2m3 0h2m6 0h2m16 0h2m-1 0h2m-83 1h2m6 0h2m4 0h2m5 0h2m6 0h2m-1 0h2m2 0h2m1 0h2m5 0h2m5 0h2m15 0h2m-79 1h2m7 0h2m1 0h2m10 0h2m6 0h2m2 0h2m0 0h2m9 0h2m60 0h2m-1 0h2m-88 1h2m0 0h2m-1 0h2m8 0h2m18 0h2m23 0h2m-96 1h2m2 0h2m10 0h2m1 0h2m0 0h2m-1 0h2m4 0h2m5 0h2m4 0h2m8 0h2m0 0h2m0 0h2m6 0h2m78 0h2m-133 1h2m2 0h2m22 0h2m11 0h2m4 0h2m2 0h2m-43 1h2m12 0h2m2 0h2m14 0h2m2 0h2m1 0h2m0 0h2m-1 0h2m37 0h2m3 0h2m-95 1h2m-1 0h2m4 0h2m-1 0h2m4 0h2m0 0h2m-1 0h2m1 0h2m3 0h2m5 0h2m4 0h2m1 0h2m1 0h2m4 0h2m-1 0h2m3 0h2m11 0h2m1 0h2m13 0h2m-89 1h2m1 0h2m1 0h2m22 0h2m3 0h2m1 0h2m37 0h2m-91 1h2m6 0h2m22 0h2m11 0h2m-2 0h2m1 0h2m33 0h2m-94 1h2m12 0h2m16 0h2m14 0h2m3 0h2m14 0h2m1 0h2m4 0h2m4 0h2m-72 1h2m26 0h2m6 0h2m3 0h2m30 0h2m1 0h2m-71 1h2m16 0h2m-1 0h2m4 0h2m1 0h2m2 0h2m-1 0h2m2 0h2m0 0h2m16 0h2m-1 0h2m-1 0h2m21 0h2m-2 0h2m-106 1h2m32 0h2m0 0h2m12 0h2m-1 0h2m0 0h2m-1 0h2m-1 0h2m5 0h2m1 0h2m2 0h2m21 0h2m25 0h2m-100 1h2m-2 0h2m0 0h2m2 0h2m-2 0h2m16 0h2m0 0h2m-1 0h2m0 0h2m3 0h2m-1 0h2m5 0h2m4 0h2m10 0h2m-2 0h2m-63 1h2m-2 0h2m-1 0h2m3 0h2m3 0h2m4 0h2m0 0h2m6 0h2m4 0h2m17 0h2m2 0h2m39 0h2m4 0h2m-109 1h2m1 0h2m-1 0h2m-2 0h2m7 0h2m3 0h2m-1 0h2m5 0h2m-1 0h2m6 0h2m5 0h2m2 0h2m15 0h2m12 0h2m-81 1h2m-1 0h2m10 0h2m3 0h2m3 0h2m2 0h2m3 0h2m-1 0h2m11 0h2m0 0h2m11 0h2m5 0h2m46 0h2m-110 1h2m-2 0h2m2 0h2m-1 0h2m-2 0h2m1 0h2m10 0h2m2 0h2m11 0h2m34 0h2m-85 1h2m6 0h2m13 0h2m1 0h2m-1 0h2m0 0h2m10 0h2m1 0h2m-2 0h2m-1 0h2m5 0h2m0 0h2m16 0h2m28 0h2m-110 1h2m-2 0h2m6 0h2m7 0h2m-2 0h2m8 0h2m3 0h2m-1 0h2m4 0h2m3 0h2m5 0h2m1 0h2m0 0h2m30 0h2m3 0h2m22 0h2m-122 1h2m6 0h2m5 0h2m3 0h2m-1 0h2m5 0h2m4 0h2m1 0h2m7 0h2m0 0h2m8 0h2m8 0h2m-2 0h2m2 0h2m-77 1h2m1 0h2m6 0h2m-1 0h2m1 0h2m8 0h2m0 0h2m-1 0h2m-2 0h2m-1 0h2m2 0h2m2 0h2m-2 0h2m0 0h2m2 0h2m1 0h2m-2 0h2m59 0h2m-97 1h2m2 0h2m2 0h2m6 0h2m-1 0h2m-2 0h2m4 0h2m0 0h2m0 0h2m-2 0h2m-1 0h2m11 0h2m4 0h2m13 0h2m-70 1h2m4 0h2m-1 0h2m9 0h2m-2 0h2m-1 0h2m2 0h2m-1 0h2m-1 0h2m15 0h2m1 0h2m4 0h2m1 0h2m-1 0h2m0 0h2m8 0h2m-1 0h2m53 0h2m6 0h2m-140 1h2m-1 0h2m-1 0h2m13 0h2m1 0h2m5 0h2m-2 0h2m0 0h2m8 0h2m-1 0h2m1 0h2m2 0h2m3 0h2m12 0h2m9 0h2m1 0h2m30 0h2m7 0h2m-115 1h2m9 0h2m-1 0h2m2 0h2m2 0h2m1 0h2m-2 0h2m0 0h2m-1 0h2m1 0h2m2 0h2m1 0h2m8 0h2m-1 0h2m0 0h2m10 0h2m-1 0h2m0 0h2m7 0h2m-75 1h2m5 0h2m0 0h2m9 0h2m-1 0h2m4 0h2m1 0h2m0 0h2m-1 0h2m6 0h2m1 0h2m13 0h2m0 0h2m24 0h2m0 0h2m28 0h2m-115 1h2m-1 0h2m0 0h2m3 0h2m-1 0h2m-1 0h2m-2 0h2m-2 0h2m-1 0h2m-1 0h2m1 0h2m0 0h2m4 0h2m1 0h2m3 0h2m-2 0h2m0 0h2m-2 0h2m-2 0h2m7 0h2m14 0h2m24 0h2m19 0h2m-113 1h2m2 0h2m-2 0h2m7 0h2m2 0h2m-2 0h2m3 0h2m-2 0h2m0 0h2m-1 0h2m-2 0h2m-1 0h2m0 0h2m1 0h2m-1 0h2m5 0h2m16 0h2m2 0h2m24 0h2m-87 1h2m4 0h2m4 0h2m-1 0h2m2 0h2m-1 0h2m-2 0h2m1 0h2m0 0h2m-2 0h2m2 0h2m0 0h2m-1 0h2m3 0h2m-1 0h2m4 0h2m-2 0h2m2 0h2m17 0h2m2 0h2m0 0h2m-1 0h2m9 0h2m20 0h2m-116 1h2m5 0h2m2 0h2m3 0h2m0 0h2m0 0h2m-2 0h2m0 0h2m2 0h2m0 0h2m0 0h2m-2 0h2m-2 0h2m15 0h2m3 0h2m3 0h2m12 0h2m8 0h2m-82 1h2m8 0h2m0 0h2m2 0h2m1 0h2m-1 0h2m0 0h2m-2 0h2m2 0h2m3 0h2m1 0h2m-2 0h2m-1 0h2m6 0h2m20 0h2m2 0h2m3 0h2m-74 1h2m10 0h2m2 0h2m-2 0h2m5 0h2m-2 0h2m-2 0h2m2 0h2m-1 0h2m0 0h2m1 0h2m0 0h2m2 0h2m45 0h2m-91 1h2m9 0h2m2 0h2m-2 0h2m-2 0h2m-2 0h2m7 0h2m-2 0h2m0 0h2m-2 0h2m0 0h2m-1 0h2m-2 0h2m-2 0h2m-2 0h2m-1 0h2m-1 0h2m-1 0h2m-1 0h2m1 0h2m1 0h2m14 0h2m5 0h2m2 0h2m55 0h2m-112 1h2m6 0h2m0 0h2m-2 0h2m-1 0h2m2 0h2m0 0h2m-1 0h2m1 0h2m-1 0h2m5 0h2m5 0h2m8 0h2m37 0h2m-90 1h2m2 0h2m-1 0h2m3 0h2m-2 0h2m-2 0h2m0 0h2m4 0h2m1 0h2m1 0h2m-1 0h2m1 0h2m0 0h2m2 0h2m-1 0h2m9 0h2m24 0h2m31 0h2m-109 1h2m-1 0h2m-1 0h2m-1 0h2m0 0h2m2 0h2m-1 0h2m0 0h2m-2 0h2m5 0h2m1 0h2m-2 0h2m-2 0h2m-1 0h2m-2 0h2m-1 0h2m0 0h2m1 0h2m-2 0h2m-1 0h2m6 0h2m0 0h2m0 0h2m-1 0h2m2 0h2m12 0h2m-1 0h2m25 0h2m-93 1h2m5 0h2m-1 0h2m6 0h2m-2 0h2m2 0h2m11 0h2m-1 0h2m-1 0h2m0 0h2m10 0h2m16 0h2m-1 0h2m-59 1h2m2 0h2m0 0h2m2 0h2m1 0h2m8 0h2m16 0h2m2 0h2m-55 1h2m0 0h2m0 0h2m2 0h2m1 0h2m4 0h2m0 0h2m-2 0h2m5 0h2m1 0h2m-1 0h2m7 0h2m1 0h2m-1 0h2m1 0h2m-1 0h2m2 0h2m0 0h2m31 0h2m-95 1h2m1 0h2m0 0h2m1 0h2m-1 0h2m1 0h2m-2 0h2m0 0h2m2 0h2m3 0h2m-1 0h2m2 0h2m0 0h2m2 0h2m0 0h2m-1 0h2m4 0h2m4 0h2m6 0h2m7 0h2m-68 1h2m2 0h2m0 0h2m1 0h2m4 0h2m-2 0h2m-1 0h2m5 0h2m0 0h2m-2 0h2m2 0h2m5 0h2m0 0h2m-2 0h2m-31 1h2m0 0h2m-1 0h2m-1 0h2m-1 0h2m-1 0h2m2 0h2m-1 0h2m-2 0h2m-2 0h2m3 0h2m8 0h2m15 0h2m10 0h2m7 0h2m-69 1h2m0 0h2m1 0h2m-2 0h2m2 0h2m7 0h2m-1 0h2m-1 0h2m4 0h2m-2 0h2m-2 0h2m9 0h2m3 0h2m4 0h2m10 0h2m-65 1h2m0 0h2m0 0h2m1 0h2m0 0h2m-1 0h2m0 0h2m-1 0h2m-2 0h2m-2 0h2m2 0h2m-2 0h2m0 0h2m2 0h2m-1 0h2m-1 0h2m30 0h2m18 0h2m-1 0h2m13 0h2m-90 1h2m-1 0h2m-2 0h2m1 0h2m3 0h2m6 0h2m6 0h2m1 0h2m6 0h2m1 0h2m-2 0h2m7 0h2m8 0h2m8 0h2m-62 1h2m1 0h2m2 0h2m3 0h2m0 0h2m1 0h2m10 0h2m0 0h2m2 0h2m-2 0h2m5 0h2m-1 0h2m-49 1h2m-1 0h2m3 0h2m-2 0h2m-1 0h2m0 0h2m0 0h2m-1 0h2m-1 0h2m-2 0h2m-1 0h2m-1 0h2m-2 0h2m2 0h2m-2 0h2m-1 0h2m0 0h2m0 0h2m6 0h2m10 0h2m17 0h2m-68 1h2m2 0h2m-1 0h2m0 0h2m4 0h2m-10 1h2m0 0h2m6 0h2m-1 0h2m5 0h2m0 0h2m0 0h2m-2 0h2m-33 1h2m12 0h2m-1 0h2m11 0h2m8 0h2m1 0h2m49 0h2m-98 1h2m1 0h2m2 0h2m5 0h2m2 0h2m19 0h2m5 0h2m22 0h2m-65 1h2m20 0h2m9 0h2m3 0h2m-30 1h2m4 0h2m1 0h2m4 0h2m13 0h2m13 0h2m6 0h2m-75 1h2m12 0h2m-2 0h2m0 0h2m-2 0h2m1 0h2m-11 1h2m6 0h2m4 0h2m3 0h2m30 0h2m25 0h2m-69 1h2m1 0h2m35 0h2m-54 1h2m-3 1h2m9 0h2m6 0h2m13 0h2m-21 1h2m3 0h2m5 0h2m-9 1h2m16 0h2m-29 1h2m17 0h2m8 0h2m2 0h2m-53 1h2m31 1h2m-8 1h2m2 0h2m20 0h2m-41 3h2m57 1h2" stroke="#000" stroke-opacity="0.34" stroke-width="2" transform="scale(.5)"/>
<path d="M174 570h2m83 2h2m-31 5h2m11 0h2m-101 3h2m104 0h2m-81 2h2m89 0h2m-66 2h2m33 1h2m-38 1h2m-10 7h2m20 0h2m-58 3h2m58 4h2m-26 3h2m4 3h2m66 1h2m-176 1h2m63 1h2m53 3h2m-33 1h2m-15 1h2m112 1h2m-36 2h2m-31 1h2m-88 2h2m78 0h2m-52 1h2m73 0h2m-111 4h2m37 1h2m10 0h2m2 0h2m11 0h2m61 4h2m10 3h2m-196 1h2m90 0h2m-58 2h2m23 1h2m6 0h2m-10 1h2m88 0h2m11 0h2m-64 1h2m12 0h2m28 0h2m-64 1h2m33 0h2m11 0h2m28 1h2m-146 1h2m72 1h2m-49 1h2m23 0h2m48 0h2m50 0h2m-79 1h2m3 0h2m11 0h2m54 0h2m-110 1h2m36 0h2m7 0h2m-43 2h2m53 0h2m12 0h2m-72 1h2m33 1h2m71 0h2m-97 1h2m3 0h2m-29 2h2m8 0h2m65 0h2m-69 2h2m26 0h2m49 0h2m-58 1h2m-52 1h2m36 0h2m17 0h2m29 0h2m9 1h2m-66 1h2m68 0h2m10 0h2m-82 1h2m52 0h2m-86 1h2m59 0h2m-25 1h2m10 0h2m55 0h2m-134 1h2m82 0h2m-52 1h2m7 0h2m28 0h2m10 0h2m-88 1h2m51 0h2m24 0h2m4 0h2m1 0h2m10 0h2m0 0h2m45 0h2m-68 1h2m28 1h2m0 0h2m-100 1h2m48 0h2m13 0h2m22 0h2m-61 1h2m19 0h2m-58 1h2m2 0h2m3 0h2m-1 0h2m67 0h2m-51 1h2m35 0h2m3 0h2m50 0h2m-124 1h2m27 0h2m34 0h2m40 0h2m-46 1h2m1 0h2m-67 1h2m1 0h2m26 0h2m11 0h2m22 0h2m47 0h2m-79 1h2m8 0h2m6 0h2m19 0h2m-97 1h2m24 0h2m2 0h2m17 0h2m20 0h2m-3 1h2m61 0h2m-132 1h2m45 0h2m97 0h2m-90 1h2m2 0h2m-59 1h2m35 0h2m17 0h2m14 0h2m-75 1h2m6 0h2m52 0h2m35 0h2m-2 0h2m-54 1h2m0 0h2m20 0h2m43 0h2m-109 1h2m13 0h2m12 0h2m36 0h2m-61 1h2m73 0h2m-115 1h2m2 0h2m16 0h2m44 0h2m11 0h2m6 0h2m2 0h2m42 0h2m-109 1h2m1 0h2m102 0h2m-65 1h2m-31 1h2m4 0h2m16 0h2m7 0h2m30 0h2m-58 1h2m0 0h2m39 0h2m5 0h2m-89 1h2m27 0h2m-37 1h2m1 0h2m81 0h2m-72 1h2m14 0h2m14 0h2m0 0h2m7 0h2m-56 1h2m19 0h2m-23 1h2m16 0h2m5 0h2m8 0h2m15 0h2m16 0h2m22 0h2m-57 1h2m5 0h2m60 0h2m-93 1h2m7 0h2m14 0h2m24 0h2m12 0h2m109 0h2m-170 1h2m29 0h2m-69 1h2m-2 0h2m15 0h2m14 0h2m116 0h2m-163 1h2m143 0h2m-157 1h2m34 0h2m12 0h2m6 0h2m9 0h2m1 0h2m-10 1h2m0 0h2m-22 1h2m0 0h2m17 0h2m0 0h2m-56 1h2m1 0h2m10 0h2m22 0h2m-1 0h2m22 0h2m65 0h2m-92 1h2m24 0h2m29 0h2m11 0h2m-80 1h2m12 0h2m15 0h2m2 0h2m11 0h2m22 0h2m-99 1h2m92 0h2m77 0h2m-176 1h2m27 0h2m56 0h2m80 0h2m-165 1h2m10 0h2m6 0h2m7 0h2m7 0h2m33 0h2m19 0h2m-94 1h2m0 0h2m10 0h2m18 0h2m-1 0h2m16 0h2m21 0h2m-57 1h2m-22 1h2m1 0h2m11 0h2m3 0h2m9 0h2m-31 1h2m8 0h2m2 0h2m0 0h2m16 0h2m10 0h2m7 0h2m0 0h2m-2 0h2m7 0h2m16 0h2m8 0h2m-114 1h2m19 0h2m4 0h2m6 0h2m8 0h2m2 0h2m9 0h2m39 0h2m-110 1h2m37 0h2m25 0h2m7 0h2m34 0h2m79 0h2m-127 1h2m12 0h2m13 0h2m-67 1h2m21 0h2m1 0h2m4 0h2m12 0h2m9 0h2m-81 1h2m22 0h2m8 0h2m36 0h2m12 0h2m9 0h2m-109 1h2m13 0h2m26 0h2m-1 0h2m-1 0h2m0 0h2m19 0h2m7 0h2m3 0h2m2 0h2m33 0h2m-95 1h2m4 0h2m7 0h2m5 0h2m7 0h2m-1 0h2m-2 0h2m1 0h2m19 0h2m16 0h2m-105 1h2m17 0h2m18 0h2m9 0h2m0 0h2m23 0h2m35 0h2m-93 1h2m1 0h2m-1 0h2m-2 0h2m18 0h2m8 0h2m5 0h2m3 0h2m36 0h2m-94 1h2m21 0h2m0 0h2m-1 0h2m12 0h2m9 0h2m6 0h2m3 0h2m7 0h2m23 0h2m-112 1h2m20 0h2m21 0h2m0 0h2m3 0h2m-1 0h2m13 0h2m30 0h2m0 0h2m7 0h2m31 0h2m-122 1h2m3 0h2m3 0h2m-1 0h2m17 0h2m23 0h2m-81 1h2m0 0h2m24 0h2m8 0h2m8 0h2m1 0h2m15 0h2m-1 0h2m-64 1h2m34 0h2m65 0h2m44 0h2m-141 1h2m25 0h2m8 0h2m0 0h2m17 0h2m-67 1h2m3 0h2m8 0h2m11 0h2m-46 1h2m20 0h2m6 0h2m-1 0h2m3 0h2m0 0h2m4 0h2m4 0h2m0 0h2m29 0h2m14 0h2m-1 0h2m-108 1h2m3 0h2m19 0h2m16 0h2m12 0h2m16 0h2m3 0h2m9 0h2m3 0h2m7 0h2m12 0h2m6 0h2m-95 1h2m20 0h2m19 0h2m5 0h2m-59 1h2m18 0h2m6 0h2m1 0h2m11 0h2m1 0h2m-71 1h2m1 0h2m27 0h2m3 0h2m4 0h2m6 0h2m14 0h2m22 0h2m1 0h2m8 0h2m11 0h2m-95 1h2m12 0h2m3 0h2m11 0h2m-1 0h2m-51 1h2m11 0h2m-2 0h2m6 0h2m1 0h2m6 0h2m28 0h2m-2 0h2m3 0h2m0 0h2m0 0h2m11 0h2m26 0h2m-108 1h2m0 0h2m5 0h2m4 0h2m24 0h2m-22 1h2m-2 0h2m10 0h2m-2 0h2m0 0h2m-2 0h2m2 0h2m3 0h2m7 0h2m-47 1h2m3 0h2m1 0h2m-1 0h2m0 0h2m3 0h2m4 0h2m5 0h2m6 0h2m-1 0h2m0 0h2m10 0h2m22 0h2m4 0h2m-113 1h2m26 0h2m1 0h2m4 0h2m3 0h2m2 0h2m-1 0h2m27 0h2m13 0h2m4 0h2m6 0h2m-91 1h2m1 0h2m5 0h2m8 0h2m0 0h2m0 0h2m-2 0h2m1 0h2m4 0h2m-2 0h2m2 0h2m-35 1h2m4 0h2m2 0h2m-1 0h2m2 0h2m8 0h2m2 0h2m4 0h2m4 0h2m6 0h2m-2 0h2m7 0h2m3 0h2m-1 0h2m6 0h2m-69 1h2m27 0h2m0 0h2m8 0h2m11 0h2m-2 0h2m0 0h2m-71 1h2m6 0h2m0 0h2m12 0h2m6 0h2m-1 0h2m7 0h2m1 0h2m13 0h2m16 0h2m-79 1h2m7 0h2m6 0h2m5 0h2m5 0h2m10 0h2m5 0h2m3 0h2m-63 1h2m15 0h2m2 0h2m-1 0h2m-1 0h2m-2 0h2m9 0h2m2 0h2m-2 0h2m4 0h2m3 0h2m7 0h2m0 0h2m-64 1h2m13 0h2m1 0h2m8 0h2m-2 0h2m4 0h2m1 0h2m-2 0h2m9 0h2m2 0h2m5 0h2m30 0h2m21 0h2m6 0h2m-114 1h2m3 0h2m-1 0h2m0 0h2m0 0h2m-1 0h2m-1 0h2m-2 0h2m-1 0h2m1 0h2m-2 0h2m2 0h2m10 0h2m0 0h2m3 0h2m2 0h2m2 0h2m2 0h2m11 0h2m-2 0h2m13 0h2m-92 1h2m4 0h2m5 0h2m8 0h2m-1 0h2m3 0h2m2 0h2m-1 0h2m2 0h2m12 0h2m2 0h2m4 0h2m1 0h2m21 0h2m5 0h2m-95 1h2m6 0h2m8 0h2m5 0h2m-1 0h2m7 0h2m18 0h2m22 0h2m0 0h2m18 0h2m-85 1h2m2 0h2m-2 0h2m0 0h2m7 0h2m-2 0h2m1 0h2m-2 0h2m7 0h2m21 0h2m-1 0h2m-66 1h2m11 0h2m1 0h2m-1 0h2m-1 0h2m-2 0h2m-1 0h2m-2 0h2m1 0h2m0 0h2m0 0h2m-2 0h2m3 0h2m0 0h2m-32 1h2m0 0h2m2 0h2m4 0h2m0 0h2m0 0h2m-2 0h2m1 0h2m5 0h2m5 0h2m1 0h2m-1 0h2m-1 0h2m18 0h2m15 0h2m43 0h2m-123 1h2m1 0h2m1 0h2m1 0h2m-2 0h2m-1 0h2m2 0h2m0 0h2m0 0h2m-2 0h2m12 0h2m1 0h2m-1 0h2m22 0h2m-62 1h2m2 0h2m-1 0h2m3 0h2m-2 0h2m-1 0h2m0 0h2m-2 0h2m4 0h2m3 0h2m-2 0h2m1 0h2m52 0h2m19 0h2m-106 1h2m0 0h2m-2 0h2m2 0h2m8 0h2m-2 0h2m-1 0h2m0 0h2m-2 0h2m-2 0h2m0 0h2m-2 0h2m-2 0h2m2 0h2m-2 0h2m-1 0h2m1 0h2m2 0h2m1 0h2m51 0h2m-94 1h2m4 0h2m4 0h2m0 0h2m-1 0h2m1 0h2m0 0h2m-1 0h2m-1 0h2m-1 0h2m3 0h2m-1 0h2m0 0h2m1 0h2m-1 0h2m3 0h2m14 0h2m10 0h2m14 0h2m-88 1h2m3 0h2m-2 0h2m2 0h2m4 0h2m0 0h2m0 0h2m0 0h2m3 0h2m1 0h2m6 0h2m9 0h2m12 0h2m-2 0h2m-67 1h2m-1 0h2m3 0h2m-2 0h2m-1 0h2m0 0h2m2 0h2m-1 0h2m-1 0h2m3 0h2m-1 0h2m-1 0h2m0 0h2m2 0h2m7 0h2m1 0h2m-2 0h2m7 0h2m7 0h2m6 0h2m3 0h2m12 0h2m-1 0h2m-76 1h2m6 0h2m0 0h2m2 0h2m-2 0h2m-1 0h2m-1 0h2m4 0h2m-1 0h2m9 0h2m0 0h2m-2 0h2m6 0h2m3 0h2m38 0h2m-91 1h2m8 0h2m1 0h2m-1 0h2m8 0h2m4 0h2m-2 0h2m9 0h2m4 0h2m-53 1h2m0 0h2m-2 0h2m-2 0h2m-1 0h2m-1 0h2m0 0h2m0 0h2m1 0h2m0 0h2m-1 0h2m-1 0h2m-1 0h2m-1 0h2m2 0h2m-1 0h2m-1 0h2m-1 0h2m2 0h2m3 0h2m-2 0h2m19 0h2m8 0h2m-78 1h2m5 0h2m6 0h2m0 0h2m-1 0h2m1 0h2m-2 0h2m-2 0h2m2 0h2m-2 0h2m-1 0h2m0 0h2m2 0h2m0 0h2m0 0h2m1 0h2m-2 0h2m1 0h2m1 0h2m-1 0h2m-1 0h2m18 0h2m-59 1h2m0 0h2m-1 0h2m-2 0h2m0 0h2m0 0h2m0 0h2m3 0h2m-2 0h2m-1 0h2m-2 0h2m3 0h2m-1 0h2m1 0h2m1 0h2m3 0h2m-1 0h2m18 0h2m21 0h2m-85 1h2m15 0h2m-1 0h2m-2 0h2m1 0h2m-1 0h2m2 0h2m-1 0h2m-1 0h2m0 0h2m-2 0h2m-1 0h2m3 0h2m11 0h2m13 0h2m1 0h2m12 0h2m-76 1h2m2 0h2m0 0h2m0 0h2m1 0h2m-2 0h2m0 0h2m-1 0h2m-2 0h2m0 0h2m-2 0h2m0 0h2m-2 0h2m1 0h2m0 0h2m-2 0h2m7 0h2m-1 0h2m0 0h2m10 0h2m-2 0h2m-57 1h2m16 0h2m-2 0h2m-1 0h2m0 0h2m-1 0h2m-2 0h2m1 0h2m-2 0h2m10 0h2m-1 0h2m1 0h2m-1 0h2m0 0h2m-1 0h2m14 0h2m0 0h2m-64 1h2m10 0h2m-1 0h2m-1 0h2m0 0h2m-2 0h2m2 0h2m-1 0h2m-1 0h2m2 0h2m0 0h2m-2 0h2m-1 0h2m2 0h2m-1 0h2m1 0h2m7 0h2m3 0h2m12 0h2m4 0h2m-63 1h2m-1 0h2m1 0h2m2 0h2m-2 0h2m-1 0h2m0 0h2m-2 0h2m4 0h2m5 0h2m6 0h2m3 0h2m0 0h2m17 0h2m16 0h2m-87 1h2m2 0h2m0 0h2m0 0h2m-1 0h2m-2 0h2m-1 0h2m-1 0h2m3 0h2m-1 0h2m-1 0h2m-1 0h2m-2 0h2m-2 0h2m-1 0h2m4 0h2m-1 0h2m9 0h2m0 0h2m11 0h2m2 0h2m-2 0h2m17 0h2m3 0h2m28 0h2m-112 1h2m6 0h2m-1 0h2m3 0h2m-2 0h2m3 0h2m0 0h2m-1 0h2m3 0h2m2 0h2m4 0h2m3 0h2m2 0h2m0 0h2m6 0h2m12 0h2m-71 1h2m0 0h2m3 0h2m-2 0h2m1 0h2m-1 0h2m-1 0h2m0 0h2m-1 0h2m1 0h2m9 0h2m4 0h2m21 0h2m5 0h2m-65 1h2m-2 0h2m-1 0h2m0 0h2m1 0h2m1 0h2m0 0h2m1 0h2m1 0h2m1 0h2m-1 0h2m2 0h2m-2 0h2m9 0h2m0 0h2m5 0h2m4 0h2m2 0h2m50 0h2m-106 1h2m0 0h2m3 0h2m7 0h2m-1 0h2m-1 0h2m-1 0h2m-2 0h2m-1 0h2m0 0h2m-1 0h2m-2 0h2m6 0h2m0 0h2m31 0h2m-75 1h2m5 0h2m-2 0h2m0 0h2m0 0h2m3 0h2m-1 0h2m7 0h2m2 0h2m0 0h2m3 0h2m23 0h2m1 0h2m-60 1h2m4 0h2m0 0h2m0 0h2m0 0h2m12 0h2m4 0h2m4 0h2m1 0h2m-42 1h2m1 0h2m3 0h2m5 0h2m3 0h2m0 0h2m0 0h2m6 0h2m0 0h2m5 0h2m4 0h2m1 0h2m0 0h2m2 0h2m-60 1h2m-2 0h2m3 0h2m6 0h2m1 0h2m4 0h2m-2 0h2m3 0h2m0 0h2m9 0h2m3 0h2m8 0h2m6 0h2m0 0h2m-67 1h2m-1 0h2m-1 0h2m2 0h2m14 0h2m-2 0h2m4 0h2m0 0h2m0 0h2m1 0h2m-33 1h2m-1 0h2m0 0h2m0 0h2m-2 0h2m1 0h2m-1 0h2m-1 0h2m-2 0h2m-1 0h2m1 0h2m-1 0h2m0 0h2m10 0h2m13 0h2m7 0h2m-57 1h2m-1 0h2m-1 0h2m18 0h2m2 0h2m9 0h2m4 0h2m-44 1h2m1 0h2m-1 0h2m14 0h2m10 0h2m2 0h2m-1 0h2m-42 1h2m6 0h2m1 0h2m3 0h2m-1 0h2m1 0h2m-1 0h2m0 0h2m29 0h2m12 0h2m-76 1h2m20 0h2m7 0h2m4 0h2m9 0h2m-46 1h2m7 0h2m8 0h2m5 0h2m12 0h2m1 0h2m-36 1h2m0 0h2m15 0h2m4 0h2m1 0h2m15 0h2m-41 1h2m1 0h2m-1 0h2m6 0h2m2 0h2m-39 1h2m12 0h2m6 0h2m-1 0h2m18 0h2m12 0h2m-43 2h2m2 0h2m0 0h2m23 0h2m24 0h2m-60 1h2m7 0h2m1 0h2m1 0h2m13 0h2m-28 1h2m6 0h2m1 0h2m0 0h2m2 1h2m4 0h2m-33 1h2m27 0h2m-34 1h2m-2 0h2m59 1h2m-68 1h2m3 0h2m1 2h2" stroke="#000" stroke-opacity="0.34" stroke-width="2" transform="scale(.5)"/>
<path d="M246 578h2m-98 7h2m0 5h2m15 0h2m40 0h2m-2 6h2m-25 2h2m101 0h2m-75 1h2m-43 5h2m-10 1h2m24 7h2m3 1h2m42 2h2m-48 8h2m-95 1h2m21 0h2m21 1h2m8 0h2m-23 3h2m60 0h2m17 1h2m-1 0h2m22 0h2m-94 1h2m1 0h2m35 0h2m26 0h2m-54 1h2m4 1h2m2 0h2m38 0h2m-21 1h2m91 0h2m-135 1h2m100 0h2m-89 1h2m5 0h2m50 0h2m-59 1h2m8 0h2m24 0h2m36 0h2m-71 2h2m20 0h2m-23 2h2m3 0h2m19 0h2m11 3h2m-124 1h2m81 0h2m20 1h2m-89 1h2m19 0h2m64 0h2m-49 1h2m40 0h2m57 0h2m-107 3h2m1 0h2m15 0h2m-36 2h2m8 0h2m10 0h2m5 0h2m19 0h2m-39 1h2m59 1h2m-18 1h2m-30 1h2m16 0h2m-11 1h2m29 0h2m-86 1h2m10 0h2m6 0h2m13 0h2m-1 0h2m59 0h2m1 0h2m-91 1h2m5 0h2m42 0h2m19 0h2m-129 1h2m51 0h2m12 0h2m27 0h2m11 0h2m-60 1h2m3 0h2m71 0h2m-61 1h2m28 0h2m-1 0h2m-60 1h2m53 0h2m4 1h2m-80 1h2m26 0h2m3 0h2m18 0h2m96 1h2m-48 1h2m-16 1h2m-130 1h2m101 0h2m3 0h2m-64 1h2m29 0h2m6 0h2m24 0h2m-53 1h2m14 0h2m70 0h2m-107 1h2m23 1h2m5 0h2m15 0h2m12 0h2m14 0h2m-62 1h2m17 0h2m29 0h2m-39 1h2m11 0h2m18 0h2m84 0h2m-148 1h2m13 0h2m12 0h2m-75 1h2m45 0h2m3 0h2m50 0h2m19 0h2m-68 1h2m14 0h2m-6 1h2m5 0h2m40 0h2m9 0h2m-76 1h2m34 0h2m54 0h2m-100 1h2m29 0h2m-62 1h2m65 0h2m38 0h2m40 0h2m-170 1h2m96 0h2m55 0h2m-67 1h2m11 0h2m-55 1h2m9 0h2m23 0h2m-64 1h2m26 0h2m17 0h2m9 0h2m49 0h2m-106 1h2m4 0h2m69 1h2m-76 1h2m35 0h2m12 0h2m17 0h2m-77 1h2m1 0h2m38 0h2m4 0h2m-1 0h2m39 0h2m35 0h2m-143 1h2m45 0h2m4 0h2m8 0h2m1 0h2m14 0h2m16 0h2m-104 1h2m17 0h2m4 0h2m53 0h2m-51 1h2m10 0h2m81 0h2m-115 1h2m6 0h2m15 0h2m28 0h2m19 0h2m-71 1h2m6 0h2m22 0h2m29 0h2m-78 1h2m20 0h2m25 0h2m15 0h2m3 0h2m23 0h2m1 0h2m-98 1h2m0 0h2m20 0h2m6 0h2m30 0h2m-60 1h2m31 0h2m16 0h2m92 0h2m-128 1h2m11 0h2m29 0h2m-65 1h2m2 0h2m4 0h2m3 0h2m16 0h2m-10 1h2m62 0h2m-116 1h2m2 0h2m-1 0h2m13 0h2m16 0h2m16 0h2m-1 0h2m22 0h2m35 0h2m-104 1h2m1 0h2m17 0h2m-16 1h2m13 0h2m15 0h2m22 0h2m21 0h2m-1 0h2m-111 1h2m47 0h2m17 0h2m-46 1h2m5 0h2m6 0h2m18 0h2m40 0h2m25 0h2m-141 1h2m38 0h2m3 0h2m46 0h2m8 0h2m54 0h2m-128 1h2m1 0h2m36 0h2m-1 0h2m3 0h2m34 0h2m-66 1h2m6 0h2m3 0h2m30 0h2m9 0h2m-90 1h2m36 0h2m10 0h2m6 0h2m20 0h2m3 0h2m-93 1h2m29 0h2m9 0h2m37 0h2m26 0h2m-102 1h2m35 0h2m19 0h2m5 0h2m0 0h2m4 0h2m28 0h2m-117 1h2m0 0h2m15 0h2m15 0h2m0 0h2m-1 0h2m-2 0h2m13 0h2m46 0h2m-67 1h2m30 0h2m57 0h2m-93 1h2m2 0h2m2 0h2m0 0h2m-1 0h2m48 0h2m5 0h2m34 0h2m-138 1h2m14 0h2m24 0h2m-2 0h2m4 0h2m27 0h2m9 0h2m-92 1h2m14 0h2m20 0h2m13 0h2m12 0h2m-64 1h2m10 0h2m17 0h2m4 0h2m20 0h2m33 0h2m10 0h2m-101 1h2m17 0h2m10 0h2m12 0h2m16 0h2m19 0h2m-93 1h2m9 0h2m35 0h2m17 0h2m1 0h2m11 0h2m1 0h2m-78 1h2m16 0h2m3 0h2m5 0h2m2 0h2m-1 0h2m-1 0h2m21 0h2m21 0h2m-88 1h2m43 0h2m51 0h2m-114 1h2m0 0h2m9 0h2m38 0h2m4 0h2m15 0h2m-76 1h2m26 0h2m0 0h2m23 0h2m3 0h2m12 0h2m2 0h2m-2 0h2m3 0h2m-73 1h2m-1 0h2m-2 0h2m3 0h2m8 0h2m16 0h2m4 0h2m2 0h2m8 0h2m25 0h2m-100 1h2m0 0h2m4 0h2m24 0h2m3 0h2m0 0h2m15 0h2m0 0h2m11 0h2m-1 0h2m28 0h2m-63 1h2m33 0h2m6 0h2m-1 0h2m1 0h2m9 0h2m-100 1h2m3 0h2m8 0h2m3 0h2m-1 0h2m33 0h2m25 0h2m13 0h2m14 0h2m-110 1h2m8 0h2m3 0h2m14 0h2m2 0h2m1 0h2m1 0h2m-1 0h2m-1 0h2m-1 0h2m26 0h2m7 0h2m-86 1h2m-1 0h2m21 0h2m7 0h2m14 0h2m4 0h2m12 0h2m26 0h2m10 0h2m-109 1h2m-1 0h2m14 0h2m23 0h2m3 0h2m18 0h2m39 0h2m-96 1h2m6 0h2m4 0h2m5 0h2m-1 0h2m1 0h2m10 0h2m0 0h2m7 0h2m-2 0h2m21 0h2m3 0h2m-96 1h2m6 0h2m0 0h2m-1 0h2m1 0h2m3 0h2m7 0h2m0 0h2m10 0h2m2 0h2m3 0h2m13 0h2m-75 1h2m18 0h2m5 0h2m2 0h2m-2 0h2m10 0h2m14 0h2m64 0h2m-124 1h2m13 0h2m20 0h2m2 0h2m0 0h2m13 0h2m15 0h2m7 0h2m26 0h2m-121 1h2m0 0h2m23 0h2m2 0h2m1 0h2m-1 0h2m2 0h2m-1 0h2m-2 0h2m0 0h2m10 0h2m4 0h2m7 0h2m47 0h2m-106 1h2m0 0h2m11 0h2m7 0h2m1 0h2m-2 0h2m-1 0h2m-41 1h2m6 0h2m17 0h2m2 0h2m8 0h2m19 0h2m2 0h2m-46 1h2m1 0h2m23 0h2m21 0h2m-61 1h2m9 0h2m6 0h2m0 0h2m3 0h2m-2 0h2m22 0h2m8 0h2m10 0h2m2 0h2m0 0h2m3 0h2m-88 1h2m-1 0h2m2 0h2m1 0h2m10 0h2m11 0h2m13 0h2m-1 0h2m10 0h2m-78 1h2m1 0h2m14 0h2m-1 0h2m4 0h2m1 0h2m5 0h2m2 0h2m2 0h2m1 0h2m16 0h2m9 0h2m3 0h2m29 0h2m-107 1h2m20 0h2m9 0h2m-1 0h2m1 0h2m-2 0h2m10 0h2m-2 0h2m-1 0h2m15 0h2m6 0h2m11 0h2m65 0h2m-163 1h2m2 0h2m21 0h2m-2 0h2m-1 0h2m-1 0h2m4 0h2m-1 0h2m7 0h2m-1 0h2m-1 0h2m-1 0h2m1 0h2m5 0h2m13 0h2m5 0h2m8 0h2m-84 1h2m10 0h2m-1 0h2m2 0h2m-1 0h2m6 0h2m-2 0h2m-2 0h2m3 0h2m12 0h2m5 0h2m1 0h2m-47 1h2m8 0h2m4 0h2m-1 0h2m6 0h2m16 0h2m0 0h2m-1 0h2m1 0h2m-2 0h2m-57 1h2m1 0h2m0 0h2m-1 0h2m0 0h2m12 0h2m-1 0h2m14 0h2m1 0h2m4 0h2m5 0h2m10 0h2m0 0h2m0 0h2m-69 1h2m2 0h2m8 0h2m1 0h2m-1 0h2m0 0h2m20 0h2m14 0h2m62 0h2m13 0h2m-146 1h2m6 0h2m13 0h2m0 0h2m-2 0h2m3 0h2m-1 0h2m-2 0h2m-2 0h2m6 0h2m6 0h2m1 0h2m13 0h2m0 0h2m10 0h2m-81 1h2m11 0h2m-2 0h2m2 0h2m-1 0h2m0 0h2m1 0h2m2 0h2m-1 0h2m3 0h2m4 0h2m-1 0h2m20 0h2m4 0h2m-60 1h2m-2 0h2m-1 0h2m1 0h2m-2 0h2m0 0h2m0 0h2m-2 0h2m0 0h2m-2 0h2m-1 0h2m-2 0h2m0 0h2m-2 0h2m-2 0h2m4 0h2m2 0h2m-1 0h2m-2 0h2m-1 0h2m1 0h2m-1 0h2m-1 0h2m2 0h2m-1 0h2m7 0h2m8 0h2m13 0h2m-72 1h2m0 0h2m3 0h2m0 0h2m3 0h2m0 0h2m0 0h2m2 0h2m-2 0h2m4 0h2m1 0h2m0 0h2m9 0h2m3 0h2m4 0h2m12 0h2m8 0h2m-100 1h2m6 0h2m3 0h2m-1 0h2m10 0h2m6 0h2m2 0h2m-1 0h2m-2 0h2m3 0h2m3 0h2m-1 0h2m12 0h2m13 0h2m2 0h2m24 0h2m-94 1h2m2 0h2m2 0h2m-2 0h2m6 0h2m-1 0h2m0 0h2m-1 0h2m1 0h2m-1 0h2m-1 0h2m-1 0h2m2 0h2m3 0h2m0 0h2m7 0h2m-54 1h2m6 0h2m-1 0h2m-1 0h2m0 0h2m-2 0h2m3 0h2m-2 0h2m1 0h2m0 0h2m1 0h2m-1 0h2m-1 0h2m0 0h2m1 0h2m15 0h2m13 0h2m60 0h2m-121 1h2m4 0h2m-2 0h2m0 0h2m-2 0h2m2 0h2m2 0h2m8 0h2m1 0h2m6 0h2m5 0h2m4 0h2m-63 1h2m8 0h2m-1 0h2m3 0h2m1 0h2m2 0h2m-1 0h2m5 0h2m-1 0h2m1 0h2m1 0h2m0 0h2m5 0h2m-1 0h2m0 0h2m1 0h2m-1 0h2m10 0h2m24 0h2m-91 1h2m-1 0h2m1 0h2m1 0h2m1 0h2m1 0h2m1 0h2m5 0h2m1 0h2m6 0h2m1 0h2m2 0h2m7 0h2m6 0h2m-1 0h2m8 0h2m2 0h2m-72 1h2m-2 0h2m-2 0h2m4 0h2m0 0h2m4 0h2m0 0h2m-2 0h2m-2 0h2m4 0h2m0 0h2m1 0h2m0 0h2m0 0h2m16 0h2m-55 1h2m1 0h2m0 0h2m-1 0h2m2 0h2m4 0h2m1 0h2m1 0h2m0 0h2m8 0h2m3 0h2m4 0h2m13 0h2m-68 1h2m0 0h2m3 0h2m2 0h2m2 0h2m0 0h2m1 0h2m1 0h2m3 0h2m-2 0h2m1 0h2m-2 0h2m0 0h2m-1 0h2m1 0h2m-1 0h2m-1 0h2m3 0h2m4 0h2m3 0h2m3 0h2m-2 0h2m0 0h2m33 0h2m-102 1h2m7 0h2m0 0h2m-1 0h2m1 0h2m-2 0h2m0 0h2m0 0h2m-1 0h2m0 0h2m-1 0h2m0 0h2m-1 0h2m-2 0h2m2 0h2m0 0h2m0 0h2m0 0h2m-2 0h2m1 0h2m-1 0h2m1 0h2m13 0h2m1 0h2m3 0h2m26 0h2m22 0h2m-111 1h2m-2 0h2m-1 0h2m-2 0h2m2 0h2m6 0h2m-1 0h2m-1 0h2m-1 0h2m-1 0h2m0 0h2m1 0h2m-1 0h2m2 0h2m-1 0h2m-2 0h2m0 0h2m-1 0h2m1 0h2m8 0h2m13 0h2m-2 0h2m13 0h2m12 0h2m-96 1h2m6 0h2m-2 0h2m2 0h2m2 0h2m1 0h2m-2 0h2m5 0h2m1 0h2m1 0h2m-1 0h2m-2 0h2m-1 0h2m-1 0h2m0 0h2m1 0h2m0 0h2m-1 0h2m33 0h2m-71 1h2m0 0h2m-1 0h2m2 0h2m-1 0h2m2 0h2m-2 0h2m0 0h2m-2 0h2m1 0h2m-2 0h2m-1 0h2m-1 0h2m-2 0h2m4 0h2m6 0h2m20 0h2m0 0h2m0 0h2m12 0h2m12 0h2m-101 1h2m2 0h2m3 0h2m-1 0h2m-1 0h2m6 0h2m-2 0h2m-1 0h2m-2 0h2m-2 0h2m0 0h2m-1 0h2m-1 0h2m-2 0h2m-1 0h2m-1 0h2m-1 0h2m1 0h2m-1 0h2m2 0h2m8 0h2m-1 0h2m1 0h2m-2 0h2m-1 0h2m-2 0h2m-2 0h2m-1 0h2m5 0h2m3 0h2m0 0h2m4 0h2m5 0h2m11 0h2m-89 1h2m-1 0h2m0 0h2m4 0h2m0 0h2m-2 0h2m0 0h2m0 0h2m2 0h2m1 0h2m-1 0h2m-2 0h2m1 0h2m-1 0h2m-1 0h2m1 0h2m10 0h2m0 0h2m6 0h2m-50 1h2m0 0h2m-2 0h2m0 0h2m2 0h2m-1 0h2m-2 0h2m-1 0h2m0 0h2m0 0h2m-1 0h2m7 0h2m0 0h2m-2 0h2m2 0h2m0 0h2m17 0h2m3 0h2m-62 1h2m-1 0h2m4 0h2m-1 0h2m-2 0h2m-1 0h2m-1 0h2m-1 0h2m-1 0h2m5 0h2m3 0h2m-1 0h2m-1 0h2m2 0h2m0 0h2m18 0h2m26 0h2m21 0h2m32 0h2m-142 1h2m2 0h2m6 0h2m1 0h2m0 0h2m-1 0h2m-1 0h2m0 0h2m-1 0h2m-2 0h2m-1 0h2m0 0h2m-2 0h2m0 0h2m1 0h2m-2 0h2m-1 0h2m-2 0h2m-2 0h2m0 0h2m0 0h2m7 0h2m4 0h2m6 0h2m3 0h2m18 0h2m-84 1h2m17 0h2m0 0h2m-1 0h2m2 0h2m1 0h2m0 0h2m4 0h2m38 0h2m7 0h2m-84 1h2m9 0h2m-1 0h2m2 0h2m1 0h2m-2 0h2m-1 0h2m2 0h2m1 0h2m-1 0h2m-1 0h2m0 0h2m5 0h2m29 0h2m5 0h2m-83 1h2m2 0h2m0 0h2m-1 0h2m0 0h2m-2 0h2m-2 0h2m-1 0h2m0 0h2m-1 0h2m0 0h2m0 0h2m0 0h2m0 0h2m-2 0h2m0 0h2m-2 0h2m-1 0h2m-2 0h2m-2 0h2m0 0h2m1 0h2m-1 0h2m-1 0h2m0 0h2m1 0h2m10 0h2m17 0h2m26 0h2m-86 1h2m5 0h2m2 0h2m2 0h2m-1 0h2m-2 0h2m-1 0h2m0 0h2m-1 0h2m19 0h2m0 0h2m2 0h2m-62 1h2m6 0h2m-1 0h2m2 0h2m0 0h2m-1 0h2m0 0h2m-2 0h2m-1 0h2m0 0h2m1 0h2m9 0h2m1 0h2m26 0h2m12 0h2m-69 1h2m-1 0h2m-2 0h2m0 0h2m-2 0h2m3 0h2m3 0h2m3 0h2m1 0h2m3 0h2m5 0h2m-1 0h2m17 0h2m6 0h2m-1 0h2m-79 1h2m3 0h2m4 0h2m3 0h2m1 0h2m-2 0h2m-2 0h2m3 0h2m1 0h2m-1 0h2m-2 0h2m4 0h2m-1 0h2m1 0h2m-1 0h2m7 0h2m-1 0h2m3 0h2m-49 1h2m3 0h2m-2 0h2m7 0h2m4 0h2m-2 0h2m0 0h2m1 0h2m3 0h2m0 0h2m-2 0h2m4 0h2m8 0h2m-49 1h2m1 0h2m5 0h2m-1 0h2m-1 0h2m-2 0h2m8 0h2m7 0h2m9 0h2m0 0h2m15 0h2m-71 1h2m5 0h2m6 0h2m-2 0h2m2 0h2m2 0h2m0 0h2m0 0h2m0 0h2m3 0h2m-1 0h2m2 0h2m6 0h2m33 0h2m-77 1h2m10 0h2m17 0h2m26 0h2m-61 1h2m6 0h2m5 0h2m0 0h2m6 0h2m11 0h2m7 0h2m-51 1h2m1 0h2m14 0h2m-1 0h2m-2 0h2m4 0h2m25 0h2m2 0h2m-63 1h2m22 0h2m-1 0h2m0 0h2m21 0h2m-1 0h2m42 0h2m-86 1h2m0 0h2m8 0h2m-1 0h2m24 0h2m-51 1h2m20 0h2m11 0h2m-14 1h2m3 0h2m21 0h2m1 0h2m-50 1h2m11 0h2m-2 0h2m0 0h2m14 0h2m24 0h2m16 0h2m-53 1h2m-13 1h2m8 0h2m1 0h2m1 0h2m17 0h2m11 0h2m-58 1h2m7 0h2m-18 1h2m53 0h2m-25 1h2m6 0h2m-38 1h2m0 1h2m2 0h2m14 0h2m-2 0h2m9 1h2m16 0h2m-17 1h2m-13 1h2" stroke="#000" stroke-opacity="0.34" stroke-width="2" transform="scale(.5)"/>
<line x1="31.7" y1="283.5" x2="148.0" y2="283.5" stroke="#555" stroke-width="1.1" stroke-dasharray="1.2 1.35"/>
<line x1="148.0" y1="283.5" x2="148.0" y2="399.2" stroke="#555" stroke-width="1.1" stroke-dasharray="1.2 1.35"/>
<line x1="31.7" y1="283.5" x2="31.7" y2="399.2" stroke="#7a7a7a" stroke-width="1.3"/>
<line x1="31.7" y1="399.2" x2="148.0" y2="399.2" stroke="#7a7a7a" stroke-width="1.3"/>
<line x1="31.7" y1="399.2" x2="148.0" y2="283.5" stroke="#555" stroke-width="1.1"/>
<text x="31.7" y="285.2" font-size="8.0" text-anchor="end" font-weight="normal" font-style="normal" fill="#262626" stroke="#262626" stroke-width="0.3" >1.0</text>
<text x="31.7" y="401.2" font-size="8.0" text-anchor="end" font-weight="normal" font-style="normal" fill="#262626" stroke="#262626" stroke-width="0.3" >0.0</text>
<text x="31.7" y="407.2" font-size="8.0" text-anchor="middle" font-weight="normal" font-style="normal" fill="#262626" stroke="#262626" stroke-width="0.3" >0.0</text>
<text x="148.0" y="407.2" font-size="8.0" text-anchor="middle" font-weight="normal" font-style="normal" fill="#262626" stroke="#262626" stroke-width="0.3" >1.0</text>
<text x="86" y="418" font-size="10" font-style="italic" fill="#222" stroke="#222" stroke-width="0.3">x<tspan font-size="4.8" dy="1.6" font-style="normal">1</tspan></text>
<text x="90.2" y="429.4" font-size="10" text-anchor="middle" font-weight="normal" font-style="italic" fill="#222" stroke="#222" stroke-width="0.35" >Controls</text>
<text transform="translate(10 341.4) rotate(-90)" font-size="10" text-anchor="middle" font-style="italic" fill="#222" stroke="#222" stroke-width="0.35">Patients</text>
<text transform="translate(21 342) rotate(-90)" font-size="10" text-anchor="middle" font-style="italic" fill="#222" stroke="#222" stroke-width="0.3">x<tspan font-size="4.8" dy="1.6" font-style="normal">1</tspan></text>
<line x1="31.7" y1="443.0" x2="148.0" y2="443.0" stroke="#555" stroke-width="1.1" stroke-dasharray="1.2 1.35"/>
<line x1="148.0" y1="443.0" x2="148.0" y2="559.0" stroke="#555" stroke-width="1.1" stroke-dasharray="1.2 1.35"/>
<line x1="31.7" y1="443.0" x2="31.7" y2="559.0" stroke="#555" stroke-width="1.1" stroke-dasharray="1.2 1.35"/>
<line x1="31.7" y1="559.0" x2="148.0" y2="559.0" stroke="#555" stroke-width="1.1" stroke-dasharray="1.2 1.35"/>
<line x1="89.85" y1="443.0" x2="89.85" y2="559.0" stroke="#7a7a7a" stroke-width="1.2"/>
<line x1="31.7" y1="501.0" x2="148.0" y2="501.0" stroke="#7a7a7a" stroke-width="1.2"/>
<line x1="31.7" y1="559.0" x2="148.0" y2="443.0" stroke="#555" stroke-width="1.1"/>
<path d="M236 915h2m6 11h2m26 0h2m-31 7h2m-10 3h2m-11 1h2m17 0h2m-6 1h2m-6 3h2m13 0h2m-27 1h2m22 2h2m-27 1h2m-6 2h2m25 0h2m-21 1h2m1 0h2m23 1h2m-57 4h2m11 1h2m-1 0h2m13 0h2m-10 1h2m5 0h2m-31 2h2m13 1h2m1 0h2m-32 1h2m12 0h2m2 0h2m5 0h2m-2 0h2m13 0h2m4 0h2m25 0h2m-43 1h2m-28 1h2m15 0h2m-29 1h2m3 0h2m0 0h2m6 0h2m-2 0h2m6 0h2m0 0h2m6 0h2m-52 1h2m25 0h2m1 0h2m0 0h2m12 0h2m-1 0h2m-2 0h2m12 0h2m-45 1h2m12 0h2m1 0h2m4 0h2m-2 0h2m7 0h2m6 0h2m-46 1h2m4 0h2m5 0h2m4 0h2m6 0h2m2 0h2m-2 0h2m-30 1h2m7 0h2m-2 0h2m1 0h2m4 0h2m1 0h2m-1 0h2m0 0h2m0 0h2m10 0h2m-1 0h2m1 0h2m-43 1h2m13 0h2m5 0h2m-1 0h2m8 0h2m2 0h2m4 0h2m9 0h2m-37 1h2m4 0h2m0 0h2m-17 1h2m2 0h2m-1 0h2m8 0h2m2 0h2m7 0h2m0 0h2m-38 1h2m1 0h2m7 0h2m9 0h2m0 0h2m0 0h2m-31 1h2m1 0h2m8 0h2m-1 0h2m-3 1h2m0 0h2m-1 0h2m-1 0h2m5 0h2m-1 0h2m5 0h2m-2 0h2m-24 1h2m8 0h2m5 0h2m-29 1h2m1 0h2m2 0h2m-2 0h2m10 0h2m6 0h2m-42 1h2m10 0h2m0 0h2m3 0h2m0 0h2m6 0h2m10 0h2m-41 1h2m2 0h2m4 0h2m5 0h2m-1 0h2m3 0h2m2 0h2m4 0h2m-1 0h2m-28 1h2m-1 0h2m2 0h2m3 0h2m-2 0h2m-1 0h2m12 0h2m-1 0h2m-1 0h2m-2 0h2m14 0h2m-78 1h2m35 0h2m0 0h2m-2 0h2m2 0h2m-2 0h2m6 0h2m-2 0h2m13 0h2m-42 1h2m-1 0h2m4 0h2m8 0h2m0 0h2m1 0h2m0 0h2m-1 0h2m2 0h2m-2 0h2m-1 0h2m2 0h2m-28 1h2m-1 0h2m-2 0h2m1 0h2m9 0h2m1 0h2m14 0h2m-72 1h2m31 0h2m4 0h2m5 0h2m-1 0h2m2 0h2m2 0h2m0 0h2m-2 0h2m8 0h2m21 0h2m-79 1h2m20 0h2m-1 0h2m-2 0h2m9 0h2m3 0h2m-1 0h2m-2 0h2m0 0h2m8 0h2m9 0h2m14 0h2m-80 1h2m6 0h2m4 0h2m-2 0h2m-1 0h2m8 0h2m-1 0h2m0 0h2m-1 0h2m0 0h2m0 0h2m-2 0h2m-2 0h2m3 0h2m4 0h2m-2 0h2m2 0h2m2 0h2m45 0h2m-98 1h2m5 0h2m12 0h2m-2 0h2m-2 0h2m0 0h2m-1 0h2m-2 0h2m5 0h2m1 0h2m-1 0h2m-2 0h2m2 0h2m17 0h2m-78 1h2m13 0h2m8 0h2m-1 0h2m-2 0h2m2 0h2m-1 0h2m0 0h2m2 0h2m1 0h2m1 0h2m3 0h2m0 0h2m-1 0h2m-33 1h2m2 0h2m1 0h2m-2 0h2m-1 0h2m-2 0h2m3 0h2m4 0h2m0 0h2m0 0h2m-2 0h2m1 0h2m1 0h2m-1 0h2m-1 0h2m-1 0h2m0 0h2m1 0h2m4 0h2m-35 1h2m1 0h2m-1 0h2m1 0h2m2 0h2m-1 0h2m-2 0h2m-1 0h2m-2 0h2m-2 0h2m1 0h2m1 0h2m2 0h2m1 0h2m-37 1h2m1 0h2m-1 0h2m0 0h2m2 0h2m9 0h2m1 0h2m-1 0h2m18 0h2m-79 1h2m29 0h2m2 0h2m1 0h2m-1 0h2m-1 0h2m-1 0h2m-1 0h2m0 0h2m0 0h2m-2 0h2m2 0h2m-1 0h2m0 0h2m4 0h2m-1 0h2m-1 0h2m-42 1h2m0 0h2m4 0h2m-1 0h2m3 0h2m-2 0h2m0 0h2m1 0h2m0 0h2m-2 0h2m5 0h2m2 0h2m-1 0h2m-35 1h2m0 0h2m15 0h2m-2 0h2m4 0h2m2 0h2m-1 0h2m-2 0h2m-1 0h2m6 0h2m1 0h2m-34 1h2m4 0h2m-1 0h2m-1 0h2m-2 0h2m-1 0h2m0 0h2m4 0h2m6 0h2m1 0h2m-1 0h2m3 0h2m37 0h2m-81 1h2m11 0h2m2 0h2m1 0h2m1 0h2m2 0h2m0 0h2m1 0h2m2 0h2m12 0h2m24 0h2m-87 1h2m14 0h2m1 0h2m6 0h2m3 0h2m-1 0h2m1 0h2m-2 0h2m-1 0h2m0 0h2m0 0h2m1 0h2m-2 0h2m-42 1h2m7 0h2m2 0h2m4 0h2m0 0h2m-1 0h2m9 0h2m1 0h2m16 0h2m-57 1h2m6 0h2m0 0h2m2 0h2m-2 0h2m1 0h2m0 0h2m2 0h2m1 0h2m0 0h2m-2 0h2m-1 0h2m1 0h2m3 0h2m-52 1h2m6 0h2m21 0h2m2 0h2m0 0h2m-1 0h2m0 0h2m-2 0h2m0 0h2m1 0h2m-1 0h2m23 0h2m-131 1h2m75 0h2m8 0h2m2 0h2m-2 0h2m-2 0h2m0 0h2m0 0h2m-1 0h2m3 0h2m1 0h2m5 0h2m0 0h2m22 0h2m-76 1h2m14 0h2m-2 0h2m-1 0h2m1 0h2m-1 0h2m2 0h2m-1 0h2m-2 0h2m-1 0h2m0 0h2m-1 0h2m-1 0h2m0 0h2m-2 0h2m11 0h2m2 0h2m1 0h2m12 0h2m-42 1h2m-1 0h2m1 0h2m-1 0h2m-1 0h2m1 0h2m-2 0h2m-1 0h2m0 0h2m1 0h2m-1 0h2m1 0h2m10 0h2m-56 1h2m7 0h2m3 0h2m-2 0h2m-2 0h2m-1 0h2m0 0h2m-2 0h2m-1 0h2m2 0h2m0 0h2m-1 0h2m-2 0h2m7 0h2m4 0h2m1 0h2m-1 0h2m8 0h2m-94 1h2m37 0h2m10 0h2m-1 0h2m-2 0h2m-2 0h2m1 0h2m-1 0h2m-2 0h2m0 0h2m2 0h2m-1 0h2m-1 0h2m-2 0h2m-1 0h2m-1 0h2m-1 0h2m-2 0h2m33 0h2m-78 1h2m7 0h2m9 0h2m0 0h2m-1 0h2m0 0h2m0 0h2m-2 0h2m3 0h2m0 0h2m-2 0h2m-2 0h2m1 0h2m-2 0h2m-1 0h2m-1 0h2m3 0h2m-1 0h2m-1 0h2m-2 0h2m-1 0h2m-1 0h2m-1 0h2m-1 0h2m-1 0h2m4 0h2m8 0h2m2 0h2m-62 1h2m4 0h2m0 0h2m8 0h2m-2 0h2m0 0h2m-1 0h2m5 0h2m-2 0h2m2 0h2m5 0h2m-1 0h2m2 0h2m-1 0h2m0 0h2m-48 1h2m-1 0h2m7 0h2m-1 0h2m0 0h2m0 0h2m2 0h2m-1 0h2m-2 0h2m-1 0h2m0 0h2m-2 0h2m-1 0h2m-1 0h2m0 0h2m-2 0h2m-1 0h2m1 0h2m1 0h2m-1 0h2m5 0h2m-122 1h2m85 0h2m5 0h2m1 0h2m1 0h2m-2 0h2m4 0h2m-1 0h2m7 0h2m0 0h2m8 0h2m8 0h2m-92 1h2m18 0h2m11 0h2m8 0h2m-2 0h2m2 0h2m-2 0h2m6 0h2m0 0h2m-2 0h2m-1 0h2m-1 0h2m3 0h2m-41 1h2m9 0h2m1 0h2m4 0h2m-1 0h2m-1 0h2m-2 0h2m-1 0h2m-1 0h2m8 0h2m-1 0h2m5 0h2m-38 1h2m0 0h2m7 0h2m-1 0h2m0 0h2m-1 0h2m-1 0h2m2 0h2m-1 0h2m1 0h2m-1 0h2m7 0h2m0 0h2m75 0h2m-126 1h2m9 0h2m2 0h2m-1 0h2m0 0h2m4 0h2m3 0h2m0 0h2m0 0h2m-1 0h2m-1 0h2m2 0h2m-1 0h2m-1 0h2m0 0h2m7 0h2m-117 1h2m56 0h2m20 0h2m7 0h2m1 0h2m5 0h2m-2 0h2m-1 0h2m-2 0h2m4 0h2m-43 1h2m3 0h2m5 0h2m-2 0h2m0 0h2m-1 0h2m6 0h2m3 0h2m2 0h2m8 0h2m-60 1h2m18 0h2m1 0h2m11 0h2m-2 0h2m5 0h2m0 0h2m1 0h2m-1 0h2m2 0h2m3 0h2m1 0h2m5 0h2m-65 1h2m12 0h2m3 0h2m0 0h2m5 0h2m-1 0h2m-2 0h2m1 0h2m1 0h2m0 0h2m-2 0h2m-1 0h2m1 0h2m-1 0h2m5 0h2m-1 0h2m3 0h2m-51 1h2m1 0h2m10 0h2m-2 0h2m4 0h2m0 0h2m-1 0h2m-1 0h2m0 0h2m0 0h2m-2 0h2m1 0h2m6 0h2m1 0h2m-1 0h2m19 0h2m2 0h2m-115 1h2m45 0h2m1 0h2m4 0h2m-2 0h2m-2 0h2m1 0h2m-2 0h2m10 0h2m0 0h2m0 0h2m3 0h2m-1 0h2m4 0h2m6 0h2m-50 1h2m0 0h2m4 0h2m-1 0h2m1 0h2m3 0h2m0 0h2m-1 0h2m-1 0h2m-2 0h2m-2 0h2m-2 0h2m1 0h2m-2 0h2m0 0h2m-2 0h2m4 0h2m-36 1h2m9 0h2m-1 0h2m0 0h2m1 0h2m1 0h2m-2 0h2m0 0h2m-2 0h2m-1 0h2m-2 0h2m1 0h2m4 0h2m-2 0h2m0 0h2m-2 0h2m-1 0h2m6 0h2m-43 1h2m1 0h2m2 0h2m-1 0h2m1 0h2m-1 0h2m2 0h2m-2 0h2m-2 0h2m-1 0h2m1 0h2m-1 0h2m-1 0h2m7 0h2m-39 1h2m3 0h2m0 0h2m3 0h2m-1 0h2m-2 0h2m5 0h2m-2 0h2m-1 0h2m-2 0h2m-1 0h2m1 0h2m-1 0h2m-1 0h2m3 0h2m4 0h2m3 0h2m-38 1h2m3 0h2m3 0h2m-1 0h2m0 0h2m-1 0h2m-1 0h2m-1 0h2m1 0h2m0 0h2m0 0h2m2 0h2m-2 0h2m2 0h2m-1 0h2m-2 0h2m6 0h2m5 0h2m21 0h2m-81 1h2m2 0h2m1 0h2m6 0h2m6 0h2m0 0h2m0 0h2m-1 0h2m20 0h2m-1 0h2m12 0h2m-68 1h2m7 0h2m2 0h2m4 0h2m0 0h2m1 0h2m4 0h2m2 0h2m6 0h2m-1 0h2m23 0h2m-122 1h2m13 0h2m47 0h2m0 0h2m-1 0h2m0 0h2m0 0h2m6 0h2m0 0h2m-2 0h2m0 0h2m6 0h2m-2 0h2m13 0h2m-68 1h2m5 0h2m3 0h2m1 0h2m-1 0h2m5 0h2m-2 0h2m-2 0h2m-1 0h2m-2 0h2m1 0h2m1 0h2m7 0h2m1 0h2m-2 0h2m-1 0h2m-1 0h2m0 0h2m-2 0h2m12 0h2m22 0h2m-64 1h2m4 0h2m-1 0h2m-2 0h2m-2 0h2m-1 0h2m1 0h2m-1 0h2m-1 0h2m0 0h2m3 0h2m-1 0h2m-1 0h2m1 0h2m-1 0h2m6 0h2m12 0h2m17 0h2m-94 1h2m20 0h2m-1 0h2m3 0h2m-2 0h2m-2 0h2m3 0h2m3 0h2m-1 0h2m-1 0h2m-1 0h2m1 0h2m-1 0h2m-2 0h2m-1 0h2m-1 0h2m1 0h2m0 0h2m5 0h2m-46 1h2m3 0h2m3 0h2m-2 0h2m-1 0h2m2 0h2m-1 0h2m2 0h2m7 0h2m6 0h2m5 0h2m-1 0h2m-75 1h2m23 0h2m6 0h2m13 0h2m8 0h2m-1 0h2m1 0h2m4 0h2m-96 1h2m56 0h2m-1 0h2m0 0h2m0 0h2m-1 0h2m12 0h2m0 0h2m1 0h2m3 0h2m2 0h2m3 0h2m22 0h2m-74 1h2m1 0h2m14 0h2m0 0h2m-1 0h2m-2 0h2m5 0h2m2 0h2m-1 0h2m2 0h2m2 0h2m-34 1h2m1 0h2m8 0h2m2 0h2m-1 0h2m2 0h2m24 0h2m47 0h2m-110 1h2m10 0h2m-1 0h2m2 0h2m0 0h2m0 0h2m-1 0h2m-1 0h2m0 0h2m5 0h2m7 0h2m19 0h2m-90 1h2m18 0h2m5 0h2m7 0h2m5 0h2m17 0h2m-35 1h2m0 0h2m2 0h2m2 0h2m-1 0h2m7 0h2m-2 0h2m19 0h2m-47 1h2m7 0h2m0 0h2m-1 0h2m-2 0h2m3 0h2m-1 0h2m-1 0h2m-1 0h2m3 0h2m-23 1h2m3 0h2m2 0h2m13 0h2m-22 1h2m10 0h2m-1 0h2m3 0h2m5 0h2m10 0h2m-79 1h2m38 0h2m2 0h2m-2 0h2m0 0h2m0 0h2m9 0h2m-2 0h2m-1 0h2m23 0h2m-67 1h2m22 0h2m9 0h2m46 0h2m-99 1h2m1 0h2m24 0h2m-1 0h2m11 0h2m2 0h2m6 0h2m-81 1h2m65 0h2m0 0h2m2 0h2m1 0h2m29 0h2m-73 1h2m15 0h2m1 0h2m17 0h2m2 0h2m2 0h2m-76 1h2m31 0h2m17 0h2m1 0h2m-2 0h2m0 0h2m1 0h2m9 0h2m-42 1h2m16 0h2m-1 0h2m0 0h2m2 0h2m-1 0h2m18 0h2m-53 1h2m3 0h2m0 0h2m1 0h2m3 0h2m16 0h2m-1 0h2m6 0h2m-1 0h2m21 0h2m-27 1h2m9 0h2m-55 1h2m24 0h2m0 0h2m-74 1h2m55 0h2m5 0h2m0 0h2m3 0h2m0 0h2m8 0h2m10 0h2m-44 1h2m8 0h2m-10 1h2m13 0h2m11 0h2m-31 1h2m11 0h2m10 0h2m-25 1h2m7 0h2m-5 1h2m5 0h2m9 0h2m13 0h2m-31 1h2m8 0h2m17 0h2m-41 1h2m-6 2h2m0 0h2m3 0h2m16 0h2m-41 1h2m94 0h2m-93 1h2m10 0h2m0 0h2m0 0h2m6 0h2m3 0h2m-44 1h2m14 1h2m17 0h2m58 2h2m-97 4h2m10 1h2m0 0h2m13 0h2m-38 1h2m5 0h2m8 2h2m9 1h2m-18 1h2m-7 2h2m15 0h2m13 1h2m-21 2h2m13 0h2m-9 2h2m-33 3h2m-1 10h2" stroke="#000" stroke-opacity="0.28900000000000003" stroke-width="2" transform="scale(.5)"/>
<path d="M224 926h2m21 2h2m0 0h2m-14 2h2m-1 0h2m2 0h2m2 2h2m-9 1h2m22 1h2m-8 3h2m-15 1h2m-10 1h2m13 1h2m-3 1h2m13 0h2m-31 4h2m-2 1h2m9 0h2m-36 1h2m-23 1h2m38 0h2m12 1h2m-34 1h2m16 0h2m7 0h2m-23 1h2m9 0h2m1 0h2m4 0h2m-38 2h2m12 0h2m1 0h2m-1 1h2m3 0h2m4 0h2m-82 1h2m63 0h2m18 0h2m4 0h2m-38 1h2m4 0h2m3 0h2m0 0h2m4 0h2m14 0h2m-28 1h2m2 0h2m2 0h2m12 0h2m-19 1h2m3 0h2m18 0h2m0 0h2m-33 1h2m30 0h2m-33 1h2m-2 0h2m3 0h2m19 0h2m-33 1h2m8 0h2m-1 0h2m12 0h2m-102 1h2m80 0h2m-2 0h2m11 0h2m-1 0h2m-39 1h2m8 0h2m2 0h2m-1 0h2m8 0h2m22 0h2m-67 1h2m19 0h2m1 0h2m31 0h2m-40 1h2m4 0h2m4 0h2m7 0h2m-46 1h2m21 0h2m-2 0h2m10 0h2m-1 0h2m6 0h2m-1 0h2m-40 1h2m16 0h2m3 0h2m0 0h2m21 0h2m-47 1h2m1 0h2m5 0h2m3 0h2m-2 0h2m26 0h2m2 0h2m-37 1h2m-1 0h2m4 0h2m1 0h2m-2 0h2m1 0h2m-2 0h2m-27 1h2m10 0h2m-2 0h2m8 0h2m0 0h2m2 0h2m2 0h2m-1 0h2m1 0h2m4 0h2m3 0h2m-43 1h2m-2 0h2m20 0h2m3 0h2m6 0h2m-55 1h2m13 0h2m23 0h2m13 0h2m-49 1h2m1 0h2m10 0h2m14 0h2m2 0h2m-37 1h2m8 0h2m5 0h2m4 0h2m3 0h2m-2 0h2m51 0h2m-77 1h2m16 0h2m3 0h2m1 0h2m1 0h2m2 0h2m16 0h2m0 0h2m-53 1h2m2 0h2m-1 0h2m2 0h2m6 0h2m-1 0h2m-1 0h2m3 0h2m-36 1h2m3 0h2m4 0h2m6 0h2m-2 0h2m6 0h2m8 0h2m-40 1h2m2 0h2m3 0h2m16 0h2m1 0h2m4 0h2m11 0h2m-51 1h2m0 0h2m0 0h2m4 0h2m5 0h2m0 0h2m7 0h2m-1 0h2m-2 0h2m4 0h2m-45 1h2m4 0h2m11 0h2m0 0h2m0 0h2m9 0h2m0 0h2m6 0h2m-40 1h2m3 0h2m0 0h2m-1 0h2m9 0h2m4 0h2m5 0h2m0 0h2m1 0h2m-1 0h2m-2 0h2m-41 1h2m3 0h2m3 0h2m0 0h2m2 0h2m3 0h2m-1 0h2m-1 0h2m2 0h2m1 0h2m-1 0h2m5 0h2m2 0h2m1 0h2m-63 1h2m14 0h2m4 0h2m1 0h2m-1 0h2m0 0h2m-1 0h2m2 0h2m1 0h2m-1 0h2m1 0h2m0 0h2m7 0h2m-38 1h2m2 0h2m0 0h2m-1 0h2m4 0h2m-1 0h2m-1 0h2m0 0h2m21 0h2m-43 1h2m5 0h2m2 0h2m2 0h2m1 0h2m-1 0h2m2 0h2m-1 0h2m17 0h2m0 0h2m-43 1h2m0 0h2m-2 0h2m1 0h2m5 0h2m-1 0h2m2 0h2m-1 0h2m-1 0h2m1 0h2m0 0h2m-1 0h2m2 0h2m1 0h2m-42 1h2m8 0h2m0 0h2m3 0h2m1 0h2m-2 0h2m-2 0h2m-1 0h2m-2 0h2m0 0h2m1 0h2m1 0h2m-2 0h2m6 0h2m3 0h2m-45 1h2m14 0h2m4 0h2m0 0h2m5 0h2m2 0h2m-2 0h2m1 0h2m4 0h2m-2 0h2m-55 1h2m8 0h2m8 0h2m-2 0h2m4 0h2m4 0h2m1 0h2m2 0h2m0 0h2m9 0h2m3 0h2m-50 1h2m7 0h2m-1 0h2m1 0h2m-2 0h2m-2 0h2m6 0h2m-1 0h2m-2 0h2m3 0h2m-1 0h2m-1 0h2m1 0h2m-1 0h2m1 0h2m6 0h2m-76 1h2m17 0h2m15 0h2m0 0h2m-2 0h2m4 0h2m-2 0h2m-1 0h2m-2 0h2m2 0h2m-1 0h2m4 0h2m-2 0h2m-1 0h2m3 0h2m2 0h2m5 0h2m-1 0h2m-52 1h2m4 0h2m12 0h2m-2 0h2m3 0h2m-1 0h2m3 0h2m1 0h2m2 0h2m15 0h2m-55 1h2m5 0h2m1 0h2m2 0h2m1 0h2m0 0h2m0 0h2m-2 0h2m-2 0h2m-1 0h2m1 0h2m1 0h2m-2 0h2m2 0h2m1 0h2m0 0h2m-57 1h2m4 0h2m16 0h2m1 0h2m-1 0h2m-1 0h2m0 0h2m-1 0h2m3 0h2m0 0h2m7 0h2m-2 0h2m0 0h2m-1 0h2m-2 0h2m4 0h2m-2 0h2m-2 0h2m-52 1h2m4 0h2m13 0h2m0 0h2m-2 0h2m-2 0h2m-1 0h2m-1 0h2m-1 0h2m1 0h2m9 0h2m1 0h2m-2 0h2m0 0h2m1 0h2m47 0h2m-116 1h2m21 0h2m12 0h2m-1 0h2m6 0h2m3 0h2m-2 0h2m-1 0h2m0 0h2m1 0h2m-1 0h2m0 0h2m-1 0h2m-36 1h2m-2 0h2m3 0h2m1 0h2m0 0h2m0 0h2m0 0h2m9 0h2m0 0h2m1 0h2m0 0h2m-48 1h2m4 0h2m8 0h2m9 0h2m-1 0h2m3 0h2m-2 0h2m0 0h2m6 0h2m1 0h2m-2 0h2m1 0h2m1 0h2m28 0h2m-69 1h2m3 0h2m-1 0h2m4 0h2m2 0h2m0 0h2m6 0h2m-2 0h2m-2 0h2m-2 0h2m1 0h2m17 0h2m6 0h2m-109 1h2m15 0h2m31 0h2m4 0h2m4 0h2m5 0h2m-1 0h2m-1 0h2m20 0h2m-60 1h2m7 0h2m-2 0h2m-2 0h2m3 0h2m-1 0h2m1 0h2m-2 0h2m-2 0h2m-1 0h2m1 0h2m2 0h2m-1 0h2m1 0h2m-1 0h2m-1 0h2m-2 0h2m13 0h2m-44 1h2m3 0h2m0 0h2m6 0h2m0 0h2m1 0h2m1 0h2m-1 0h2m1 0h2m-1 0h2m3 0h2m-1 0h2m4 0h2m-1 0h2m0 0h2m-2 0h2m0 0h2m-1 0h2m1 0h2m-68 1h2m27 0h2m0 0h2m-1 0h2m2 0h2m3 0h2m-1 0h2m0 0h2m0 0h2m-2 0h2m-34 1h2m-1 0h2m7 0h2m7 0h2m0 0h2m-1 0h2m2 0h2m0 0h2m-2 0h2m1 0h2m-1 0h2m-2 0h2m-1 0h2m-1 0h2m-2 0h2m-1 0h2m0 0h2m-1 0h2m-2 0h2m8 0h2m4 0h2m0 0h2m-87 1h2m20 0h2m12 0h2m1 0h2m-1 0h2m2 0h2m0 0h2m0 0h2m-1 0h2m0 0h2m-1 0h2m-1 0h2m0 0h2m1 0h2m9 0h2m0 0h2m2 0h2m4 0h2m10 0h2m-56 1h2m-2 0h2m-1 0h2m8 0h2m2 0h2m0 0h2m-1 0h2m-1 0h2m-2 0h2m1 0h2m-47 1h2m4 0h2m0 0h2m19 0h2m1 0h2m-1 0h2m0 0h2m0 0h2m-1 0h2m2 0h2m-2 0h2m-1 0h2m-2 0h2m1 0h2m2 0h2m3 0h2m0 0h2m10 0h2m-57 1h2m1 0h2m-2 0h2m2 0h2m-2 0h2m4 0h2m3 0h2m1 0h2m-1 0h2m1 0h2m-1 0h2m-1 0h2m0 0h2m-2 0h2m2 0h2m-1 0h2m0 0h2m2 0h2m-36 1h2m2 0h2m4 0h2m-1 0h2m5 0h2m-1 0h2m2 0h2m3 0h2m-1 0h2m1 0h2m-2 0h2m-33 1h2m3 0h2m0 0h2m0 0h2m0 0h2m-1 0h2m0 0h2m0 0h2m0 0h2m-2 0h2m1 0h2m1 0h2m2 0h2m0 0h2m5 0h2m-51 1h2m11 0h2m11 0h2m-1 0h2m0 0h2m-2 0h2m-2 0h2m0 0h2m-2 0h2m1 0h2m0 0h2m0 0h2m0 0h2m-2 0h2m-46 1h2m9 0h2m0 0h2m-1 0h2m0 0h2m-1 0h2m0 0h2m-1 0h2m-2 0h2m1 0h2m0 0h2m-2 0h2m-2 0h2m-1 0h2m-2 0h2m-1 0h2m-1 0h2m-1 0h2m2 0h2m-1 0h2m0 0h2m2 0h2m16 0h2m-59 1h2m-1 0h2m7 0h2m3 0h2m1 0h2m-2 0h2m0 0h2m-2 0h2m-1 0h2m4 0h2m3 0h2m1 0h2m-1 0h2m-1 0h2m1 0h2m-1 0h2m2 0h2m-82 1h2m25 0h2m8 0h2m0 0h2m3 0h2m3 0h2m2 0h2m0 0h2m1 0h2m-1 0h2m-2 0h2m-1 0h2m-1 0h2m-1 0h2m-2 0h2m0 0h2m0 0h2m-1 0h2m-1 0h2m3 0h2m2 0h2m-1 0h2m4 0h2m-1 0h2m5 0h2m-64 1h2m14 0h2m-2 0h2m2 0h2m-1 0h2m0 0h2m-2 0h2m1 0h2m2 0h2m1 0h2m2 0h2m-1 0h2m-1 0h2m6 0h2m2 0h2m-84 1h2m34 0h2m-2 0h2m14 0h2m-1 0h2m-1 0h2m0 0h2m0 0h2m5 0h2m11 0h2m-72 1h2m21 0h2m1 0h2m12 0h2m2 0h2m-1 0h2m1 0h2m0 0h2m-1 0h2m-2 0h2m3 0h2m-2 0h2m15 0h2m-45 1h2m-2 0h2m2 0h2m-1 0h2m-1 0h2m-1 0h2m8 0h2m9 0h2m1 0h2m-1 0h2m3 0h2m17 0h2m-107 1h2m32 0h2m19 0h2m1 0h2m8 0h2m1 0h2m-2 0h2m2 0h2m-1 0h2m4 0h2m-2 0h2m2 0h2m-1 0h2m2 0h2m-37 1h2m0 0h2m-2 0h2m-1 0h2m0 0h2m0 0h2m0 0h2m1 0h2m-1 0h2m-2 0h2m1 0h2m-1 0h2m-1 0h2m4 0h2m0 0h2m1 0h2m-46 1h2m3 0h2m2 0h2m4 0h2m2 0h2m-1 0h2m2 0h2m-1 0h2m1 0h2m-2 0h2m1 0h2m1 0h2m0 0h2m-1 0h2m-1 0h2m10 0h2m-47 1h2m-2 0h2m4 0h2m1 0h2m-1 0h2m-2 0h2m2 0h2m2 0h2m0 0h2m-1 0h2m2 0h2m1 0h2m-1 0h2m35 0h2m-91 1h2m17 0h2m0 0h2m8 0h2m0 0h2m6 0h2m1 0h2m2 0h2m-1 0h2m-1 0h2m0 0h2m1 0h2m-1 0h2m2 0h2m78 0h2m-124 1h2m-2 0h2m1 0h2m0 0h2m0 0h2m3 0h2m-1 0h2m-1 0h2m-1 0h2m0 0h2m0 0h2m1 0h2m3 0h2m0 0h2m1 0h2m0 0h2m5 0h2m-1 0h2m-59 1h2m18 0h2m2 0h2m-1 0h2m0 0h2m-2 0h2m2 0h2m0 0h2m5 0h2m-2 0h2m-1 0h2m-1 0h2m37 0h2m-87 1h2m28 0h2m-2 0h2m2 0h2m8 0h2m0 0h2m4 0h2m-1 0h2m-2 0h2m-35 1h2m-2 0h2m1 0h2m7 0h2m3 0h2m-1 0h2m5 0h2m-22 1h2m-56 1h2m7 0h2m39 0h2m1 0h2m2 0h2m0 0h2m2 0h2m4 0h2m-41 1h2m18 0h2m-1 0h2m-1 0h2m0 0h2m4 0h2m0 0h2m1 0h2m3 0h2m0 0h2m2 0h2m-1 0h2m2 0h2m7 0h2m-54 1h2m9 0h2m0 0h2m4 0h2m3 0h2m2 0h2m-1 0h2m-1 0h2m1 0h2m2 0h2m-2 0h2m2 0h2m35 0h2m-65 1h2m3 0h2m-1 0h2m4 0h2m2 0h2m3 0h2m-1 0h2m-100 1h2m24 0h2m19 0h2m27 0h2m2 0h2m12 0h2m-1 0h2m2 0h2m-46 1h2m21 0h2m1 0h2m-2 0h2m0 0h2m18 0h2m-81 1h2m33 0h2m0 0h2m-1 0h2m12 0h2m-2 0h2m4 0h2m10 0h2m-93 1h2m60 0h2m5 0h2m2 0h2m9 0h2m0 0h2m2 0h2m2 0h2m-31 1h2m-2 0h2m-2 0h2m4 0h2m2 0h2m0 0h2m2 0h2m3 0h2m10 0h2m-2 0h2m-40 1h2m13 0h2m16 0h2m3 0h2m-48 1h2m12 0h2m4 0h2m-2 0h2m2 0h2m-1 0h2m0 0h2m1 0h2m3 0h2m4 0h2m-39 1h2m7 0h2m0 0h2m4 0h2m2 0h2m6 0h2m-22 1h2m3 0h2m4 0h2m5 0h2m3 0h2m-2 0h2m4 0h2m-36 1h2m4 0h2m-1 0h2m9 0h2m1 0h2m1 0h2m-17 1h2m4 0h2m6 0h2m-2 0h2m12 0h2m6 0h2m-37 1h2m9 0h2m53 0h2m-81 1h2m5 0h2m0 0h2m10 0h2m5 0h2m1 0h2m-86 1h2m21 0h2m31 0h2m3 0h2m1 0h2m4 0h2m-2 0h2m0 0h2m-30 1h2m12 0h2m0 0h2m27 0h2m-23 1h2m25 0h2m1 0h2m-49 1h2m3 0h2m40 0h2m-45 1h2m16 0h2m0 0h2m0 0h2m48 0h2m-86 1h2m6 0h2m-1 0h2m0 0h2m-1 0h2m11 0h2m2 0h2m-2 0h2m-29 1h2m1 0h2m2 0h2m3 0h2m27 0h2m13 0h2m-55 1h2m6 0h2m12 0h2m-51 1h2m20 0h2m-1 0h2m8 0h2m4 0h2m-22 1h2m13 0h2m1 0h2m10 0h2m-25 1h2m5 0h2m0 0h2m18 0h2m-37 1h2m22 0h2m-3 1h2m21 0h2m-28 1h2m22 0h2m-41 1h2m4 0h2m23 0h2m-51 1h2m6 0h2m28 0h2m-58 1h2m35 0h2m-6 1h2m50 0h2m-68 1h2m11 0h2m-31 1h2m9 0h2m14 1h2m4 0h2m10 2h2m-2 1h2m-21 1h2m21 0h2m-23 1h2m9 0h2m-28 1h2m-2 1h2m-36 3h2m40 3h2m-18 1h2m17 1h2m-15 1h2m14 6h2m-27 11h2" stroke="#000" stroke-opacity="0.28900000000000003" stroke-width="2" transform="scale(.5)"/>
<path d="M239 928h2m-10 2h2m3 1h2m0 2h2m8 0h2m-14 7h2m-15 1h2m8 0h2m26 3h2m-46 2h2m-10 1h2m15 0h2m-23 1h2m4 0h2m27 0h2m-15 1h2m0 0h2m5 0h2m-38 2h2m2 0h2m12 0h2m7 1h2m5 0h2m5 0h2m-33 1h2m8 0h2m-18 1h2m14 0h2m4 1h2m0 0h2m1 0h2m9 0h2m26 0h2m-46 1h2m10 0h2m-38 1h2m-2 1h2m9 0h2m5 1h2m11 0h2m-29 1h2m13 0h2m-11 1h2m3 0h2m0 0h2m3 0h2m-2 1h2m3 0h2m4 0h2m-38 1h2m3 0h2m5 0h2m0 0h2m1 0h2m3 0h2m1 0h2m0 0h2m7 0h2m-41 1h2m9 0h2m3 0h2m21 0h2m-32 1h2m5 0h2m0 0h2m-1 0h2m4 0h2m-32 1h2m11 0h2m4 0h2m1 0h2m-2 0h2m1 0h2m6 0h2m-43 1h2m9 0h2m7 0h2m-2 0h2m4 0h2m-1 0h2m1 0h2m5 0h2m2 0h2m-1 0h2m0 0h2m3 0h2m-48 1h2m-2 0h2m10 0h2m12 0h2m2 0h2m17 0h2m-48 1h2m6 0h2m0 0h2m4 0h2m5 0h2m9 0h2m-90 1h2m73 0h2m9 0h2m-43 1h2m11 0h2m2 0h2m-1 0h2m1 0h2m-2 0h2m2 0h2m-1 0h2m-1 0h2m-1 0h2m-22 1h2m11 0h2m6 0h2m1 0h2m1 0h2m1 0h2m2 0h2m-1 0h2m-59 1h2m22 0h2m-1 0h2m9 0h2m3 0h2m-1 0h2m-1 0h2m1 0h2m7 0h2m-72 1h2m36 0h2m6 0h2m2 0h2m1 0h2m0 0h2m0 0h2m0 0h2m0 0h2m-1 0h2m0 0h2m0 0h2m-2 0h2m-43 1h2m13 0h2m4 0h2m0 0h2m3 0h2m-31 1h2m11 0h2m5 0h2m7 0h2m-1 0h2m-2 0h2m0 0h2m6 0h2m3 0h2m2 0h2m-45 1h2m-2 0h2m6 0h2m-2 0h2m4 0h2m-2 0h2m6 0h2m1 0h2m9 0h2m-39 1h2m5 0h2m3 0h2m6 0h2m-2 0h2m-1 0h2m-1 0h2m-1 0h2m0 0h2m-1 0h2m2 0h2m13 0h2m-40 1h2m3 0h2m3 0h2m-1 0h2m8 0h2m6 0h2m3 0h2m-45 1h2m2 0h2m6 0h2m3 0h2m2 0h2m1 0h2m-2 0h2m0 0h2m0 0h2m0 0h2m3 0h2m-43 1h2m10 0h2m0 0h2m3 0h2m10 0h2m-1 0h2m14 0h2m1 0h2m0 0h2m28 0h2m-97 1h2m11 0h2m6 0h2m0 0h2m3 0h2m1 0h2m2 0h2m3 0h2m-1 0h2m0 0h2m0 0h2m-2 0h2m3 0h2m-2 0h2m-1 0h2m-1 0h2m-26 1h2m0 0h2m1 0h2m8 0h2m0 0h2m0 0h2m1 0h2m1 0h2m1 0h2m-1 0h2m-1 0h2m0 0h2m-35 1h2m3 0h2m0 0h2m0 0h2m0 0h2m-2 0h2m0 0h2m-2 0h2m6 0h2m-2 0h2m4 0h2m-2 0h2m18 0h2m-58 1h2m-1 0h2m0 0h2m7 0h2m-1 0h2m0 0h2m1 0h2m-2 0h2m0 0h2m2 0h2m10 0h2m3 0h2m3 0h2m-48 1h2m0 0h2m3 0h2m7 0h2m0 0h2m-1 0h2m1 0h2m1 0h2m2 0h2m0 0h2m7 0h2m-2 0h2m44 0h2m-97 1h2m7 0h2m2 0h2m2 0h2m2 0h2m-2 0h2m2 0h2m-2 0h2m1 0h2m0 0h2m-1 0h2m3 0h2m-1 0h2m14 0h2m-45 1h2m1 0h2m0 0h2m0 0h2m6 0h2m1 0h2m0 0h2m0 0h2m1 0h2m0 0h2m11 0h2m-41 1h2m-1 0h2m0 0h2m4 0h2m-1 0h2m-2 0h2m2 0h2m3 0h2m-1 0h2m0 0h2m4 0h2m5 0h2m-1 0h2m6 0h2m-52 1h2m-1 0h2m1 0h2m1 0h2m-1 0h2m-1 0h2m0 0h2m1 0h2m-1 0h2m3 0h2m-1 0h2m-1 0h2m1 0h2m0 0h2m16 0h2m-61 1h2m6 0h2m8 0h2m2 0h2m8 0h2m-2 0h2m-1 0h2m1 0h2m-1 0h2m-2 0h2m5 0h2m6 0h2m14 0h2m-92 1h2m32 0h2m6 0h2m3 0h2m-1 0h2m-1 0h2m3 0h2m-1 0h2m4 0h2m0 0h2m17 0h2m6 0h2m-68 1h2m2 0h2m6 0h2m1 0h2m0 0h2m-1 0h2m1 0h2m12 0h2m-1 0h2m0 0h2m0 0h2m2 0h2m7 0h2m11 0h2m-79 1h2m18 0h2m1 0h2m-1 0h2m4 0h2m-2 0h2m2 0h2m-1 0h2m5 0h2m-2 0h2m-1 0h2m6 0h2m-2 0h2m-1 0h2m3 0h2m0 0h2m0 0h2m-1 0h2m-90 1h2m43 0h2m2 0h2m-2 0h2m0 0h2m-2 0h2m1 0h2m-2 0h2m-2 0h2m1 0h2m-1 0h2m-1 0h2m-1 0h2m-1 0h2m-2 0h2m-2 0h2m1 0h2m1 0h2m3 0h2m3 0h2m-1 0h2m-44 1h2m-1 0h2m2 0h2m0 0h2m0 0h2m1 0h2m0 0h2m-1 0h2m-1 0h2m-1 0h2m1 0h2m1 0h2m-2 0h2m2 0h2m0 0h2m3 0h2m-1 0h2m1 0h2m2 0h2m-1 0h2m0 0h2m-104 1h2m64 0h2m1 0h2m4 0h2m2 0h2m-2 0h2m-1 0h2m-1 0h2m-2 0h2m-1 0h2m-1 0h2m7 0h2m0 0h2m-1 0h2m0 0h2m-55 1h2m18 0h2m2 0h2m3 0h2m0 0h2m2 0h2m1 0h2m0 0h2m-2 0h2m19 0h2m3 0h2m-56 1h2m9 0h2m-1 0h2m-1 0h2m1 0h2m1 0h2m0 0h2m-1 0h2m-1 0h2m1 0h2m0 0h2m0 0h2m6 0h2m13 0h2m-76 1h2m32 0h2m0 0h2m-1 0h2m3 0h2m-2 0h2m0 0h2m-1 0h2m-1 0h2m1 0h2m-1 0h2m1 0h2m-2 0h2m2 0h2m9 0h2m-49 1h2m3 0h2m-1 0h2m7 0h2m-2 0h2m-1 0h2m1 0h2m1 0h2m7 0h2m-1 0h2m-1 0h2m-2 0h2m-1 0h2m-2 0h2m0 0h2m-40 1h2m12 0h2m1 0h2m-1 0h2m-1 0h2m8 0h2m-1 0h2m-1 0h2m3 0h2m0 0h2m-1 0h2m8 0h2m-63 1h2m-2 0h2m17 0h2m4 0h2m-1 0h2m1 0h2m0 0h2m-2 0h2m-1 0h2m-1 0h2m-1 0h2m3 0h2m-1 0h2m-2 0h2m-2 0h2m-1 0h2m-2 0h2m0 0h2m1 0h2m0 0h2m-1 0h2m82 0h2m-113 1h2m-2 0h2m-1 0h2m-2 0h2m0 0h2m0 0h2m1 0h2m-1 0h2m-2 0h2m-1 0h2m-2 0h2m0 0h2m6 0h2m6 0h2m-2 0h2m5 0h2m-85 1h2m34 0h2m5 0h2m-1 0h2m5 0h2m1 0h2m2 0h2m-1 0h2m4 0h2m-1 0h2m1 0h2m3 0h2m15 0h2m-85 1h2m30 0h2m2 0h2m1 0h2m0 0h2m4 0h2m3 0h2m1 0h2m0 0h2m1 0h2m-1 0h2m0 0h2m-1 0h2m-2 0h2m0 0h2m1 0h2m7 0h2m-55 1h2m-1 0h2m8 0h2m-1 0h2m0 0h2m0 0h2m-1 0h2m-1 0h2m-1 0h2m0 0h2m0 0h2m0 0h2m-2 0h2m-1 0h2m-1 0h2m7 0h2m7 0h2m3 0h2m4 0h2m-49 1h2m5 0h2m-1 0h2m0 0h2m0 0h2m-1 0h2m0 0h2m-1 0h2m2 0h2m1 0h2m-34 1h2m3 0h2m0 0h2m9 0h2m0 0h2m-1 0h2m0 0h2m-2 0h2m2 0h2m0 0h2m2 0h2m0 0h2m2 0h2m-50 1h2m12 0h2m0 0h2m-2 0h2m1 0h2m-1 0h2m-1 0h2m6 0h2m-1 0h2m11 0h2m-1 0h2m2 0h2m-33 1h2m0 0h2m-2 0h2m1 0h2m1 0h2m-1 0h2m2 0h2m0 0h2m-2 0h2m4 0h2m9 0h2m-120 1h2m78 0h2m0 0h2m13 0h2m0 0h2m-2 0h2m0 0h2m0 0h2m-1 0h2m0 0h2m1 0h2m-2 0h2m-1 0h2m-1 0h2m8 0h2m-48 1h2m3 0h2m6 0h2m0 0h2m-2 0h2m1 0h2m-1 0h2m-2 0h2m1 0h2m7 0h2m2 0h2m15 0h2m-71 1h2m17 0h2m0 0h2m0 0h2m3 0h2m-1 0h2m0 0h2m9 0h2m-2 0h2m0 0h2m5 0h2m-1 0h2m-34 1h2m4 0h2m0 0h2m-2 0h2m4 0h2m-1 0h2m-1 0h2m0 0h2m0 0h2m5 0h2m3 0h2m-1 0h2m-1 0h2m-35 1h2m1 0h2m-2 0h2m-1 0h2m-1 0h2m1 0h2m1 0h2m1 0h2m-1 0h2m5 0h2m4 0h2m2 0h2m4 0h2m-64 1h2m17 0h2m-1 0h2m-1 0h2m-1 0h2m0 0h2m-1 0h2m-1 0h2m-1 0h2m7 0h2m2 0h2m1 0h2m-1 0h2m0 0h2m-1 0h2m-1 0h2m1 0h2m-1 0h2m-1 0h2m43 0h2m-104 1h2m21 0h2m1 0h2m1 0h2m-1 0h2m-1 0h2m-1 0h2m1 0h2m0 0h2m4 0h2m-1 0h2m-1 0h2m10 0h2m10 0h2m26 0h2m-85 1h2m12 0h2m3 0h2m2 0h2m-1 0h2m0 0h2m-2 0h2m-2 0h2m3 0h2m14 0h2m-96 1h2m44 0h2m1 0h2m2 0h2m2 0h2m0 0h2m3 0h2m-1 0h2m5 0h2m4 0h2m-1 0h2m2 0h2m4 0h2m-52 1h2m12 0h2m4 0h2m0 0h2m-1 0h2m1 0h2m6 0h2m1 0h2m-1 0h2m-1 0h2m-2 0h2m0 0h2m6 0h2m7 0h2m-52 1h2m5 0h2m1 0h2m-1 0h2m3 0h2m-2 0h2m1 0h2m-2 0h2m-2 0h2m-2 0h2m-1 0h2m1 0h2m-1 0h2m1 0h2m-2 0h2m-1 0h2m3 0h2m-2 0h2m-1 0h2m4 0h2m-2 0h2m1 0h2m8 0h2m-85 1h2m28 0h2m5 0h2m3 0h2m0 0h2m-1 0h2m-1 0h2m-1 0h2m1 0h2m-1 0h2m0 0h2m5 0h2m-1 0h2m0 0h2m-1 0h2m3 0h2m33 0h2m-78 1h2m8 0h2m5 0h2m-1 0h2m-1 0h2m-1 0h2m-2 0h2m1 0h2m7 0h2m1 0h2m7 0h2m-83 1h2m40 0h2m5 0h2m4 0h2m2 0h2m3 0h2m3 0h2m0 0h2m2 0h2m-2 0h2m-2 0h2m5 0h2m-2 0h2m-47 1h2m8 0h2m-1 0h2m0 0h2m-1 0h2m0 0h2m3 0h2m-1 0h2m-1 0h2m-1 0h2m4 0h2m-1 0h2m2 0h2m11 0h2m-69 1h2m23 0h2m10 0h2m1 0h2m-2 0h2m6 0h2m1 0h2m-2 0h2m2 0h2m12 0h2m-46 1h2m3 0h2m0 0h2m-1 0h2m-2 0h2m1 0h2m1 0h2m0 0h2m-2 0h2m-1 0h2m-1 0h2m-1 0h2m0 0h2m3 0h2m1 0h2m-78 1h2m51 0h2m-1 0h2m0 0h2m-1 0h2m1 0h2m1 0h2m-1 0h2m2 0h2m9 0h2m-58 1h2m12 0h2m5 0h2m2 0h2m3 0h2m0 0h2m-1 0h2m-1 0h2m4 0h2m-1 0h2m4 0h2m10 0h2m-62 1h2m14 0h2m10 0h2m2 0h2m-1 0h2m-2 0h2m3 0h2m5 0h2m-2 0h2m-1 0h2m-2 0h2m0 0h2m-1 0h2m-81 1h2m45 0h2m-2 0h2m1 0h2m0 0h2m4 0h2m1 0h2m7 0h2m-1 0h2m-1 0h2m8 0h2m0 0h2m3 0h2m-41 1h2m0 0h2m0 0h2m5 0h2m-1 0h2m-1 0h2m-2 0h2m2 0h2m5 0h2m-2 0h2m4 0h2m1 0h2m4 0h2m9 0h2m-65 1h2m-1 0h2m11 0h2m0 0h2m5 0h2m5 0h2m3 0h2m-22 1h2m2 0h2m-2 0h2m-1 0h2m0 0h2m-2 0h2m15 0h2m0 0h2m0 0h2m-69 1h2m12 0h2m15 0h2m4 0h2m2 0h2m2 0h2m2 0h2m-1 0h2m-1 0h2m-2 0h2m-2 0h2m2 0h2m0 0h2m5 0h2m-1 0h2m-40 1h2m1 0h2m6 0h2m1 0h2m-2 0h2m26 0h2m-38 1h2m-1 0h2m2 0h2m11 0h2m-1 0h2m-2 0h2m1 0h2m-2 0h2m10 0h2m10 0h2m-29 1h2m11 0h2m-64 1h2m13 0h2m19 0h2m6 0h2m10 0h2m7 0h2m-52 1h2m10 0h2m0 0h2m0 0h2m28 0h2m-35 1h2m5 0h2m6 0h2m2 0h2m-1 0h2m0 0h2m11 0h2m-85 1h2m32 0h2m5 0h2m3 0h2m11 0h2m2 0h2m-1 0h2m9 0h2m-30 1h2m2 0h2m1 0h2m7 0h2m-1 0h2m-41 1h2m6 0h2m2 0h2m8 0h2m-1 0h2m13 0h2m36 0h2m-54 1h2m3 0h2m-1 0h2m-1 0h2m4 0h2m13 0h2m11 0h2m-43 1h2m-9 1h2m2 0h2m0 0h2m8 0h2m7 0h2m-29 1h2m10 0h2m-1 0h2m4 0h2m8 0h2m-40 1h2m10 0h2m12 0h2m9 0h2m-47 1h2m12 0h2m16 0h2m4 0h2m-1 0h2m-2 0h2m-26 1h2m7 0h2m14 0h2m0 0h2m-34 1h2m12 0h2m9 0h2m-47 1h2m34 0h2m0 0h2m2 0h2m2 0h2m-14 1h2m-2 0h2m0 0h2m-5 3h2m9 0h2m2 0h2m-26 1h2m-49 1h2m38 0h2m-8 1h2m14 1h2m33 0h2m-1 0h2m-36 1h2m8 0h2m31 1h2m-85 1h2m29 0h2m9 0h2m-1 1h2m-23 2h2m5 0h2m18 0h2m-60 2h2m39 0h2m13 2h2m-26 1h2m-25 3h2m37 0h2m3 2h2m-23 2h2m-7 2h2m3 0h2" stroke="#000" stroke-opacity="0.28900000000000003" stroke-width="2" transform="scale(.5)"/>
<path d="M267 910h2m-10 7h2m7 1h2m3 0h2m-32 3h2m9 3h2m-13 4h2m15 0h2m0 0h2m-25 2h2m9 2h2m-2 2h2m-7 3h2m0 1h2m-75 1h2m50 4h2m30 0h2m-46 1h2m-8 1h2m28 3h2m7 0h2m-17 1h2m-2 0h2m-12 3h2m19 0h2m-36 1h2m3 1h2m1 0h2m11 0h2m15 0h2m-23 1h2m1 0h2m-15 1h2m1 0h2m6 0h2m6 1h2m-22 1h2m2 0h2m1 0h2m2 0h2m-10 1h2m11 0h2m4 0h2m17 0h2m-31 1h2m-36 1h2m23 0h2m3 0h2m66 0h2m-92 1h2m7 0h2m8 0h2m-27 1h2m18 0h2m29 0h2m-37 1h2m0 0h2m-25 1h2m9 0h2m10 0h2m-13 1h2m15 0h2m-2 0h2m0 0h2m-1 0h2m2 0h2m-26 1h2m10 0h2m-2 0h2m-14 1h2m-2 0h2m-2 0h2m1 0h2m-1 0h2m5 0h2m-2 0h2m3 0h2m6 0h2m30 0h2m-69 1h2m15 0h2m6 0h2m-1 0h2m14 0h2m-38 1h2m0 0h2m1 0h2m0 0h2m3 0h2m0 0h2m-1 0h2m8 0h2m0 0h2m-2 0h2m3 0h2m1 0h2m1 0h2m-54 1h2m0 0h2m17 0h2m3 0h2m3 0h2m2 0h2m0 0h2m21 0h2m-43 1h2m5 0h2m1 0h2m1 0h2m20 0h2m-60 1h2m10 0h2m1 0h2m5 0h2m2 0h2m-2 0h2m2 0h2m0 0h2m-1 0h2m1 0h2m3 0h2m2 0h2m0 0h2m-31 1h2m7 0h2m-1 0h2m2 0h2m1 0h2m-2 0h2m0 0h2m-1 0h2m7 0h2m-66 1h2m31 0h2m0 0h2m1 0h2m1 0h2m6 0h2m5 0h2m-2 0h2m-27 1h2m3 0h2m1 0h2m3 0h2m1 0h2m3 0h2m-1 0h2m10 0h2m-42 1h2m0 0h2m-1 0h2m1 0h2m1 0h2m5 0h2m3 0h2m3 0h2m51 0h2m-81 1h2m0 0h2m-1 0h2m2 0h2m1 0h2m-1 0h2m9 0h2m0 0h2m6 0h2m-36 1h2m-2 0h2m8 0h2m4 0h2m-1 0h2m5 0h2m3 0h2m8 0h2m-44 1h2m2 0h2m13 0h2m-1 0h2m-1 0h2m-2 0h2m0 0h2m2 0h2m-1 0h2m0 0h2m15 0h2m7 0h2m-56 1h2m0 0h2m13 0h2m0 0h2m-1 0h2m-1 0h2m4 0h2m5 0h2m-46 1h2m13 0h2m-2 0h2m7 0h2m-1 0h2m-1 0h2m1 0h2m-1 0h2m-1 0h2m10 0h2m-76 1h2m8 0h2m30 0h2m2 0h2m-2 0h2m11 0h2m13 0h2m-41 1h2m4 0h2m2 0h2m3 0h2m8 0h2m0 0h2m-2 0h2m-1 0h2m-1 0h2m0 0h2m-31 1h2m5 0h2m12 0h2m-2 0h2m6 0h2m-1 0h2m-27 1h2m-1 0h2m2 0h2m2 0h2m2 0h2m4 0h2m21 0h2m16 0h2m-68 1h2m-2 0h2m7 0h2m-2 0h2m3 0h2m0 0h2m-1 0h2m5 0h2m-2 0h2m-1 0h2m5 0h2m12 0h2m-1 0h2m-100 1h2m28 0h2m16 0h2m2 0h2m2 0h2m0 0h2m-1 0h2m-1 0h2m-1 0h2m0 0h2m1 0h2m2 0h2m14 0h2m-1 0h2m-40 1h2m5 0h2m5 0h2m-1 0h2m-1 0h2m-1 0h2m-1 0h2m0 0h2m-2 0h2m2 0h2m2 0h2m2 0h2m-43 1h2m-2 0h2m1 0h2m7 0h2m-1 0h2m4 0h2m1 0h2m1 0h2m0 0h2m-1 0h2m3 0h2m0 0h2m9 0h2m-51 1h2m4 0h2m7 0h2m0 0h2m2 0h2m0 0h2m-1 0h2m-1 0h2m-2 0h2m-2 0h2m4 0h2m1 0h2m2 0h2m3 0h2m8 0h2m-44 1h2m4 0h2m-1 0h2m2 0h2m-1 0h2m0 0h2m0 0h2m1 0h2m-1 0h2m2 0h2m-2 0h2m0 0h2m7 0h2m4 0h2m-43 1h2m0 0h2m9 0h2m1 0h2m-2 0h2m-1 0h2m0 0h2m2 0h2m0 0h2m-1 0h2m-2 0h2m0 0h2m5 0h2m9 0h2m50 0h2m-143 1h2m16 0h2m17 0h2m1 0h2m14 0h2m-1 0h2m1 0h2m0 0h2m4 0h2m13 0h2m-61 1h2m0 0h2m7 0h2m2 0h2m0 0h2m0 0h2m-2 0h2m-1 0h2m4 0h2m0 0h2m1 0h2m-1 0h2m3 0h2m-1 0h2m6 0h2m-2 0h2m8 0h2m-1 0h2m7 0h2m-93 1h2m30 0h2m1 0h2m13 0h2m1 0h2m5 0h2m8 0h2m-49 1h2m6 0h2m-2 0h2m6 0h2m-2 0h2m0 0h2m-1 0h2m-1 0h2m4 0h2m1 0h2m-1 0h2m1 0h2m2 0h2m5 0h2m1 0h2m-53 1h2m8 0h2m11 0h2m0 0h2m0 0h2m-2 0h2m-2 0h2m0 0h2m-2 0h2m2 0h2m-2 0h2m-2 0h2m3 0h2m7 0h2m-1 0h2m1 0h2m-76 1h2m37 0h2m11 0h2m-2 0h2m-1 0h2m-1 0h2m1 0h2m-1 0h2m2 0h2m-2 0h2m6 0h2m0 0h2m-1 0h2m3 0h2m62 0h2m-109 1h2m1 0h2m3 0h2m5 0h2m4 0h2m-2 0h2m2 0h2m4 0h2m-1 0h2m5 0h2m31 0h2m-86 1h2m5 0h2m6 0h2m-1 0h2m2 0h2m3 0h2m0 0h2m-2 0h2m0 0h2m-2 0h2m3 0h2m-1 0h2m-1 0h2m2 0h2m0 0h2m4 0h2m2 0h2m62 0h2m-127 1h2m14 0h2m6 0h2m0 0h2m2 0h2m0 0h2m1 0h2m2 0h2m1 0h2m-1 0h2m1 0h2m6 0h2m1 0h2m0 0h2m-53 1h2m20 0h2m-2 0h2m0 0h2m1 0h2m6 0h2m2 0h2m-2 0h2m1 0h2m1 0h2m0 0h2m-1 0h2m0 0h2m7 0h2m6 0h2m-61 1h2m2 0h2m3 0h2m0 0h2m3 0h2m-2 0h2m-1 0h2m1 0h2m-1 0h2m1 0h2m0 0h2m-2 0h2m0 0h2m0 0h2m-2 0h2m-1 0h2m6 0h2m-44 1h2m-2 0h2m5 0h2m1 0h2m6 0h2m-1 0h2m1 0h2m2 0h2m-2 0h2m6 0h2m-1 0h2m0 0h2m-2 0h2m0 0h2m-40 1h2m-1 0h2m2 0h2m2 0h2m2 0h2m7 0h2m-2 0h2m3 0h2m0 0h2m-1 0h2m0 0h2m13 0h2m7 0h2m-50 1h2m-1 0h2m1 0h2m-2 0h2m0 0h2m-1 0h2m-2 0h2m-2 0h2m0 0h2m5 0h2m-1 0h2m-1 0h2m-2 0h2m-1 0h2m6 0h2m2 0h2m8 0h2m39 0h2m-152 1h2m53 0h2m10 0h2m5 0h2m0 0h2m2 0h2m5 0h2m-1 0h2m-1 0h2m3 0h2m-2 0h2m-2 0h2m-2 0h2m5 0h2m39 0h2m-83 1h2m1 0h2m-1 0h2m6 0h2m-2 0h2m4 0h2m1 0h2m-2 0h2m8 0h2m0 0h2m-2 0h2m-1 0h2m1 0h2m4 0h2m-49 1h2m3 0h2m-1 0h2m5 0h2m-2 0h2m-1 0h2m3 0h2m-1 0h2m4 0h2m0 0h2m-1 0h2m-2 0h2m1 0h2m-2 0h2m13 0h2m-47 1h2m6 0h2m-2 0h2m0 0h2m1 0h2m0 0h2m-2 0h2m0 0h2m16 0h2m-51 1h2m11 0h2m2 0h2m3 0h2m3 0h2m-1 0h2m-1 0h2m-1 0h2m-1 0h2m4 0h2m-1 0h2m-2 0h2m11 0h2m8 0h2m-83 1h2m33 0h2m2 0h2m0 0h2m-1 0h2m0 0h2m-2 0h2m0 0h2m0 0h2m11 0h2m13 0h2m-78 1h2m30 0h2m2 0h2m-1 0h2m1 0h2m-1 0h2m-1 0h2m0 0h2m1 0h2m-1 0h2m3 0h2m7 0h2m11 0h2m-1 0h2m-35 1h2m-1 0h2m-2 0h2m-1 0h2m5 0h2m-1 0h2m1 0h2m5 0h2m3 0h2m1 0h2m30 0h2m-89 1h2m26 0h2m-1 0h2m0 0h2m-1 0h2m0 0h2m1 0h2m1 0h2m0 0h2m-2 0h2m0 0h2m26 0h2m-68 1h2m8 0h2m5 0h2m-1 0h2m-1 0h2m0 0h2m1 0h2m0 0h2m-1 0h2m-1 0h2m1 0h2m9 0h2m-1 0h2m10 0h2m-82 1h2m7 0h2m1 0h2m12 0h2m6 0h2m0 0h2m1 0h2m-2 0h2m1 0h2m1 0h2m-1 0h2m1 0h2m-2 0h2m1 0h2m0 0h2m0 0h2m-1 0h2m13 0h2m0 0h2m-58 1h2m4 0h2m4 0h2m6 0h2m7 0h2m-1 0h2m17 0h2m-2 0h2m2 0h2m1 0h2m-108 1h2m47 0h2m6 0h2m8 0h2m-1 0h2m3 0h2m1 0h2m-2 0h2m2 0h2m-1 0h2m1 0h2m-2 0h2m2 0h2m5 0h2m-2 0h2m0 0h2m5 0h2m1 0h2m-54 1h2m13 0h2m0 0h2m-1 0h2m-1 0h2m0 0h2m-1 0h2m2 0h2m15 0h2m10 0h2m-61 1h2m12 0h2m1 0h2m1 0h2m4 0h2m-2 0h2m-1 0h2m-2 0h2m0 0h2m1 0h2m4 0h2m-2 0h2m6 0h2m10 0h2m-71 1h2m24 0h2m-1 0h2m1 0h2m2 0h2m1 0h2m1 0h2m-1 0h2m5 0h2m-1 0h2m-1 0h2m1 0h2m-1 0h2m50 0h2m1 0h2m-140 1h2m10 0h2m32 0h2m-1 0h2m8 0h2m-2 0h2m2 0h2m-1 0h2m-1 0h2m-2 0h2m3 0h2m-1 0h2m-2 0h2m-1 0h2m0 0h2m1 0h2m-38 1h2m22 0h2m-1 0h2m0 0h2m3 0h2m0 0h2m0 0h2m-38 1h2m11 0h2m3 0h2m3 0h2m7 0h2m1 0h2m39 0h2m-86 1h2m17 0h2m5 0h2m-1 0h2m5 0h2m2 0h2m7 0h2m-29 1h2m3 0h2m-1 0h2m3 0h2m2 0h2m2 0h2m5 0h2m3 0h2m3 0h2m-51 1h2m2 0h2m5 0h2m0 0h2m0 0h2m1 0h2m-1 0h2m-1 0h2m5 0h2m0 0h2m0 0h2m0 0h2m0 0h2m-56 1h2m19 0h2m15 0h2m8 0h2m0 0h2m1 0h2m1 0h2m-50 1h2m10 0h2m3 0h2m0 0h2m4 0h2m2 0h2m-1 0h2m-1 0h2m4 0h2m-1 0h2m3 0h2m-1 0h2m0 0h2m1 0h2m-80 1h2m20 0h2m15 0h2m4 0h2m4 0h2m0 0h2m5 0h2m4 0h2m0 0h2m0 0h2m14 0h2m-54 1h2m10 0h2m5 0h2m5 0h2m-1 0h2m2 0h2m2 0h2m10 0h2m-48 1h2m14 0h2m41 0h2m-60 1h2m2 0h2m-1 0h2m1 0h2m3 0h2m0 0h2m0 0h2m5 0h2m4 0h2m3 0h2m-44 1h2m16 0h2m4 0h2m0 0h2m6 0h2m5 0h2m8 0h2m-42 1h2m12 0h2m15 0h2m7 0h2m-44 1h2m3 0h2m4 0h2m0 0h2m6 0h2m-2 0h2m-2 0h2m3 0h2m2 0h2m10 0h2m-37 1h2m-2 0h2m1 0h2m-2 0h2m0 0h2m-2 0h2m0 0h2m9 0h2m0 0h2m3 0h2m-37 1h2m-1 0h2m-1 0h2m20 0h2m1 0h2m-2 0h2m3 0h2m2 0h2m11 0h2m-1 0h2m-72 1h2m5 0h2m15 0h2m2 0h2m-2 0h2m11 0h2m-31 1h2m20 0h2m1 0h2m-2 0h2m-19 1h2m6 0h2m2 0h2m1 0h2m10 0h2m4 0h2m-80 1h2m13 0h2m27 0h2m5 0h2m0 0h2m0 0h2m14 0h2m-21 1h2m1 0h2m-35 1h2m23 0h2m-34 1h2m7 0h2m7 0h2m5 0h2m8 0h2m-1 0h2m7 0h2m0 0h2m-2 0h2m11 0h2m3 0h2m-31 1h2m7 0h2m-21 1h2m4 0h2m3 0h2m2 0h2m3 0h2m6 0h2m16 0h2m-33 1h2m3 0h2m-1 0h2m4 0h2m-35 1h2m11 0h2m8 0h2m0 0h2m-8 1h2m4 0h2m-2 0h2m0 0h2m-33 1h2m24 0h2m49 0h2m-88 1h2m16 0h2m-4 1h2m4 0h2m2 0h2m2 0h2m7 0h2m-22 1h2m13 0h2m-20 1h2m0 0h2m13 0h2m-18 1h2m-31 1h2m19 0h2m10 0h2m-15 1h2m20 0h2m-14 1h2m12 0h2m-28 1h2m3 0h2m5 0h2m12 1h2m-26 1h2m29 0h2m-38 1h2m19 0h2m3 0h2m-20 2h2m17 0h2m-19 3h2m6 0h2m-19 1h2m28 2h2m-58 1h2m36 0h2m0 2h2m0 0h2m-33 1h2m5 0h2m14 1h2m-13 3h2m15 0h2m-38 3h2m10 4h2m-20 14h2" stroke="#000" stroke-opacity="0.28900000000000003" stroke-width="2" transform="scale(.5)"/>
<text x="31.7" y="445.2" font-size="8.0" text-anchor="end" font-weight="normal" font-style="normal" fill="#262626" stroke="#262626" stroke-width="0.3" >1.0</text>
<text x="30.7" y="503.6" font-size="8.0" text-anchor="end" font-weight="normal" font-style="normal" fill="#262626" stroke="#262626" stroke-width="0.3" >0</text>
<text x="31.7" y="561.2" font-size="8.0" text-anchor="end" font-weight="normal" font-style="normal" fill="#262626" stroke="#262626" stroke-width="0.3" >−1.0</text>
<text x="31.7" y="568.2" font-size="8.0" text-anchor="middle" font-weight="normal" font-style="normal" fill="#262626" stroke="#262626" stroke-width="0.3" >−1.0</text>
<text x="89.85" y="567.4" font-size="8.0" text-anchor="middle" font-weight="normal" font-style="normal" fill="#262626" stroke="#262626" stroke-width="0.3" >0</text>
<text x="148.0" y="567.4" font-size="8.0" text-anchor="middle" font-weight="normal" font-style="normal" fill="#262626" stroke="#262626" stroke-width="0.3" >1.0</text>
<text x="81" y="577" font-size="10" font-style="italic" fill="#222" stroke="#222" stroke-width="0.3">x<tspan font-size="4.8" dy="1.6" font-style="normal">2</tspan><tspan dy="-1.6">/x</tspan><tspan font-size="4.8" dy="1.6" font-style="normal">1</tspan></text>
<text x="90.2" y="589.2" font-size="10" text-anchor="middle" font-weight="normal" font-style="italic" fill="#222" stroke="#222" stroke-width="0.35" >Controls</text>
<text transform="translate(10 501.4) rotate(-90)" font-size="10" text-anchor="middle" font-style="italic" fill="#222" stroke="#222" stroke-width="0.35">Patients</text>
<text transform="translate(21 500.6) rotate(-90)" font-size="10" text-anchor="middle" font-style="italic" fill="#222" stroke="#222" stroke-width="0.3">x<tspan font-size="4.8" dy="1.6" font-style="normal">2</tspan><tspan dy="-1.6">/x</tspan><tspan font-size="4.8" dy="1.6" font-style="normal">1</tspan></text>
<line x1="207.6" y1="283.5" x2="323.3" y2="283.5" stroke="#555" stroke-width="1.1" stroke-dasharray="1.2 1.35"/>
<line x1="323.3" y1="283.5" x2="323.3" y2="399.2" stroke="#555" stroke-width="1.1" stroke-dasharray="1.2 1.35"/>
<line x1="207.6" y1="283.5" x2="207.6" y2="399.2" stroke="#7a7a7a" stroke-width="1.3"/>
<line x1="207.6" y1="399.2" x2="323.3" y2="399.2" stroke="#7a7a7a" stroke-width="1.3"/>
<path d="M208.5 395.8 L209.3 394.0 L210.0 391.6 L210.8 388.5 L211.6 384.6 L212.3 380.6 L213.1 376.2 L213.9 371.6 L214.6 366.4 L215.4 360.8 L216.2 354.9 L217.0 348.7 L217.7 342.3 L218.5 335.8 L219.3 329.3 L220.0 323.1 L220.8 317.0 L221.6 311.4 L222.3 306.9 L223.1 303.6 L223.9 301.2 L224.6 299.7 L225.4 299.1 L226.2 299.5 L226.9 300.6 L227.7 301.7 L228.5 302.8 L229.2 303.9 L230.0 305.0 L230.8 306.2 L231.6 307.3 L232.3 308.5 L233.1 309.6 L233.9 310.8 L234.6 311.9 L235.4 313.1 L236.2 314.2 L236.9 315.4 L237.7 316.6 L238.5 317.8 L239.2 319.0 L240.0 320.4 L240.8 321.8 L241.5 323.2 L242.3 324.7 L243.1 326.3 L243.8 327.9 L244.6 329.5 L245.4 331.1 L246.2 332.6 L246.9 334.2 L247.7 335.8 L248.5 337.4 L249.2 338.9 L250.0 340.5 L250.8 342.1 L251.5 343.7 L252.3 345.3 L253.1 346.8 L253.8 348.3 L254.6 349.7 L255.4 351.0 L256.1 352.3 L256.9 353.4 L257.7 354.6 L258.4 355.6 L259.2 356.7 L260.0 357.8 L260.8 358.8 L261.5 359.8 L262.3 360.7 L263.1 361.6 L263.8 362.4 L264.6 363.2 L265.4 364.0 L266.1 364.7 L266.9 365.5 L267.7 366.3 L268.4 367.0 L269.2 367.8 L270.0 368.6 L270.7 369.3 L271.5 370.1 L272.3 370.8 L273.1 371.6 L273.8 372.3 L274.6 373.0 L275.4 373.6 L276.1 374.3 L276.9 375.0 L277.7 375.6 L278.4 376.3 L279.2 376.9 L280.0 377.6 L280.7 378.3 L281.5 378.9 L282.3 379.5 L283.0 380.1 L283.8 380.7 L284.6 381.3 L285.3 381.8 L286.1 382.4 L286.9 382.9 L287.7 383.5 L288.4 384.0 L289.2 384.5 L290.0 385.1 L290.7 385.6 L291.5 386.1 L292.3 386.7 L293.0 387.2 L293.8 387.8 L294.6 388.3 L295.3 388.8 L296.1 389.3 L296.9 389.8 L297.6 390.2 L298.4 390.6 L299.2 391.0 L299.9 391.3 L300.7 391.7 L301.5 392.0 L302.3 392.4 L303.0 392.7 L303.8 393.1 L304.6 393.4 L305.3 393.7 L306.1 394.1 L306.9 394.4 L307.6 394.8 L308.4 395.1 L309.2 395.5 L309.9 395.8 L310.7 396.0 L311.5 396.3 L312.2 396.5 L313.0 396.7 L313.8 396.8 L314.5 397.0 L315.3 397.1 L316.1 397.3 L316.9 397.4 L317.6 397.5 L318.4 397.7 L319.2 397.8 L319.9 398.0 L320.7 398.1 L321.5 398.3 L322.2 398.4 L323.0 398.5" fill="none" stroke="#7a9896" stroke-width="1.3" stroke-linejoin="round" stroke-opacity="1" stroke-dasharray="1.6 1.7"/>
<path d="M210.6 396.2 L211.4 394.4 L212.1 392.1 L212.9 389.3 L213.6 385.7 L214.4 382.0 L215.1 378.2 L215.9 374.1 L216.6 369.7 L217.4 365.2 L218.1 360.5 L218.9 355.8 L219.7 351.3 L220.4 347.0 L221.2 342.8 L221.9 339.3 L222.7 336.7 L223.4 334.9 L224.2 333.8 L224.9 333.3 L225.7 333.4 L226.4 334.0 L227.2 334.9 L228.0 335.7 L228.7 336.6 L229.5 337.5 L230.2 338.4 L231.0 339.3 L231.7 340.2 L232.5 341.1 L233.2 342.1 L234.0 343.0 L234.7 344.0 L235.5 345.0 L236.2 345.9 L237.0 346.9 L237.8 347.8 L238.5 348.8 L239.3 349.7 L240.0 350.7 L240.8 351.6 L241.5 352.6 L242.3 353.6 L243.0 354.5 L243.8 355.5 L244.5 356.6 L245.3 357.7 L246.1 358.8 L246.8 360.0 L247.6 361.2 L248.3 362.4 L249.1 363.6 L249.8 364.8 L250.6 366.0 L251.3 367.3 L252.1 368.5 L252.8 369.7 L253.6 370.8 L254.4 371.8 L255.1 372.8 L255.9 373.6 L256.6 374.4 L257.4 375.1 L258.1 375.7 L258.9 376.3 L259.6 376.9 L260.4 377.5 L261.1 378.1 L261.9 378.8 L262.7 379.4 L263.4 380.0 L264.2 380.7 L264.9 381.3 L265.7 382.0 L266.4 382.7 L267.2 383.3 L267.9 384.0 L268.7 384.7 L269.4 385.3 L270.2 386.0 L270.9 386.6 L271.7 387.3 L272.5 387.9 L273.2 388.6 L274.0 389.2 L274.7 389.8 L275.5 390.4 L276.2 391.0 L277.0 391.6 L277.7 392.2 L278.5 392.8 L279.2 393.4 L280.0 393.9 L280.8 394.5 L281.5 395.1 L282.3 395.5 L283.0 395.9 L283.8 396.3 L284.5 396.5 L285.3 396.7 L286.0 396.9 L286.8 397.0 L287.5 397.2 L288.3 397.3 L289.1 397.5 L289.8 397.6 L290.6 397.8 L291.3 397.9 L292.1 398.0 L292.8 398.2 L293.6 398.3 L294.3 398.5 L295.1 398.6 L295.8 398.7 L296.6 398.8 L297.4 398.9 L298.1 399.0 L298.9 399.0 L299.6 399.0 L300.4 399.0 L301.1 399.0 L301.9 399.0 L302.6 399.0 L303.4 399.0 L304.1 399.0 L304.9 399.0 L305.6 399.0 L306.4 399.0 L307.2 399.0 L307.9 399.0 L308.7 399.0 L309.4 399.0 L310.2 399.0 L310.9 399.0 L311.7 399.0 L312.4 399.0 L313.2 399.0 L313.9 399.0 L314.7 399.0 L315.5 399.0 L316.2 399.0 L317.0 399.0 L317.7 399.0 L318.5 399.0 L319.2 399.0 L320.0 399.0 L320.7 399.0 L321.5 399.0 L322.2 399.0 L323.0 399.0" fill="none" stroke="#7a9896" stroke-width="1.3" stroke-linejoin="round" stroke-opacity="1" stroke-dasharray="1.6 1.7"/>
<path d="M208.7 398.5 L209.6 392.9 L210.5 386.6 L211.4 379.2 L212.3 372.1 L213.2 362.1 L214.1 351.2 L215.0 348.8 L215.9 346.0 L216.8 343.5 L217.7 336.1 L218.6 327.6 L219.5 322.9 L220.4 324.7 L221.3 321.6 L222.2 316.7 L223.1 308.8 L224.0 310.2 L224.9 311.3 L225.8 313.4 L226.7 312.1 L227.6 310.8 L228.5 316.6 L229.4 319.0 L230.3 315.4 L231.2 319.3 L232.1 324.7 L233.0 326.7 L233.9 336.5 L234.8 345.3 L235.7 347.9 L236.6 341.8 L237.5 341.6 L238.4 343.9 L239.3 342.5 L240.2 343.8 L241.1 343.4 L242.0 343.0 L242.9 348.2 L243.8 351.8 L244.7 351.5 L245.6 351.3 L246.5 351.2 L247.4 349.1 L248.3 350.7 L249.2 354.2 L250.1 357.3 L251.0 359.8 L251.9 363.8 L252.8 365.0 L253.7 365.2 L254.6 364.8 L255.5 367.4 L256.4 366.4 L257.3 368.4 L258.2 366.5 L259.1 369.1 L260.0 368.3 L260.9 367.2 L261.8 368.6 L262.7 368.6 L263.6 368.2 L264.5 366.2 L265.4 365.5 L266.3 366.5 L267.2 366.2 L268.1 367.4 L269.0 368.5 L269.9 369.0 L270.8 374.2 L271.7 378.2 L272.6 377.9 L273.5 378.3 L274.4 380.7 L275.3 381.8 L276.2 384.2 L277.1 384.9 L278.0 385.6 L278.9 388.1 L279.8 389.3 L280.7 391.6 L281.6 391.2 L282.5 389.7 L283.4 389.6 L284.3 390.6 L285.2 391.5 L286.1 391.9 L287.0 393.5 L287.9 394.9 L288.8 395.9 L289.7 396.3 L290.6 396.2 L291.5 396.3 L292.4 396.4 L293.3 397.3 L294.2 396.0 L295.1 397.2 L296.0 397.5 L296.9 397.1 L297.8 398.0 L298.7 397.9 L299.6 398.7 L300.5 398.5 L301.4 398.9 L302.3 398.9 L303.2 398.9 L304.1 398.8 L305.0 398.6 L305.9 398.9 L306.8 398.9 L307.7 398.9 L308.6 398.9 L309.5 398.9 L310.4 398.9 L311.3 398.9 L312.2 398.9 L313.1 398.9 L314.0 398.9 L314.9 398.9 L315.8 398.9 L316.7 398.9 L317.6 398.8 L318.5 398.5 L319.4 398.9 L320.3 398.9 L321.2 398.9 L322.1 398.9" fill="none" stroke="#29298a" stroke-width="1.5" stroke-linejoin="round" stroke-opacity="1"/>
<path d="M208.7 398.5 L209.6 396.8 L210.5 395.5 L211.4 393.1 L212.3 394.1 L213.2 389.4 L214.1 382.8 L215.0 378.4 L215.9 372.5 L216.8 366.8 L217.7 364.2 L218.6 356.3 L219.5 348.4 L220.4 339.8 L221.3 333.9 L222.2 325.0 L223.1 317.8 L224.0 306.3 L224.9 300.3 L225.8 296.5 L226.7 303.5 L227.6 305.9 L228.5 309.3 L229.4 309.1 L230.3 306.2 L231.2 309.3 L232.1 316.7 L233.0 315.1 L233.9 319.5 L234.8 324.4 L235.7 332.5 L236.6 335.6 L237.5 341.2 L238.4 341.9 L239.3 341.6 L240.2 342.1 L241.1 341.9 L242.0 344.2 L242.9 342.1 L243.8 344.0 L244.7 345.9 L245.6 349.2 L246.5 347.0 L247.4 348.0 L248.3 350.2 L249.2 353.8 L250.1 353.5 L251.0 356.5 L251.9 353.1 L252.8 358.0 L253.7 358.6 L254.6 355.3 L255.5 358.9 L256.4 363.1 L257.3 364.7 L258.2 367.2 L259.1 368.3 L260.0 365.4 L260.9 365.4 L261.8 367.5 L262.7 371.8 L263.6 371.6 L264.5 365.3 L265.4 367.5 L266.3 374.1 L267.2 374.1 L268.1 375.5 L269.0 376.5 L269.9 380.8 L270.8 380.7 L271.7 382.8 L272.6 381.6 L273.5 380.9 L274.4 382.0 L275.3 381.5 L276.2 380.8 L277.1 382.5 L278.0 386.0 L278.9 386.2 L279.8 387.1 L280.7 387.5 L281.6 388.1 L282.5 390.1 L283.4 390.1 L284.3 389.9 L285.2 390.6 L286.1 390.4 L287.0 391.5 L287.9 392.3 L288.8 391.4 L289.7 393.1 L290.6 392.1 L291.5 392.9 L292.4 392.7 L293.3 393.4 L294.2 393.9 L295.1 393.9 L296.0 394.1 L296.9 394.5 L297.8 394.7 L298.7 394.6 L299.6 395.5 L300.5 396.1 L301.4 396.7 L302.3 396.8 L303.2 397.9 L304.1 397.2 L305.0 397.0 L305.9 398.2 L306.8 397.1 L307.7 398.1 L308.6 397.5 L309.5 398.2 L310.4 397.5 L311.3 398.8 L312.2 398.4 L313.1 398.2 L314.0 398.9 L314.9 398.9 L315.8 398.7 L316.7 398.5 L317.6 398.8 L318.5 398.8 L319.4 398.9 L320.3 398.9 L321.2 398.8 L322.1 398.9" fill="none" stroke="#992222" stroke-width="1.5" stroke-linejoin="round" stroke-opacity="1"/>
<text x="305.8" y="292.9" font-size="7.3" text-anchor="end" font-weight="normal" font-style="normal" fill="#222" stroke="#222" stroke-width="0.25" >Median ± 95% CI</text>
<text x="305.8" y="307.7" font-size="7.3" text-anchor="end" font-weight="normal" font-style="normal" fill="#222" stroke="#222" stroke-width="0.25" >Controls</text>
<text x="305.8" y="318.9" font-size="7.3" text-anchor="end" font-weight="normal" font-style="normal" fill="#222" stroke="#222" stroke-width="0.25" >Patients</text>
<line x1="308" y1="286.3" x2="322.5" y2="286.3" stroke="#6f8e8e" stroke-width="1.3" stroke-dasharray="1.6 2.6"/>
<line x1="308" y1="295.5" x2="322.5" y2="295.5" stroke="#6f8e8e" stroke-width="1.3" stroke-dasharray="1.6 2.6"/>
<line x1="308" y1="291.1" x2="322.5" y2="291.1" stroke="#6f8e8e" stroke-width="1.4" stroke-dasharray="2.8 1.6"/>
<line x1="307.5" y1="305.5" x2="322.5" y2="305.5" stroke="#29298a" stroke-width="1.6"/>
<line x1="307.5" y1="316.5" x2="322.5" y2="316.5" stroke="#992222" stroke-width="1.6"/>
<text x="207.6" y="407.2" font-size="8.0" text-anchor="middle" font-weight="normal" font-style="normal" fill="#262626" stroke="#262626" stroke-width="0.3" >0.0</text>
<text x="323.3" y="407.8" font-size="8.0" text-anchor="middle" font-weight="normal" font-style="normal" fill="#262626" stroke="#262626" stroke-width="0.3" >1.0</text>
<text x="261.5" y="418" font-size="10" font-style="italic" fill="#222" stroke="#222" stroke-width="0.3">x<tspan font-size="4.8" dy="1.6" font-style="normal">1</tspan></text>
<text transform="translate(197 341.4) rotate(-90)" font-size="10" text-anchor="middle" fill="#222" stroke="#222" stroke-width="0.3">pdf ( <tspan font-style="italic">x</tspan><tspan font-size="4.8" dy="1.6">1</tspan><tspan dy="-1.6"> )</tspan></text>
<line x1="207.6" y1="443.0" x2="323.3" y2="443.0" stroke="#555" stroke-width="1.1" stroke-dasharray="1.2 1.35"/>
<line x1="323.3" y1="443.0" x2="323.3" y2="559.2" stroke="#555" stroke-width="1.1" stroke-dasharray="1.2 1.35"/>
<line x1="207.6" y1="443.0" x2="207.6" y2="559.2" stroke="#555" stroke-width="1.1" stroke-dasharray="1.2 1.35"/>
<line x1="207.6" y1="559.2" x2="323.3" y2="559.2" stroke="#7a7a7a" stroke-width="1.3"/>
<line x1="265.45" y1="443.0" x2="265.45" y2="559.2" stroke="#7a7a7a" stroke-width="1.2"/>
<path d="M207.6 558.4 L208.1 558.4 L208.6 558.4 L209.1 558.4 L209.5 558.3 L210.0 558.3 L210.5 558.3 L211.0 558.3 L211.5 558.3 L212.0 558.3 L212.4 558.3 L212.9 558.3 L213.4 558.2 L213.9 558.2 L214.4 558.2 L214.9 558.2 L215.3 558.2 L215.8 558.2 L216.3 558.2 L216.8 558.1 L217.3 558.1 L217.8 558.1 L218.3 558.1 L218.7 558.1 L219.2 558.1 L219.7 558.1 L220.2 558.1 L220.7 558.0 L221.2 558.0 L221.6 558.0 L222.1 557.9 L222.6 557.8 L223.1 557.6 L223.6 557.4 L224.1 557.2 L224.5 557.0 L225.0 556.8 L225.5 556.6 L226.0 556.4 L226.5 556.2 L227.0 556.0 L227.4 555.8 L227.9 555.6 L228.4 555.4 L228.9 555.2 L229.4 555.0 L229.9 554.8 L230.4 554.6 L230.8 554.3 L231.3 553.8 L231.8 553.2 L232.3 552.5 L232.8 551.9 L233.3 551.2 L233.7 550.6 L234.2 549.9 L234.7 549.3 L235.2 548.6 L235.7 548.0 L236.2 547.3 L236.6 546.5 L237.1 545.4 L237.6 544.2 L238.1 542.9 L238.6 541.6 L239.1 540.3 L239.6 539.1 L240.0 537.8 L240.5 536.5 L241.0 535.2 L241.5 533.9 L242.0 532.7 L242.5 531.2 L242.9 529.4 L243.4 527.3 L243.9 525.1 L244.4 522.9 L244.9 520.7 L245.4 518.5 L245.8 516.4 L246.3 514.1 L246.8 511.7 L247.3 509.1 L247.8 506.5 L248.3 503.8 L248.7 501.2 L249.2 498.6 L249.7 496.0 L250.2 493.4 L250.7 490.8 L251.2 488.2 L251.7 485.6 L252.1 483.1 L252.6 480.9 L253.1 479.0 L253.6 477.1 L254.1 475.2 L254.6 473.3 L255.0 471.4 L255.5 469.5 L256.0 467.8 L256.5 466.3 L257.0 465.1 L257.5 464.1 L257.9 463.1 L258.4 462.2 L258.9 461.2 L259.4 460.2 L259.9 459.2 L260.4 458.2 L260.9 457.3 L261.3 456.7 L261.8 456.4 L262.3 456.1 L262.8 455.9 L263.3 455.7 L263.8 455.5 L264.2 455.3 L264.7 455.0 L265.2 454.9 L265.7 454.9 L266.2 455.0 L266.7 455.3 L267.1 455.5 L267.6 455.7 L268.1 455.9 L268.6 456.1 L269.1 456.4 L269.6 456.7 L270.0 457.3 L270.5 458.2 L271.0 459.2 L271.5 460.2 L272.0 461.2 L272.5 462.2 L273.0 463.1 L273.4 464.1 L273.9 465.1 L274.4 466.3 L274.9 467.8 L275.4 469.5 L275.9 471.4 L276.3 473.3 L276.8 475.2 L277.3 477.1 L277.8 479.0 L278.3 480.9 L278.8 483.1 L279.2 485.6 L279.7 488.2 L280.2 490.8 L280.7 493.4 L281.2 496.0 L281.7 498.6 L282.2 501.2 L282.6 503.8 L283.1 506.5 L283.6 509.1 L284.1 511.7 L284.6 514.1 L285.1 516.4 L285.5 518.5 L286.0 520.7 L286.5 522.9 L287.0 525.1 L287.5 527.3 L288.0 529.4 L288.4 531.2 L288.9 532.7 L289.4 533.9 L289.9 535.2 L290.4 536.5 L290.9 537.8 L291.3 539.1 L291.8 540.3 L292.3 541.6 L292.8 542.9 L293.3 544.2 L293.8 545.4 L294.3 546.5 L294.7 547.3 L295.2 548.0 L295.7 548.6 L296.2 549.3 L296.7 549.9 L297.2 550.6 L297.6 551.2 L298.1 551.9 L298.6 552.5 L299.1 553.2 L299.6 553.8 L300.1 554.3 L300.5 554.6 L301.0 554.8 L301.5 555.0 L302.0 555.2 L302.5 555.4 L303.0 555.6 L303.5 555.8 L303.9 556.0 L304.4 556.2 L304.9 556.4 L305.4 556.6 L305.9 556.8 L306.4 557.0 L306.8 557.2 L307.3 557.4 L307.8 557.6 L308.3 557.8 L308.8 557.9 L309.3 558.0 L309.7 558.0 L310.2 558.0 L310.7 558.1 L311.2 558.1 L311.7 558.1 L312.2 558.1 L312.6 558.1 L313.1 558.1 L313.6 558.1 L314.1 558.1 L314.6 558.2 L315.1 558.2 L315.6 558.2 L316.0 558.2 L316.5 558.2 L317.0 558.2 L317.5 558.2 L318.0 558.3 L318.5 558.3 L318.9 558.3 L319.4 558.3 L319.9 558.3 L320.4 558.3 L320.9 558.3 L321.4 558.3 L321.8 558.4 L322.3 558.4 L322.8 558.4 L323.3 558.4" fill="none" stroke="#7a9896" stroke-width="1.3" stroke-linejoin="round" stroke-opacity="1" stroke-dasharray="1.6 1.7"/>
<path d="M207.6 558.8 L208.1 558.8 L208.6 558.8 L209.1 558.8 L209.5 558.8 L210.0 558.8 L210.5 558.8 L211.0 558.8 L211.5 558.8 L212.0 558.8 L212.4 558.8 L212.9 558.8 L213.4 558.8 L213.9 558.8 L214.4 558.8 L214.9 558.7 L215.3 558.7 L215.8 558.7 L216.3 558.7 L216.8 558.7 L217.3 558.7 L217.8 558.7 L218.3 558.7 L218.7 558.7 L219.2 558.7 L219.7 558.7 L220.2 558.7 L220.7 558.7 L221.2 558.7 L221.6 558.7 L222.1 558.7 L222.6 558.7 L223.1 558.7 L223.6 558.7 L224.1 558.7 L224.5 558.7 L225.0 558.7 L225.5 558.7 L226.0 558.7 L226.5 558.7 L227.0 558.7 L227.4 558.7 L227.9 558.7 L228.4 558.7 L228.9 558.6 L229.4 558.6 L229.9 558.6 L230.4 558.6 L230.8 558.6 L231.3 558.6 L231.8 558.6 L232.3 558.6 L232.8 558.6 L233.3 558.6 L233.7 558.6 L234.2 558.6 L234.7 558.6 L235.2 558.6 L235.7 558.6 L236.2 558.4 L236.6 558.2 L237.1 557.9 L237.6 557.6 L238.1 557.3 L238.6 557.0 L239.1 556.6 L239.6 556.3 L240.0 556.0 L240.5 555.7 L241.0 555.4 L241.5 555.1 L242.0 554.8 L242.5 554.2 L242.9 553.3 L243.4 551.9 L243.9 550.5 L244.4 549.0 L244.9 547.6 L245.4 546.1 L245.8 544.7 L246.3 543.1 L246.8 541.4 L247.3 539.5 L247.8 537.5 L248.3 535.6 L248.7 533.6 L249.2 531.7 L249.7 529.8 L250.2 527.8 L250.7 525.9 L251.2 523.9 L251.7 522.0 L252.1 520.1 L252.6 518.1 L253.1 516.2 L253.6 514.2 L254.1 512.4 L254.6 510.7 L255.0 509.2 L255.5 507.7 L256.0 506.3 L256.5 504.8 L257.0 503.4 L257.5 501.9 L257.9 500.6 L258.4 499.5 L258.9 498.6 L259.4 497.9 L259.9 497.2 L260.4 496.4 L260.9 495.7 L261.3 495.0 L261.8 494.3 L262.3 493.9 L262.8 493.6 L263.3 493.5 L263.8 493.3 L264.2 493.2 L264.7 493.0 L265.2 492.9 L265.7 492.9 L266.2 493.0 L266.7 493.2 L267.1 493.3 L267.6 493.5 L268.1 493.6 L268.6 493.9 L269.1 494.3 L269.6 495.0 L270.0 495.7 L270.5 496.4 L271.0 497.2 L271.5 497.9 L272.0 498.6 L272.5 499.5 L273.0 500.6 L273.4 501.9 L273.9 503.4 L274.4 504.8 L274.9 506.3 L275.4 507.7 L275.9 509.2 L276.3 510.7 L276.8 512.4 L277.3 514.2 L277.8 516.2 L278.3 518.1 L278.8 520.1 L279.2 522.0 L279.7 523.9 L280.2 525.9 L280.7 527.8 L281.2 529.8 L281.7 531.7 L282.2 533.6 L282.6 535.6 L283.1 537.5 L283.6 539.5 L284.1 541.4 L284.6 543.1 L285.1 544.7 L285.5 546.1 L286.0 547.6 L286.5 549.0 L287.0 550.5 L287.5 551.9 L288.0 553.3 L288.4 554.2 L288.9 554.8 L289.4 555.1 L289.9 555.4 L290.4 555.7 L290.9 556.0 L291.3 556.3 L291.8 556.6 L292.3 557.0 L292.8 557.3 L293.3 557.6 L293.8 557.9 L294.3 558.2 L294.7 558.4 L295.2 558.6 L295.7 558.6 L296.2 558.6 L296.7 558.6 L297.2 558.6 L297.6 558.6 L298.1 558.6 L298.6 558.6 L299.1 558.6 L299.6 558.6 L300.1 558.6 L300.5 558.6 L301.0 558.6 L301.5 558.6 L302.0 558.6 L302.5 558.7 L303.0 558.7 L303.5 558.7 L303.9 558.7 L304.4 558.7 L304.9 558.7 L305.4 558.7 L305.9 558.7 L306.4 558.7 L306.8 558.7 L307.3 558.7 L307.8 558.7 L308.3 558.7 L308.8 558.7 L309.3 558.7 L309.7 558.7 L310.2 558.7 L310.7 558.7 L311.2 558.7 L311.7 558.7 L312.2 558.7 L312.6 558.7 L313.1 558.7 L313.6 558.7 L314.1 558.7 L314.6 558.7 L315.1 558.7 L315.6 558.7 L316.0 558.7 L316.5 558.8 L317.0 558.8 L317.5 558.8 L318.0 558.8 L318.5 558.8 L318.9 558.8 L319.4 558.8 L319.9 558.8 L320.4 558.8 L320.9 558.8 L321.4 558.8 L321.8 558.8 L322.3 558.8 L322.8 558.8 L323.3 558.8" fill="none" stroke="#7a9896" stroke-width="1.3" stroke-linejoin="round" stroke-opacity="1" stroke-dasharray="1.6 1.7"/>
<path d="M207.6 557.4 L208.5 555.3 L209.4 556.5 L210.3 555.9 L211.2 555.9 L212.1 555.9 L213.0 555.2 L213.9 556.2 L214.8 556.0 L215.7 557.9 L216.6 556.7 L217.5 556.6 L218.4 556.6 L219.3 556.2 L220.2 555.9 L221.1 556.0 L222.0 556.2 L222.9 555.6 L223.8 556.0 L224.7 555.5 L225.6 555.7 L226.5 556.5 L227.4 556.1 L228.3 555.7 L229.2 555.9 L230.1 556.3 L231.0 556.7 L231.9 555.5 L232.8 555.2 L233.7 555.6 L234.6 554.4 L235.5 554.5 L236.4 554.7 L237.3 554.1 L238.2 553.3 L239.1 553.1 L240.0 550.6 L240.9 552.3 L241.8 550.3 L242.7 546.8 L243.6 545.3 L244.5 542.7 L245.4 538.9 L246.3 534.8 L247.2 532.2 L248.1 528.5 L249.0 526.5 L249.9 521.9 L250.8 516.7 L251.7 513.4 L252.6 507.2 L253.5 501.7 L254.4 499.6 L255.3 495.4 L256.2 489.9 L257.1 484.3 L258.0 481.0 L258.9 471.6 L259.8 478.3 L260.7 482.3 L261.6 478.4 L262.5 474.7 L263.4 468.3 L264.3 470.5 L265.2 465.0 L266.1 468.2 L267.0 472.2 L267.9 474.1 L268.8 469.4 L269.7 473.1 L270.6 479.7 L271.5 485.6 L272.4 493.9 L273.3 492.8 L274.2 498.1 L275.1 498.7 L276.0 504.0 L276.9 503.8 L277.8 505.1 L278.7 505.1 L279.6 513.2 L280.5 515.5 L281.4 519.1 L282.3 523.1 L283.2 525.2 L284.1 526.8 L285.0 529.4 L285.9 532.1 L286.8 536.6 L287.7 535.8 L288.6 538.4 L289.5 540.4 L290.4 542.7 L291.3 544.7 L292.2 545.2 L293.1 546.7 L294.0 549.7 L294.9 551.5 L295.8 551.8 L296.7 552.1 L297.6 552.4 L298.5 553.3 L299.4 553.7 L300.3 554.6 L301.2 553.9 L302.1 554.5 L303.0 554.4 L303.9 555.5 L304.8 556.1 L305.7 557.8 L306.6 557.6 L307.5 557.6 L308.4 556.1 L309.3 556.7 L310.2 556.6 L311.1 557.1 L312.0 555.8 L312.9 557.4 L313.8 557.4 L314.7 556.4 L315.6 556.6 L316.5 556.8 L317.4 557.2 L318.3 557.5 L319.2 558.1 L320.1 557.2 L321.0 557.7 L321.9 557.5 L322.8 558.2" fill="none" stroke="#29298a" stroke-width="1.5" stroke-linejoin="round" stroke-opacity="1"/>
<path d="M207.6 557.2 L208.5 557.5 L209.4 558.2 L210.3 557.9 L211.2 557.0 L212.1 557.7 L213.0 557.5 L213.9 557.8 L214.8 557.2 L215.7 557.8 L216.6 557.8 L217.5 558.2 L218.4 557.6 L219.3 557.6 L220.2 556.8 L221.1 558.2 L222.0 556.4 L222.9 557.6 L223.8 557.0 L224.7 556.8 L225.6 556.9 L226.5 556.9 L227.4 557.3 L228.3 557.1 L229.2 557.7 L230.1 556.3 L231.0 556.8 L231.9 556.1 L232.8 556.5 L233.7 554.9 L234.6 555.4 L235.5 555.3 L236.4 554.1 L237.3 554.9 L238.2 554.0 L239.1 554.0 L240.0 553.2 L240.9 550.7 L241.8 549.3 L242.7 548.2 L243.6 545.2 L244.5 541.7 L245.4 536.8 L246.3 533.7 L247.2 530.4 L248.1 527.6 L249.0 523.7 L249.9 518.6 L250.8 515.4 L251.7 504.7 L252.6 497.6 L253.5 491.7 L254.4 482.5 L255.3 470.4 L256.2 458.2 L257.1 461.2 L258.0 461.0 L258.9 468.8 L259.8 468.5 L260.7 477.4 L261.6 484.8 L262.5 483.3 L263.4 482.8 L264.3 480.7 L265.2 481.5 L266.1 483.3 L267.0 482.4 L267.9 482.5 L268.8 475.7 L269.7 478.5 L270.6 489.3 L271.5 490.6 L272.4 493.4 L273.3 499.9 L274.2 495.8 L275.1 497.5 L276.0 495.2 L276.9 496.7 L277.8 495.1 L278.7 500.4 L279.6 507.2 L280.5 513.9 L281.4 519.0 L282.3 524.4 L283.2 524.2 L284.1 530.3 L285.0 532.9 L285.9 537.5 L286.8 539.7 L287.7 541.1 L288.6 543.1 L289.5 544.1 L290.4 546.4 L291.3 547.3 L292.2 549.9 L293.1 550.5 L294.0 551.9 L294.9 553.3 L295.8 553.8 L296.7 554.2 L297.6 555.0 L298.5 555.8 L299.4 557.0 L300.3 557.4 L301.2 557.3 L302.1 557.6 L303.0 557.1 L303.9 557.6 L304.8 556.9 L305.7 558.0 L306.6 557.6 L307.5 557.7 L308.4 557.9 L309.3 557.7 L310.2 557.7 L311.1 558.3 L312.0 557.9 L312.9 557.5 L313.8 558.1 L314.7 557.3 L315.6 558.6 L316.5 557.9 L317.4 558.0 L318.3 558.9 L319.2 558.9 L320.1 558.2 L321.0 558.4 L321.9 558.6 L322.8 558.8" fill="none" stroke="#992222" stroke-width="1.5" stroke-linejoin="round" stroke-opacity="1"/>
<text x="305.8" y="452.4" font-size="7.3" text-anchor="end" font-weight="normal" font-style="normal" fill="#222" stroke="#222" stroke-width="0.25" >Median ± 95% CI</text>
<text x="305.8" y="467.2" font-size="7.3" text-anchor="end" font-weight="normal" font-style="normal" fill="#222" stroke="#222" stroke-width="0.25" >Controls</text>
<text x="305.8" y="478.4" font-size="7.3" text-anchor="end" font-weight="normal" font-style="normal" fill="#222" stroke="#222" stroke-width="0.25" >Patients</text>
<line x1="308" y1="445.8" x2="322.5" y2="445.8" stroke="#6f8e8e" stroke-width="1.3" stroke-dasharray="1.6 2.6"/>
<line x1="308" y1="455.0" x2="322.5" y2="455.0" stroke="#6f8e8e" stroke-width="1.3" stroke-dasharray="1.6 2.6"/>
<line x1="308" y1="450.6" x2="322.5" y2="450.6" stroke="#6f8e8e" stroke-width="1.4" stroke-dasharray="2.8 1.6"/>
<line x1="307.5" y1="465.0" x2="322.5" y2="465.0" stroke="#29298a" stroke-width="1.6"/>
<line x1="307.5" y1="476.0" x2="322.5" y2="476.0" stroke="#992222" stroke-width="1.6"/>
<text x="207.6" y="567.6" font-size="8.0" text-anchor="middle" font-weight="normal" font-style="normal" fill="#262626" stroke="#262626" stroke-width="0.3" >−1.0</text>
<text x="266.25" y="566.8" font-size="8.0" text-anchor="middle" font-weight="normal" font-style="normal" fill="#262626" stroke="#262626" stroke-width="0.3" >0.0</text>
<text x="323.3" y="566.8" font-size="8.0" text-anchor="middle" font-weight="normal" font-style="normal" fill="#262626" stroke="#262626" stroke-width="0.3" >1.0</text>
<text x="256.4" y="577.4" font-size="10" font-style="italic" fill="#222" stroke="#222" stroke-width="0.3">x<tspan font-size="4.8" dy="1.6" font-style="normal">2</tspan><tspan dy="-1.6">/x</tspan><tspan font-size="4.8" dy="1.6" font-style="normal">1</tspan></text>
<text transform="translate(197 501.4) rotate(-90)" font-size="10" text-anchor="middle" fill="#222" stroke="#222" stroke-width="0.3">pdf ( <tspan font-style="italic">x</tspan><tspan font-size="4.8" dy="1.6">2</tspan><tspan dy="-1.6" font-style="italic">/x</tspan><tspan font-size="4.8" dy="1.6">1</tspan><tspan dy="-1.6"> )</tspan></text>
<path d="M383.0 387.6 L384.0 386.3 L384.9 385.0 L385.9 383.7 L386.9 382.4 L387.9 381.1 L388.8 379.9 L389.8 378.6 L390.8 377.3 L391.8 376.0 L392.7 374.8 L393.7 373.5 L394.7 372.3 L395.7 371.0 L396.6 369.8 L397.6 368.6 L398.6 367.4 L399.5 366.1 L400.5 364.9 L401.5 363.7 L402.5 362.5 L403.4 361.3 L404.4 360.1 L405.4 359.0 L406.4 357.8 L407.3 356.6 L408.3 355.4 L409.3 354.3 L410.2 353.1 L411.2 352.0 L412.2 350.9 L413.2 349.7 L414.1 348.6 L415.1 347.5 L416.1 346.4 L417.1 345.3 L418.0 344.2 L419.0 343.1 L420.0 342.0 L421.0 340.9 L421.9 339.8 L422.9 338.8 L423.9 337.7 L424.8 336.6 L425.8 335.6 L426.8 334.6 L427.8 333.5 L428.7 332.5 L429.7 331.5 L430.7 330.5 L431.7 329.5 L432.6 328.5 L433.6 327.5 L434.6 326.5 L435.5 325.5 L436.5 324.6 L437.5 323.6 L438.5 322.7 L439.4 321.7 L440.4 320.8 L441.4 319.9 L442.4 318.9 L443.3 318.0 L444.3 317.1 L445.3 316.2 L446.3 315.3 L447.2 314.5 L448.2 313.6 L449.2 312.7 L450.1 311.9 L451.1 311.0 L452.1 310.2 L453.1 309.3 L454.0 308.5 L455.0 307.7 L456.0 306.9 L457.0 306.1 L457.9 305.3 L458.9 304.6 L459.9 303.8 L460.8 303.0 L461.8 302.3 L462.8 301.6 L463.8 300.8 L464.7 300.1 L465.7 299.4 L466.7 298.7 L467.7 298.0 L468.6 297.3 L469.6 296.7 L470.6 296.0 L471.6 295.4 L472.5 294.8 L473.5 294.1 L474.5 293.5 L475.4 292.9 L476.4 292.3 L477.4 291.8 L478.4 291.2 L479.3 290.7 L480.3 290.1 L481.3 289.6 L482.3 289.1 L483.2 288.6 L484.2 288.2 L485.2 287.7 L486.1 287.3 L487.1 286.8 L488.1 286.4 L489.1 286.0 L490.0 285.7 L491.0 285.3 L492.0 285.0 L493.0 284.7 L493.9 284.4 L494.9 284.1 L495.9 283.9 L496.9 283.7 L497.8 283.6 L498.8 283.5" fill="none" stroke="#7a9896" stroke-width="1.3" stroke-linejoin="round" stroke-opacity="1" stroke-dasharray="1.6 1.7"/>
<path d="M383.0 399.2 L384.0 399.1 L384.9 399.0 L385.9 398.9 L386.9 398.7 L387.9 398.5 L388.8 398.3 L389.8 398.0 L390.8 397.7 L391.8 397.4 L392.7 397.1 L393.7 396.8 L394.7 396.4 L395.7 396.0 L396.6 395.6 L397.6 395.2 L398.6 394.7 L399.5 394.3 L400.5 393.8 L401.5 393.3 L402.5 392.8 L403.4 392.2 L404.4 391.7 L405.4 391.1 L406.4 390.6 L407.3 390.0 L408.3 389.4 L409.3 388.7 L410.2 388.1 L411.2 387.5 L412.2 386.8 L413.2 386.1 L414.1 385.4 L415.1 384.7 L416.1 384.0 L417.1 383.3 L418.0 382.5 L419.0 381.8 L420.0 381.0 L421.0 380.2 L421.9 379.4 L422.9 378.6 L423.9 377.8 L424.8 377.0 L425.8 376.1 L426.8 375.3 L427.8 374.4 L428.7 373.5 L429.7 372.6 L430.7 371.7 L431.7 370.8 L432.6 369.9 L433.6 368.9 L434.6 368.0 L435.5 367.0 L436.5 366.1 L437.5 365.1 L438.5 364.1 L439.4 363.1 L440.4 362.1 L441.4 361.0 L442.4 360.0 L443.3 359.0 L444.3 357.9 L445.3 356.8 L446.3 355.8 L447.2 354.7 L448.2 353.6 L449.2 352.5 L450.1 351.3 L451.1 350.2 L452.1 349.1 L453.1 347.9 L454.0 346.8 L455.0 345.6 L456.0 344.4 L457.0 343.2 L457.9 342.0 L458.9 340.8 L459.9 339.6 L460.8 338.4 L461.8 337.2 L462.8 335.9 L463.8 334.7 L464.7 333.4 L465.7 332.1 L466.7 330.8 L467.7 329.5 L468.6 328.2 L469.6 326.9 L470.6 325.6 L471.6 324.3 L472.5 322.9 L473.5 321.6 L474.5 320.2 L475.4 318.9 L476.4 317.5 L477.4 316.1 L478.4 314.7 L479.3 313.3 L480.3 311.9 L481.3 310.5 L482.3 309.1 L483.2 307.6 L484.2 306.2 L485.2 304.7 L486.1 303.3 L487.1 301.8 L488.1 300.3 L489.1 298.8 L490.0 297.3 L491.0 295.8 L492.0 294.3 L493.0 292.8 L493.9 291.3 L494.9 289.7 L495.9 288.2 L496.9 286.6 L497.8 285.1 L498.8 283.5" fill="none" stroke="#7a9896" stroke-width="1.3" stroke-linejoin="round" stroke-opacity="1" stroke-dasharray="1.6 1.7"/>
<line x1="383.0" y1="399.2" x2="498.8" y2="283.5" stroke="#6f8e8e" stroke-width="1.5" stroke-dasharray="2.6 1.4"/>
<path d="M383.0 399.2 L384.0 398.8 L384.9 398.5 L385.9 398.1 L386.9 397.7 L387.9 397.3 L388.8 396.8 L389.8 396.3 L390.8 395.7 L391.8 395.1 L392.7 394.4 L393.7 393.6 L394.7 392.7 L395.7 391.8 L396.6 390.9 L397.6 390.0 L398.6 389.1 L399.5 388.2 L400.5 387.3 L401.5 386.4 L402.5 385.4 L403.4 384.5 L404.4 383.5 L405.4 382.6 L406.4 381.6 L407.3 380.7 L408.3 379.7 L409.3 378.7 L410.2 377.7 L411.2 376.7 L412.2 375.7 L413.2 374.7 L414.1 373.6 L415.1 372.6 L416.1 371.5 L417.1 370.5 L418.0 369.4 L419.0 368.4 L420.0 367.3 L421.0 366.3 L421.9 365.2 L422.9 364.2 L423.9 363.1 L424.8 362.0 L425.8 361.0 L426.8 359.9 L427.8 358.8 L428.7 357.7 L429.7 356.7 L430.7 355.6 L431.7 354.5 L432.6 353.4 L433.6 352.4 L434.6 351.3 L435.5 350.2 L436.5 349.2 L437.5 348.1 L438.5 347.1 L439.4 346.0 L440.4 345.0 L441.4 343.9 L442.4 342.9 L443.3 341.8 L444.3 340.8 L445.3 339.7 L446.3 338.7 L447.2 337.6 L448.2 336.6 L449.2 335.5 L450.1 334.4 L451.1 333.3 L452.1 332.2 L453.1 331.1 L454.0 330.0 L455.0 328.8 L456.0 327.7 L457.0 326.5 L457.9 325.4 L458.9 324.2 L459.9 323.0 L460.8 321.9 L461.8 320.8 L462.8 319.6 L463.8 318.5 L464.7 317.4 L465.7 316.3 L466.7 315.3 L467.7 314.2 L468.6 313.1 L469.6 312.0 L470.6 310.9 L471.6 309.8 L472.5 308.8 L473.5 307.7 L474.5 306.7 L475.4 305.7 L476.4 304.7 L477.4 303.7 L478.4 302.7 L479.3 301.7 L480.3 300.7 L481.3 299.7 L482.3 298.7 L483.2 297.7 L484.2 296.7 L485.2 295.7 L486.1 294.8 L487.1 293.8 L488.1 292.8 L489.1 291.9 L490.0 291.0 L491.0 290.1 L492.0 289.2 L493.0 288.4 L493.9 287.5 L494.9 286.7 L495.9 285.9 L496.9 285.1 L497.8 284.3 L498.8 283.5" fill="none" stroke="#1a1a1a" stroke-width="1.4" stroke-linejoin="round" stroke-opacity="1"/>
<line x1="383.0" y1="283.5" x2="498.8" y2="283.5" stroke="#7a7a7a" stroke-width="1.3"/>
<line x1="498.8" y1="283.5" x2="498.8" y2="399.2" stroke="#7a7a7a" stroke-width="1.3"/>
<line x1="383.0" y1="399.2" x2="498.8" y2="399.2" stroke="#7a7a7a" stroke-width="1.3"/>
<line x1="383.0" y1="283.5" x2="383.0" y2="399.2" stroke="#7a7a7a" stroke-width="1.3"/>
<line x1="385" y1="286.6" x2="399" y2="286.6" stroke="#6f8e8e" stroke-width="1.3" stroke-dasharray="1.6 2.6"/>
<line x1="385" y1="295.0" x2="399" y2="295.0" stroke="#6f8e8e" stroke-width="1.3" stroke-dasharray="1.6 2.6"/>
<line x1="385" y1="290.8" x2="399" y2="290.8" stroke="#6f8e8e" stroke-width="1.4" stroke-dasharray="2.8 1.6"/>
<text x="400.4" y="293.3" font-size="7.3" text-anchor="start" font-weight="normal" font-style="normal" fill="#222" stroke="#222" stroke-width="0.25" >Median ± 95% CI</text>
<text x="382" y="284.7" font-size="8.0" text-anchor="end" font-weight="normal" font-style="normal" fill="#262626" stroke="#262626" stroke-width="0.3" >1</text>
<text x="382" y="401.2" font-size="8.0" text-anchor="end" font-weight="normal" font-style="normal" fill="#262626" stroke="#262626" stroke-width="0.3" >0</text>
<text x="383.0" y="407.2" font-size="8.0" text-anchor="middle" font-weight="normal" font-style="normal" fill="#262626" stroke="#262626" stroke-width="0.3" >0</text>
<text x="498.8" y="407.2" font-size="8.0" text-anchor="middle" font-weight="normal" font-style="normal" fill="#262626" stroke="#262626" stroke-width="0.3" >1</text>
<text x="441" y="429.59999999999997" font-size="10" text-anchor="middle" font-weight="normal" font-style="italic" fill="#222" stroke="#222" stroke-width="0.35" >Controls</text>
<text x="441" y="418.4" font-size="10" text-anchor="middle" fill="#222" stroke="#222" stroke-width="0.3">cdf ( <tspan font-style="italic">x</tspan><tspan font-size="4.8" dy="1.6">1</tspan><tspan dy="-1.6"> )</tspan></text><text transform="translate(361.3 340.4) rotate(-90)" font-size="10" text-anchor="middle" font-style="italic" fill="#222" stroke="#222" stroke-width="0.35">Patients</text><text transform="translate(371.8 340.8) rotate(-90)" font-size="10" text-anchor="middle" fill="#222" stroke="#222" stroke-width="0.3">cdf ( <tspan font-style="italic">x</tspan><tspan font-size="4.8" dy="1.6">1</tspan><tspan dy="-1.6"> )</tspan></text>
<path d="M383.0 549.7 L384.0 548.2 L384.9 546.7 L385.9 545.2 L386.9 543.7 L387.9 542.2 L388.8 540.7 L389.8 539.3 L390.8 537.8 L391.8 536.4 L392.7 534.9 L393.7 533.5 L394.7 532.1 L395.7 530.7 L396.6 529.3 L397.6 527.9 L398.6 526.5 L399.5 525.1 L400.5 523.8 L401.5 522.4 L402.5 521.1 L403.4 519.7 L404.4 518.4 L405.4 517.1 L406.4 515.8 L407.3 514.5 L408.3 513.2 L409.3 511.9 L410.2 510.6 L411.2 509.4 L412.2 508.1 L413.2 506.9 L414.1 505.7 L415.1 504.4 L416.1 503.2 L417.1 502.0 L418.0 500.8 L419.0 499.7 L420.0 498.5 L421.0 497.3 L421.9 496.2 L422.9 495.0 L423.9 493.9 L424.8 492.8 L425.8 491.7 L426.8 490.6 L427.8 489.5 L428.7 488.4 L429.7 487.4 L430.7 486.3 L431.7 485.3 L432.6 484.2 L433.6 483.2 L434.6 482.2 L435.5 481.2 L436.5 480.2 L437.5 479.2 L438.5 478.2 L439.4 477.3 L440.4 476.3 L441.4 475.4 L442.4 474.5 L443.3 473.5 L444.3 472.6 L445.3 471.7 L446.3 470.9 L447.2 470.0 L448.2 469.1 L449.2 468.3 L450.1 467.4 L451.1 466.6 L452.1 465.8 L453.1 465.0 L454.0 464.2 L455.0 463.4 L456.0 462.7 L457.0 461.9 L457.9 461.2 L458.9 460.4 L459.9 459.7 L460.8 459.0 L461.8 458.3 L462.8 457.6 L463.8 457.0 L464.7 456.3 L465.7 455.7 L466.7 455.1 L467.7 454.4 L468.6 453.8 L469.6 453.3 L470.6 452.7 L471.6 452.1 L472.5 451.6 L473.5 451.0 L474.5 450.5 L475.4 450.0 L476.4 449.5 L477.4 449.1 L478.4 448.6 L479.3 448.1 L480.3 447.7 L481.3 447.3 L482.3 446.9 L483.2 446.5 L484.2 446.2 L485.2 445.8 L486.1 445.5 L487.1 445.2 L488.1 444.9 L489.1 444.6 L490.0 444.3 L491.0 444.1 L492.0 443.9 L493.0 443.7 L493.9 443.5 L494.9 443.3 L495.9 443.2 L496.9 443.1 L497.8 443.0 L498.8 443.0" fill="none" stroke="#7a9896" stroke-width="1.3" stroke-linejoin="round" stroke-opacity="1" stroke-dasharray="1.6 1.7"/>
<path d="M383.0 559.0 L384.0 559.0 L384.9 558.9 L385.9 558.8 L386.9 558.7 L387.9 558.6 L388.8 558.5 L389.8 558.3 L390.8 558.1 L391.8 557.9 L392.7 557.7 L393.7 557.4 L394.7 557.1 L395.7 556.8 L396.6 556.5 L397.6 556.2 L398.6 555.9 L399.5 555.5 L400.5 555.1 L401.5 554.7 L402.5 554.3 L403.4 553.9 L404.4 553.4 L405.4 553.0 L406.4 552.5 L407.3 552.0 L408.3 551.5 L409.3 551.0 L410.2 550.4 L411.2 549.9 L412.2 549.3 L413.2 548.7 L414.1 548.1 L415.1 547.5 L416.1 546.8 L417.1 546.2 L418.0 545.5 L419.0 544.8 L420.0 544.1 L421.0 543.4 L421.9 542.7 L422.9 542.0 L423.9 541.2 L424.8 540.4 L425.8 539.6 L426.8 538.9 L427.8 538.0 L428.7 537.2 L429.7 536.4 L430.7 535.5 L431.7 534.6 L432.6 533.8 L433.6 532.9 L434.6 531.9 L435.5 531.0 L436.5 530.1 L437.5 529.1 L438.5 528.2 L439.4 527.2 L440.4 526.2 L441.4 525.2 L442.4 524.2 L443.3 523.1 L444.3 522.1 L445.3 521.0 L446.3 519.9 L447.2 518.9 L448.2 517.8 L449.2 516.6 L450.1 515.5 L451.1 514.4 L452.1 513.2 L453.1 512.0 L454.0 510.9 L455.0 509.7 L456.0 508.5 L457.0 507.2 L457.9 506.0 L458.9 504.8 L459.9 503.5 L460.8 502.2 L461.8 501.0 L462.8 499.7 L463.8 498.4 L464.7 497.0 L465.7 495.7 L466.7 494.3 L467.7 493.0 L468.6 491.6 L469.6 490.2 L470.6 488.8 L471.6 487.4 L472.5 486.0 L473.5 484.6 L474.5 483.1 L475.4 481.7 L476.4 480.2 L477.4 478.7 L478.4 477.2 L479.3 475.7 L480.3 474.2 L481.3 472.7 L482.3 471.1 L483.2 469.5 L484.2 468.0 L485.2 466.4 L486.1 464.8 L487.1 463.2 L488.1 461.6 L489.1 460.0 L490.0 458.3 L491.0 456.7 L492.0 455.0 L493.0 453.3 L493.9 451.6 L494.9 449.9 L495.9 448.2 L496.9 446.5 L497.8 444.7 L498.8 443.0" fill="none" stroke="#7a9896" stroke-width="1.3" stroke-linejoin="round" stroke-opacity="1" stroke-dasharray="1.6 1.7"/>
<line x1="383.0" y1="559.0" x2="498.8" y2="443.0" stroke="#6f8e8e" stroke-width="1.5" stroke-dasharray="2.6 1.4"/>
<path d="M383.0 559.0 L384.0 558.2 L384.9 557.3 L385.9 556.4 L386.9 555.5 L387.9 554.6 L388.8 553.7 L389.8 552.7 L390.8 551.8 L391.8 550.8 L392.7 549.8 L393.7 548.9 L394.7 547.9 L395.7 546.8 L396.6 545.7 L397.6 544.4 L398.6 543.1 L399.5 541.7 L400.5 540.3 L401.5 538.8 L402.5 537.4 L403.4 536.0 L404.4 534.6 L405.4 533.3 L406.4 532.1 L407.3 530.9 L408.3 529.7 L409.3 528.5 L410.2 527.3 L411.2 526.2 L412.2 525.0 L413.2 523.8 L414.1 522.7 L415.1 521.5 L416.1 520.4 L417.1 519.3 L418.0 518.3 L419.0 517.2 L420.0 516.2 L421.0 515.2 L421.9 514.2 L422.9 513.2 L423.9 512.3 L424.8 511.3 L425.8 510.4 L426.8 509.5 L427.8 508.5 L428.7 507.6 L429.7 506.7 L430.7 505.8 L431.7 504.8 L432.6 503.9 L433.6 503.0 L434.6 502.1 L435.5 501.2 L436.5 500.3 L437.5 499.4 L438.5 498.5 L439.4 497.6 L440.4 496.7 L441.4 495.9 L442.4 495.0 L443.3 494.1 L444.3 493.3 L445.3 492.4 L446.3 491.6 L447.2 490.7 L448.2 489.8 L449.2 489.0 L450.1 488.1 L451.1 487.2 L452.1 486.3 L453.1 485.4 L454.0 484.5 L455.0 483.5 L456.0 482.6 L457.0 481.7 L457.9 480.8 L458.9 479.9 L459.9 478.9 L460.8 478.0 L461.8 477.1 L462.8 476.1 L463.8 475.2 L464.7 474.3 L465.7 473.3 L466.7 472.4 L467.7 471.5 L468.6 470.5 L469.6 469.6 L470.6 468.7 L471.6 467.8 L472.5 466.8 L473.5 465.9 L474.5 465.0 L475.4 464.1 L476.4 463.1 L477.4 462.2 L478.4 461.3 L479.3 460.4 L480.3 459.5 L481.3 458.5 L482.3 457.6 L483.2 456.7 L484.2 455.8 L485.2 454.8 L486.1 453.9 L487.1 453.0 L488.1 452.1 L489.1 451.2 L490.0 450.3 L491.0 449.4 L492.0 448.6 L493.0 447.7 L493.9 446.8 L494.9 446.0 L495.9 445.2 L496.9 444.5 L497.8 443.7 L498.8 443.0" fill="none" stroke="#1a1a1a" stroke-width="1.4" stroke-linejoin="round" stroke-opacity="1"/>
<line x1="383.0" y1="443.0" x2="498.8" y2="443.0" stroke="#7a7a7a" stroke-width="1.3"/>
<line x1="498.8" y1="443.0" x2="498.8" y2="559.0" stroke="#7a7a7a" stroke-width="1.3"/>
<line x1="383.0" y1="559.0" x2="498.8" y2="559.0" stroke="#7a7a7a" stroke-width="1.3"/>
<line x1="383.0" y1="443.0" x2="383.0" y2="559.0" stroke="#7a7a7a" stroke-width="1.3"/>
<line x1="385" y1="446.1" x2="399" y2="446.1" stroke="#6f8e8e" stroke-width="1.3" stroke-dasharray="1.6 2.6"/>
<line x1="385" y1="454.5" x2="399" y2="454.5" stroke="#6f8e8e" stroke-width="1.3" stroke-dasharray="1.6 2.6"/>
<line x1="385" y1="450.3" x2="399" y2="450.3" stroke="#6f8e8e" stroke-width="1.4" stroke-dasharray="2.8 1.6"/>
<text x="400.4" y="452.8" font-size="7.3" text-anchor="start" font-weight="normal" font-style="normal" fill="#222" stroke="#222" stroke-width="0.25" >Median ± 95% CI</text>
<text x="382" y="444.2" font-size="8.0" text-anchor="end" font-weight="normal" font-style="normal" fill="#262626" stroke="#262626" stroke-width="0.3" >1</text>
<text x="382" y="561.0" font-size="8.0" text-anchor="end" font-weight="normal" font-style="normal" fill="#262626" stroke="#262626" stroke-width="0.3" >0</text>
<text x="383.0" y="567.0" font-size="8.0" text-anchor="middle" font-weight="normal" font-style="normal" fill="#262626" stroke="#262626" stroke-width="0.3" >0</text>
<text x="498.8" y="567.0" font-size="8.0" text-anchor="middle" font-weight="normal" font-style="normal" fill="#262626" stroke="#262626" stroke-width="0.3" >1</text>
<text x="441" y="589.4" font-size="10" text-anchor="middle" font-weight="normal" font-style="italic" fill="#222" stroke="#222" stroke-width="0.35" >Controls</text>
<text x="441" y="577.7" font-size="10" text-anchor="middle" fill="#222" stroke="#222" stroke-width="0.3">cdf ( <tspan font-style="italic">x</tspan><tspan font-size="4.8" dy="1.6">2</tspan><tspan dy="-1.6" font-style="italic">/x</tspan><tspan font-size="4.8" dy="1.6">1</tspan><tspan dy="-1.6"> )</tspan></text><text transform="translate(361.5 501) rotate(-90)" font-size="10" text-anchor="middle" font-style="italic" fill="#222" stroke="#222" stroke-width="0.35">Patients</text><text transform="translate(372.5 501.3) rotate(-90)" font-size="10" text-anchor="middle" fill="#222" stroke="#222" stroke-width="0.3">cdf ( <tspan font-style="italic">x</tspan><tspan font-size="4.8" dy="1.6">2</tspan><tspan dy="-1.6" font-style="italic">/x</tspan><tspan font-size="4.8" dy="1.6">1</tspan><tspan dy="-1.6"> )</tspan></text>
<text x="1" y="6.9" font-size="9.4" text-anchor="start" font-weight="bold" font-style="normal" fill="#000" stroke="#000" stroke-width="0.2" >A</text>
<text x="1" y="138.0" font-size="9.4" text-anchor="start" font-weight="bold" font-style="normal" fill="#000" stroke="#000" stroke-width="0.2" >B</text>
<text x="1" y="279.2" font-size="9.4" text-anchor="start" font-weight="bold" font-style="normal" fill="#000" stroke="#000" stroke-width="0.2" >C</text>
<text x="176.5" y="279.4" font-size="9.4" text-anchor="start" font-weight="bold" font-style="normal" fill="#000" stroke="#000" stroke-width="0.2" >D</text>
<text x="351.8" y="279.4" font-size="9.4" text-anchor="start" font-weight="bold" font-style="normal" fill="#000" stroke="#000" stroke-width="0.2" >E</text>
</svg></body></html>
